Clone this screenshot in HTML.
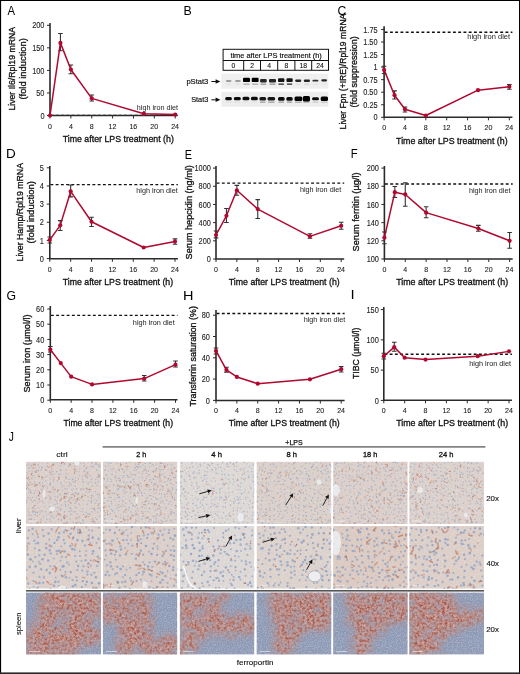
<!DOCTYPE html><html><head><meta charset="utf-8"><style>html,body{margin:0;padding:0;background:#fff;}svg{display:block;will-change:transform;}</style></head><body><svg width="520" height="674" viewBox="0 0 520 674" font-family='"Liberation Sans", sans-serif'>
<rect width="520" height="674" fill="#fff"/>
<defs>
<clipPath id="c00"><rect x="26.0" y="461.6" width="75.10" height="62.40"/></clipPath>
<clipPath id="c10"><rect x="26.0" y="526.0" width="75.10" height="62.70"/></clipPath>
<clipPath id="c20"><rect x="26.0" y="592.4" width="75.10" height="62.20"/></clipPath>
<clipPath id="c01"><rect x="102.8" y="461.6" width="74.50" height="62.40"/></clipPath>
<clipPath id="c11"><rect x="102.8" y="526.0" width="74.50" height="62.70"/></clipPath>
<clipPath id="c21"><rect x="102.8" y="592.4" width="74.50" height="62.20"/></clipPath>
<clipPath id="c02"><rect x="179.8" y="461.6" width="74.60" height="62.40"/></clipPath>
<clipPath id="c12"><rect x="179.8" y="526.0" width="74.60" height="62.70"/></clipPath>
<clipPath id="c22"><rect x="179.8" y="592.4" width="74.60" height="62.20"/></clipPath>
<clipPath id="c03"><rect x="256.5" y="461.6" width="74.90" height="62.40"/></clipPath>
<clipPath id="c13"><rect x="256.5" y="526.0" width="74.90" height="62.70"/></clipPath>
<clipPath id="c23"><rect x="256.5" y="592.4" width="74.90" height="62.20"/></clipPath>
<clipPath id="c04"><rect x="333.1" y="461.6" width="74.60" height="62.40"/></clipPath>
<clipPath id="c14"><rect x="333.1" y="526.0" width="74.60" height="62.70"/></clipPath>
<clipPath id="c24"><rect x="333.1" y="592.4" width="74.60" height="62.20"/></clipPath>
<clipPath id="c05"><rect x="409.2" y="461.6" width="74.80" height="62.40"/></clipPath>
<clipPath id="c15"><rect x="409.2" y="526.0" width="74.80" height="62.70"/></clipPath>
<clipPath id="c25"><rect x="409.2" y="592.4" width="74.80" height="62.20"/></clipPath>
<filter id="lnoise" x="0" y="0" width="1" height="1" filterUnits="objectBoundingBox"><feTurbulence type="fractalNoise" baseFrequency="0.6" numOctaves="2" seed="7"/><feColorMatrix type="matrix" values="0 0 0 0 0.72  0 0 0 0 0.45  0 0 0 0 0.38  1.4 0 0 0 -0.55"/><feComposite in2="SourceGraphic" operator="in"/></filter>
<filter id="lnoise2" x="0" y="0" width="1" height="1" filterUnits="objectBoundingBox"><feTurbulence type="fractalNoise" baseFrequency="0.5" numOctaves="1" seed="11"/><feColorMatrix type="matrix" values="0 0 0 0 1  0 0 0 0 1  0 0 0 0 1  0 1.6 0 0 -0.75"/><feComposite in2="SourceGraphic" operator="in"/></filter>
<filter id="sr0" x="26.0" y="592.4" width="75.10" height="62.20" filterUnits="userSpaceOnUse" color-interpolation-filters="sRGB"><feTurbulence type="fractalNoise" baseFrequency="0.09" numOctaves="2" seed="80" result="dn"/><feDisplacementMap in="SourceAlpha" in2="dn" scale="18" xChannelSelector="R" yChannelSelector="G" result="disp"/><feGaussianBlur in="disp" stdDeviation="4.0" result="m0"/><feTurbulence type="fractalNoise" baseFrequency="0.14" numOctaves="2" seed="90" result="lf"/><feColorMatrix in="lf" type="matrix" values="0 0 0 0 0  0 0 0 0 0  0 0 0 0 0  0 0 1.5 0 0.0" result="lfa"/><feComposite in="m0" in2="lfa" operator="in" result="m"/><feTurbulence type="fractalNoise" baseFrequency="0.4" numOctaves="2" seed="20" result="t"/><feColorMatrix in="t" type="matrix" values="0 0 0 0 0.62  0 0 0 0 0.28  0 0 0 0 0.21  2.6 0 0 0 -1.02" result="tn"/><feComposite in="tn" in2="m" operator="in" result="r"/><feTurbulence type="fractalNoise" baseFrequency="0.3" numOctaves="2" seed="30" result="t3"/><feColorMatrix in="t3" type="matrix" values="0 0 0 0 0.76  0 0 0 0 0.50  0 0 0 0 0.44  2.4 0 0 0 -0.95" result="tn3"/><feComposite in="tn3" in2="m" operator="in" result="r3"/><feTurbulence type="fractalNoise" baseFrequency="0.45" numOctaves="2" seed="40" result="t2"/><feColorMatrix in="t2" type="matrix" values="0 0 0 0 0.88  0 0 0 0 0.84  0 0 0 0 0.86  0 2.2 0 0 -1.25" result="w"/><feComposite in="w" in2="m" operator="in" result="w2"/><feColorMatrix in="m" type="matrix" values="0 0 0 0 0.82  0 0 0 0 0.63  0 0 0 0 0.59  0 0 0 0.85 0" result="base"/><feMerge><feMergeNode in="base"/><feMergeNode in="r3"/><feMergeNode in="r"/><feMergeNode in="w2"/></feMerge></filter>
<filter id="sb0" x="26.0" y="592.4" width="75.10" height="62.20" filterUnits="userSpaceOnUse" color-interpolation-filters="sRGB"><feTurbulence type="fractalNoise" baseFrequency="0.8" numOctaves="2" seed="60" result="t"/><feColorMatrix in="t" type="matrix" values="0 0 0 0 0.70  0 0 0 0 0.72  0 0 0 0 0.80  3.2 0 0 0 -1.25"/></filter>
<filter id="sr1" x="102.8" y="592.4" width="74.50" height="62.20" filterUnits="userSpaceOnUse" color-interpolation-filters="sRGB"><feTurbulence type="fractalNoise" baseFrequency="0.09" numOctaves="2" seed="81" result="dn"/><feDisplacementMap in="SourceAlpha" in2="dn" scale="18" xChannelSelector="R" yChannelSelector="G" result="disp"/><feGaussianBlur in="disp" stdDeviation="4.0" result="m0"/><feTurbulence type="fractalNoise" baseFrequency="0.14" numOctaves="2" seed="91" result="lf"/><feColorMatrix in="lf" type="matrix" values="0 0 0 0 0  0 0 0 0 0  0 0 0 0 0  0 0 1.5 0 0.0" result="lfa"/><feComposite in="m0" in2="lfa" operator="in" result="m"/><feTurbulence type="fractalNoise" baseFrequency="0.4" numOctaves="2" seed="21" result="t"/><feColorMatrix in="t" type="matrix" values="0 0 0 0 0.62  0 0 0 0 0.28  0 0 0 0 0.21  2.6 0 0 0 -1.02" result="tn"/><feComposite in="tn" in2="m" operator="in" result="r"/><feTurbulence type="fractalNoise" baseFrequency="0.3" numOctaves="2" seed="31" result="t3"/><feColorMatrix in="t3" type="matrix" values="0 0 0 0 0.76  0 0 0 0 0.50  0 0 0 0 0.44  2.4 0 0 0 -0.95" result="tn3"/><feComposite in="tn3" in2="m" operator="in" result="r3"/><feTurbulence type="fractalNoise" baseFrequency="0.45" numOctaves="2" seed="41" result="t2"/><feColorMatrix in="t2" type="matrix" values="0 0 0 0 0.88  0 0 0 0 0.84  0 0 0 0 0.86  0 2.2 0 0 -1.25" result="w"/><feComposite in="w" in2="m" operator="in" result="w2"/><feColorMatrix in="m" type="matrix" values="0 0 0 0 0.82  0 0 0 0 0.63  0 0 0 0 0.59  0 0 0 0.85 0" result="base"/><feMerge><feMergeNode in="base"/><feMergeNode in="r3"/><feMergeNode in="r"/><feMergeNode in="w2"/></feMerge></filter>
<filter id="sb1" x="102.8" y="592.4" width="74.50" height="62.20" filterUnits="userSpaceOnUse" color-interpolation-filters="sRGB"><feTurbulence type="fractalNoise" baseFrequency="0.8" numOctaves="2" seed="61" result="t"/><feColorMatrix in="t" type="matrix" values="0 0 0 0 0.70  0 0 0 0 0.72  0 0 0 0 0.80  3.2 0 0 0 -1.25"/></filter>
<filter id="sr2" x="179.8" y="592.4" width="74.60" height="62.20" filterUnits="userSpaceOnUse" color-interpolation-filters="sRGB"><feTurbulence type="fractalNoise" baseFrequency="0.09" numOctaves="2" seed="82" result="dn"/><feDisplacementMap in="SourceAlpha" in2="dn" scale="18" xChannelSelector="R" yChannelSelector="G" result="disp"/><feGaussianBlur in="disp" stdDeviation="4.0" result="m0"/><feTurbulence type="fractalNoise" baseFrequency="0.14" numOctaves="2" seed="92" result="lf"/><feColorMatrix in="lf" type="matrix" values="0 0 0 0 0  0 0 0 0 0  0 0 0 0 0  0 0 1.5 0 0.0" result="lfa"/><feComposite in="m0" in2="lfa" operator="in" result="m"/><feTurbulence type="fractalNoise" baseFrequency="0.4" numOctaves="2" seed="22" result="t"/><feColorMatrix in="t" type="matrix" values="0 0 0 0 0.62  0 0 0 0 0.28  0 0 0 0 0.21  2.6 0 0 0 -1.02" result="tn"/><feComposite in="tn" in2="m" operator="in" result="r"/><feTurbulence type="fractalNoise" baseFrequency="0.3" numOctaves="2" seed="32" result="t3"/><feColorMatrix in="t3" type="matrix" values="0 0 0 0 0.76  0 0 0 0 0.50  0 0 0 0 0.44  2.4 0 0 0 -0.95" result="tn3"/><feComposite in="tn3" in2="m" operator="in" result="r3"/><feTurbulence type="fractalNoise" baseFrequency="0.45" numOctaves="2" seed="42" result="t2"/><feColorMatrix in="t2" type="matrix" values="0 0 0 0 0.88  0 0 0 0 0.84  0 0 0 0 0.86  0 2.2 0 0 -1.25" result="w"/><feComposite in="w" in2="m" operator="in" result="w2"/><feColorMatrix in="m" type="matrix" values="0 0 0 0 0.82  0 0 0 0 0.63  0 0 0 0 0.59  0 0 0 0.85 0" result="base"/><feMerge><feMergeNode in="base"/><feMergeNode in="r3"/><feMergeNode in="r"/><feMergeNode in="w2"/></feMerge></filter>
<filter id="sb2" x="179.8" y="592.4" width="74.60" height="62.20" filterUnits="userSpaceOnUse" color-interpolation-filters="sRGB"><feTurbulence type="fractalNoise" baseFrequency="0.8" numOctaves="2" seed="62" result="t"/><feColorMatrix in="t" type="matrix" values="0 0 0 0 0.70  0 0 0 0 0.72  0 0 0 0 0.80  3.2 0 0 0 -1.25"/></filter>
<filter id="sr3" x="256.5" y="592.4" width="74.90" height="62.20" filterUnits="userSpaceOnUse" color-interpolation-filters="sRGB"><feTurbulence type="fractalNoise" baseFrequency="0.09" numOctaves="2" seed="83" result="dn"/><feDisplacementMap in="SourceAlpha" in2="dn" scale="18" xChannelSelector="R" yChannelSelector="G" result="disp"/><feGaussianBlur in="disp" stdDeviation="4.0" result="m0"/><feTurbulence type="fractalNoise" baseFrequency="0.14" numOctaves="2" seed="93" result="lf"/><feColorMatrix in="lf" type="matrix" values="0 0 0 0 0  0 0 0 0 0  0 0 0 0 0  0 0 1.5 0 0.0" result="lfa"/><feComposite in="m0" in2="lfa" operator="in" result="m"/><feTurbulence type="fractalNoise" baseFrequency="0.4" numOctaves="2" seed="23" result="t"/><feColorMatrix in="t" type="matrix" values="0 0 0 0 0.62  0 0 0 0 0.28  0 0 0 0 0.21  2.6 0 0 0 -1.02" result="tn"/><feComposite in="tn" in2="m" operator="in" result="r"/><feTurbulence type="fractalNoise" baseFrequency="0.3" numOctaves="2" seed="33" result="t3"/><feColorMatrix in="t3" type="matrix" values="0 0 0 0 0.76  0 0 0 0 0.50  0 0 0 0 0.44  2.4 0 0 0 -0.95" result="tn3"/><feComposite in="tn3" in2="m" operator="in" result="r3"/><feTurbulence type="fractalNoise" baseFrequency="0.45" numOctaves="2" seed="43" result="t2"/><feColorMatrix in="t2" type="matrix" values="0 0 0 0 0.88  0 0 0 0 0.84  0 0 0 0 0.86  0 2.2 0 0 -1.25" result="w"/><feComposite in="w" in2="m" operator="in" result="w2"/><feColorMatrix in="m" type="matrix" values="0 0 0 0 0.82  0 0 0 0 0.63  0 0 0 0 0.59  0 0 0 0.85 0" result="base"/><feMerge><feMergeNode in="base"/><feMergeNode in="r3"/><feMergeNode in="r"/><feMergeNode in="w2"/></feMerge></filter>
<filter id="sb3" x="256.5" y="592.4" width="74.90" height="62.20" filterUnits="userSpaceOnUse" color-interpolation-filters="sRGB"><feTurbulence type="fractalNoise" baseFrequency="0.8" numOctaves="2" seed="63" result="t"/><feColorMatrix in="t" type="matrix" values="0 0 0 0 0.70  0 0 0 0 0.72  0 0 0 0 0.80  3.2 0 0 0 -1.25"/></filter>
<filter id="sr4" x="333.1" y="592.4" width="74.60" height="62.20" filterUnits="userSpaceOnUse" color-interpolation-filters="sRGB"><feTurbulence type="fractalNoise" baseFrequency="0.09" numOctaves="2" seed="84" result="dn"/><feDisplacementMap in="SourceAlpha" in2="dn" scale="18" xChannelSelector="R" yChannelSelector="G" result="disp"/><feGaussianBlur in="disp" stdDeviation="4.0" result="m0"/><feTurbulence type="fractalNoise" baseFrequency="0.14" numOctaves="2" seed="94" result="lf"/><feColorMatrix in="lf" type="matrix" values="0 0 0 0 0  0 0 0 0 0  0 0 0 0 0  0 0 1.5 0 0.0" result="lfa"/><feComposite in="m0" in2="lfa" operator="in" result="m"/><feTurbulence type="fractalNoise" baseFrequency="0.4" numOctaves="2" seed="24" result="t"/><feColorMatrix in="t" type="matrix" values="0 0 0 0 0.62  0 0 0 0 0.28  0 0 0 0 0.21  2.6 0 0 0 -1.02" result="tn"/><feComposite in="tn" in2="m" operator="in" result="r"/><feTurbulence type="fractalNoise" baseFrequency="0.3" numOctaves="2" seed="34" result="t3"/><feColorMatrix in="t3" type="matrix" values="0 0 0 0 0.76  0 0 0 0 0.50  0 0 0 0 0.44  2.4 0 0 0 -0.95" result="tn3"/><feComposite in="tn3" in2="m" operator="in" result="r3"/><feTurbulence type="fractalNoise" baseFrequency="0.45" numOctaves="2" seed="44" result="t2"/><feColorMatrix in="t2" type="matrix" values="0 0 0 0 0.88  0 0 0 0 0.84  0 0 0 0 0.86  0 2.2 0 0 -1.25" result="w"/><feComposite in="w" in2="m" operator="in" result="w2"/><feColorMatrix in="m" type="matrix" values="0 0 0 0 0.82  0 0 0 0 0.63  0 0 0 0 0.59  0 0 0 0.85 0" result="base"/><feMerge><feMergeNode in="base"/><feMergeNode in="r3"/><feMergeNode in="r"/><feMergeNode in="w2"/></feMerge></filter>
<filter id="sb4" x="333.1" y="592.4" width="74.60" height="62.20" filterUnits="userSpaceOnUse" color-interpolation-filters="sRGB"><feTurbulence type="fractalNoise" baseFrequency="0.8" numOctaves="2" seed="64" result="t"/><feColorMatrix in="t" type="matrix" values="0 0 0 0 0.70  0 0 0 0 0.72  0 0 0 0 0.80  3.2 0 0 0 -1.25"/></filter>
<filter id="sr5" x="409.2" y="592.4" width="74.80" height="62.20" filterUnits="userSpaceOnUse" color-interpolation-filters="sRGB"><feTurbulence type="fractalNoise" baseFrequency="0.09" numOctaves="2" seed="85" result="dn"/><feDisplacementMap in="SourceAlpha" in2="dn" scale="18" xChannelSelector="R" yChannelSelector="G" result="disp"/><feGaussianBlur in="disp" stdDeviation="4.0" result="m0"/><feTurbulence type="fractalNoise" baseFrequency="0.14" numOctaves="2" seed="95" result="lf"/><feColorMatrix in="lf" type="matrix" values="0 0 0 0 0  0 0 0 0 0  0 0 0 0 0  0 0 1.5 0 0.0" result="lfa"/><feComposite in="m0" in2="lfa" operator="in" result="m"/><feTurbulence type="fractalNoise" baseFrequency="0.4" numOctaves="2" seed="25" result="t"/><feColorMatrix in="t" type="matrix" values="0 0 0 0 0.62  0 0 0 0 0.28  0 0 0 0 0.21  2.6 0 0 0 -1.02" result="tn"/><feComposite in="tn" in2="m" operator="in" result="r"/><feTurbulence type="fractalNoise" baseFrequency="0.3" numOctaves="2" seed="35" result="t3"/><feColorMatrix in="t3" type="matrix" values="0 0 0 0 0.76  0 0 0 0 0.50  0 0 0 0 0.44  2.4 0 0 0 -0.95" result="tn3"/><feComposite in="tn3" in2="m" operator="in" result="r3"/><feTurbulence type="fractalNoise" baseFrequency="0.45" numOctaves="2" seed="45" result="t2"/><feColorMatrix in="t2" type="matrix" values="0 0 0 0 0.88  0 0 0 0 0.84  0 0 0 0 0.86  0 2.2 0 0 -1.25" result="w"/><feComposite in="w" in2="m" operator="in" result="w2"/><feColorMatrix in="m" type="matrix" values="0 0 0 0 0.82  0 0 0 0 0.63  0 0 0 0 0.59  0 0 0 0.85 0" result="base"/><feMerge><feMergeNode in="base"/><feMergeNode in="r3"/><feMergeNode in="r"/><feMergeNode in="w2"/></feMerge></filter>
<filter id="sb5" x="409.2" y="592.4" width="74.80" height="62.20" filterUnits="userSpaceOnUse" color-interpolation-filters="sRGB"><feTurbulence type="fractalNoise" baseFrequency="0.8" numOctaves="2" seed="65" result="t"/><feColorMatrix in="t" type="matrix" values="0 0 0 0 0.70  0 0 0 0 0.72  0 0 0 0 0.80  3.2 0 0 0 -1.25"/></filter>
<filter id="bandblur" x="-10%" y="-30%" width="120%" height="160%"><feGaussianBlur stdDeviation="0.45"/></filter>
<filter id="soft2" x="-50%" y="-50%" width="200%" height="200%"><feGaussianBlur stdDeviation="0.5"/></filter>
<filter id="soft" x="-50%" y="-50%" width="200%" height="200%"><feGaussianBlur stdDeviation="0.4"/></filter>
<marker id="ah" viewBox="0 0 10 10" refX="8" refY="5" markerWidth="5" markerHeight="5" orient="auto"><path d="M0 1 L10 5 L0 9 Z" fill="#111"/></marker>
</defs>
<line x1="50.6" y1="115.40" x2="177.5" y2="115.40" stroke="#111" stroke-width="1.4" stroke-dasharray="2.9 2.35"/>
<path d="M50.00 23.00 V115.50 H177.50" fill="none" stroke="#2a2a2a" stroke-width="1.6"/>
<line x1="47.00" y1="115.50" x2="50.00" y2="115.50" stroke="#2a2a2a" stroke-width="1"/>
<text x="40.38" y="118.69" font-size="8.4" fill="#222" stroke="#222" stroke-width="0.1" textLength="4.11" lengthAdjust="spacingAndGlyphs">0</text>
<line x1="47.00" y1="92.95" x2="50.00" y2="92.95" stroke="#2a2a2a" stroke-width="1"/>
<text x="36.27" y="96.14" font-size="8.4" fill="#222" stroke="#222" stroke-width="0.1" textLength="8.22" lengthAdjust="spacingAndGlyphs">50</text>
<line x1="47.00" y1="70.40" x2="50.00" y2="70.40" stroke="#2a2a2a" stroke-width="1"/>
<text x="32.16" y="73.59" font-size="8.4" fill="#222" stroke="#222" stroke-width="0.1" textLength="12.33" lengthAdjust="spacingAndGlyphs">100</text>
<line x1="47.00" y1="47.85" x2="50.00" y2="47.85" stroke="#2a2a2a" stroke-width="1"/>
<text x="32.16" y="51.04" font-size="8.4" fill="#222" stroke="#222" stroke-width="0.1" textLength="12.33" lengthAdjust="spacingAndGlyphs">150</text>
<line x1="47.00" y1="25.30" x2="50.00" y2="25.30" stroke="#2a2a2a" stroke-width="1"/>
<text x="32.16" y="28.49" font-size="8.4" fill="#222" stroke="#222" stroke-width="0.1" textLength="12.33" lengthAdjust="spacingAndGlyphs">200</text>
<line x1="50.00" y1="115.50" x2="50.00" y2="118.50" stroke="#2a2a2a" stroke-width="1"/>
<text x="48.03" y="129.00" font-size="7.6" fill="#222" stroke="#222" stroke-width="0.1" textLength="3.93" lengthAdjust="spacingAndGlyphs">0</text>
<line x1="70.87" y1="115.50" x2="70.87" y2="118.50" stroke="#2a2a2a" stroke-width="1"/>
<text x="68.92" y="129.00" font-size="7.6" fill="#222" stroke="#222" stroke-width="0.1" textLength="3.93" lengthAdjust="spacingAndGlyphs">4</text>
<line x1="91.74" y1="115.50" x2="91.74" y2="118.50" stroke="#2a2a2a" stroke-width="1"/>
<text x="89.77" y="129.00" font-size="7.6" fill="#222" stroke="#222" stroke-width="0.1" textLength="3.93" lengthAdjust="spacingAndGlyphs">8</text>
<line x1="112.60" y1="115.50" x2="112.60" y2="118.50" stroke="#2a2a2a" stroke-width="1"/>
<text x="108.58" y="129.00" font-size="7.6" fill="#222" stroke="#222" stroke-width="0.1" textLength="7.86" lengthAdjust="spacingAndGlyphs">12</text>
<line x1="133.47" y1="115.50" x2="133.47" y2="118.50" stroke="#2a2a2a" stroke-width="1"/>
<text x="129.43" y="129.00" font-size="7.6" fill="#222" stroke="#222" stroke-width="0.1" textLength="7.86" lengthAdjust="spacingAndGlyphs">16</text>
<line x1="154.34" y1="115.50" x2="154.34" y2="118.50" stroke="#2a2a2a" stroke-width="1"/>
<text x="150.37" y="129.00" font-size="7.6" fill="#222" stroke="#222" stroke-width="0.1" textLength="7.86" lengthAdjust="spacingAndGlyphs">20</text>
<line x1="175.21" y1="115.50" x2="175.21" y2="118.50" stroke="#2a2a2a" stroke-width="1"/>
<text x="171.20" y="129.00" font-size="7.6" fill="#222" stroke="#222" stroke-width="0.1" textLength="7.86" lengthAdjust="spacingAndGlyphs">24</text>
<text x="62.70" y="141.70" font-size="9.3" fill="#111" stroke="#111" stroke-width="0.32" textLength="111.14" lengthAdjust="spacingAndGlyphs">Time after LPS treatment (h)</text>
<text x="136.80" y="109.90" font-size="6.5" fill="#2a2a2a" stroke="#2a2a2a" stroke-width="0.03" textLength="41.25" lengthAdjust="spacingAndGlyphs">high iron diet</text>
<path d="M58.13 33.50 H62.73 M60.43 33.50 V50.80 M58.13 50.80 H62.73" stroke="#333" stroke-width="1.1" fill="none"/>
<path d="M68.57 65.00 H73.17 M70.87 65.00 V73.70 M68.57 73.70 H73.17" stroke="#333" stroke-width="1.1" fill="none"/>
<path d="M89.44 95.00 H94.04 M91.74 95.00 V101.00 M89.44 101.00 H94.04" stroke="#333" stroke-width="1.1" fill="none"/>
<polyline points="50.00,115.50 60.43,42.89 70.87,69.50 91.74,98.36 143.91,113.70 175.21,114.60" fill="none" stroke="#b0082f" stroke-width="1.5" stroke-linejoin="round"/>
<circle cx="50.00" cy="115.50" r="2.1" fill="#b0082f"/>
<circle cx="60.43" cy="42.89" r="2.1" fill="#b0082f"/>
<circle cx="70.87" cy="69.50" r="2.1" fill="#b0082f"/>
<circle cx="91.74" cy="98.36" r="2.1" fill="#b0082f"/>
<circle cx="143.91" cy="113.70" r="2.1" fill="#b0082f"/>
<circle cx="175.21" cy="114.60" r="2.1" fill="#b0082f"/>
<text transform="translate(14.80,110.61) rotate(-90)" font-size="9.6" fill="#111" stroke="#111" stroke-width="0.32" textLength="83.63" lengthAdjust="spacingAndGlyphs">Liver Il6/Rpl19 mRNA</text>
<text transform="translate(26.00,99.58) rotate(-90)" font-size="9.6" fill="#111" stroke="#111" stroke-width="0.32" textLength="61.46" lengthAdjust="spacingAndGlyphs">(fold induction)</text>
<text x="7.48" y="14.90" font-size="12.8" fill="#000" stroke="#000" stroke-width="0" textLength="7.54" lengthAdjust="spacingAndGlyphs">A</text>
<line x1="384.7" y1="32.20" x2="512.4" y2="32.20" stroke="#111" stroke-width="1.4" stroke-dasharray="2.9 2.35"/>
<path d="M384.10 26.30 V117.30 H512.40" fill="none" stroke="#2a2a2a" stroke-width="1.6"/>
<line x1="381.10" y1="117.30" x2="384.10" y2="117.30" stroke="#2a2a2a" stroke-width="1"/>
<text x="373.48" y="120.49" font-size="8.4" fill="#222" stroke="#222" stroke-width="0.1" textLength="4.11" lengthAdjust="spacingAndGlyphs">0</text>
<line x1="381.10" y1="104.75" x2="384.10" y2="104.75" stroke="#2a2a2a" stroke-width="1"/>
<text x="363.22" y="107.94" font-size="8.4" fill="#222" stroke="#222" stroke-width="0.1" textLength="14.39" lengthAdjust="spacingAndGlyphs">0.25</text>
<line x1="381.10" y1="92.20" x2="384.10" y2="92.20" stroke="#2a2a2a" stroke-width="1"/>
<text x="363.20" y="95.39" font-size="8.4" fill="#222" stroke="#222" stroke-width="0.1" textLength="14.39" lengthAdjust="spacingAndGlyphs">0.50</text>
<line x1="381.10" y1="79.65" x2="384.10" y2="79.65" stroke="#2a2a2a" stroke-width="1"/>
<text x="363.22" y="82.84" font-size="8.4" fill="#222" stroke="#222" stroke-width="0.1" textLength="14.39" lengthAdjust="spacingAndGlyphs">0.75</text>
<line x1="381.10" y1="67.10" x2="384.10" y2="67.10" stroke="#2a2a2a" stroke-width="1"/>
<text x="373.55" y="70.29" font-size="8.4" fill="#222" stroke="#222" stroke-width="0.1" textLength="4.11" lengthAdjust="spacingAndGlyphs">1</text>
<line x1="381.10" y1="54.55" x2="384.10" y2="54.55" stroke="#2a2a2a" stroke-width="1"/>
<text x="363.22" y="57.74" font-size="8.4" fill="#222" stroke="#222" stroke-width="0.1" textLength="14.39" lengthAdjust="spacingAndGlyphs">1.25</text>
<line x1="381.10" y1="42.00" x2="384.10" y2="42.00" stroke="#2a2a2a" stroke-width="1"/>
<text x="363.20" y="45.19" font-size="8.4" fill="#222" stroke="#222" stroke-width="0.1" textLength="14.39" lengthAdjust="spacingAndGlyphs">1.50</text>
<line x1="381.10" y1="29.45" x2="384.10" y2="29.45" stroke="#2a2a2a" stroke-width="1"/>
<text x="363.22" y="32.64" font-size="8.4" fill="#222" stroke="#222" stroke-width="0.1" textLength="14.39" lengthAdjust="spacingAndGlyphs">1.75</text>
<line x1="384.10" y1="117.30" x2="384.10" y2="120.30" stroke="#2a2a2a" stroke-width="1"/>
<text x="382.13" y="130.00" font-size="7.6" fill="#222" stroke="#222" stroke-width="0.1" textLength="3.93" lengthAdjust="spacingAndGlyphs">0</text>
<line x1="404.97" y1="117.30" x2="404.97" y2="120.30" stroke="#2a2a2a" stroke-width="1"/>
<text x="403.02" y="130.00" font-size="7.6" fill="#222" stroke="#222" stroke-width="0.1" textLength="3.93" lengthAdjust="spacingAndGlyphs">4</text>
<line x1="425.84" y1="117.30" x2="425.84" y2="120.30" stroke="#2a2a2a" stroke-width="1"/>
<text x="423.87" y="130.00" font-size="7.6" fill="#222" stroke="#222" stroke-width="0.1" textLength="3.93" lengthAdjust="spacingAndGlyphs">8</text>
<line x1="446.70" y1="117.30" x2="446.70" y2="120.30" stroke="#2a2a2a" stroke-width="1"/>
<text x="442.68" y="130.00" font-size="7.6" fill="#222" stroke="#222" stroke-width="0.1" textLength="7.86" lengthAdjust="spacingAndGlyphs">12</text>
<line x1="467.57" y1="117.30" x2="467.57" y2="120.30" stroke="#2a2a2a" stroke-width="1"/>
<text x="463.53" y="130.00" font-size="7.6" fill="#222" stroke="#222" stroke-width="0.1" textLength="7.86" lengthAdjust="spacingAndGlyphs">16</text>
<line x1="488.44" y1="117.30" x2="488.44" y2="120.30" stroke="#2a2a2a" stroke-width="1"/>
<text x="484.47" y="130.00" font-size="7.6" fill="#222" stroke="#222" stroke-width="0.1" textLength="7.86" lengthAdjust="spacingAndGlyphs">20</text>
<line x1="509.31" y1="117.30" x2="509.31" y2="120.30" stroke="#2a2a2a" stroke-width="1"/>
<text x="505.30" y="130.00" font-size="7.6" fill="#222" stroke="#222" stroke-width="0.1" textLength="7.86" lengthAdjust="spacingAndGlyphs">24</text>
<text x="396.10" y="143.50" font-size="9.3" fill="#111" stroke="#111" stroke-width="0.32" textLength="111.54" lengthAdjust="spacingAndGlyphs">Time after LPS treatment (h)</text>
<text x="467.28" y="39.40" font-size="6.5" fill="#2a2a2a" stroke="#2a2a2a" stroke-width="0.03" textLength="42.77" lengthAdjust="spacingAndGlyphs">high iron diet</text>
<path d="M381.80 66.20 H386.40 M384.10 66.20 V73.50 M381.80 73.50 H386.40" stroke="#333" stroke-width="1.1" fill="none"/>
<path d="M392.23 90.90 H396.83 M394.53 90.90 V99.00 M392.23 99.00 H396.83" stroke="#333" stroke-width="1.1" fill="none"/>
<path d="M402.67 107.00 H407.27 M404.97 107.00 V112.00 M402.67 112.00 H407.27" stroke="#333" stroke-width="1.1" fill="none"/>
<path d="M507.01 84.50 H511.61 M509.31 84.50 V89.20 M507.01 89.20 H511.61" stroke="#333" stroke-width="1.1" fill="none"/>
<polyline points="384.10,69.91 394.53,95.21 404.97,109.27 425.84,115.49 478.01,90.19 509.31,86.68" fill="none" stroke="#b0082f" stroke-width="1.5" stroke-linejoin="round"/>
<circle cx="384.10" cy="69.91" r="2.1" fill="#b0082f"/>
<circle cx="394.53" cy="95.21" r="2.1" fill="#b0082f"/>
<circle cx="404.97" cy="109.27" r="2.1" fill="#b0082f"/>
<circle cx="425.84" cy="115.49" r="2.1" fill="#b0082f"/>
<circle cx="478.01" cy="90.19" r="2.1" fill="#b0082f"/>
<circle cx="509.31" cy="86.68" r="2.1" fill="#b0082f"/>
<text transform="translate(345.90,129.40) rotate(-90)" font-size="9.6" fill="#111" stroke="#111" stroke-width="0.32" textLength="115.72" lengthAdjust="spacingAndGlyphs">Liver Fpn (+IRE)/Rpl19 mRNA</text>
<text transform="translate(357.00,107.56) rotate(-90)" font-size="9.6" fill="#111" stroke="#111" stroke-width="0.32" textLength="71.41" lengthAdjust="spacingAndGlyphs">(fold suppression)</text>
<text x="337.38" y="15.00" font-size="12.8" fill="#000" stroke="#000" stroke-width="0" textLength="8.78" lengthAdjust="spacingAndGlyphs">C</text>
<line x1="50.4" y1="184.60" x2="177.9" y2="184.60" stroke="#111" stroke-width="1.4" stroke-dasharray="2.9 2.35"/>
<path d="M49.80 166.00 V258.80 H177.90" fill="none" stroke="#2a2a2a" stroke-width="1.6"/>
<line x1="46.80" y1="258.60" x2="49.80" y2="258.60" stroke="#2a2a2a" stroke-width="1"/>
<text x="39.78" y="261.79" font-size="8.4" fill="#222" stroke="#222" stroke-width="0.1" textLength="4.11" lengthAdjust="spacingAndGlyphs">0</text>
<line x1="46.80" y1="240.44" x2="49.80" y2="240.44" stroke="#2a2a2a" stroke-width="1"/>
<text x="39.85" y="243.63" font-size="8.4" fill="#222" stroke="#222" stroke-width="0.1" textLength="4.11" lengthAdjust="spacingAndGlyphs">1</text>
<line x1="46.80" y1="222.28" x2="49.80" y2="222.28" stroke="#2a2a2a" stroke-width="1"/>
<text x="39.86" y="225.47" font-size="8.4" fill="#222" stroke="#222" stroke-width="0.1" textLength="4.11" lengthAdjust="spacingAndGlyphs">2</text>
<line x1="46.80" y1="204.12" x2="49.80" y2="204.12" stroke="#2a2a2a" stroke-width="1"/>
<text x="39.81" y="207.31" font-size="8.4" fill="#222" stroke="#222" stroke-width="0.1" textLength="4.11" lengthAdjust="spacingAndGlyphs">3</text>
<line x1="46.80" y1="185.96" x2="49.80" y2="185.96" stroke="#2a2a2a" stroke-width="1"/>
<text x="39.71" y="189.15" font-size="8.4" fill="#222" stroke="#222" stroke-width="0.1" textLength="4.11" lengthAdjust="spacingAndGlyphs">4</text>
<line x1="46.80" y1="167.80" x2="49.80" y2="167.80" stroke="#2a2a2a" stroke-width="1"/>
<text x="39.80" y="170.99" font-size="8.4" fill="#222" stroke="#222" stroke-width="0.1" textLength="4.11" lengthAdjust="spacingAndGlyphs">5</text>
<line x1="49.80" y1="258.80" x2="49.80" y2="261.80" stroke="#2a2a2a" stroke-width="1"/>
<text x="47.83" y="271.50" font-size="7.6" fill="#222" stroke="#222" stroke-width="0.1" textLength="3.93" lengthAdjust="spacingAndGlyphs">0</text>
<line x1="70.67" y1="258.80" x2="70.67" y2="261.80" stroke="#2a2a2a" stroke-width="1"/>
<text x="68.72" y="271.50" font-size="7.6" fill="#222" stroke="#222" stroke-width="0.1" textLength="3.93" lengthAdjust="spacingAndGlyphs">4</text>
<line x1="91.54" y1="258.80" x2="91.54" y2="261.80" stroke="#2a2a2a" stroke-width="1"/>
<text x="89.57" y="271.50" font-size="7.6" fill="#222" stroke="#222" stroke-width="0.1" textLength="3.93" lengthAdjust="spacingAndGlyphs">8</text>
<line x1="112.40" y1="258.80" x2="112.40" y2="261.80" stroke="#2a2a2a" stroke-width="1"/>
<text x="108.38" y="271.50" font-size="7.6" fill="#222" stroke="#222" stroke-width="0.1" textLength="7.86" lengthAdjust="spacingAndGlyphs">12</text>
<line x1="133.27" y1="258.80" x2="133.27" y2="261.80" stroke="#2a2a2a" stroke-width="1"/>
<text x="129.23" y="271.50" font-size="7.6" fill="#222" stroke="#222" stroke-width="0.1" textLength="7.86" lengthAdjust="spacingAndGlyphs">16</text>
<line x1="154.14" y1="258.80" x2="154.14" y2="261.80" stroke="#2a2a2a" stroke-width="1"/>
<text x="150.17" y="271.50" font-size="7.6" fill="#222" stroke="#222" stroke-width="0.1" textLength="7.86" lengthAdjust="spacingAndGlyphs">20</text>
<line x1="175.01" y1="258.80" x2="175.01" y2="261.80" stroke="#2a2a2a" stroke-width="1"/>
<text x="171.00" y="271.50" font-size="7.6" fill="#222" stroke="#222" stroke-width="0.1" textLength="7.86" lengthAdjust="spacingAndGlyphs">24</text>
<text x="62.80" y="284.90" font-size="9.3" fill="#111" stroke="#111" stroke-width="0.32" textLength="110.34" lengthAdjust="spacingAndGlyphs">Time after LPS treatment (h)</text>
<text x="136.30" y="192.70" font-size="6.5" fill="#2a2a2a" stroke="#2a2a2a" stroke-width="0.03" textLength="41.45" lengthAdjust="spacingAndGlyphs">high iron diet</text>
<path d="M47.50 237.00 H52.10 M49.80 237.00 V243.00 M47.50 243.00 H52.10" stroke="#333" stroke-width="1.1" fill="none"/>
<path d="M57.93 220.60 H62.53 M60.23 220.60 V230.50 M57.93 230.50 H62.53" stroke="#333" stroke-width="1.1" fill="none"/>
<path d="M68.37 185.00 H72.97 M70.67 185.00 V196.90 M68.37 196.90 H72.97" stroke="#333" stroke-width="1.1" fill="none"/>
<path d="M89.24 217.30 H93.84 M91.54 217.30 V226.50 M89.24 226.50 H93.84" stroke="#333" stroke-width="1.1" fill="none"/>
<path d="M172.71 238.90 H177.31 M175.01 238.90 V244.30 M172.71 244.30 H177.31" stroke="#333" stroke-width="1.1" fill="none"/>
<polyline points="49.80,239.90 60.23,225.37 70.67,191.41 91.54,221.74 143.71,247.52 175.01,241.53" fill="none" stroke="#b0082f" stroke-width="1.5" stroke-linejoin="round"/>
<circle cx="49.80" cy="239.90" r="2.1" fill="#b0082f"/>
<circle cx="60.23" cy="225.37" r="2.1" fill="#b0082f"/>
<circle cx="70.67" cy="191.41" r="2.1" fill="#b0082f"/>
<circle cx="91.54" cy="221.74" r="2.1" fill="#b0082f"/>
<circle cx="143.71" cy="247.52" r="2.1" fill="#b0082f"/>
<circle cx="175.01" cy="241.53" r="2.1" fill="#b0082f"/>
<text transform="translate(22.80,261.42) rotate(-90)" font-size="9.6" fill="#111" stroke="#111" stroke-width="0.32" textLength="98.44" lengthAdjust="spacingAndGlyphs">Liver Hamp/Rpl19 mRNA</text>
<text transform="translate(33.80,243.39) rotate(-90)" font-size="9.6" fill="#111" stroke="#111" stroke-width="0.32" textLength="62.28" lengthAdjust="spacingAndGlyphs">(fold induction)</text>
<text x="5.99" y="158.40" font-size="12.8" fill="#000" stroke="#000" stroke-width="0" textLength="9.75" lengthAdjust="spacingAndGlyphs">D</text>
<line x1="216.6" y1="183.10" x2="344.2" y2="183.10" stroke="#111" stroke-width="1.4" stroke-dasharray="2.9 2.35"/>
<path d="M216.00 166.00 V259.00 H344.20" fill="none" stroke="#2a2a2a" stroke-width="1.6"/>
<line x1="213.00" y1="259.00" x2="216.00" y2="259.00" stroke="#2a2a2a" stroke-width="1"/>
<text x="206.78" y="262.19" font-size="8.4" fill="#222" stroke="#222" stroke-width="0.1" textLength="4.11" lengthAdjust="spacingAndGlyphs">0</text>
<line x1="213.00" y1="240.82" x2="216.00" y2="240.82" stroke="#2a2a2a" stroke-width="1"/>
<text x="198.56" y="244.01" font-size="8.4" fill="#222" stroke="#222" stroke-width="0.1" textLength="12.33" lengthAdjust="spacingAndGlyphs">200</text>
<line x1="213.00" y1="222.64" x2="216.00" y2="222.64" stroke="#2a2a2a" stroke-width="1"/>
<text x="198.56" y="225.83" font-size="8.4" fill="#222" stroke="#222" stroke-width="0.1" textLength="12.33" lengthAdjust="spacingAndGlyphs">400</text>
<line x1="213.00" y1="204.46" x2="216.00" y2="204.46" stroke="#2a2a2a" stroke-width="1"/>
<text x="198.56" y="207.65" font-size="8.4" fill="#222" stroke="#222" stroke-width="0.1" textLength="12.33" lengthAdjust="spacingAndGlyphs">600</text>
<line x1="213.00" y1="186.28" x2="216.00" y2="186.28" stroke="#2a2a2a" stroke-width="1"/>
<text x="198.56" y="189.47" font-size="8.4" fill="#222" stroke="#222" stroke-width="0.1" textLength="12.33" lengthAdjust="spacingAndGlyphs">800</text>
<line x1="213.00" y1="168.10" x2="216.00" y2="168.10" stroke="#2a2a2a" stroke-width="1"/>
<text x="194.44" y="171.29" font-size="8.4" fill="#222" stroke="#222" stroke-width="0.1" textLength="16.44" lengthAdjust="spacingAndGlyphs">1000</text>
<line x1="216.00" y1="259.00" x2="216.00" y2="262.00" stroke="#2a2a2a" stroke-width="1"/>
<text x="214.03" y="271.70" font-size="7.6" fill="#222" stroke="#222" stroke-width="0.1" textLength="3.93" lengthAdjust="spacingAndGlyphs">0</text>
<line x1="236.87" y1="259.00" x2="236.87" y2="262.00" stroke="#2a2a2a" stroke-width="1"/>
<text x="234.92" y="271.70" font-size="7.6" fill="#222" stroke="#222" stroke-width="0.1" textLength="3.93" lengthAdjust="spacingAndGlyphs">4</text>
<line x1="257.74" y1="259.00" x2="257.74" y2="262.00" stroke="#2a2a2a" stroke-width="1"/>
<text x="255.77" y="271.70" font-size="7.6" fill="#222" stroke="#222" stroke-width="0.1" textLength="3.93" lengthAdjust="spacingAndGlyphs">8</text>
<line x1="278.60" y1="259.00" x2="278.60" y2="262.00" stroke="#2a2a2a" stroke-width="1"/>
<text x="274.58" y="271.70" font-size="7.6" fill="#222" stroke="#222" stroke-width="0.1" textLength="7.86" lengthAdjust="spacingAndGlyphs">12</text>
<line x1="299.47" y1="259.00" x2="299.47" y2="262.00" stroke="#2a2a2a" stroke-width="1"/>
<text x="295.43" y="271.70" font-size="7.6" fill="#222" stroke="#222" stroke-width="0.1" textLength="7.86" lengthAdjust="spacingAndGlyphs">16</text>
<line x1="320.34" y1="259.00" x2="320.34" y2="262.00" stroke="#2a2a2a" stroke-width="1"/>
<text x="316.37" y="271.70" font-size="7.6" fill="#222" stroke="#222" stroke-width="0.1" textLength="7.86" lengthAdjust="spacingAndGlyphs">20</text>
<line x1="341.21" y1="259.00" x2="341.21" y2="262.00" stroke="#2a2a2a" stroke-width="1"/>
<text x="337.20" y="271.70" font-size="7.6" fill="#222" stroke="#222" stroke-width="0.1" textLength="7.86" lengthAdjust="spacingAndGlyphs">24</text>
<text x="228.80" y="284.60" font-size="9.3" fill="#111" stroke="#111" stroke-width="0.32" textLength="110.94" lengthAdjust="spacingAndGlyphs">Time after LPS treatment (h)</text>
<text x="299.90" y="192.30" font-size="6.5" fill="#2a2a2a" stroke="#2a2a2a" stroke-width="0.03" textLength="41.45" lengthAdjust="spacingAndGlyphs">high iron diet</text>
<path d="M213.70 231.00 H218.30 M216.00 231.00 V237.90 M213.70 237.90 H218.30" stroke="#333" stroke-width="1.1" fill="none"/>
<path d="M224.13 208.50 H228.73 M226.43 208.50 V222.50 M224.13 222.50 H228.73" stroke="#333" stroke-width="1.1" fill="none"/>
<path d="M234.57 185.40 H239.17 M236.87 185.40 V195.20 M234.57 195.20 H239.17" stroke="#333" stroke-width="1.1" fill="none"/>
<path d="M255.44 199.60 H260.04 M257.74 199.60 V218.50 M255.44 218.50 H260.04" stroke="#333" stroke-width="1.1" fill="none"/>
<path d="M307.61 233.80 H312.21 M309.91 233.80 V238.30 M307.61 238.30 H312.21" stroke="#333" stroke-width="1.1" fill="none"/>
<path d="M338.91 222.30 H343.51 M341.21 222.30 V229.20 M338.91 229.20 H343.51" stroke="#333" stroke-width="1.1" fill="none"/>
<polyline points="216.00,235.00 226.43,215.82 236.87,190.28 257.74,209.10 309.91,236.37 341.21,225.82" fill="none" stroke="#b0082f" stroke-width="1.5" stroke-linejoin="round"/>
<circle cx="216.00" cy="235.00" r="2.1" fill="#b0082f"/>
<circle cx="226.43" cy="215.82" r="2.1" fill="#b0082f"/>
<circle cx="236.87" cy="190.28" r="2.1" fill="#b0082f"/>
<circle cx="257.74" cy="209.10" r="2.1" fill="#b0082f"/>
<circle cx="309.91" cy="236.37" r="2.1" fill="#b0082f"/>
<circle cx="341.21" cy="225.82" r="2.1" fill="#b0082f"/>
<text transform="translate(191.70,259.41) rotate(-90)" font-size="9.6" fill="#111" stroke="#111" stroke-width="0.32" textLength="94.28" lengthAdjust="spacingAndGlyphs">Serum hepcidin (ng/ml)</text>
<text x="184.71" y="159.00" font-size="12.8" fill="#000" stroke="#000" stroke-width="0" textLength="7.26" lengthAdjust="spacingAndGlyphs">E</text>
<line x1="385.0" y1="184.00" x2="512.7" y2="184.00" stroke="#111" stroke-width="1.4" stroke-dasharray="2.9 2.35"/>
<path d="M384.40 166.00 V259.00 H512.70" fill="none" stroke="#2a2a2a" stroke-width="1.6"/>
<line x1="381.40" y1="259.00" x2="384.40" y2="259.00" stroke="#2a2a2a" stroke-width="1"/>
<text x="366.66" y="262.19" font-size="8.4" fill="#222" stroke="#222" stroke-width="0.1" textLength="12.33" lengthAdjust="spacingAndGlyphs">100</text>
<line x1="381.40" y1="240.82" x2="384.40" y2="240.82" stroke="#2a2a2a" stroke-width="1"/>
<text x="366.66" y="244.01" font-size="8.4" fill="#222" stroke="#222" stroke-width="0.1" textLength="12.33" lengthAdjust="spacingAndGlyphs">120</text>
<line x1="381.40" y1="222.64" x2="384.40" y2="222.64" stroke="#2a2a2a" stroke-width="1"/>
<text x="366.66" y="225.83" font-size="8.4" fill="#222" stroke="#222" stroke-width="0.1" textLength="12.33" lengthAdjust="spacingAndGlyphs">140</text>
<line x1="381.40" y1="204.46" x2="384.40" y2="204.46" stroke="#2a2a2a" stroke-width="1"/>
<text x="366.66" y="207.65" font-size="8.4" fill="#222" stroke="#222" stroke-width="0.1" textLength="12.33" lengthAdjust="spacingAndGlyphs">160</text>
<line x1="381.40" y1="186.28" x2="384.40" y2="186.28" stroke="#2a2a2a" stroke-width="1"/>
<text x="366.66" y="189.47" font-size="8.4" fill="#222" stroke="#222" stroke-width="0.1" textLength="12.33" lengthAdjust="spacingAndGlyphs">180</text>
<line x1="381.40" y1="168.10" x2="384.40" y2="168.10" stroke="#2a2a2a" stroke-width="1"/>
<text x="366.66" y="171.29" font-size="8.4" fill="#222" stroke="#222" stroke-width="0.1" textLength="12.33" lengthAdjust="spacingAndGlyphs">200</text>
<line x1="384.40" y1="259.00" x2="384.40" y2="262.00" stroke="#2a2a2a" stroke-width="1"/>
<text x="382.43" y="271.70" font-size="7.6" fill="#222" stroke="#222" stroke-width="0.1" textLength="3.93" lengthAdjust="spacingAndGlyphs">0</text>
<line x1="405.27" y1="259.00" x2="405.27" y2="262.00" stroke="#2a2a2a" stroke-width="1"/>
<text x="403.32" y="271.70" font-size="7.6" fill="#222" stroke="#222" stroke-width="0.1" textLength="3.93" lengthAdjust="spacingAndGlyphs">4</text>
<line x1="426.14" y1="259.00" x2="426.14" y2="262.00" stroke="#2a2a2a" stroke-width="1"/>
<text x="424.17" y="271.70" font-size="7.6" fill="#222" stroke="#222" stroke-width="0.1" textLength="3.93" lengthAdjust="spacingAndGlyphs">8</text>
<line x1="447.00" y1="259.00" x2="447.00" y2="262.00" stroke="#2a2a2a" stroke-width="1"/>
<text x="442.98" y="271.70" font-size="7.6" fill="#222" stroke="#222" stroke-width="0.1" textLength="7.86" lengthAdjust="spacingAndGlyphs">12</text>
<line x1="467.87" y1="259.00" x2="467.87" y2="262.00" stroke="#2a2a2a" stroke-width="1"/>
<text x="463.83" y="271.70" font-size="7.6" fill="#222" stroke="#222" stroke-width="0.1" textLength="7.86" lengthAdjust="spacingAndGlyphs">16</text>
<line x1="488.74" y1="259.00" x2="488.74" y2="262.00" stroke="#2a2a2a" stroke-width="1"/>
<text x="484.77" y="271.70" font-size="7.6" fill="#222" stroke="#222" stroke-width="0.1" textLength="7.86" lengthAdjust="spacingAndGlyphs">20</text>
<line x1="509.61" y1="259.00" x2="509.61" y2="262.00" stroke="#2a2a2a" stroke-width="1"/>
<text x="505.60" y="271.70" font-size="7.6" fill="#222" stroke="#222" stroke-width="0.1" textLength="7.86" lengthAdjust="spacingAndGlyphs">24</text>
<text x="396.20" y="284.60" font-size="9.3" fill="#111" stroke="#111" stroke-width="0.32" textLength="111.95" lengthAdjust="spacingAndGlyphs">Time after LPS treatment (h)</text>
<text x="468.90" y="192.50" font-size="6.5" fill="#2a2a2a" stroke="#2a2a2a" stroke-width="0.03" textLength="41.56" lengthAdjust="spacingAndGlyphs">high iron diet</text>
<path d="M382.10 232.00 H386.70 M384.40 232.00 V243.70 M382.10 243.70 H386.70" stroke="#333" stroke-width="1.1" fill="none"/>
<path d="M392.53 186.50 H397.13 M394.83 186.50 V197.50 M392.53 197.50 H397.13" stroke="#333" stroke-width="1.1" fill="none"/>
<path d="M402.97 182.70 H407.57 M405.27 182.70 V206.20 M402.97 206.20 H407.57" stroke="#333" stroke-width="1.1" fill="none"/>
<path d="M423.84 206.70 H428.44 M426.14 206.70 V217.70 M423.84 217.70 H428.44" stroke="#333" stroke-width="1.1" fill="none"/>
<path d="M476.01 225.40 H480.61 M478.31 225.40 V231.20 M476.01 231.20 H480.61" stroke="#333" stroke-width="1.1" fill="none"/>
<path d="M507.31 232.50 H511.91 M509.61 232.50 V248.30 M507.31 248.30 H511.91" stroke="#333" stroke-width="1.1" fill="none"/>
<polyline points="384.40,237.64 394.83,192.19 405.27,194.46 426.14,212.64 478.31,228.55 509.61,240.82" fill="none" stroke="#b0082f" stroke-width="1.5" stroke-linejoin="round"/>
<circle cx="384.40" cy="237.64" r="2.1" fill="#b0082f"/>
<circle cx="394.83" cy="192.19" r="2.1" fill="#b0082f"/>
<circle cx="405.27" cy="194.46" r="2.1" fill="#b0082f"/>
<circle cx="426.14" cy="212.64" r="2.1" fill="#b0082f"/>
<circle cx="478.31" cy="228.55" r="2.1" fill="#b0082f"/>
<circle cx="509.61" cy="240.82" r="2.1" fill="#b0082f"/>
<text transform="translate(359.30,251.52) rotate(-90)" font-size="9.6" fill="#111" stroke="#111" stroke-width="0.32" textLength="79.09" lengthAdjust="spacingAndGlyphs">Serum ferritin (µg/l)</text>
<text x="350.68" y="157.90" font-size="12.8" fill="#000" stroke="#000" stroke-width="0" textLength="6.87" lengthAdjust="spacingAndGlyphs">F</text>
<line x1="50.9" y1="315.40" x2="177.5" y2="315.40" stroke="#111" stroke-width="1.4" stroke-dasharray="2.9 2.35"/>
<path d="M50.30 306.00 V399.80 H177.50" fill="none" stroke="#2a2a2a" stroke-width="1.6"/>
<line x1="47.30" y1="400.20" x2="50.30" y2="400.20" stroke="#2a2a2a" stroke-width="1"/>
<text x="40.18" y="403.39" font-size="8.4" fill="#222" stroke="#222" stroke-width="0.1" textLength="4.11" lengthAdjust="spacingAndGlyphs">0</text>
<line x1="47.30" y1="385.00" x2="50.30" y2="385.00" stroke="#2a2a2a" stroke-width="1"/>
<text x="36.07" y="388.19" font-size="8.4" fill="#222" stroke="#222" stroke-width="0.1" textLength="8.22" lengthAdjust="spacingAndGlyphs">10</text>
<line x1="47.30" y1="369.80" x2="50.30" y2="369.80" stroke="#2a2a2a" stroke-width="1"/>
<text x="36.07" y="372.99" font-size="8.4" fill="#222" stroke="#222" stroke-width="0.1" textLength="8.22" lengthAdjust="spacingAndGlyphs">20</text>
<line x1="47.30" y1="354.60" x2="50.30" y2="354.60" stroke="#2a2a2a" stroke-width="1"/>
<text x="36.07" y="357.79" font-size="8.4" fill="#222" stroke="#222" stroke-width="0.1" textLength="8.22" lengthAdjust="spacingAndGlyphs">30</text>
<line x1="47.30" y1="339.40" x2="50.30" y2="339.40" stroke="#2a2a2a" stroke-width="1"/>
<text x="36.07" y="342.59" font-size="8.4" fill="#222" stroke="#222" stroke-width="0.1" textLength="8.22" lengthAdjust="spacingAndGlyphs">40</text>
<line x1="47.30" y1="324.20" x2="50.30" y2="324.20" stroke="#2a2a2a" stroke-width="1"/>
<text x="36.07" y="327.39" font-size="8.4" fill="#222" stroke="#222" stroke-width="0.1" textLength="8.22" lengthAdjust="spacingAndGlyphs">50</text>
<line x1="47.30" y1="309.00" x2="50.30" y2="309.00" stroke="#2a2a2a" stroke-width="1"/>
<text x="36.07" y="312.19" font-size="8.4" fill="#222" stroke="#222" stroke-width="0.1" textLength="8.22" lengthAdjust="spacingAndGlyphs">60</text>
<line x1="50.30" y1="399.80" x2="50.30" y2="402.80" stroke="#2a2a2a" stroke-width="1"/>
<text x="48.33" y="412.50" font-size="7.6" fill="#222" stroke="#222" stroke-width="0.1" textLength="3.93" lengthAdjust="spacingAndGlyphs">0</text>
<line x1="71.17" y1="399.80" x2="71.17" y2="402.80" stroke="#2a2a2a" stroke-width="1"/>
<text x="69.22" y="412.50" font-size="7.6" fill="#222" stroke="#222" stroke-width="0.1" textLength="3.93" lengthAdjust="spacingAndGlyphs">4</text>
<line x1="92.04" y1="399.80" x2="92.04" y2="402.80" stroke="#2a2a2a" stroke-width="1"/>
<text x="90.07" y="412.50" font-size="7.6" fill="#222" stroke="#222" stroke-width="0.1" textLength="3.93" lengthAdjust="spacingAndGlyphs">8</text>
<line x1="112.90" y1="399.80" x2="112.90" y2="402.80" stroke="#2a2a2a" stroke-width="1"/>
<text x="108.88" y="412.50" font-size="7.6" fill="#222" stroke="#222" stroke-width="0.1" textLength="7.86" lengthAdjust="spacingAndGlyphs">12</text>
<line x1="133.77" y1="399.80" x2="133.77" y2="402.80" stroke="#2a2a2a" stroke-width="1"/>
<text x="129.73" y="412.50" font-size="7.6" fill="#222" stroke="#222" stroke-width="0.1" textLength="7.86" lengthAdjust="spacingAndGlyphs">16</text>
<line x1="154.64" y1="399.80" x2="154.64" y2="402.80" stroke="#2a2a2a" stroke-width="1"/>
<text x="150.67" y="412.50" font-size="7.6" fill="#222" stroke="#222" stroke-width="0.1" textLength="7.86" lengthAdjust="spacingAndGlyphs">20</text>
<line x1="175.51" y1="399.80" x2="175.51" y2="402.80" stroke="#2a2a2a" stroke-width="1"/>
<text x="171.50" y="412.50" font-size="7.6" fill="#222" stroke="#222" stroke-width="0.1" textLength="7.86" lengthAdjust="spacingAndGlyphs">24</text>
<text x="63.51" y="425.80" font-size="9.3" fill="#111" stroke="#111" stroke-width="0.32" textLength="109.53" lengthAdjust="spacingAndGlyphs">Time after LPS treatment (h)</text>
<text x="132.89" y="325.00" font-size="6.5" fill="#2a2a2a" stroke="#2a2a2a" stroke-width="0.03" textLength="41.86" lengthAdjust="spacingAndGlyphs">high iron diet</text>
<path d="M48.00 346.50 H52.60 M50.30 346.50 V352.00 M48.00 352.00 H52.60" stroke="#333" stroke-width="1.1" fill="none"/>
<path d="M141.91 375.50 H146.51 M144.21 375.50 V381.00 M141.91 381.00 H146.51" stroke="#333" stroke-width="1.1" fill="none"/>
<path d="M173.21 361.00 H177.81 M175.51 361.00 V367.00 M173.21 367.00 H177.81" stroke="#333" stroke-width="1.1" fill="none"/>
<polyline points="50.30,349.58 60.73,363.11 71.17,376.64 92.04,384.39 144.21,378.62 175.51,364.63" fill="none" stroke="#b0082f" stroke-width="1.5" stroke-linejoin="round"/>
<circle cx="50.30" cy="349.58" r="2.1" fill="#b0082f"/>
<circle cx="60.73" cy="363.11" r="2.1" fill="#b0082f"/>
<circle cx="71.17" cy="376.64" r="2.1" fill="#b0082f"/>
<circle cx="92.04" cy="384.39" r="2.1" fill="#b0082f"/>
<circle cx="144.21" cy="378.62" r="2.1" fill="#b0082f"/>
<circle cx="175.51" cy="364.63" r="2.1" fill="#b0082f"/>
<text transform="translate(29.70,392.52) rotate(-90)" font-size="9.6" fill="#111" stroke="#111" stroke-width="0.32" textLength="78.08" lengthAdjust="spacingAndGlyphs">Serum iron (µmol/l)</text>
<text x="6.48" y="300.00" font-size="12.8" fill="#000" stroke="#000" stroke-width="0" textLength="9.53" lengthAdjust="spacingAndGlyphs">G</text>
<line x1="216.6" y1="313.50" x2="344.6" y2="313.50" stroke="#111" stroke-width="1.4" stroke-dasharray="2.9 2.35"/>
<path d="M216.00 310.00 V400.50 H344.60" fill="none" stroke="#2a2a2a" stroke-width="1.6"/>
<line x1="213.00" y1="400.40" x2="216.00" y2="400.40" stroke="#2a2a2a" stroke-width="1"/>
<text x="205.78" y="403.59" font-size="8.4" fill="#222" stroke="#222" stroke-width="0.1" textLength="4.11" lengthAdjust="spacingAndGlyphs">0</text>
<line x1="213.00" y1="379.10" x2="216.00" y2="379.10" stroke="#2a2a2a" stroke-width="1"/>
<text x="201.67" y="382.29" font-size="8.4" fill="#222" stroke="#222" stroke-width="0.1" textLength="8.22" lengthAdjust="spacingAndGlyphs">20</text>
<line x1="213.00" y1="357.80" x2="216.00" y2="357.80" stroke="#2a2a2a" stroke-width="1"/>
<text x="201.67" y="360.99" font-size="8.4" fill="#222" stroke="#222" stroke-width="0.1" textLength="8.22" lengthAdjust="spacingAndGlyphs">40</text>
<line x1="213.00" y1="336.50" x2="216.00" y2="336.50" stroke="#2a2a2a" stroke-width="1"/>
<text x="201.67" y="339.69" font-size="8.4" fill="#222" stroke="#222" stroke-width="0.1" textLength="8.22" lengthAdjust="spacingAndGlyphs">60</text>
<line x1="213.00" y1="315.20" x2="216.00" y2="315.20" stroke="#2a2a2a" stroke-width="1"/>
<text x="201.67" y="318.39" font-size="8.4" fill="#222" stroke="#222" stroke-width="0.1" textLength="8.22" lengthAdjust="spacingAndGlyphs">80</text>
<line x1="216.00" y1="400.50" x2="216.00" y2="403.50" stroke="#2a2a2a" stroke-width="1"/>
<text x="214.03" y="413.20" font-size="7.6" fill="#222" stroke="#222" stroke-width="0.1" textLength="3.93" lengthAdjust="spacingAndGlyphs">0</text>
<line x1="236.87" y1="400.50" x2="236.87" y2="403.50" stroke="#2a2a2a" stroke-width="1"/>
<text x="234.92" y="413.20" font-size="7.6" fill="#222" stroke="#222" stroke-width="0.1" textLength="3.93" lengthAdjust="spacingAndGlyphs">4</text>
<line x1="257.74" y1="400.50" x2="257.74" y2="403.50" stroke="#2a2a2a" stroke-width="1"/>
<text x="255.77" y="413.20" font-size="7.6" fill="#222" stroke="#222" stroke-width="0.1" textLength="3.93" lengthAdjust="spacingAndGlyphs">8</text>
<line x1="278.60" y1="400.50" x2="278.60" y2="403.50" stroke="#2a2a2a" stroke-width="1"/>
<text x="274.58" y="413.20" font-size="7.6" fill="#222" stroke="#222" stroke-width="0.1" textLength="7.86" lengthAdjust="spacingAndGlyphs">12</text>
<line x1="299.47" y1="400.50" x2="299.47" y2="403.50" stroke="#2a2a2a" stroke-width="1"/>
<text x="295.43" y="413.20" font-size="7.6" fill="#222" stroke="#222" stroke-width="0.1" textLength="7.86" lengthAdjust="spacingAndGlyphs">16</text>
<line x1="320.34" y1="400.50" x2="320.34" y2="403.50" stroke="#2a2a2a" stroke-width="1"/>
<text x="316.37" y="413.20" font-size="7.6" fill="#222" stroke="#222" stroke-width="0.1" textLength="7.86" lengthAdjust="spacingAndGlyphs">20</text>
<line x1="341.21" y1="400.50" x2="341.21" y2="403.50" stroke="#2a2a2a" stroke-width="1"/>
<text x="337.20" y="413.20" font-size="7.6" fill="#222" stroke="#222" stroke-width="0.1" textLength="7.86" lengthAdjust="spacingAndGlyphs">24</text>
<text x="228.80" y="426.20" font-size="9.3" fill="#111" stroke="#111" stroke-width="0.32" textLength="110.94" lengthAdjust="spacingAndGlyphs">Time after LPS treatment (h)</text>
<text x="303.70" y="321.80" font-size="6.5" fill="#2a2a2a" stroke="#2a2a2a" stroke-width="0.03" textLength="41.56" lengthAdjust="spacingAndGlyphs">high iron diet</text>
<path d="M213.70 348.00 H218.30 M216.00 348.00 V354.00 M213.70 354.00 H218.30" stroke="#333" stroke-width="1.1" fill="none"/>
<path d="M224.13 367.30 H228.73 M226.43 367.30 V372.10 M224.13 372.10 H228.73" stroke="#333" stroke-width="1.1" fill="none"/>
<path d="M338.91 366.50 H343.51 M341.21 366.50 V372.00 M338.91 372.00 H343.51" stroke="#333" stroke-width="1.1" fill="none"/>
<polyline points="216.00,350.88 226.43,369.83 236.87,376.97 257.74,383.68 309.91,379.31 341.21,369.20" fill="none" stroke="#b0082f" stroke-width="1.5" stroke-linejoin="round"/>
<circle cx="216.00" cy="350.88" r="2.1" fill="#b0082f"/>
<circle cx="226.43" cy="369.83" r="2.1" fill="#b0082f"/>
<circle cx="236.87" cy="376.97" r="2.1" fill="#b0082f"/>
<circle cx="257.74" cy="383.68" r="2.1" fill="#b0082f"/>
<circle cx="309.91" cy="379.31" r="2.1" fill="#b0082f"/>
<circle cx="341.21" cy="369.20" r="2.1" fill="#b0082f"/>
<text transform="translate(196.00,406.60) rotate(-90)" font-size="9.6" fill="#111" stroke="#111" stroke-width="0.32" textLength="100.45" lengthAdjust="spacingAndGlyphs">Transferrin saturation (%)</text>
<text x="183.01" y="300.00" font-size="12.8" fill="#000" stroke="#000" stroke-width="0" textLength="10.47" lengthAdjust="spacingAndGlyphs">H</text>
<line x1="384.4" y1="354.20" x2="511.9" y2="354.20" stroke="#111" stroke-width="1.4" stroke-dasharray="2.9 2.35"/>
<path d="M383.80 307.10 V400.30 H511.90" fill="none" stroke="#2a2a2a" stroke-width="1.6"/>
<line x1="380.80" y1="400.40" x2="383.80" y2="400.40" stroke="#2a2a2a" stroke-width="1"/>
<text x="374.68" y="403.59" font-size="8.4" fill="#222" stroke="#222" stroke-width="0.1" textLength="4.11" lengthAdjust="spacingAndGlyphs">0</text>
<line x1="380.80" y1="370.13" x2="383.80" y2="370.13" stroke="#2a2a2a" stroke-width="1"/>
<text x="370.57" y="373.32" font-size="8.4" fill="#222" stroke="#222" stroke-width="0.1" textLength="8.22" lengthAdjust="spacingAndGlyphs">50</text>
<line x1="380.80" y1="339.87" x2="383.80" y2="339.87" stroke="#2a2a2a" stroke-width="1"/>
<text x="366.46" y="343.06" font-size="8.4" fill="#222" stroke="#222" stroke-width="0.1" textLength="12.33" lengthAdjust="spacingAndGlyphs">100</text>
<line x1="380.80" y1="309.60" x2="383.80" y2="309.60" stroke="#2a2a2a" stroke-width="1"/>
<text x="366.46" y="312.79" font-size="8.4" fill="#222" stroke="#222" stroke-width="0.1" textLength="12.33" lengthAdjust="spacingAndGlyphs">150</text>
<line x1="383.80" y1="400.30" x2="383.80" y2="403.30" stroke="#2a2a2a" stroke-width="1"/>
<text x="381.83" y="413.00" font-size="7.6" fill="#222" stroke="#222" stroke-width="0.1" textLength="3.93" lengthAdjust="spacingAndGlyphs">0</text>
<line x1="404.67" y1="400.30" x2="404.67" y2="403.30" stroke="#2a2a2a" stroke-width="1"/>
<text x="402.72" y="413.00" font-size="7.6" fill="#222" stroke="#222" stroke-width="0.1" textLength="3.93" lengthAdjust="spacingAndGlyphs">4</text>
<line x1="425.54" y1="400.30" x2="425.54" y2="403.30" stroke="#2a2a2a" stroke-width="1"/>
<text x="423.57" y="413.00" font-size="7.6" fill="#222" stroke="#222" stroke-width="0.1" textLength="3.93" lengthAdjust="spacingAndGlyphs">8</text>
<line x1="446.40" y1="400.30" x2="446.40" y2="403.30" stroke="#2a2a2a" stroke-width="1"/>
<text x="442.38" y="413.00" font-size="7.6" fill="#222" stroke="#222" stroke-width="0.1" textLength="7.86" lengthAdjust="spacingAndGlyphs">12</text>
<line x1="467.27" y1="400.30" x2="467.27" y2="403.30" stroke="#2a2a2a" stroke-width="1"/>
<text x="463.23" y="413.00" font-size="7.6" fill="#222" stroke="#222" stroke-width="0.1" textLength="7.86" lengthAdjust="spacingAndGlyphs">16</text>
<line x1="488.14" y1="400.30" x2="488.14" y2="403.30" stroke="#2a2a2a" stroke-width="1"/>
<text x="484.17" y="413.00" font-size="7.6" fill="#222" stroke="#222" stroke-width="0.1" textLength="7.86" lengthAdjust="spacingAndGlyphs">20</text>
<line x1="509.01" y1="400.30" x2="509.01" y2="403.30" stroke="#2a2a2a" stroke-width="1"/>
<text x="505.00" y="413.00" font-size="7.6" fill="#222" stroke="#222" stroke-width="0.1" textLength="7.86" lengthAdjust="spacingAndGlyphs">24</text>
<text x="396.20" y="426.20" font-size="9.3" fill="#111" stroke="#111" stroke-width="0.32" textLength="111.95" lengthAdjust="spacingAndGlyphs">Time after LPS treatment (h)</text>
<text x="469.29" y="366.30" font-size="6.5" fill="#2a2a2a" stroke="#2a2a2a" stroke-width="0.03" textLength="41.76" lengthAdjust="spacingAndGlyphs">high iron diet</text>
<path d="M381.50 353.30 H386.10 M383.80 353.30 V359.00 M381.50 359.00 H386.10" stroke="#333" stroke-width="1.1" fill="none"/>
<path d="M391.93 342.30 H396.53 M394.23 342.30 V351.30 M391.93 351.30 H396.53" stroke="#333" stroke-width="1.1" fill="none"/>
<polyline points="383.80,356.21 394.23,347.13 404.67,357.72 425.54,359.54 477.71,356.21 509.01,351.37" fill="none" stroke="#b0082f" stroke-width="1.5" stroke-linejoin="round"/>
<circle cx="383.80" cy="356.21" r="2.1" fill="#b0082f"/>
<circle cx="394.23" cy="347.13" r="2.1" fill="#b0082f"/>
<circle cx="404.67" cy="357.72" r="2.1" fill="#b0082f"/>
<circle cx="425.54" cy="359.54" r="2.1" fill="#b0082f"/>
<circle cx="477.71" cy="356.21" r="2.1" fill="#b0082f"/>
<circle cx="509.01" cy="351.37" r="2.1" fill="#b0082f"/>
<text transform="translate(359.10,379.00) rotate(-90)" font-size="9.6" fill="#111" stroke="#111" stroke-width="0.32" textLength="51.44" lengthAdjust="spacingAndGlyphs">TIBC (µmol/l)</text>
<text x="350.51" y="299.40" font-size="12.8" fill="#000" stroke="#000" stroke-width="0" textLength="4.17" lengthAdjust="spacingAndGlyphs">I</text>
<g stroke="#111" stroke-width="1" fill="none">
<rect x="223.1" y="49.3" width="105.4" height="21.0"/>
<line x1="223.1" y1="60.5" x2="328.5" y2="60.5"/>
<line x1="243.7" y1="60.5" x2="243.7" y2="70.3"/>
<line x1="260.5" y1="60.5" x2="260.5" y2="70.3"/>
<line x1="277.7" y1="60.5" x2="277.7" y2="70.3"/>
<line x1="294.9" y1="60.5" x2="294.9" y2="70.3"/>
<line x1="311.7" y1="60.5" x2="311.7" y2="70.3"/>
</g>
<text x="230.39" y="57.50" font-size="7.6" fill="#111" stroke="#111" stroke-width="0.18" textLength="91.47" lengthAdjust="spacingAndGlyphs">time after LPS treatment (h)</text>
<text x="231.50" y="67.90" font-size="7.2" fill="#111" stroke="#111" stroke-width="0.1" textLength="3.80" lengthAdjust="spacingAndGlyphs">0</text>
<text x="250.20" y="67.90" font-size="7.2" fill="#111" stroke="#111" stroke-width="0.1" textLength="3.80" lengthAdjust="spacingAndGlyphs">2</text>
<text x="267.22" y="67.90" font-size="7.2" fill="#111" stroke="#111" stroke-width="0.1" textLength="3.80" lengthAdjust="spacingAndGlyphs">4</text>
<text x="284.40" y="67.90" font-size="7.2" fill="#111" stroke="#111" stroke-width="0.1" textLength="3.80" lengthAdjust="spacingAndGlyphs">8</text>
<text x="299.38" y="67.90" font-size="7.2" fill="#111" stroke="#111" stroke-width="0.1" textLength="7.61" lengthAdjust="spacingAndGlyphs">18</text>
<text x="316.22" y="67.90" font-size="7.2" fill="#111" stroke="#111" stroke-width="0.1" textLength="7.61" lengthAdjust="spacingAndGlyphs">24</text>
<rect x="221.4" y="73.6" width="107.0" height="15.1" fill="#efefef"/>
<rect x="221.4" y="91.9" width="107.0" height="14.8" fill="#ededed"/>
<g filter="url(#bandblur)">
<rect x="225.8" y="80.3" width="5.70" height="1.50" rx="1.2" fill="#000" fill-opacity="0.45"/>
<rect x="226.1" y="83.4" width="5.10" height="1.3" rx="0.6" fill="#000" fill-opacity="0.06"/>
<rect x="235" y="80.3" width="5.80" height="1.50" rx="1.2" fill="#000" fill-opacity="0.45"/>
<rect x="235.3" y="83.4" width="5.20" height="1.3" rx="0.6" fill="#000" fill-opacity="0.06"/>
<rect x="243" y="77.8" width="7.00" height="4.30" rx="1.2" fill="#000" fill-opacity="1.0"/>
<rect x="243.3" y="83.4" width="6.40" height="1.3" rx="0.6" fill="#000" fill-opacity="0.3"/>
<rect x="251.7" y="77.8" width="6.90" height="4.30" rx="1.2" fill="#000" fill-opacity="1.0"/>
<rect x="252.0" y="83.4" width="6.30" height="1.3" rx="0.6" fill="#000" fill-opacity="0.3"/>
<rect x="260.1" y="78.9" width="6.60" height="3.50" rx="1.2" fill="#000" fill-opacity="0.85"/>
<rect x="260.4" y="83.4" width="6.00" height="1.3" rx="0.6" fill="#000" fill-opacity="0.4"/>
<rect x="269" y="78.9" width="7.00" height="3.50" rx="1.2" fill="#000" fill-opacity="0.85"/>
<rect x="269.3" y="83.4" width="6.40" height="1.3" rx="0.6" fill="#000" fill-opacity="0.4"/>
<rect x="278" y="78.3" width="6.40" height="3.80" rx="1.2" fill="#000" fill-opacity="0.92"/>
<rect x="278.3" y="83.4" width="5.80" height="1.3" rx="0.6" fill="#000" fill-opacity="0.85"/>
<rect x="286.5" y="78.3" width="6.20" height="3.80" rx="1.2" fill="#000" fill-opacity="0.92"/>
<rect x="286.8" y="83.4" width="5.60" height="1.3" rx="0.6" fill="#000" fill-opacity="0.85"/>
<rect x="295.1" y="79.6" width="6.20" height="2.30" rx="1.2" fill="#000" fill-opacity="0.85"/>
<rect x="295.4" y="83.4" width="5.60" height="1.3" rx="0.6" fill="#000" fill-opacity="0.08"/>
<rect x="303.8" y="79.5" width="6.20" height="2.50" rx="1.2" fill="#000" fill-opacity="0.85"/>
<rect x="304.1" y="83.4" width="5.60" height="1.3" rx="0.6" fill="#000" fill-opacity="0.12"/>
<rect x="312.4" y="79.7" width="6.00" height="1.90" rx="1.2" fill="#000" fill-opacity="0.8"/>
<rect x="312.7" y="83.4" width="5.40" height="1.3" rx="0.6" fill="#000" fill-opacity="0.05"/>
<rect x="321.3" y="79.3" width="5.70" height="2.30" rx="1.2" fill="#000" fill-opacity="0.85"/>
<rect x="321.6" y="83.4" width="5.10" height="1.3" rx="0.6" fill="#000" fill-opacity="0.05"/>
<rect x="225.2" y="97.1" width="6.70" height="3.20" rx="1.5" fill="#000" fill-opacity="0.95"/>
<rect x="225.7" y="101.6" width="5.70" height="1.2" rx="0.6" fill="#000" fill-opacity="0.05"/>
<rect x="233.8" y="97.1" width="7.00" height="3.20" rx="1.5" fill="#000" fill-opacity="0.95"/>
<rect x="234.3" y="101.6" width="6.00" height="1.2" rx="0.6" fill="#000" fill-opacity="0.05"/>
<rect x="242.5" y="96.8" width="6.90" height="3.50" rx="1.5" fill="#000" fill-opacity="0.95"/>
<rect x="243.0" y="101.6" width="5.90" height="1.2" rx="0.6" fill="#000" fill-opacity="0.05"/>
<rect x="250.9" y="96.8" width="6.90" height="3.50" rx="1.5" fill="#000" fill-opacity="0.95"/>
<rect x="251.4" y="101.6" width="5.90" height="1.2" rx="0.6" fill="#000" fill-opacity="0.05"/>
<rect x="259.4" y="97.1" width="6.70" height="3.50" rx="1.5" fill="#000" fill-opacity="0.9"/>
<rect x="259.9" y="101.6" width="5.70" height="1.2" rx="0.6" fill="#000" fill-opacity="0.35"/>
<rect x="267.5" y="97.1" width="7.60" height="3.50" rx="1.5" fill="#000" fill-opacity="0.9"/>
<rect x="268.0" y="101.6" width="6.60" height="1.2" rx="0.6" fill="#000" fill-opacity="0.35"/>
<rect x="278" y="97.1" width="6.60" height="3.70" rx="1.5" fill="#000" fill-opacity="0.95"/>
<rect x="278.5" y="101.6" width="5.60" height="1.2" rx="0.6" fill="#000" fill-opacity="0.35"/>
<rect x="286.3" y="97.1" width="6.40" height="3.70" rx="1.5" fill="#000" fill-opacity="0.95"/>
<rect x="286.8" y="101.6" width="5.40" height="1.2" rx="0.6" fill="#000" fill-opacity="0.35"/>
<rect x="294.5" y="96.5" width="7.80" height="4.60" rx="1.5" fill="#000" fill-opacity="1.0"/>
<rect x="295.0" y="101.6" width="6.80" height="1.2" rx="0.6" fill="#000" fill-opacity="0.3"/>
<rect x="302.8" y="96.0" width="7.20" height="5.60" rx="1.5" fill="#000" fill-opacity="1.0"/>
<rect x="303.3" y="101.6" width="6.20" height="1.2" rx="0.6" fill="#000" fill-opacity="0.3"/>
<rect x="312" y="97.3" width="7.00" height="3.00" rx="1.5" fill="#000" fill-opacity="0.95"/>
<rect x="312.5" y="101.6" width="6.00" height="1.2" rx="0.6" fill="#000" fill-opacity="0.15"/>
<rect x="320.7" y="96.5" width="7.30" height="4.50" rx="1.5" fill="#000" fill-opacity="1.0"/>
<rect x="321.2" y="101.6" width="6.30" height="1.2" rx="0.6" fill="#000" fill-opacity="0.2"/>
</g>
<text x="186.41" y="84.40" font-size="7.6" fill="#111" stroke="#111" stroke-width="0.18" textLength="21.92" lengthAdjust="spacingAndGlyphs">pStat3</text>
<text x="191.17" y="102.30" font-size="7.6" fill="#111" stroke="#111" stroke-width="0.18" textLength="17.16" lengthAdjust="spacingAndGlyphs">Stat3</text>
<path d="M211.4 81.5 H216.5" stroke="#111" stroke-width="1"/>
<path d="M215.6 79.3 L220.4 81.5 L215.6 83.7 Z" fill="#111"/>
<path d="M211.4 99.8 H216.5" stroke="#111" stroke-width="1"/>
<path d="M215.6 97.6 L220.4 99.8 L215.6 102.0 Z" fill="#111"/>
<text x="183.58" y="15.00" font-size="12.8" fill="#000" stroke="#000" stroke-width="0" textLength="8.27" lengthAdjust="spacingAndGlyphs">B</text>
<g clip-path="url(#c00)">
<rect x="26.0" y="461.6" width="75.10" height="62.40" fill="#dcd2cd"/>
<rect x="26.0" y="461.6" width="75.10" height="62.40" fill="#fff" filter="url(#lnoise)" opacity="0.35"/>
<rect x="26.0" y="461.6" width="75.10" height="62.40" fill="#fff" filter="url(#lnoise2)" opacity="0.35"/>
<g fill="#90a8cc" filter="url(#soft)"><circle cx="28.9" cy="464.2" r="0.68" fill-opacity="0.65"/><circle cx="32.0" cy="464.3" r="0.63" fill-opacity="0.51"/><circle cx="35.1" cy="464.2" r="0.60" fill-opacity="0.63"/><circle cx="38.1" cy="464.8" r="0.87" fill-opacity="0.51"/><circle cx="47.6" cy="463.1" r="0.66" fill-opacity="0.63"/><circle cx="53.6" cy="463.4" r="0.67" fill-opacity="0.57"/><circle cx="57.3" cy="462.8" r="0.61" fill-opacity="0.75"/><circle cx="61.6" cy="462.5" r="0.90" fill-opacity="0.76"/><circle cx="64.4" cy="464.1" r="0.81" fill-opacity="0.78"/><circle cx="69.5" cy="464.0" r="0.69" fill-opacity="0.68"/><circle cx="73.3" cy="463.5" r="0.78" fill-opacity="0.51"/><circle cx="76.8" cy="463.2" r="0.65" fill-opacity="0.66"/><circle cx="80.2" cy="463.1" r="0.73" fill-opacity="0.65"/><circle cx="83.4" cy="463.1" r="0.75" fill-opacity="0.51"/><circle cx="92.2" cy="463.7" r="0.72" fill-opacity="0.55"/><circle cx="95.9" cy="464.3" r="0.76" fill-opacity="0.76"/><circle cx="98.2" cy="464.8" r="0.77" fill-opacity="0.64"/><circle cx="102.0" cy="464.8" r="0.60" fill-opacity="0.74"/><circle cx="29.0" cy="467.9" r="0.84" fill-opacity="0.66"/><circle cx="31.3" cy="465.8" r="0.86" fill-opacity="0.67"/><circle cx="35.3" cy="467.1" r="0.71" fill-opacity="0.60"/><circle cx="39.3" cy="467.5" r="0.74" fill-opacity="0.51"/><circle cx="41.7" cy="467.4" r="0.86" fill-opacity="0.74"/><circle cx="47.3" cy="466.4" r="0.85" fill-opacity="0.70"/><circle cx="60.4" cy="466.0" r="0.79" fill-opacity="0.60"/><circle cx="68.6" cy="466.2" r="0.68" fill-opacity="0.71"/><circle cx="71.7" cy="467.1" r="0.61" fill-opacity="0.62"/><circle cx="75.0" cy="466.0" r="0.87" fill-opacity="0.65"/><circle cx="80.0" cy="468.1" r="0.61" fill-opacity="0.51"/><circle cx="84.0" cy="466.1" r="0.81" fill-opacity="0.70"/><circle cx="86.2" cy="468.6" r="0.84" fill-opacity="0.65"/><circle cx="91.2" cy="466.8" r="0.77" fill-opacity="0.60"/><circle cx="93.1" cy="466.6" r="0.89" fill-opacity="0.76"/><circle cx="99.2" cy="466.6" r="0.88" fill-opacity="0.72"/><circle cx="101.1" cy="465.7" r="0.86" fill-opacity="0.51"/><circle cx="29.2" cy="471.1" r="0.65" fill-opacity="0.76"/><circle cx="32.2" cy="470.9" r="0.71" fill-opacity="0.60"/><circle cx="35.8" cy="470.7" r="0.66" fill-opacity="0.53"/><circle cx="38.3" cy="470.8" r="0.70" fill-opacity="0.76"/><circle cx="41.2" cy="470.0" r="0.70" fill-opacity="0.80"/><circle cx="45.9" cy="470.0" r="0.80" fill-opacity="0.75"/><circle cx="49.6" cy="472.0" r="0.81" fill-opacity="0.65"/><circle cx="53.0" cy="471.5" r="0.63" fill-opacity="0.55"/><circle cx="56.6" cy="471.6" r="0.78" fill-opacity="0.75"/><circle cx="60.7" cy="470.2" r="0.86" fill-opacity="0.68"/><circle cx="66.0" cy="469.8" r="0.77" fill-opacity="0.53"/><circle cx="76.8" cy="471.8" r="0.70" fill-opacity="0.68"/><circle cx="79.3" cy="471.1" r="0.67" fill-opacity="0.52"/><circle cx="84.5" cy="471.0" r="0.88" fill-opacity="0.64"/><circle cx="87.9" cy="471.8" r="0.60" fill-opacity="0.70"/><circle cx="96.8" cy="470.1" r="0.90" fill-opacity="0.63"/><circle cx="27.1" cy="475.3" r="0.63" fill-opacity="0.77"/><circle cx="32.9" cy="475.8" r="0.69" fill-opacity="0.58"/><circle cx="34.1" cy="475.0" r="0.61" fill-opacity="0.50"/><circle cx="38.3" cy="474.8" r="0.73" fill-opacity="0.59"/><circle cx="47.7" cy="475.9" r="0.63" fill-opacity="0.56"/><circle cx="51.5" cy="474.7" r="0.81" fill-opacity="0.70"/><circle cx="53.9" cy="474.0" r="0.67" fill-opacity="0.52"/><circle cx="58.9" cy="474.4" r="0.80" fill-opacity="0.69"/><circle cx="60.8" cy="474.0" r="0.70" fill-opacity="0.60"/><circle cx="66.0" cy="474.0" r="0.70" fill-opacity="0.66"/><circle cx="68.8" cy="473.8" r="0.61" fill-opacity="0.57"/><circle cx="74.7" cy="473.3" r="0.79" fill-opacity="0.59"/><circle cx="79.6" cy="475.6" r="0.65" fill-opacity="0.65"/><circle cx="82.1" cy="475.9" r="0.65" fill-opacity="0.73"/><circle cx="88.0" cy="474.0" r="0.63" fill-opacity="0.65"/><circle cx="90.1" cy="475.7" r="0.64" fill-opacity="0.77"/><circle cx="99.3" cy="475.4" r="0.87" fill-opacity="0.75"/><circle cx="102.4" cy="473.6" r="0.73" fill-opacity="0.55"/><circle cx="28.3" cy="477.5" r="0.62" fill-opacity="0.79"/><circle cx="31.7" cy="478.4" r="0.86" fill-opacity="0.64"/><circle cx="34.8" cy="477.5" r="0.61" fill-opacity="0.69"/><circle cx="39.2" cy="477.0" r="0.71" fill-opacity="0.54"/><circle cx="41.9" cy="479.2" r="0.72" fill-opacity="0.62"/><circle cx="45.6" cy="476.8" r="0.76" fill-opacity="0.65"/><circle cx="49.9" cy="478.8" r="0.82" fill-opacity="0.57"/><circle cx="53.7" cy="477.4" r="0.72" fill-opacity="0.67"/><circle cx="58.7" cy="477.6" r="0.79" fill-opacity="0.51"/><circle cx="66.0" cy="477.2" r="0.83" fill-opacity="0.76"/><circle cx="69.1" cy="479.3" r="0.71" fill-opacity="0.71"/><circle cx="72.5" cy="479.3" r="0.87" fill-opacity="0.79"/><circle cx="75.0" cy="477.5" r="0.67" fill-opacity="0.67"/><circle cx="78.3" cy="478.8" r="0.82" fill-opacity="0.60"/><circle cx="82.4" cy="478.9" r="0.61" fill-opacity="0.79"/><circle cx="87.4" cy="477.6" r="0.87" fill-opacity="0.79"/><circle cx="91.6" cy="479.3" r="0.80" fill-opacity="0.71"/><circle cx="95.7" cy="479.6" r="0.71" fill-opacity="0.74"/><circle cx="97.2" cy="477.7" r="0.64" fill-opacity="0.77"/><circle cx="100.7" cy="478.5" r="0.72" fill-opacity="0.54"/><circle cx="27.1" cy="482.7" r="0.60" fill-opacity="0.56"/><circle cx="30.1" cy="482.3" r="0.78" fill-opacity="0.75"/><circle cx="34.6" cy="482.1" r="0.68" fill-opacity="0.68"/><circle cx="39.5" cy="482.8" r="0.84" fill-opacity="0.79"/><circle cx="42.6" cy="483.0" r="0.83" fill-opacity="0.67"/><circle cx="45.7" cy="480.8" r="0.84" fill-opacity="0.54"/><circle cx="50.2" cy="483.3" r="0.83" fill-opacity="0.79"/><circle cx="53.8" cy="482.2" r="0.69" fill-opacity="0.65"/><circle cx="57.5" cy="480.5" r="0.73" fill-opacity="0.63"/><circle cx="60.9" cy="482.8" r="0.81" fill-opacity="0.65"/><circle cx="64.5" cy="481.1" r="0.60" fill-opacity="0.58"/><circle cx="69.7" cy="482.9" r="0.75" fill-opacity="0.80"/><circle cx="73.2" cy="481.7" r="0.82" fill-opacity="0.80"/><circle cx="75.0" cy="482.3" r="0.76" fill-opacity="0.61"/><circle cx="83.1" cy="481.7" r="0.86" fill-opacity="0.68"/><circle cx="88.2" cy="482.7" r="0.75" fill-opacity="0.72"/><circle cx="91.2" cy="482.3" r="0.72" fill-opacity="0.69"/><circle cx="95.7" cy="482.8" r="0.85" fill-opacity="0.73"/><circle cx="98.5" cy="481.5" r="0.68" fill-opacity="0.71"/><circle cx="102.0" cy="480.9" r="0.85" fill-opacity="0.65"/><circle cx="26.5" cy="485.7" r="0.82" fill-opacity="0.63"/><circle cx="32.0" cy="484.2" r="0.75" fill-opacity="0.78"/><circle cx="35.0" cy="486.2" r="0.78" fill-opacity="0.56"/><circle cx="40.1" cy="485.0" r="0.62" fill-opacity="0.75"/><circle cx="42.3" cy="485.7" r="0.82" fill-opacity="0.55"/><circle cx="47.0" cy="486.6" r="0.68" fill-opacity="0.68"/><circle cx="50.2" cy="484.7" r="0.84" fill-opacity="0.76"/><circle cx="52.9" cy="487.0" r="0.81" fill-opacity="0.75"/><circle cx="61.5" cy="485.1" r="0.73" fill-opacity="0.73"/><circle cx="63.9" cy="486.0" r="0.65" fill-opacity="0.79"/><circle cx="69.8" cy="486.3" r="0.78" fill-opacity="0.58"/><circle cx="71.2" cy="484.6" r="0.81" fill-opacity="0.61"/><circle cx="75.2" cy="486.3" r="0.82" fill-opacity="0.59"/><circle cx="83.3" cy="484.5" r="0.66" fill-opacity="0.52"/><circle cx="88.2" cy="484.8" r="0.61" fill-opacity="0.71"/><circle cx="92.1" cy="486.0" r="0.70" fill-opacity="0.75"/><circle cx="97.0" cy="485.4" r="0.75" fill-opacity="0.61"/><circle cx="101.1" cy="486.6" r="0.74" fill-opacity="0.67"/><circle cx="28.5" cy="488.8" r="0.78" fill-opacity="0.77"/><circle cx="30.2" cy="490.2" r="0.86" fill-opacity="0.60"/><circle cx="35.5" cy="490.6" r="0.72" fill-opacity="0.76"/><circle cx="37.9" cy="490.6" r="0.60" fill-opacity="0.54"/><circle cx="41.3" cy="489.0" r="0.64" fill-opacity="0.64"/><circle cx="47.6" cy="488.0" r="0.62" fill-opacity="0.75"/><circle cx="52.6" cy="488.1" r="0.61" fill-opacity="0.69"/><circle cx="58.0" cy="490.4" r="0.80" fill-opacity="0.62"/><circle cx="62.5" cy="489.8" r="0.67" fill-opacity="0.52"/><circle cx="65.1" cy="488.9" r="0.78" fill-opacity="0.67"/><circle cx="67.2" cy="488.9" r="0.72" fill-opacity="0.56"/><circle cx="72.0" cy="489.8" r="0.81" fill-opacity="0.72"/><circle cx="76.7" cy="488.6" r="0.89" fill-opacity="0.55"/><circle cx="80.7" cy="490.4" r="0.62" fill-opacity="0.53"/><circle cx="83.3" cy="489.0" r="0.90" fill-opacity="0.51"/><circle cx="86.9" cy="488.2" r="0.72" fill-opacity="0.71"/><circle cx="89.3" cy="489.4" r="0.63" fill-opacity="0.74"/><circle cx="102.5" cy="488.8" r="0.64" fill-opacity="0.74"/><circle cx="28.9" cy="492.5" r="0.73" fill-opacity="0.57"/><circle cx="31.0" cy="492.6" r="0.84" fill-opacity="0.79"/><circle cx="34.1" cy="493.5" r="0.73" fill-opacity="0.80"/><circle cx="39.9" cy="493.6" r="0.76" fill-opacity="0.77"/><circle cx="42.0" cy="492.0" r="0.71" fill-opacity="0.66"/><circle cx="50.3" cy="491.7" r="0.84" fill-opacity="0.70"/><circle cx="53.2" cy="492.6" r="0.70" fill-opacity="0.72"/><circle cx="57.5" cy="492.0" r="0.87" fill-opacity="0.60"/><circle cx="59.9" cy="494.5" r="0.74" fill-opacity="0.77"/><circle cx="66.2" cy="494.0" r="0.88" fill-opacity="0.78"/><circle cx="67.5" cy="493.1" r="0.77" fill-opacity="0.80"/><circle cx="72.9" cy="493.8" r="0.71" fill-opacity="0.78"/><circle cx="75.7" cy="492.9" r="0.89" fill-opacity="0.66"/><circle cx="78.6" cy="493.6" r="0.77" fill-opacity="0.77"/><circle cx="83.1" cy="493.7" r="0.62" fill-opacity="0.53"/><circle cx="86.4" cy="491.9" r="0.68" fill-opacity="0.69"/><circle cx="89.5" cy="491.8" r="0.86" fill-opacity="0.69"/><circle cx="95.5" cy="491.6" r="0.71" fill-opacity="0.75"/><circle cx="97.5" cy="494.2" r="0.78" fill-opacity="0.76"/><circle cx="101.6" cy="493.6" r="0.76" fill-opacity="0.78"/><circle cx="28.5" cy="497.7" r="0.90" fill-opacity="0.58"/><circle cx="32.3" cy="497.6" r="0.75" fill-opacity="0.65"/><circle cx="36.4" cy="497.6" r="0.78" fill-opacity="0.51"/><circle cx="38.8" cy="495.8" r="0.69" fill-opacity="0.71"/><circle cx="45.8" cy="497.9" r="0.82" fill-opacity="0.79"/><circle cx="50.3" cy="496.9" r="0.76" fill-opacity="0.66"/><circle cx="55.1" cy="496.5" r="0.79" fill-opacity="0.59"/><circle cx="57.5" cy="497.0" r="0.76" fill-opacity="0.79"/><circle cx="61.6" cy="498.2" r="0.82" fill-opacity="0.67"/><circle cx="64.6" cy="498.0" r="0.87" fill-opacity="0.70"/><circle cx="69.8" cy="497.8" r="0.72" fill-opacity="0.64"/><circle cx="71.9" cy="497.5" r="0.74" fill-opacity="0.60"/><circle cx="74.8" cy="496.3" r="0.72" fill-opacity="0.51"/><circle cx="78.9" cy="497.8" r="0.78" fill-opacity="0.59"/><circle cx="82.6" cy="496.8" r="0.82" fill-opacity="0.71"/><circle cx="87.9" cy="496.7" r="0.81" fill-opacity="0.65"/><circle cx="91.4" cy="495.5" r="0.64" fill-opacity="0.79"/><circle cx="93.0" cy="496.0" r="0.74" fill-opacity="0.79"/><circle cx="98.8" cy="497.7" r="0.63" fill-opacity="0.68"/><circle cx="102.0" cy="496.9" r="0.70" fill-opacity="0.78"/><circle cx="26.7" cy="500.6" r="0.73" fill-opacity="0.70"/><circle cx="34.6" cy="500.4" r="0.84" fill-opacity="0.76"/><circle cx="39.5" cy="499.2" r="0.72" fill-opacity="0.70"/><circle cx="42.7" cy="501.6" r="0.63" fill-opacity="0.76"/><circle cx="51.2" cy="499.6" r="0.76" fill-opacity="0.62"/><circle cx="55.2" cy="499.8" r="0.75" fill-opacity="0.77"/><circle cx="56.6" cy="501.2" r="0.70" fill-opacity="0.65"/><circle cx="65.3" cy="501.7" r="0.89" fill-opacity="0.58"/><circle cx="68.4" cy="501.2" r="0.85" fill-opacity="0.57"/><circle cx="72.9" cy="500.2" r="0.64" fill-opacity="0.56"/><circle cx="76.2" cy="501.8" r="0.76" fill-opacity="0.68"/><circle cx="79.4" cy="499.8" r="0.81" fill-opacity="0.58"/><circle cx="83.0" cy="500.4" r="0.70" fill-opacity="0.68"/><circle cx="88.2" cy="501.0" r="0.76" fill-opacity="0.52"/><circle cx="91.3" cy="500.9" r="0.84" fill-opacity="0.77"/><circle cx="94.4" cy="499.9" r="0.64" fill-opacity="0.54"/><circle cx="96.9" cy="500.6" r="0.81" fill-opacity="0.67"/><circle cx="101.0" cy="499.6" r="0.77" fill-opacity="0.77"/><circle cx="26.4" cy="502.7" r="0.69" fill-opacity="0.68"/><circle cx="35.8" cy="505.6" r="0.70" fill-opacity="0.68"/><circle cx="37.5" cy="503.6" r="0.64" fill-opacity="0.58"/><circle cx="43.2" cy="502.8" r="0.62" fill-opacity="0.72"/><circle cx="49.4" cy="502.8" r="0.61" fill-opacity="0.54"/><circle cx="55.0" cy="504.6" r="0.67" fill-opacity="0.70"/><circle cx="57.5" cy="503.6" r="0.88" fill-opacity="0.61"/><circle cx="61.6" cy="505.2" r="0.78" fill-opacity="0.76"/><circle cx="65.4" cy="504.5" r="0.76" fill-opacity="0.67"/><circle cx="68.2" cy="505.3" r="0.79" fill-opacity="0.66"/><circle cx="75.0" cy="503.3" r="0.73" fill-opacity="0.66"/><circle cx="79.0" cy="504.2" r="0.74" fill-opacity="0.62"/><circle cx="87.5" cy="504.3" r="0.76" fill-opacity="0.75"/><circle cx="91.3" cy="502.8" r="0.69" fill-opacity="0.70"/><circle cx="95.7" cy="503.1" r="0.86" fill-opacity="0.56"/><circle cx="99.2" cy="503.7" r="0.87" fill-opacity="0.55"/><circle cx="101.5" cy="504.0" r="0.64" fill-opacity="0.68"/><circle cx="28.3" cy="508.7" r="0.78" fill-opacity="0.50"/><circle cx="32.8" cy="508.3" r="0.71" fill-opacity="0.67"/><circle cx="35.1" cy="508.7" r="0.78" fill-opacity="0.63"/><circle cx="38.7" cy="508.2" r="0.62" fill-opacity="0.64"/><circle cx="44.9" cy="506.5" r="0.63" fill-opacity="0.54"/><circle cx="49.6" cy="507.2" r="0.90" fill-opacity="0.77"/><circle cx="54.6" cy="508.8" r="0.67" fill-opacity="0.74"/><circle cx="57.6" cy="507.4" r="0.65" fill-opacity="0.73"/><circle cx="60.6" cy="509.0" r="0.70" fill-opacity="0.70"/><circle cx="65.7" cy="506.5" r="0.73" fill-opacity="0.61"/><circle cx="69.5" cy="507.7" r="0.81" fill-opacity="0.69"/><circle cx="70.9" cy="508.4" r="0.87" fill-opacity="0.55"/><circle cx="75.9" cy="507.4" r="0.81" fill-opacity="0.79"/><circle cx="83.0" cy="508.8" r="0.65" fill-opacity="0.71"/><circle cx="92.1" cy="508.3" r="0.84" fill-opacity="0.64"/><circle cx="94.4" cy="508.7" r="0.82" fill-opacity="0.56"/><circle cx="98.3" cy="508.1" r="0.88" fill-opacity="0.75"/><circle cx="101.5" cy="506.7" r="0.61" fill-opacity="0.52"/><circle cx="28.6" cy="512.0" r="0.84" fill-opacity="0.59"/><circle cx="32.9" cy="512.5" r="0.88" fill-opacity="0.51"/><circle cx="35.6" cy="512.2" r="0.87" fill-opacity="0.66"/><circle cx="37.5" cy="512.4" r="0.89" fill-opacity="0.77"/><circle cx="42.2" cy="510.8" r="0.83" fill-opacity="0.78"/><circle cx="45.4" cy="511.8" r="0.75" fill-opacity="0.63"/><circle cx="51.3" cy="512.2" r="0.81" fill-opacity="0.71"/><circle cx="53.9" cy="510.8" r="0.83" fill-opacity="0.54"/><circle cx="57.1" cy="511.7" r="0.79" fill-opacity="0.64"/><circle cx="60.4" cy="510.1" r="0.89" fill-opacity="0.59"/><circle cx="64.6" cy="511.8" r="0.90" fill-opacity="0.71"/><circle cx="68.7" cy="511.4" r="0.75" fill-opacity="0.63"/><circle cx="71.9" cy="511.2" r="0.66" fill-opacity="0.75"/><circle cx="74.9" cy="511.7" r="0.85" fill-opacity="0.73"/><circle cx="80.3" cy="511.1" r="0.64" fill-opacity="0.58"/><circle cx="82.7" cy="511.5" r="0.64" fill-opacity="0.54"/><circle cx="86.2" cy="512.4" r="0.76" fill-opacity="0.56"/><circle cx="91.9" cy="511.8" r="0.77" fill-opacity="0.62"/><circle cx="94.8" cy="510.3" r="0.84" fill-opacity="0.52"/><circle cx="97.8" cy="512.1" r="0.78" fill-opacity="0.54"/><circle cx="100.6" cy="510.8" r="0.71" fill-opacity="0.59"/><circle cx="29.3" cy="514.8" r="0.85" fill-opacity="0.57"/><circle cx="31.1" cy="515.4" r="0.63" fill-opacity="0.75"/><circle cx="35.1" cy="514.6" r="0.84" fill-opacity="0.68"/><circle cx="39.7" cy="514.5" r="0.62" fill-opacity="0.75"/><circle cx="43.6" cy="516.6" r="0.79" fill-opacity="0.53"/><circle cx="46.7" cy="514.5" r="0.66" fill-opacity="0.65"/><circle cx="51.3" cy="515.9" r="0.85" fill-opacity="0.62"/><circle cx="52.7" cy="515.9" r="0.68" fill-opacity="0.50"/><circle cx="56.6" cy="516.0" r="0.71" fill-opacity="0.64"/><circle cx="60.5" cy="515.7" r="0.80" fill-opacity="0.78"/><circle cx="65.9" cy="516.6" r="0.83" fill-opacity="0.63"/><circle cx="67.4" cy="516.2" r="0.64" fill-opacity="0.67"/><circle cx="70.9" cy="514.4" r="0.85" fill-opacity="0.66"/><circle cx="77.2" cy="514.0" r="0.80" fill-opacity="0.51"/><circle cx="79.5" cy="516.6" r="0.78" fill-opacity="0.56"/><circle cx="83.4" cy="514.4" r="0.71" fill-opacity="0.76"/><circle cx="87.9" cy="514.0" r="0.87" fill-opacity="0.64"/><circle cx="89.8" cy="514.2" r="0.87" fill-opacity="0.59"/><circle cx="99.6" cy="516.2" r="0.72" fill-opacity="0.80"/><circle cx="102.9" cy="515.7" r="0.72" fill-opacity="0.77"/><circle cx="29.1" cy="519.1" r="0.87" fill-opacity="0.64"/><circle cx="31.8" cy="518.4" r="0.64" fill-opacity="0.68"/><circle cx="34.6" cy="520.0" r="0.84" fill-opacity="0.73"/><circle cx="40.4" cy="519.8" r="0.77" fill-opacity="0.53"/><circle cx="41.2" cy="520.1" r="0.70" fill-opacity="0.61"/><circle cx="46.8" cy="519.2" r="0.75" fill-opacity="0.69"/><circle cx="49.9" cy="519.0" r="0.84" fill-opacity="0.50"/><circle cx="53.2" cy="518.1" r="0.87" fill-opacity="0.54"/><circle cx="61.2" cy="519.9" r="0.90" fill-opacity="0.76"/><circle cx="63.5" cy="517.7" r="0.79" fill-opacity="0.75"/><circle cx="69.9" cy="519.1" r="0.77" fill-opacity="0.69"/><circle cx="77.2" cy="518.3" r="0.62" fill-opacity="0.58"/><circle cx="78.9" cy="518.1" r="0.68" fill-opacity="0.64"/><circle cx="82.8" cy="520.1" r="0.89" fill-opacity="0.75"/><circle cx="92.0" cy="520.0" r="0.64" fill-opacity="0.63"/><circle cx="95.2" cy="517.6" r="0.69" fill-opacity="0.72"/><circle cx="96.8" cy="519.2" r="0.80" fill-opacity="0.76"/><circle cx="103.3" cy="518.1" r="0.63" fill-opacity="0.54"/><circle cx="26.7" cy="522.0" r="0.66" fill-opacity="0.52"/><circle cx="31.1" cy="524.0" r="0.82" fill-opacity="0.57"/><circle cx="33.8" cy="524.1" r="0.61" fill-opacity="0.58"/><circle cx="37.5" cy="523.4" r="0.63" fill-opacity="0.75"/><circle cx="45.5" cy="522.0" r="0.75" fill-opacity="0.61"/><circle cx="50.5" cy="521.7" r="0.65" fill-opacity="0.71"/><circle cx="55.0" cy="522.4" r="0.74" fill-opacity="0.51"/><circle cx="65.3" cy="524.0" r="0.73" fill-opacity="0.71"/><circle cx="67.3" cy="522.4" r="0.81" fill-opacity="0.74"/><circle cx="73.2" cy="522.8" r="0.77" fill-opacity="0.65"/><circle cx="76.5" cy="522.9" r="0.86" fill-opacity="0.64"/><circle cx="80.6" cy="523.2" r="0.76" fill-opacity="0.67"/><circle cx="83.7" cy="521.9" r="0.69" fill-opacity="0.68"/><circle cx="91.9" cy="521.9" r="0.73" fill-opacity="0.71"/><circle cx="95.0" cy="523.0" r="0.72" fill-opacity="0.63"/><circle cx="97.7" cy="523.5" r="0.60" fill-opacity="0.73"/><circle cx="101.3" cy="521.2" r="0.70" fill-opacity="0.68"/></g>
<g stroke="#b9603f" stroke-linecap="round" fill="none" filter="url(#soft)"><path d="M85.5 515.9L84.7 515.9" stroke-width="0.78" stroke-opacity="0.30"/><path d="M73.8 469.0L75.1 470.2" stroke-width="1.13" stroke-opacity="0.49"/><path d="M98.4 505.0L98.2 505.7" stroke-width="1.06" stroke-opacity="0.45"/><path d="M54.0 479.7L52.9 480.2" stroke-width="0.96" stroke-opacity="0.43"/><path d="M32.0 472.9L31.1 475.1" stroke-width="0.99" stroke-opacity="0.50"/><path d="M44.6 486.0L44.0 486.5" stroke-width="0.81" stroke-opacity="0.65"/><path d="M92.5 460.9L91.5 462.5" stroke-width="0.87" stroke-opacity="0.45"/><path d="M27.9 484.1L28.8 485.4" stroke-width="1.10" stroke-opacity="0.46"/><path d="M70.9 498.0L71.8 498.0" stroke-width="0.97" stroke-opacity="0.36"/><path d="M49.8 466.5L48.9 467.5" stroke-width="0.95" stroke-opacity="0.60"/><path d="M81.9 523.2L82.7 523.5" stroke-width="0.90" stroke-opacity="0.34"/><path d="M64.4 493.4L65.0 493.6" stroke-width="1.12" stroke-opacity="0.64"/><path d="M25.3 465.4L27.2 465.5" stroke-width="1.09" stroke-opacity="0.28"/><path d="M66.3 482.3L66.5 482.5" stroke-width="0.75" stroke-opacity="0.33"/><path d="M48.6 495.8L47.8 496.1" stroke-width="0.84" stroke-opacity="0.33"/><path d="M43.3 496.2L44.6 496.3" stroke-width="0.88" stroke-opacity="0.41"/><path d="M40.8 501.3L39.0 501.8" stroke-width="0.84" stroke-opacity="0.32"/><path d="M32.3 510.7L34.3 511.7" stroke-width="0.81" stroke-opacity="0.58"/><path d="M29.7 479.1L28.8 479.8" stroke-width="0.99" stroke-opacity="0.43"/><path d="M76.3 469.0L75.6 469.1" stroke-width="1.05" stroke-opacity="0.30"/><path d="M86.6 475.0L87.3 475.6" stroke-width="0.85" stroke-opacity="0.42"/><path d="M28.8 477.2L28.1 477.5" stroke-width="0.89" stroke-opacity="0.43"/><path d="M74.7 499.2L76.3 500.8" stroke-width="0.90" stroke-opacity="0.42"/><path d="M87.2 516.1L89.5 516.6" stroke-width="0.99" stroke-opacity="0.30"/><path d="M86.4 516.3L85.4 517.4" stroke-width="1.12" stroke-opacity="0.62"/><path d="M53.3 490.0L54.4 490.1" stroke-width="0.91" stroke-opacity="0.44"/><path d="M34.9 471.7L36.3 472.4" stroke-width="1.10" stroke-opacity="0.53"/><path d="M60.2 500.5L60.6 500.9" stroke-width="0.78" stroke-opacity="0.49"/><path d="M74.6 471.2L74.3 473.4" stroke-width="0.87" stroke-opacity="0.42"/><path d="M91.7 518.2L93.5 519.4" stroke-width="1.02" stroke-opacity="0.28"/><path d="M67.1 523.0L65.2 523.2" stroke-width="0.83" stroke-opacity="0.39"/><path d="M64.7 515.0L63.6 516.9" stroke-width="1.06" stroke-opacity="0.50"/><path d="M52.1 468.0L51.3 470.2" stroke-width="0.76" stroke-opacity="0.36"/><path d="M98.3 474.3L98.6 475.1" stroke-width="1.09" stroke-opacity="0.38"/><path d="M51.9 464.3L54.1 465.0" stroke-width="1.03" stroke-opacity="0.25"/><path d="M35.5 483.7L36.8 485.6" stroke-width="0.81" stroke-opacity="0.34"/><path d="M64.2 517.1L64.5 518.6" stroke-width="1.11" stroke-opacity="0.47"/><path d="M91.3 497.2L91.6 498.5" stroke-width="0.95" stroke-opacity="0.39"/><path d="M30.7 473.9L32.4 474.9" stroke-width="0.80" stroke-opacity="0.33"/><path d="M53.8 464.5L52.8 464.9" stroke-width="0.99" stroke-opacity="0.52"/><path d="M32.9 501.6L32.2 502.0" stroke-width="0.89" stroke-opacity="0.48"/><path d="M76.2 523.1L76.5 523.1" stroke-width="0.88" stroke-opacity="0.44"/><path d="M29.5 483.8L30.3 485.1" stroke-width="0.80" stroke-opacity="0.28"/><path d="M82.0 495.8L81.4 498.2" stroke-width="0.99" stroke-opacity="0.61"/><path d="M62.3 487.4L61.9 487.6" stroke-width="0.78" stroke-opacity="0.51"/><path d="M27.1 472.5L27.8 473.2" stroke-width="0.88" stroke-opacity="0.58"/><path d="M47.8 491.8L50.2 492.2" stroke-width="0.87" stroke-opacity="0.50"/><path d="M58.5 519.1L58.3 519.8" stroke-width="0.89" stroke-opacity="0.51"/><path d="M69.0 498.7L69.5 500.4" stroke-width="0.88" stroke-opacity="0.39"/><path d="M66.2 496.4L64.3 497.5" stroke-width="0.91" stroke-opacity="0.43"/><path d="M98.0 476.6L99.9 476.9" stroke-width="0.85" stroke-opacity="0.55"/><path d="M64.3 496.3L63.9 498.1" stroke-width="1.12" stroke-opacity="0.57"/><path d="M62.7 462.0L64.0 462.8" stroke-width="0.97" stroke-opacity="0.55"/><path d="M70.7 464.0L69.7 465.6" stroke-width="1.08" stroke-opacity="0.43"/><path d="M75.5 480.4L76.0 480.7" stroke-width="1.05" stroke-opacity="0.39"/><path d="M58.2 513.0L60.2 514.2" stroke-width="0.98" stroke-opacity="0.64"/><path d="M63.0 461.8L62.6 462.5" stroke-width="1.10" stroke-opacity="0.27"/><path d="M65.5 523.2L63.0 523.3" stroke-width="0.80" stroke-opacity="0.35"/><path d="M51.0 471.7L50.6 474.0" stroke-width="1.00" stroke-opacity="0.37"/><path d="M58.8 490.1L57.3 490.3" stroke-width="0.82" stroke-opacity="0.50"/><path d="M70.9 510.7L70.0 510.8" stroke-width="0.81" stroke-opacity="0.25"/><path d="M34.8 484.5L35.1 486.2" stroke-width="1.04" stroke-opacity="0.50"/><path d="M86.2 488.9L88.2 489.5" stroke-width="0.77" stroke-opacity="0.54"/><path d="M54.8 489.2L55.5 489.3" stroke-width="0.93" stroke-opacity="0.59"/><path d="M41.1 522.1L40.1 522.9" stroke-width="0.91" stroke-opacity="0.62"/><path d="M39.3 498.7L38.8 499.1" stroke-width="1.06" stroke-opacity="0.47"/><path d="M31.3 519.4L30.5 519.6" stroke-width="1.09" stroke-opacity="0.43"/><path d="M33.6 464.3L33.6 465.6" stroke-width="1.12" stroke-opacity="0.44"/><path d="M38.3 494.7L38.4 496.0" stroke-width="1.11" stroke-opacity="0.55"/><path d="M38.2 470.0L36.2 471.4" stroke-width="0.99" stroke-opacity="0.34"/><path d="M41.1 489.7L43.3 490.1" stroke-width="0.79" stroke-opacity="0.29"/><path d="M37.4 484.5L37.4 485.5" stroke-width="0.86" stroke-opacity="0.26"/><path d="M59.8 507.5L59.1 508.2" stroke-width="0.98" stroke-opacity="0.38"/><path d="M39.2 491.5L39.0 492.8" stroke-width="0.93" stroke-opacity="0.47"/><path d="M50.5 512.1L49.0 513.9" stroke-width="0.97" stroke-opacity="0.50"/><path d="M50.1 497.9L49.9 499.2" stroke-width="0.94" stroke-opacity="0.41"/><path d="M42.7 476.4L42.1 476.9" stroke-width="0.99" stroke-opacity="0.35"/><path d="M93.8 508.5L94.2 509.5" stroke-width="1.13" stroke-opacity="0.39"/><path d="M70.3 502.4L71.1 503.3" stroke-width="1.06" stroke-opacity="0.59"/><path d="M42.6 485.5L43.2 487.3" stroke-width="1.02" stroke-opacity="0.32"/><path d="M93.1 521.0L94.4 522.0" stroke-width="1.06" stroke-opacity="0.59"/><path d="M30.8 499.2L31.1 500.3" stroke-width="1.03" stroke-opacity="0.37"/><path d="M87.1 467.0L86.3 467.9" stroke-width="0.81" stroke-opacity="0.46"/><path d="M100.3 508.3L100.0 508.9" stroke-width="0.92" stroke-opacity="0.47"/><path d="M79.8 522.2L77.5 522.4" stroke-width="0.83" stroke-opacity="0.31"/><path d="M37.8 521.9L38.3 522.1" stroke-width="0.98" stroke-opacity="0.30"/><path d="M50.7 510.3L51.5 512.0" stroke-width="0.88" stroke-opacity="0.30"/><path d="M38.4 476.1L39.7 476.5" stroke-width="0.95" stroke-opacity="0.62"/><path d="M66.3 496.7L65.7 496.9" stroke-width="0.89" stroke-opacity="0.31"/><path d="M52.6 465.1L51.7 466.2" stroke-width="0.96" stroke-opacity="0.60"/><path d="M41.6 518.2L41.3 518.4" stroke-width="1.03" stroke-opacity="0.27"/><path d="M39.9 510.4L40.5 512.3" stroke-width="1.06" stroke-opacity="0.29"/><path d="M34.5 505.4L33.2 507.5" stroke-width="0.96" stroke-opacity="0.51"/><path d="M36.5 484.3L36.9 485.3" stroke-width="1.05" stroke-opacity="0.41"/><path d="M67.3 474.3L67.1 474.6" stroke-width="0.85" stroke-opacity="0.26"/><path d="M61.0 499.7L59.7 500.5" stroke-width="0.77" stroke-opacity="0.58"/><path d="M27.2 487.6L26.0 489.3" stroke-width="0.92" stroke-opacity="0.59"/><path d="M75.5 517.1L75.8 519.1" stroke-width="0.98" stroke-opacity="0.27"/><path d="M77.2 493.7L78.3 494.8" stroke-width="0.89" stroke-opacity="0.59"/><path d="M73.8 488.6L74.2 489.1" stroke-width="0.76" stroke-opacity="0.30"/><path d="M61.4 463.1L61.5 463.5" stroke-width="1.07" stroke-opacity="0.64"/><path d="M61.5 499.2L61.0 499.3" stroke-width="0.97" stroke-opacity="0.52"/><path d="M74.3 495.0L74.3 496.2" stroke-width="1.11" stroke-opacity="0.46"/><path d="M81.0 488.7L81.2 489.1" stroke-width="0.99" stroke-opacity="0.60"/><path d="M32.1 467.9L34.3 468.5" stroke-width="0.79" stroke-opacity="0.51"/><path d="M64.6 518.1L64.4 518.9" stroke-width="0.87" stroke-opacity="0.49"/><path d="M68.2 485.9L68.0 486.2" stroke-width="0.99" stroke-opacity="0.36"/><path d="M58.8 477.1L59.0 479.6" stroke-width="0.88" stroke-opacity="0.64"/><path d="M66.2 478.0L66.0 478.7" stroke-width="1.03" stroke-opacity="0.43"/><path d="M39.5 492.6L39.9 494.3" stroke-width="1.05" stroke-opacity="0.52"/><path d="M76.8 498.7L78.1 499.0" stroke-width="1.00" stroke-opacity="0.37"/><path d="M38.1 521.7L36.1 522.8" stroke-width="1.08" stroke-opacity="0.35"/><path d="M85.8 495.4L84.8 495.4" stroke-width="0.79" stroke-opacity="0.65"/><path d="M89.0 489.1L90.8 489.8" stroke-width="1.11" stroke-opacity="0.47"/><path d="M99.2 494.2L99.4 496.1" stroke-width="1.00" stroke-opacity="0.28"/><path d="M25.8 477.8L28.0 478.6" stroke-width="1.03" stroke-opacity="0.48"/><path d="M77.3 498.5L77.6 500.2" stroke-width="1.03" stroke-opacity="0.62"/><path d="M71.1 494.5L72.7 494.8" stroke-width="1.02" stroke-opacity="0.33"/><path d="M34.1 463.9L35.4 464.6" stroke-width="0.87" stroke-opacity="0.56"/><path d="M37.3 515.4L37.2 515.9" stroke-width="0.89" stroke-opacity="0.53"/><path d="M45.5 469.4L46.6 470.6" stroke-width="0.85" stroke-opacity="0.59"/><path d="M95.9 462.2L96.2 463.8" stroke-width="0.86" stroke-opacity="0.44"/><path d="M87.6 472.6L85.9 473.7" stroke-width="0.76" stroke-opacity="0.50"/><path d="M58.8 514.6L57.7 514.6" stroke-width="0.89" stroke-opacity="0.61"/><path d="M84.6 474.9L85.9 476.9" stroke-width="0.90" stroke-opacity="0.60"/><path d="M41.5 477.4L43.2 478.0" stroke-width="1.14" stroke-opacity="0.46"/><path d="M78.2 517.0L76.7 518.3" stroke-width="0.75" stroke-opacity="0.37"/></g>
<ellipse cx="77.0" cy="463.5" rx="2.5" ry="2.0" fill="#eef0f2" opacity="0.85" filter="url(#soft2)"/>
<ellipse cx="44.0" cy="494.0" rx="1.3" ry="4.0" fill="#eef0f2" opacity="0.85" filter="url(#soft2)"/>
<ellipse cx="52.0" cy="509.0" rx="3.0" ry="2.2" fill="#eef0f2" opacity="0.85" filter="url(#soft2)"/>
<path d="M29.0 521.0h9" stroke="#fff" stroke-width="0.8" opacity="0.6"/>
</g>
<g clip-path="url(#c01)">
<rect x="102.8" y="461.6" width="74.50" height="62.40" fill="#dcd3ce"/>
<rect x="102.8" y="461.6" width="74.50" height="62.40" fill="#fff" filter="url(#lnoise)" opacity="0.35"/>
<rect x="102.8" y="461.6" width="74.50" height="62.40" fill="#fff" filter="url(#lnoise2)" opacity="0.35"/>
<g fill="#90a8cc" filter="url(#soft)"><circle cx="106.0" cy="462.1" r="0.63" fill-opacity="0.75"/><circle cx="108.9" cy="462.9" r="0.78" fill-opacity="0.68"/><circle cx="111.0" cy="463.2" r="0.72" fill-opacity="0.72"/><circle cx="117.1" cy="463.6" r="0.73" fill-opacity="0.58"/><circle cx="126.3" cy="463.1" r="0.87" fill-opacity="0.66"/><circle cx="129.8" cy="462.0" r="0.70" fill-opacity="0.54"/><circle cx="135.7" cy="464.0" r="0.65" fill-opacity="0.77"/><circle cx="138.6" cy="464.7" r="0.83" fill-opacity="0.74"/><circle cx="143.1" cy="464.8" r="0.65" fill-opacity="0.73"/><circle cx="145.2" cy="463.5" r="0.75" fill-opacity="0.78"/><circle cx="150.0" cy="463.0" r="0.86" fill-opacity="0.77"/><circle cx="153.0" cy="464.7" r="0.82" fill-opacity="0.65"/><circle cx="155.9" cy="464.0" r="0.65" fill-opacity="0.77"/><circle cx="161.4" cy="462.9" r="0.89" fill-opacity="0.71"/><circle cx="163.9" cy="463.9" r="0.78" fill-opacity="0.59"/><circle cx="167.6" cy="464.7" r="0.79" fill-opacity="0.52"/><circle cx="171.9" cy="464.7" r="0.66" fill-opacity="0.72"/><circle cx="178.0" cy="462.6" r="0.86" fill-opacity="0.53"/><circle cx="105.7" cy="466.4" r="0.66" fill-opacity="0.76"/><circle cx="109.0" cy="465.8" r="0.71" fill-opacity="0.55"/><circle cx="110.8" cy="468.5" r="0.61" fill-opacity="0.72"/><circle cx="120.4" cy="466.1" r="0.66" fill-opacity="0.71"/><circle cx="121.8" cy="468.6" r="0.65" fill-opacity="0.51"/><circle cx="127.2" cy="467.9" r="0.63" fill-opacity="0.60"/><circle cx="135.0" cy="467.9" r="0.87" fill-opacity="0.73"/><circle cx="138.6" cy="467.1" r="0.67" fill-opacity="0.70"/><circle cx="140.5" cy="467.0" r="0.86" fill-opacity="0.54"/><circle cx="145.0" cy="467.2" r="0.64" fill-opacity="0.79"/><circle cx="149.4" cy="466.9" r="0.61" fill-opacity="0.67"/><circle cx="151.4" cy="465.8" r="0.65" fill-opacity="0.53"/><circle cx="156.5" cy="468.6" r="0.88" fill-opacity="0.80"/><circle cx="160.0" cy="466.4" r="0.78" fill-opacity="0.69"/><circle cx="164.5" cy="466.4" r="0.73" fill-opacity="0.66"/><circle cx="173.8" cy="467.8" r="0.67" fill-opacity="0.53"/><circle cx="177.9" cy="466.3" r="0.76" fill-opacity="0.64"/><circle cx="105.1" cy="470.0" r="0.87" fill-opacity="0.79"/><circle cx="108.2" cy="470.9" r="0.77" fill-opacity="0.52"/><circle cx="112.1" cy="469.9" r="0.63" fill-opacity="0.74"/><circle cx="115.8" cy="472.1" r="0.78" fill-opacity="0.59"/><circle cx="119.1" cy="469.4" r="0.81" fill-opacity="0.53"/><circle cx="124.2" cy="471.4" r="0.60" fill-opacity="0.64"/><circle cx="126.8" cy="470.0" r="0.78" fill-opacity="0.52"/><circle cx="130.2" cy="472.1" r="0.62" fill-opacity="0.73"/><circle cx="134.5" cy="470.5" r="0.74" fill-opacity="0.73"/><circle cx="136.8" cy="469.7" r="0.62" fill-opacity="0.76"/><circle cx="143.0" cy="471.4" r="0.61" fill-opacity="0.70"/><circle cx="146.0" cy="470.8" r="0.71" fill-opacity="0.64"/><circle cx="148.4" cy="470.9" r="0.74" fill-opacity="0.79"/><circle cx="154.0" cy="471.8" r="0.69" fill-opacity="0.57"/><circle cx="155.7" cy="470.6" r="0.80" fill-opacity="0.78"/><circle cx="161.1" cy="469.7" r="0.71" fill-opacity="0.80"/><circle cx="163.6" cy="469.6" r="0.63" fill-opacity="0.77"/><circle cx="168.0" cy="469.8" r="0.69" fill-opacity="0.57"/><circle cx="171.8" cy="470.7" r="0.76" fill-opacity="0.53"/><circle cx="176.3" cy="471.6" r="0.63" fill-opacity="0.65"/><circle cx="177.9" cy="472.0" r="0.74" fill-opacity="0.71"/><circle cx="106.1" cy="475.4" r="0.77" fill-opacity="0.54"/><circle cx="107.0" cy="474.8" r="0.86" fill-opacity="0.55"/><circle cx="112.0" cy="474.3" r="0.81" fill-opacity="0.78"/><circle cx="115.7" cy="475.9" r="0.70" fill-opacity="0.72"/><circle cx="120.2" cy="475.6" r="0.67" fill-opacity="0.69"/><circle cx="123.6" cy="476.0" r="0.79" fill-opacity="0.50"/><circle cx="127.5" cy="475.7" r="0.80" fill-opacity="0.74"/><circle cx="134.9" cy="474.9" r="0.87" fill-opacity="0.77"/><circle cx="142.4" cy="473.7" r="0.82" fill-opacity="0.68"/><circle cx="146.3" cy="473.5" r="0.78" fill-opacity="0.63"/><circle cx="149.2" cy="474.5" r="0.66" fill-opacity="0.79"/><circle cx="161.1" cy="475.0" r="0.83" fill-opacity="0.65"/><circle cx="163.4" cy="473.9" r="0.75" fill-opacity="0.51"/><circle cx="170.3" cy="475.3" r="0.84" fill-opacity="0.62"/><circle cx="175.8" cy="475.6" r="0.64" fill-opacity="0.55"/><circle cx="178.5" cy="473.9" r="0.60" fill-opacity="0.67"/><circle cx="104.3" cy="478.4" r="0.71" fill-opacity="0.63"/><circle cx="107.8" cy="478.7" r="0.75" fill-opacity="0.66"/><circle cx="110.8" cy="479.2" r="0.69" fill-opacity="0.69"/><circle cx="116.2" cy="477.9" r="0.85" fill-opacity="0.53"/><circle cx="119.1" cy="478.3" r="0.86" fill-opacity="0.74"/><circle cx="122.6" cy="477.5" r="0.74" fill-opacity="0.57"/><circle cx="128.2" cy="477.1" r="0.85" fill-opacity="0.61"/><circle cx="130.0" cy="477.0" r="0.74" fill-opacity="0.55"/><circle cx="133.6" cy="479.4" r="0.88" fill-opacity="0.63"/><circle cx="139.2" cy="477.7" r="0.63" fill-opacity="0.57"/><circle cx="142.2" cy="477.9" r="0.71" fill-opacity="0.74"/><circle cx="146.3" cy="478.6" r="0.72" fill-opacity="0.75"/><circle cx="150.2" cy="479.5" r="0.75" fill-opacity="0.71"/><circle cx="153.5" cy="479.0" r="0.86" fill-opacity="0.78"/><circle cx="157.9" cy="477.6" r="0.79" fill-opacity="0.70"/><circle cx="159.8" cy="477.3" r="0.89" fill-opacity="0.61"/><circle cx="165.0" cy="477.3" r="0.89" fill-opacity="0.54"/><circle cx="170.8" cy="479.5" r="0.86" fill-opacity="0.73"/><circle cx="175.1" cy="477.5" r="0.85" fill-opacity="0.62"/><circle cx="179.1" cy="477.2" r="0.69" fill-opacity="0.78"/><circle cx="107.5" cy="481.2" r="0.73" fill-opacity="0.58"/><circle cx="111.3" cy="481.2" r="0.78" fill-opacity="0.60"/><circle cx="116.5" cy="480.7" r="0.64" fill-opacity="0.76"/><circle cx="120.3" cy="480.9" r="0.76" fill-opacity="0.75"/><circle cx="123.9" cy="482.3" r="0.72" fill-opacity="0.80"/><circle cx="126.8" cy="482.3" r="0.70" fill-opacity="0.75"/><circle cx="130.8" cy="482.1" r="0.90" fill-opacity="0.80"/><circle cx="134.1" cy="481.7" r="0.76" fill-opacity="0.51"/><circle cx="140.5" cy="483.2" r="0.80" fill-opacity="0.77"/><circle cx="149.9" cy="480.5" r="0.63" fill-opacity="0.61"/><circle cx="151.7" cy="482.5" r="0.63" fill-opacity="0.79"/><circle cx="155.1" cy="483.1" r="0.67" fill-opacity="0.64"/><circle cx="159.1" cy="482.0" r="0.62" fill-opacity="0.56"/><circle cx="164.8" cy="482.0" r="0.80" fill-opacity="0.76"/><circle cx="167.5" cy="480.9" r="0.63" fill-opacity="0.53"/><circle cx="169.9" cy="481.1" r="0.71" fill-opacity="0.69"/><circle cx="176.1" cy="482.6" r="0.75" fill-opacity="0.78"/><circle cx="177.5" cy="482.9" r="0.79" fill-opacity="0.56"/><circle cx="104.1" cy="485.4" r="0.73" fill-opacity="0.62"/><circle cx="109.3" cy="485.8" r="0.74" fill-opacity="0.59"/><circle cx="113.5" cy="484.8" r="0.81" fill-opacity="0.71"/><circle cx="114.4" cy="485.8" r="0.66" fill-opacity="0.56"/><circle cx="119.9" cy="486.0" r="0.82" fill-opacity="0.71"/><circle cx="121.8" cy="486.5" r="0.85" fill-opacity="0.75"/><circle cx="125.5" cy="484.7" r="0.63" fill-opacity="0.69"/><circle cx="129.6" cy="487.0" r="0.89" fill-opacity="0.77"/><circle cx="133.6" cy="484.8" r="0.85" fill-opacity="0.71"/><circle cx="139.1" cy="485.9" r="0.72" fill-opacity="0.62"/><circle cx="141.5" cy="486.1" r="0.64" fill-opacity="0.71"/><circle cx="146.6" cy="484.8" r="0.70" fill-opacity="0.66"/><circle cx="149.1" cy="486.9" r="0.66" fill-opacity="0.73"/><circle cx="153.6" cy="485.5" r="0.74" fill-opacity="0.60"/><circle cx="155.7" cy="484.7" r="0.74" fill-opacity="0.56"/><circle cx="160.4" cy="485.1" r="0.65" fill-opacity="0.68"/><circle cx="163.0" cy="486.0" r="0.80" fill-opacity="0.77"/><circle cx="167.0" cy="484.8" r="0.85" fill-opacity="0.59"/><circle cx="174.1" cy="485.1" r="0.70" fill-opacity="0.58"/><circle cx="178.2" cy="485.5" r="0.73" fill-opacity="0.75"/><circle cx="107.3" cy="488.3" r="0.78" fill-opacity="0.61"/><circle cx="117.0" cy="489.8" r="0.75" fill-opacity="0.74"/><circle cx="118.4" cy="488.8" r="0.89" fill-opacity="0.78"/><circle cx="123.8" cy="490.5" r="0.78" fill-opacity="0.71"/><circle cx="126.1" cy="488.5" r="0.62" fill-opacity="0.70"/><circle cx="130.9" cy="489.0" r="0.73" fill-opacity="0.79"/><circle cx="134.2" cy="489.0" r="0.66" fill-opacity="0.57"/><circle cx="138.9" cy="488.1" r="0.88" fill-opacity="0.70"/><circle cx="145.1" cy="489.4" r="0.63" fill-opacity="0.65"/><circle cx="149.9" cy="489.6" r="0.81" fill-opacity="0.72"/><circle cx="151.3" cy="489.3" r="0.64" fill-opacity="0.54"/><circle cx="156.6" cy="489.7" r="0.79" fill-opacity="0.78"/><circle cx="162.6" cy="489.9" r="0.73" fill-opacity="0.54"/><circle cx="168.0" cy="489.3" r="0.88" fill-opacity="0.61"/><circle cx="172.5" cy="489.7" r="0.63" fill-opacity="0.74"/><circle cx="176.3" cy="489.8" r="0.84" fill-opacity="0.77"/><circle cx="180.0" cy="487.9" r="0.70" fill-opacity="0.75"/><circle cx="109.8" cy="493.7" r="0.86" fill-opacity="0.52"/><circle cx="112.4" cy="492.9" r="0.73" fill-opacity="0.74"/><circle cx="114.4" cy="493.3" r="0.89" fill-opacity="0.75"/><circle cx="118.8" cy="494.2" r="0.61" fill-opacity="0.57"/><circle cx="124.3" cy="492.8" r="0.87" fill-opacity="0.53"/><circle cx="125.6" cy="492.3" r="0.66" fill-opacity="0.50"/><circle cx="130.6" cy="492.4" r="0.80" fill-opacity="0.52"/><circle cx="134.3" cy="492.8" r="0.87" fill-opacity="0.54"/><circle cx="137.8" cy="492.7" r="0.89" fill-opacity="0.67"/><circle cx="141.5" cy="492.9" r="0.89" fill-opacity="0.74"/><circle cx="144.4" cy="493.3" r="0.64" fill-opacity="0.61"/><circle cx="154.2" cy="493.5" r="0.77" fill-opacity="0.58"/><circle cx="156.3" cy="492.8" r="0.68" fill-opacity="0.57"/><circle cx="161.5" cy="494.0" r="0.79" fill-opacity="0.51"/><circle cx="164.9" cy="494.4" r="0.76" fill-opacity="0.67"/><circle cx="166.8" cy="493.7" r="0.71" fill-opacity="0.75"/><circle cx="171.7" cy="493.2" r="0.76" fill-opacity="0.64"/><circle cx="175.7" cy="492.8" r="0.75" fill-opacity="0.77"/><circle cx="179.1" cy="494.4" r="0.64" fill-opacity="0.68"/><circle cx="104.5" cy="498.1" r="0.89" fill-opacity="0.62"/><circle cx="109.1" cy="497.3" r="0.71" fill-opacity="0.74"/><circle cx="111.0" cy="497.2" r="0.79" fill-opacity="0.62"/><circle cx="117.2" cy="497.7" r="0.72" fill-opacity="0.77"/><circle cx="119.2" cy="497.2" r="0.84" fill-opacity="0.77"/><circle cx="123.6" cy="496.5" r="0.61" fill-opacity="0.64"/><circle cx="130.1" cy="497.1" r="0.82" fill-opacity="0.55"/><circle cx="133.7" cy="495.5" r="0.78" fill-opacity="0.62"/><circle cx="137.8" cy="495.5" r="0.61" fill-opacity="0.51"/><circle cx="142.3" cy="495.4" r="0.70" fill-opacity="0.64"/><circle cx="146.7" cy="497.9" r="0.79" fill-opacity="0.67"/><circle cx="149.4" cy="495.8" r="0.69" fill-opacity="0.75"/><circle cx="153.4" cy="496.6" r="0.68" fill-opacity="0.65"/><circle cx="155.7" cy="497.8" r="0.89" fill-opacity="0.55"/><circle cx="161.1" cy="497.4" r="0.67" fill-opacity="0.68"/><circle cx="164.9" cy="497.0" r="0.75" fill-opacity="0.55"/><circle cx="167.5" cy="496.3" r="0.65" fill-opacity="0.56"/><circle cx="172.5" cy="497.8" r="0.78" fill-opacity="0.74"/><circle cx="174.1" cy="497.4" r="0.60" fill-opacity="0.53"/><circle cx="177.8" cy="495.8" r="0.72" fill-opacity="0.75"/><circle cx="107.8" cy="500.7" r="0.74" fill-opacity="0.54"/><circle cx="111.1" cy="501.4" r="0.86" fill-opacity="0.64"/><circle cx="114.5" cy="499.4" r="0.75" fill-opacity="0.52"/><circle cx="119.5" cy="501.3" r="0.69" fill-opacity="0.51"/><circle cx="122.3" cy="500.2" r="0.64" fill-opacity="0.68"/><circle cx="126.0" cy="499.1" r="0.70" fill-opacity="0.74"/><circle cx="129.7" cy="500.8" r="0.79" fill-opacity="0.74"/><circle cx="135.3" cy="499.4" r="0.88" fill-opacity="0.51"/><circle cx="145.4" cy="501.7" r="0.89" fill-opacity="0.79"/><circle cx="148.6" cy="501.8" r="0.82" fill-opacity="0.56"/><circle cx="151.3" cy="499.0" r="0.79" fill-opacity="0.72"/><circle cx="157.2" cy="499.4" r="0.82" fill-opacity="0.79"/><circle cx="160.1" cy="499.8" r="0.62" fill-opacity="0.69"/><circle cx="162.7" cy="501.4" r="0.87" fill-opacity="0.61"/><circle cx="166.5" cy="499.9" r="0.77" fill-opacity="0.76"/><circle cx="170.0" cy="501.7" r="0.77" fill-opacity="0.73"/><circle cx="174.5" cy="499.2" r="0.66" fill-opacity="0.63"/><circle cx="179.1" cy="501.4" r="0.70" fill-opacity="0.78"/><circle cx="104.2" cy="503.2" r="0.89" fill-opacity="0.70"/><circle cx="111.7" cy="503.9" r="0.83" fill-opacity="0.57"/><circle cx="115.9" cy="505.3" r="0.63" fill-opacity="0.75"/><circle cx="118.5" cy="504.6" r="0.79" fill-opacity="0.71"/><circle cx="122.6" cy="504.2" r="0.67" fill-opacity="0.64"/><circle cx="125.7" cy="503.4" r="0.70" fill-opacity="0.62"/><circle cx="131.3" cy="503.4" r="0.77" fill-opacity="0.60"/><circle cx="133.2" cy="505.5" r="0.88" fill-opacity="0.75"/><circle cx="136.9" cy="503.0" r="0.69" fill-opacity="0.63"/><circle cx="145.9" cy="505.1" r="0.66" fill-opacity="0.50"/><circle cx="148.7" cy="503.6" r="0.65" fill-opacity="0.58"/><circle cx="152.0" cy="503.4" r="0.76" fill-opacity="0.74"/><circle cx="156.2" cy="504.1" r="0.85" fill-opacity="0.73"/><circle cx="159.2" cy="505.1" r="0.69" fill-opacity="0.67"/><circle cx="164.1" cy="503.6" r="0.62" fill-opacity="0.50"/><circle cx="168.7" cy="504.0" r="0.63" fill-opacity="0.75"/><circle cx="171.2" cy="504.6" r="0.65" fill-opacity="0.57"/><circle cx="175.6" cy="505.6" r="0.73" fill-opacity="0.79"/><circle cx="178.7" cy="505.3" r="0.65" fill-opacity="0.52"/><circle cx="103.6" cy="507.9" r="0.82" fill-opacity="0.70"/><circle cx="109.2" cy="506.5" r="0.77" fill-opacity="0.77"/><circle cx="111.5" cy="509.3" r="0.82" fill-opacity="0.74"/><circle cx="117.0" cy="508.1" r="0.85" fill-opacity="0.65"/><circle cx="118.8" cy="507.1" r="0.61" fill-opacity="0.69"/><circle cx="124.4" cy="506.5" r="0.83" fill-opacity="0.56"/><circle cx="126.2" cy="509.2" r="0.79" fill-opacity="0.64"/><circle cx="129.2" cy="507.5" r="0.89" fill-opacity="0.63"/><circle cx="135.4" cy="506.5" r="0.70" fill-opacity="0.63"/><circle cx="137.6" cy="508.4" r="0.64" fill-opacity="0.71"/><circle cx="142.1" cy="506.9" r="0.84" fill-opacity="0.63"/><circle cx="146.7" cy="508.1" r="0.61" fill-opacity="0.61"/><circle cx="149.5" cy="508.6" r="0.74" fill-opacity="0.78"/><circle cx="153.1" cy="508.1" r="0.63" fill-opacity="0.50"/><circle cx="157.1" cy="508.9" r="0.83" fill-opacity="0.77"/><circle cx="166.1" cy="508.1" r="0.88" fill-opacity="0.77"/><circle cx="175.5" cy="508.3" r="0.72" fill-opacity="0.57"/><circle cx="179.8" cy="508.5" r="0.76" fill-opacity="0.51"/><circle cx="103.9" cy="510.8" r="0.66" fill-opacity="0.70"/><circle cx="107.4" cy="512.7" r="0.60" fill-opacity="0.79"/><circle cx="112.5" cy="510.9" r="0.81" fill-opacity="0.76"/><circle cx="114.7" cy="512.4" r="0.67" fill-opacity="0.53"/><circle cx="118.5" cy="510.7" r="0.69" fill-opacity="0.53"/><circle cx="123.3" cy="512.0" r="0.69" fill-opacity="0.73"/><circle cx="128.3" cy="510.2" r="0.69" fill-opacity="0.53"/><circle cx="131.0" cy="511.9" r="0.71" fill-opacity="0.79"/><circle cx="135.7" cy="511.3" r="0.79" fill-opacity="0.53"/><circle cx="138.4" cy="510.8" r="0.79" fill-opacity="0.54"/><circle cx="142.0" cy="511.5" r="0.65" fill-opacity="0.56"/><circle cx="145.8" cy="511.4" r="0.66" fill-opacity="0.60"/><circle cx="148.0" cy="511.8" r="0.74" fill-opacity="0.60"/><circle cx="155.1" cy="510.4" r="0.69" fill-opacity="0.74"/><circle cx="160.9" cy="510.7" r="0.85" fill-opacity="0.51"/><circle cx="171.5" cy="511.9" r="0.88" fill-opacity="0.73"/><circle cx="174.0" cy="512.8" r="0.88" fill-opacity="0.75"/><circle cx="104.7" cy="515.4" r="0.68" fill-opacity="0.73"/><circle cx="109.1" cy="514.7" r="0.82" fill-opacity="0.53"/><circle cx="110.7" cy="513.8" r="0.63" fill-opacity="0.70"/><circle cx="115.7" cy="515.7" r="0.78" fill-opacity="0.75"/><circle cx="120.4" cy="514.8" r="0.62" fill-opacity="0.77"/><circle cx="123.9" cy="516.3" r="0.65" fill-opacity="0.56"/><circle cx="127.9" cy="516.3" r="0.90" fill-opacity="0.58"/><circle cx="131.7" cy="514.9" r="0.78" fill-opacity="0.57"/><circle cx="134.1" cy="515.2" r="0.80" fill-opacity="0.60"/><circle cx="137.8" cy="515.0" r="0.82" fill-opacity="0.70"/><circle cx="142.8" cy="516.2" r="0.72" fill-opacity="0.69"/><circle cx="144.0" cy="515.7" r="0.76" fill-opacity="0.62"/><circle cx="153.5" cy="516.4" r="0.90" fill-opacity="0.73"/><circle cx="157.4" cy="514.3" r="0.81" fill-opacity="0.76"/><circle cx="159.5" cy="515.8" r="0.72" fill-opacity="0.63"/><circle cx="164.4" cy="514.2" r="0.79" fill-opacity="0.52"/><circle cx="168.5" cy="516.5" r="0.68" fill-opacity="0.73"/><circle cx="171.2" cy="514.8" r="0.63" fill-opacity="0.63"/><circle cx="176.0" cy="514.1" r="0.69" fill-opacity="0.50"/><circle cx="178.0" cy="516.2" r="0.88" fill-opacity="0.56"/><circle cx="104.7" cy="518.9" r="0.89" fill-opacity="0.79"/><circle cx="112.1" cy="519.4" r="0.76" fill-opacity="0.75"/><circle cx="120.4" cy="518.0" r="0.65" fill-opacity="0.68"/><circle cx="123.3" cy="517.8" r="0.66" fill-opacity="0.60"/><circle cx="127.2" cy="519.3" r="0.79" fill-opacity="0.62"/><circle cx="130.8" cy="519.3" r="0.62" fill-opacity="0.57"/><circle cx="135.6" cy="519.6" r="0.62" fill-opacity="0.74"/><circle cx="138.2" cy="518.0" r="0.62" fill-opacity="0.73"/><circle cx="142.0" cy="519.6" r="0.78" fill-opacity="0.62"/><circle cx="145.4" cy="518.2" r="0.68" fill-opacity="0.74"/><circle cx="149.7" cy="519.5" r="0.74" fill-opacity="0.74"/><circle cx="151.3" cy="520.0" r="0.82" fill-opacity="0.72"/><circle cx="156.2" cy="518.7" r="0.78" fill-opacity="0.76"/><circle cx="160.9" cy="520.3" r="0.68" fill-opacity="0.51"/><circle cx="164.3" cy="518.1" r="0.88" fill-opacity="0.53"/><circle cx="167.1" cy="520.2" r="0.70" fill-opacity="0.53"/><circle cx="170.7" cy="520.3" r="0.85" fill-opacity="0.58"/><circle cx="175.1" cy="519.8" r="0.68" fill-opacity="0.67"/><circle cx="178.9" cy="519.1" r="0.73" fill-opacity="0.62"/><circle cx="106.1" cy="522.7" r="0.63" fill-opacity="0.62"/><circle cx="108.9" cy="521.4" r="0.72" fill-opacity="0.64"/><circle cx="111.4" cy="523.9" r="0.84" fill-opacity="0.51"/><circle cx="115.8" cy="523.0" r="0.87" fill-opacity="0.56"/><circle cx="118.0" cy="523.6" r="0.68" fill-opacity="0.51"/><circle cx="124.5" cy="523.1" r="0.83" fill-opacity="0.62"/><circle cx="127.3" cy="523.6" r="0.68" fill-opacity="0.61"/><circle cx="129.9" cy="523.7" r="0.60" fill-opacity="0.51"/><circle cx="135.1" cy="522.9" r="0.83" fill-opacity="0.71"/><circle cx="138.2" cy="521.2" r="0.63" fill-opacity="0.62"/><circle cx="144.7" cy="524.1" r="0.89" fill-opacity="0.70"/><circle cx="148.8" cy="521.4" r="0.74" fill-opacity="0.54"/><circle cx="153.7" cy="522.4" r="0.81" fill-opacity="0.74"/><circle cx="156.2" cy="521.9" r="0.87" fill-opacity="0.65"/><circle cx="160.7" cy="523.7" r="0.89" fill-opacity="0.61"/><circle cx="163.1" cy="522.1" r="0.67" fill-opacity="0.78"/><circle cx="166.2" cy="521.4" r="0.66" fill-opacity="0.79"/><circle cx="172.2" cy="521.8" r="0.66" fill-opacity="0.78"/><circle cx="178.7" cy="522.2" r="0.83" fill-opacity="0.76"/></g>
<g stroke="#b9603f" stroke-linecap="round" fill="none" filter="url(#soft)"><path d="M120.4 480.0L119.4 480.9" stroke-width="0.94" stroke-opacity="0.50"/><path d="M128.1 519.6L128.0 520.9" stroke-width="0.76" stroke-opacity="0.42"/><path d="M115.7 516.2L117.2 516.8" stroke-width="0.96" stroke-opacity="0.36"/><path d="M124.0 501.0L122.7 502.2" stroke-width="1.02" stroke-opacity="0.26"/><path d="M154.8 503.5L154.4 504.9" stroke-width="1.09" stroke-opacity="0.63"/><path d="M134.4 494.5L135.6 496.2" stroke-width="1.02" stroke-opacity="0.56"/><path d="M148.2 475.7L147.1 476.9" stroke-width="0.76" stroke-opacity="0.46"/><path d="M170.8 490.8L170.5 493.0" stroke-width="0.83" stroke-opacity="0.25"/><path d="M128.0 485.6L128.8 487.0" stroke-width="1.05" stroke-opacity="0.59"/><path d="M146.9 500.4L145.4 501.4" stroke-width="0.98" stroke-opacity="0.44"/><path d="M104.2 510.3L104.3 511.0" stroke-width="0.82" stroke-opacity="0.52"/><path d="M128.4 466.3L128.2 466.7" stroke-width="0.86" stroke-opacity="0.29"/><path d="M118.0 484.8L117.5 485.9" stroke-width="1.03" stroke-opacity="0.58"/><path d="M118.4 469.7L119.6 470.7" stroke-width="0.90" stroke-opacity="0.54"/><path d="M154.3 483.5L154.2 484.4" stroke-width="0.82" stroke-opacity="0.55"/><path d="M143.2 513.4L143.4 513.7" stroke-width="0.97" stroke-opacity="0.38"/><path d="M164.2 476.3L164.9 477.3" stroke-width="0.92" stroke-opacity="0.31"/><path d="M102.7 492.1L103.5 493.5" stroke-width="1.15" stroke-opacity="0.63"/><path d="M174.7 467.8L174.5 468.4" stroke-width="0.96" stroke-opacity="0.52"/><path d="M106.0 486.6L105.0 487.5" stroke-width="0.90" stroke-opacity="0.55"/><path d="M110.2 490.6L108.3 490.7" stroke-width="1.07" stroke-opacity="0.52"/><path d="M158.2 485.1L157.6 487.2" stroke-width="0.99" stroke-opacity="0.49"/><path d="M159.3 505.3L158.4 506.3" stroke-width="1.06" stroke-opacity="0.42"/><path d="M170.7 494.5L171.2 494.9" stroke-width="1.11" stroke-opacity="0.34"/><path d="M106.0 487.2L106.4 488.3" stroke-width="1.08" stroke-opacity="0.32"/><path d="M159.8 462.6L160.5 463.6" stroke-width="0.81" stroke-opacity="0.56"/><path d="M112.9 468.5L113.7 468.6" stroke-width="1.03" stroke-opacity="0.30"/><path d="M120.2 463.4L121.1 465.0" stroke-width="1.05" stroke-opacity="0.46"/><path d="M105.4 505.9L106.0 506.5" stroke-width="0.97" stroke-opacity="0.65"/><path d="M154.1 488.2L154.0 489.7" stroke-width="0.91" stroke-opacity="0.53"/><path d="M105.3 512.4L105.1 513.2" stroke-width="0.89" stroke-opacity="0.44"/><path d="M158.8 468.6L159.6 469.4" stroke-width="1.00" stroke-opacity="0.44"/><path d="M162.0 520.9L162.2 522.6" stroke-width="0.96" stroke-opacity="0.31"/><path d="M161.5 480.7L161.0 481.9" stroke-width="0.93" stroke-opacity="0.37"/><path d="M123.8 519.0L125.9 519.2" stroke-width="0.87" stroke-opacity="0.28"/><path d="M163.2 487.8L163.6 488.2" stroke-width="0.77" stroke-opacity="0.56"/><path d="M170.6 483.5L172.2 484.2" stroke-width="0.89" stroke-opacity="0.51"/><path d="M122.5 469.2L122.9 469.2" stroke-width="0.98" stroke-opacity="0.65"/><path d="M167.9 479.4L168.6 479.6" stroke-width="0.76" stroke-opacity="0.39"/><path d="M139.9 490.0L139.5 490.4" stroke-width="1.10" stroke-opacity="0.48"/><path d="M121.6 506.5L119.8 506.8" stroke-width="1.06" stroke-opacity="0.32"/><path d="M135.9 465.9L137.7 467.3" stroke-width="0.87" stroke-opacity="0.61"/><path d="M107.9 493.0L108.5 494.3" stroke-width="1.02" stroke-opacity="0.51"/><path d="M159.5 493.4L159.4 494.0" stroke-width="0.98" stroke-opacity="0.39"/><path d="M114.5 476.9L114.7 477.8" stroke-width="1.02" stroke-opacity="0.26"/><path d="M132.7 515.8L132.8 516.4" stroke-width="0.96" stroke-opacity="0.57"/><path d="M173.3 477.3L174.7 477.6" stroke-width="0.87" stroke-opacity="0.36"/><path d="M161.2 501.5L160.2 503.4" stroke-width="0.94" stroke-opacity="0.32"/><path d="M172.8 496.1L172.0 496.6" stroke-width="0.96" stroke-opacity="0.59"/><path d="M149.5 507.7L149.5 508.1" stroke-width="0.80" stroke-opacity="0.25"/><path d="M140.3 462.6L138.2 462.8" stroke-width="0.97" stroke-opacity="0.54"/><path d="M160.4 507.7L159.1 508.7" stroke-width="0.96" stroke-opacity="0.56"/><path d="M124.8 511.6L125.3 512.0" stroke-width="0.96" stroke-opacity="0.62"/><path d="M168.5 491.1L169.9 492.5" stroke-width="0.81" stroke-opacity="0.27"/><path d="M147.2 516.5L147.2 518.1" stroke-width="0.96" stroke-opacity="0.40"/><path d="M155.6 515.3L156.3 516.1" stroke-width="1.02" stroke-opacity="0.39"/><path d="M107.5 486.3L106.3 487.4" stroke-width="0.95" stroke-opacity="0.43"/><path d="M136.4 504.0L136.7 505.5" stroke-width="1.13" stroke-opacity="0.38"/><path d="M160.1 479.1L159.9 481.1" stroke-width="0.88" stroke-opacity="0.31"/><path d="M144.9 480.3L144.3 481.0" stroke-width="1.15" stroke-opacity="0.45"/><path d="M134.3 495.5L133.8 496.3" stroke-width="0.82" stroke-opacity="0.58"/><path d="M126.2 486.9L124.7 487.0" stroke-width="0.78" stroke-opacity="0.50"/><path d="M154.0 490.4L153.7 490.9" stroke-width="0.97" stroke-opacity="0.48"/><path d="M168.8 478.3L168.3 478.5" stroke-width="1.14" stroke-opacity="0.46"/><path d="M148.6 517.7L147.0 518.0" stroke-width="1.04" stroke-opacity="0.50"/><path d="M158.7 521.8L158.8 523.0" stroke-width="0.83" stroke-opacity="0.33"/><path d="M143.6 504.6L144.9 504.6" stroke-width="1.14" stroke-opacity="0.41"/><path d="M142.5 502.5L141.7 502.8" stroke-width="1.05" stroke-opacity="0.33"/><path d="M136.8 520.7L135.3 521.3" stroke-width="1.04" stroke-opacity="0.33"/><path d="M177.3 470.6L175.9 471.3" stroke-width="0.81" stroke-opacity="0.60"/><path d="M170.2 509.3L171.3 509.7" stroke-width="1.00" stroke-opacity="0.27"/><path d="M143.9 507.4L144.4 508.2" stroke-width="0.76" stroke-opacity="0.27"/><path d="M131.1 517.4L130.0 518.9" stroke-width="1.10" stroke-opacity="0.55"/><path d="M159.7 474.4L159.7 476.4" stroke-width="0.98" stroke-opacity="0.51"/><path d="M136.3 513.2L136.0 515.3" stroke-width="0.83" stroke-opacity="0.59"/><path d="M106.7 510.0L108.2 511.7" stroke-width="0.92" stroke-opacity="0.42"/><path d="M116.7 494.6L117.8 495.3" stroke-width="1.01" stroke-opacity="0.51"/><path d="M160.5 489.2L159.8 490.2" stroke-width="0.82" stroke-opacity="0.49"/><path d="M160.9 512.3L161.3 513.3" stroke-width="0.97" stroke-opacity="0.50"/><path d="M102.4 506.9L104.7 507.3" stroke-width="0.94" stroke-opacity="0.62"/><path d="M145.6 485.8L147.0 486.9" stroke-width="0.89" stroke-opacity="0.54"/><path d="M124.2 486.7L124.1 487.9" stroke-width="0.92" stroke-opacity="0.63"/><path d="M145.3 469.5L143.9 469.7" stroke-width="1.05" stroke-opacity="0.53"/><path d="M146.2 484.4L148.3 485.2" stroke-width="1.14" stroke-opacity="0.64"/><path d="M153.3 471.1L153.1 471.9" stroke-width="1.06" stroke-opacity="0.60"/><path d="M127.1 491.8L126.2 492.0" stroke-width="0.86" stroke-opacity="0.33"/><path d="M171.5 472.4L173.0 473.9" stroke-width="1.05" stroke-opacity="0.54"/><path d="M141.9 511.7L142.9 513.3" stroke-width="1.12" stroke-opacity="0.27"/><path d="M131.0 486.4L129.8 488.6" stroke-width="1.14" stroke-opacity="0.58"/><path d="M160.2 514.4L160.8 514.7" stroke-width="1.00" stroke-opacity="0.64"/><path d="M135.6 483.6L136.4 485.6" stroke-width="0.94" stroke-opacity="0.31"/><path d="M150.8 495.6L151.1 495.6" stroke-width="1.08" stroke-opacity="0.36"/><path d="M149.9 502.8L148.8 504.1" stroke-width="0.79" stroke-opacity="0.26"/><path d="M141.1 461.7L140.2 462.9" stroke-width="0.78" stroke-opacity="0.44"/><path d="M118.7 486.8L120.5 487.1" stroke-width="0.86" stroke-opacity="0.50"/><path d="M154.7 476.0L155.8 476.7" stroke-width="1.15" stroke-opacity="0.56"/><path d="M162.9 486.4L161.6 486.5" stroke-width="0.86" stroke-opacity="0.32"/><path d="M130.9 474.1L132.8 474.8" stroke-width="0.79" stroke-opacity="0.42"/><path d="M105.1 522.3L105.7 523.6" stroke-width="1.01" stroke-opacity="0.31"/><path d="M107.1 514.1L107.4 514.3" stroke-width="1.13" stroke-opacity="0.63"/><path d="M124.4 472.7L124.0 472.8" stroke-width="0.94" stroke-opacity="0.46"/><path d="M138.5 471.9L139.0 473.1" stroke-width="0.81" stroke-opacity="0.26"/><path d="M165.2 465.5L164.4 467.9" stroke-width="1.09" stroke-opacity="0.65"/><path d="M125.8 509.4L125.7 510.0" stroke-width="0.96" stroke-opacity="0.58"/><path d="M160.1 471.7L159.5 473.8" stroke-width="0.81" stroke-opacity="0.38"/><path d="M171.0 468.6L171.3 469.5" stroke-width="1.06" stroke-opacity="0.35"/><path d="M117.2 523.1L115.3 523.8" stroke-width="0.90" stroke-opacity="0.65"/><path d="M125.7 466.3L127.6 466.3" stroke-width="1.00" stroke-opacity="0.36"/><path d="M123.5 519.1L124.7 520.5" stroke-width="1.02" stroke-opacity="0.53"/><path d="M169.4 490.6L167.3 491.5" stroke-width="0.99" stroke-opacity="0.52"/><path d="M175.1 505.3L176.7 507.0" stroke-width="0.91" stroke-opacity="0.38"/><path d="M130.7 517.1L130.1 517.8" stroke-width="0.85" stroke-opacity="0.29"/><path d="M172.2 487.7L172.4 488.3" stroke-width="1.06" stroke-opacity="0.59"/><path d="M137.7 484.3L138.4 485.6" stroke-width="1.01" stroke-opacity="0.62"/><path d="M174.6 499.2L174.4 500.5" stroke-width="1.09" stroke-opacity="0.35"/><path d="M171.5 513.0L169.9 514.4" stroke-width="0.96" stroke-opacity="0.51"/><path d="M122.1 521.6L120.1 522.0" stroke-width="0.95" stroke-opacity="0.49"/><path d="M103.2 477.8L104.5 479.6" stroke-width="0.77" stroke-opacity="0.53"/><path d="M121.4 464.4L120.6 465.0" stroke-width="0.90" stroke-opacity="0.51"/></g>
<ellipse cx="136.7" cy="500.6" rx="1.3" ry="3.5" fill="#eef0f2" opacity="0.85" filter="url(#soft2)"/>
<path d="M105.8 521.0h9" stroke="#fff" stroke-width="0.8" opacity="0.6"/>
</g>
<g clip-path="url(#c02)">
<rect x="179.8" y="461.6" width="74.60" height="62.40" fill="#dfdbd8"/>
<rect x="179.8" y="461.6" width="74.60" height="62.40" fill="#fff" filter="url(#lnoise)" opacity="0.35"/>
<rect x="179.8" y="461.6" width="74.60" height="62.40" fill="#fff" filter="url(#lnoise2)" opacity="0.35"/>
<g fill="#90a8cc" filter="url(#soft)"><circle cx="181.8" cy="463.1" r="0.78" fill-opacity="0.69"/><circle cx="192.0" cy="462.7" r="0.90" fill-opacity="0.64"/><circle cx="196.4" cy="463.9" r="0.65" fill-opacity="0.69"/><circle cx="200.2" cy="464.2" r="0.80" fill-opacity="0.52"/><circle cx="204.1" cy="462.9" r="0.61" fill-opacity="0.76"/><circle cx="208.2" cy="464.6" r="0.81" fill-opacity="0.78"/><circle cx="212.1" cy="463.3" r="0.88" fill-opacity="0.76"/><circle cx="217.8" cy="464.8" r="0.73" fill-opacity="0.69"/><circle cx="222.4" cy="463.1" r="0.71" fill-opacity="0.68"/><circle cx="227.2" cy="464.0" r="0.88" fill-opacity="0.76"/><circle cx="230.3" cy="462.5" r="0.86" fill-opacity="0.79"/><circle cx="233.7" cy="464.1" r="0.66" fill-opacity="0.75"/><circle cx="236.5" cy="462.2" r="0.86" fill-opacity="0.80"/><circle cx="244.3" cy="462.4" r="0.69" fill-opacity="0.73"/><circle cx="246.9" cy="463.8" r="0.61" fill-opacity="0.72"/><circle cx="253.1" cy="464.9" r="0.75" fill-opacity="0.80"/><circle cx="254.4" cy="463.7" r="0.61" fill-opacity="0.56"/><circle cx="182.0" cy="466.1" r="0.61" fill-opacity="0.76"/><circle cx="186.7" cy="468.3" r="0.71" fill-opacity="0.64"/><circle cx="189.5" cy="467.4" r="0.77" fill-opacity="0.69"/><circle cx="192.8" cy="466.9" r="0.82" fill-opacity="0.57"/><circle cx="197.9" cy="467.2" r="0.76" fill-opacity="0.50"/><circle cx="200.4" cy="465.7" r="0.78" fill-opacity="0.69"/><circle cx="207.5" cy="467.7" r="0.71" fill-opacity="0.71"/><circle cx="209.8" cy="465.8" r="0.80" fill-opacity="0.79"/><circle cx="214.8" cy="467.4" r="0.70" fill-opacity="0.61"/><circle cx="218.3" cy="467.4" r="0.69" fill-opacity="0.61"/><circle cx="220.9" cy="467.4" r="0.82" fill-opacity="0.59"/><circle cx="226.9" cy="466.4" r="0.66" fill-opacity="0.63"/><circle cx="228.6" cy="466.6" r="0.70" fill-opacity="0.75"/><circle cx="234.5" cy="466.2" r="0.70" fill-opacity="0.70"/><circle cx="237.0" cy="466.3" r="0.64" fill-opacity="0.66"/><circle cx="241.8" cy="468.2" r="0.66" fill-opacity="0.58"/><circle cx="245.0" cy="468.1" r="0.70" fill-opacity="0.54"/><circle cx="249.1" cy="466.5" r="0.70" fill-opacity="0.63"/><circle cx="251.7" cy="468.4" r="0.65" fill-opacity="0.50"/><circle cx="256.8" cy="468.6" r="0.73" fill-opacity="0.79"/><circle cx="180.8" cy="471.6" r="0.85" fill-opacity="0.70"/><circle cx="184.7" cy="470.4" r="0.67" fill-opacity="0.52"/><circle cx="188.4" cy="471.8" r="0.61" fill-opacity="0.77"/><circle cx="194.0" cy="472.0" r="0.87" fill-opacity="0.67"/><circle cx="199.2" cy="470.3" r="0.80" fill-opacity="0.66"/><circle cx="205.1" cy="471.2" r="0.70" fill-opacity="0.58"/><circle cx="207.5" cy="471.7" r="0.71" fill-opacity="0.56"/><circle cx="212.2" cy="469.9" r="0.84" fill-opacity="0.78"/><circle cx="215.9" cy="469.4" r="0.79" fill-opacity="0.76"/><circle cx="221.7" cy="470.9" r="0.73" fill-opacity="0.64"/><circle cx="224.6" cy="469.5" r="0.64" fill-opacity="0.54"/><circle cx="234.5" cy="469.6" r="0.75" fill-opacity="0.59"/><circle cx="236.7" cy="471.3" r="0.78" fill-opacity="0.61"/><circle cx="240.3" cy="469.7" r="0.77" fill-opacity="0.71"/><circle cx="243.3" cy="469.9" r="0.71" fill-opacity="0.68"/><circle cx="247.9" cy="471.7" r="0.79" fill-opacity="0.63"/><circle cx="251.9" cy="471.5" r="0.73" fill-opacity="0.71"/><circle cx="254.9" cy="471.0" r="0.81" fill-opacity="0.52"/><circle cx="181.4" cy="475.7" r="0.88" fill-opacity="0.61"/><circle cx="186.2" cy="473.8" r="0.74" fill-opacity="0.54"/><circle cx="189.5" cy="475.7" r="0.84" fill-opacity="0.70"/><circle cx="192.9" cy="473.4" r="0.78" fill-opacity="0.50"/><circle cx="197.3" cy="473.2" r="0.63" fill-opacity="0.53"/><circle cx="199.2" cy="473.1" r="0.85" fill-opacity="0.54"/><circle cx="204.4" cy="475.5" r="0.89" fill-opacity="0.67"/><circle cx="206.2" cy="475.3" r="0.75" fill-opacity="0.71"/><circle cx="216.2" cy="473.3" r="0.70" fill-opacity="0.67"/><circle cx="217.9" cy="473.6" r="0.67" fill-opacity="0.68"/><circle cx="222.0" cy="474.2" r="0.72" fill-opacity="0.61"/><circle cx="224.8" cy="474.6" r="0.89" fill-opacity="0.62"/><circle cx="228.7" cy="475.1" r="0.83" fill-opacity="0.70"/><circle cx="233.4" cy="475.0" r="0.87" fill-opacity="0.54"/><circle cx="242.1" cy="474.6" r="0.73" fill-opacity="0.72"/><circle cx="243.9" cy="473.7" r="0.78" fill-opacity="0.59"/><circle cx="248.8" cy="475.9" r="0.69" fill-opacity="0.71"/><circle cx="253.0" cy="474.8" r="0.68" fill-opacity="0.57"/><circle cx="181.3" cy="477.3" r="0.71" fill-opacity="0.60"/><circle cx="184.3" cy="479.7" r="0.74" fill-opacity="0.68"/><circle cx="190.0" cy="479.2" r="0.77" fill-opacity="0.64"/><circle cx="193.8" cy="478.0" r="0.82" fill-opacity="0.79"/><circle cx="195.6" cy="477.5" r="0.82" fill-opacity="0.70"/><circle cx="201.2" cy="477.5" r="0.66" fill-opacity="0.58"/><circle cx="204.5" cy="479.3" r="0.87" fill-opacity="0.58"/><circle cx="207.0" cy="478.0" r="0.82" fill-opacity="0.53"/><circle cx="214.3" cy="477.8" r="0.77" fill-opacity="0.70"/><circle cx="222.2" cy="478.2" r="0.66" fill-opacity="0.68"/><circle cx="225.7" cy="478.4" r="0.64" fill-opacity="0.58"/><circle cx="228.6" cy="479.4" r="0.87" fill-opacity="0.53"/><circle cx="233.1" cy="479.1" r="0.83" fill-opacity="0.59"/><circle cx="237.6" cy="479.2" r="0.68" fill-opacity="0.73"/><circle cx="241.4" cy="478.4" r="0.63" fill-opacity="0.65"/><circle cx="245.2" cy="478.8" r="0.77" fill-opacity="0.55"/><circle cx="248.6" cy="477.3" r="0.87" fill-opacity="0.70"/><circle cx="253.2" cy="477.2" r="0.70" fill-opacity="0.72"/><circle cx="255.8" cy="478.7" r="0.74" fill-opacity="0.59"/><circle cx="180.4" cy="482.6" r="0.83" fill-opacity="0.66"/><circle cx="184.9" cy="481.3" r="0.72" fill-opacity="0.76"/><circle cx="192.0" cy="482.7" r="0.71" fill-opacity="0.60"/><circle cx="196.6" cy="482.8" r="0.71" fill-opacity="0.75"/><circle cx="202.7" cy="480.8" r="0.83" fill-opacity="0.72"/><circle cx="206.6" cy="481.7" r="0.82" fill-opacity="0.74"/><circle cx="211.5" cy="480.9" r="0.72" fill-opacity="0.56"/><circle cx="215.2" cy="481.1" r="0.68" fill-opacity="0.73"/><circle cx="223.5" cy="483.3" r="0.71" fill-opacity="0.67"/><circle cx="226.4" cy="483.4" r="0.81" fill-opacity="0.59"/><circle cx="229.7" cy="482.3" r="0.82" fill-opacity="0.50"/><circle cx="233.9" cy="481.9" r="0.76" fill-opacity="0.64"/><circle cx="237.2" cy="480.6" r="0.75" fill-opacity="0.69"/><circle cx="241.0" cy="483.3" r="0.87" fill-opacity="0.54"/><circle cx="244.9" cy="480.6" r="0.71" fill-opacity="0.57"/><circle cx="253.2" cy="481.4" r="0.86" fill-opacity="0.71"/><circle cx="256.7" cy="482.2" r="0.88" fill-opacity="0.71"/><circle cx="181.2" cy="486.6" r="0.88" fill-opacity="0.76"/><circle cx="186.1" cy="485.6" r="0.63" fill-opacity="0.51"/><circle cx="191.7" cy="485.6" r="0.81" fill-opacity="0.66"/><circle cx="196.9" cy="485.1" r="0.74" fill-opacity="0.73"/><circle cx="199.2" cy="486.8" r="0.82" fill-opacity="0.61"/><circle cx="203.9" cy="485.9" r="0.67" fill-opacity="0.50"/><circle cx="208.4" cy="484.6" r="0.74" fill-opacity="0.56"/><circle cx="210.3" cy="485.4" r="0.65" fill-opacity="0.51"/><circle cx="218.6" cy="484.3" r="0.61" fill-opacity="0.63"/><circle cx="223.0" cy="484.3" r="0.72" fill-opacity="0.62"/><circle cx="228.9" cy="484.4" r="0.74" fill-opacity="0.55"/><circle cx="233.0" cy="484.5" r="0.62" fill-opacity="0.72"/><circle cx="238.0" cy="485.5" r="0.88" fill-opacity="0.59"/><circle cx="240.2" cy="486.6" r="0.79" fill-opacity="0.60"/><circle cx="249.6" cy="485.9" r="0.60" fill-opacity="0.51"/><circle cx="254.3" cy="484.3" r="0.80" fill-opacity="0.77"/><circle cx="183.1" cy="489.3" r="0.84" fill-opacity="0.78"/><circle cx="184.0" cy="488.8" r="0.78" fill-opacity="0.78"/><circle cx="193.8" cy="488.2" r="0.72" fill-opacity="0.60"/><circle cx="197.7" cy="488.4" r="0.82" fill-opacity="0.72"/><circle cx="200.3" cy="490.6" r="0.71" fill-opacity="0.62"/><circle cx="204.7" cy="489.3" r="0.68" fill-opacity="0.55"/><circle cx="207.9" cy="490.0" r="0.72" fill-opacity="0.65"/><circle cx="211.9" cy="487.9" r="0.74" fill-opacity="0.73"/><circle cx="213.8" cy="488.6" r="0.85" fill-opacity="0.69"/><circle cx="219.8" cy="489.2" r="0.87" fill-opacity="0.72"/><circle cx="222.0" cy="488.1" r="0.72" fill-opacity="0.79"/><circle cx="228.6" cy="488.1" r="0.79" fill-opacity="0.57"/><circle cx="237.6" cy="489.6" r="0.60" fill-opacity="0.57"/><circle cx="240.0" cy="489.5" r="0.73" fill-opacity="0.73"/><circle cx="245.4" cy="489.5" r="0.66" fill-opacity="0.55"/><circle cx="250.8" cy="487.9" r="0.89" fill-opacity="0.56"/><circle cx="254.4" cy="489.2" r="0.67" fill-opacity="0.75"/><circle cx="182.1" cy="493.8" r="0.86" fill-opacity="0.60"/><circle cx="185.2" cy="491.9" r="0.85" fill-opacity="0.68"/><circle cx="188.2" cy="493.2" r="0.74" fill-opacity="0.72"/><circle cx="196.4" cy="491.8" r="0.77" fill-opacity="0.72"/><circle cx="200.6" cy="493.4" r="0.66" fill-opacity="0.61"/><circle cx="203.4" cy="492.8" r="0.63" fill-opacity="0.57"/><circle cx="208.8" cy="493.7" r="0.86" fill-opacity="0.80"/><circle cx="212.5" cy="493.2" r="0.73" fill-opacity="0.78"/><circle cx="216.3" cy="493.0" r="0.83" fill-opacity="0.62"/><circle cx="219.9" cy="492.4" r="0.88" fill-opacity="0.56"/><circle cx="225.4" cy="493.1" r="0.79" fill-opacity="0.51"/><circle cx="229.1" cy="492.8" r="0.70" fill-opacity="0.72"/><circle cx="232.8" cy="491.9" r="0.69" fill-opacity="0.62"/><circle cx="241.6" cy="493.6" r="0.89" fill-opacity="0.79"/><circle cx="244.2" cy="492.0" r="0.69" fill-opacity="0.64"/><circle cx="248.4" cy="492.6" r="0.86" fill-opacity="0.59"/><circle cx="253.1" cy="494.0" r="0.69" fill-opacity="0.57"/><circle cx="254.2" cy="492.0" r="0.76" fill-opacity="0.66"/><circle cx="180.3" cy="495.9" r="0.83" fill-opacity="0.64"/><circle cx="186.2" cy="498.2" r="0.61" fill-opacity="0.56"/><circle cx="192.3" cy="495.4" r="0.76" fill-opacity="0.53"/><circle cx="195.7" cy="497.6" r="0.73" fill-opacity="0.58"/><circle cx="204.2" cy="497.3" r="0.87" fill-opacity="0.74"/><circle cx="206.5" cy="497.5" r="0.84" fill-opacity="0.65"/><circle cx="211.4" cy="496.1" r="0.65" fill-opacity="0.51"/><circle cx="216.1" cy="498.0" r="0.74" fill-opacity="0.70"/><circle cx="219.6" cy="497.1" r="0.72" fill-opacity="0.66"/><circle cx="221.4" cy="497.3" r="0.90" fill-opacity="0.66"/><circle cx="225.6" cy="496.6" r="0.84" fill-opacity="0.64"/><circle cx="228.7" cy="496.2" r="0.76" fill-opacity="0.62"/><circle cx="234.4" cy="498.0" r="0.78" fill-opacity="0.51"/><circle cx="237.3" cy="496.7" r="0.68" fill-opacity="0.71"/><circle cx="239.7" cy="497.2" r="0.71" fill-opacity="0.65"/><circle cx="245.9" cy="497.2" r="0.66" fill-opacity="0.78"/><circle cx="247.9" cy="497.7" r="0.69" fill-opacity="0.58"/><circle cx="253.3" cy="496.2" r="0.72" fill-opacity="0.58"/><circle cx="254.9" cy="498.2" r="0.62" fill-opacity="0.57"/><circle cx="180.4" cy="500.5" r="0.82" fill-opacity="0.75"/><circle cx="186.3" cy="499.0" r="0.68" fill-opacity="0.79"/><circle cx="192.7" cy="499.8" r="0.76" fill-opacity="0.51"/><circle cx="197.8" cy="499.4" r="0.87" fill-opacity="0.55"/><circle cx="200.7" cy="500.9" r="0.64" fill-opacity="0.52"/><circle cx="202.9" cy="499.5" r="0.85" fill-opacity="0.76"/><circle cx="211.4" cy="500.1" r="0.63" fill-opacity="0.62"/><circle cx="214.3" cy="499.4" r="0.64" fill-opacity="0.54"/><circle cx="219.9" cy="499.2" r="0.66" fill-opacity="0.78"/><circle cx="223.8" cy="499.7" r="0.71" fill-opacity="0.79"/><circle cx="226.7" cy="499.9" r="0.61" fill-opacity="0.60"/><circle cx="230.6" cy="500.7" r="0.74" fill-opacity="0.66"/><circle cx="233.6" cy="501.4" r="0.66" fill-opacity="0.68"/><circle cx="238.2" cy="499.5" r="0.89" fill-opacity="0.75"/><circle cx="240.2" cy="499.6" r="0.62" fill-opacity="0.79"/><circle cx="245.7" cy="499.3" r="0.60" fill-opacity="0.76"/><circle cx="249.7" cy="501.0" r="0.76" fill-opacity="0.73"/><circle cx="255.5" cy="499.4" r="0.78" fill-opacity="0.60"/><circle cx="181.3" cy="503.6" r="0.71" fill-opacity="0.68"/><circle cx="186.6" cy="505.2" r="0.85" fill-opacity="0.59"/><circle cx="188.4" cy="503.0" r="0.75" fill-opacity="0.72"/><circle cx="193.2" cy="503.5" r="0.89" fill-opacity="0.64"/><circle cx="196.5" cy="505.3" r="0.90" fill-opacity="0.66"/><circle cx="200.5" cy="502.9" r="0.73" fill-opacity="0.75"/><circle cx="202.5" cy="505.2" r="0.72" fill-opacity="0.79"/><circle cx="206.7" cy="504.3" r="0.87" fill-opacity="0.63"/><circle cx="211.9" cy="503.7" r="0.69" fill-opacity="0.65"/><circle cx="214.6" cy="504.6" r="0.86" fill-opacity="0.68"/><circle cx="217.8" cy="503.8" r="0.78" fill-opacity="0.54"/><circle cx="225.4" cy="502.8" r="0.76" fill-opacity="0.78"/><circle cx="230.5" cy="505.1" r="0.85" fill-opacity="0.77"/><circle cx="234.0" cy="503.0" r="0.86" fill-opacity="0.61"/><circle cx="238.3" cy="503.5" r="0.66" fill-opacity="0.75"/><circle cx="239.6" cy="502.8" r="0.71" fill-opacity="0.50"/><circle cx="243.6" cy="503.5" r="0.72" fill-opacity="0.65"/><circle cx="248.6" cy="504.6" r="0.73" fill-opacity="0.53"/><circle cx="252.5" cy="502.9" r="0.73" fill-opacity="0.73"/><circle cx="254.4" cy="502.7" r="0.74" fill-opacity="0.63"/><circle cx="182.6" cy="507.4" r="0.73" fill-opacity="0.67"/><circle cx="184.5" cy="507.5" r="0.63" fill-opacity="0.69"/><circle cx="192.8" cy="508.1" r="0.63" fill-opacity="0.57"/><circle cx="197.5" cy="508.0" r="0.69" fill-opacity="0.79"/><circle cx="200.2" cy="507.0" r="0.69" fill-opacity="0.77"/><circle cx="203.9" cy="508.2" r="0.71" fill-opacity="0.73"/><circle cx="208.6" cy="508.6" r="0.66" fill-opacity="0.52"/><circle cx="210.7" cy="506.9" r="0.86" fill-opacity="0.56"/><circle cx="216.2" cy="506.7" r="0.87" fill-opacity="0.62"/><circle cx="217.7" cy="506.5" r="0.75" fill-opacity="0.62"/><circle cx="223.3" cy="506.5" r="0.72" fill-opacity="0.62"/><circle cx="225.3" cy="507.1" r="0.81" fill-opacity="0.60"/><circle cx="233.3" cy="508.0" r="0.67" fill-opacity="0.71"/><circle cx="237.7" cy="508.2" r="0.65" fill-opacity="0.73"/><circle cx="241.0" cy="508.1" r="0.79" fill-opacity="0.63"/><circle cx="249.3" cy="507.8" r="0.77" fill-opacity="0.58"/><circle cx="252.5" cy="507.0" r="0.85" fill-opacity="0.80"/><circle cx="257.1" cy="507.8" r="0.65" fill-opacity="0.72"/><circle cx="182.3" cy="511.8" r="0.63" fill-opacity="0.66"/><circle cx="185.3" cy="511.7" r="0.86" fill-opacity="0.63"/><circle cx="189.3" cy="512.5" r="0.66" fill-opacity="0.53"/><circle cx="192.9" cy="511.0" r="0.87" fill-opacity="0.77"/><circle cx="197.9" cy="512.5" r="0.82" fill-opacity="0.59"/><circle cx="204.5" cy="511.1" r="0.74" fill-opacity="0.67"/><circle cx="208.1" cy="511.7" r="0.72" fill-opacity="0.53"/><circle cx="210.7" cy="512.2" r="0.65" fill-opacity="0.62"/><circle cx="214.7" cy="511.8" r="0.63" fill-opacity="0.52"/><circle cx="217.8" cy="511.6" r="0.65" fill-opacity="0.53"/><circle cx="223.6" cy="512.6" r="0.75" fill-opacity="0.62"/><circle cx="229.2" cy="512.9" r="0.64" fill-opacity="0.78"/><circle cx="233.3" cy="510.8" r="0.89" fill-opacity="0.56"/><circle cx="237.2" cy="510.7" r="0.67" fill-opacity="0.80"/><circle cx="241.5" cy="512.7" r="0.63" fill-opacity="0.71"/><circle cx="243.7" cy="511.4" r="0.89" fill-opacity="0.60"/><circle cx="247.3" cy="512.0" r="0.68" fill-opacity="0.65"/><circle cx="253.0" cy="512.3" r="0.75" fill-opacity="0.71"/><circle cx="256.6" cy="510.8" r="0.76" fill-opacity="0.68"/><circle cx="180.3" cy="514.3" r="0.79" fill-opacity="0.56"/><circle cx="185.4" cy="516.6" r="0.85" fill-opacity="0.72"/><circle cx="187.7" cy="515.4" r="0.82" fill-opacity="0.78"/><circle cx="191.7" cy="516.7" r="0.82" fill-opacity="0.65"/><circle cx="195.4" cy="515.4" r="0.80" fill-opacity="0.68"/><circle cx="199.1" cy="515.6" r="0.87" fill-opacity="0.54"/><circle cx="210.9" cy="515.1" r="0.90" fill-opacity="0.68"/><circle cx="215.5" cy="513.8" r="0.68" fill-opacity="0.71"/><circle cx="217.3" cy="515.3" r="0.70" fill-opacity="0.79"/><circle cx="225.7" cy="516.2" r="0.73" fill-opacity="0.70"/><circle cx="228.9" cy="515.1" r="0.84" fill-opacity="0.60"/><circle cx="233.2" cy="514.1" r="0.69" fill-opacity="0.67"/><circle cx="237.4" cy="514.6" r="0.61" fill-opacity="0.51"/><circle cx="240.0" cy="515.5" r="0.68" fill-opacity="0.73"/><circle cx="245.0" cy="515.9" r="0.76" fill-opacity="0.63"/><circle cx="247.0" cy="516.1" r="0.75" fill-opacity="0.53"/><circle cx="252.2" cy="515.6" r="0.73" fill-opacity="0.54"/><circle cx="254.7" cy="514.9" r="0.90" fill-opacity="0.54"/><circle cx="181.6" cy="518.2" r="0.88" fill-opacity="0.62"/><circle cx="187.6" cy="519.6" r="0.86" fill-opacity="0.77"/><circle cx="195.9" cy="518.9" r="0.69" fill-opacity="0.59"/><circle cx="200.5" cy="517.7" r="0.89" fill-opacity="0.51"/><circle cx="202.9" cy="517.7" r="0.82" fill-opacity="0.66"/><circle cx="207.6" cy="519.3" r="0.62" fill-opacity="0.70"/><circle cx="212.6" cy="517.5" r="0.62" fill-opacity="0.70"/><circle cx="214.7" cy="519.6" r="0.77" fill-opacity="0.62"/><circle cx="219.0" cy="517.6" r="0.69" fill-opacity="0.72"/><circle cx="222.3" cy="518.2" r="0.71" fill-opacity="0.70"/><circle cx="227.4" cy="518.9" r="0.66" fill-opacity="0.60"/><circle cx="233.7" cy="519.3" r="0.67" fill-opacity="0.55"/><circle cx="240.9" cy="518.2" r="0.87" fill-opacity="0.67"/><circle cx="244.3" cy="517.6" r="0.82" fill-opacity="0.73"/><circle cx="248.9" cy="518.3" r="0.67" fill-opacity="0.57"/><circle cx="252.3" cy="519.4" r="0.82" fill-opacity="0.53"/><circle cx="255.6" cy="518.6" r="0.75" fill-opacity="0.63"/><circle cx="181.3" cy="523.1" r="0.81" fill-opacity="0.77"/><circle cx="186.5" cy="523.5" r="0.81" fill-opacity="0.79"/><circle cx="189.9" cy="523.8" r="0.64" fill-opacity="0.68"/><circle cx="192.1" cy="523.7" r="0.87" fill-opacity="0.63"/><circle cx="195.6" cy="523.6" r="0.73" fill-opacity="0.59"/><circle cx="201.4" cy="521.9" r="0.61" fill-opacity="0.78"/><circle cx="203.5" cy="524.1" r="0.68" fill-opacity="0.53"/><circle cx="206.8" cy="521.8" r="0.88" fill-opacity="0.57"/><circle cx="210.8" cy="522.1" r="0.66" fill-opacity="0.66"/><circle cx="214.6" cy="522.7" r="0.69" fill-opacity="0.75"/><circle cx="219.4" cy="523.6" r="0.62" fill-opacity="0.58"/><circle cx="221.3" cy="524.0" r="0.87" fill-opacity="0.77"/><circle cx="224.9" cy="522.4" r="0.62" fill-opacity="0.77"/><circle cx="229.1" cy="524.0" r="0.66" fill-opacity="0.78"/><circle cx="233.9" cy="521.5" r="0.87" fill-opacity="0.62"/><circle cx="237.6" cy="522.9" r="0.68" fill-opacity="0.54"/><circle cx="239.4" cy="523.7" r="0.70" fill-opacity="0.55"/><circle cx="243.4" cy="522.1" r="0.76" fill-opacity="0.62"/><circle cx="247.6" cy="522.6" r="0.83" fill-opacity="0.63"/><circle cx="251.9" cy="521.5" r="0.65" fill-opacity="0.75"/><circle cx="255.3" cy="522.7" r="0.85" fill-opacity="0.61"/></g>
<g stroke="#b9603f" stroke-linecap="round" fill="none" filter="url(#soft)"><path d="M206.8 484.3L206.8 484.6" stroke-width="0.97" stroke-opacity="0.44"/><path d="M212.6 490.8L214.4 491.4" stroke-width="0.82" stroke-opacity="0.64"/><path d="M244.6 471.5L244.3 473.5" stroke-width="0.85" stroke-opacity="0.28"/><path d="M242.0 513.3L242.8 515.4" stroke-width="1.14" stroke-opacity="0.27"/><path d="M188.4 508.7L187.1 508.7" stroke-width="1.05" stroke-opacity="0.57"/><path d="M229.6 516.0L231.0 516.4" stroke-width="0.78" stroke-opacity="0.61"/><path d="M185.8 513.1L186.6 513.7" stroke-width="1.01" stroke-opacity="0.26"/><path d="M233.6 463.4L232.8 464.5" stroke-width="1.12" stroke-opacity="0.34"/><path d="M234.5 499.7L236.1 500.8" stroke-width="1.03" stroke-opacity="0.26"/><path d="M220.2 521.9L219.5 522.3" stroke-width="0.98" stroke-opacity="0.30"/><path d="M213.7 493.6L212.3 494.7" stroke-width="0.80" stroke-opacity="0.54"/><path d="M243.8 478.8L244.0 479.6" stroke-width="0.82" stroke-opacity="0.61"/><path d="M209.6 493.5L208.2 494.7" stroke-width="0.88" stroke-opacity="0.38"/><path d="M237.8 479.8L237.7 480.3" stroke-width="1.12" stroke-opacity="0.54"/><path d="M209.7 520.9L210.3 522.0" stroke-width="0.84" stroke-opacity="0.29"/><path d="M225.2 483.3L224.0 485.4" stroke-width="1.01" stroke-opacity="0.43"/><path d="M225.3 499.8L224.1 500.5" stroke-width="0.96" stroke-opacity="0.45"/><path d="M194.1 510.1L194.1 511.1" stroke-width="1.09" stroke-opacity="0.28"/><path d="M212.9 505.6L212.8 506.4" stroke-width="0.85" stroke-opacity="0.30"/><path d="M222.8 461.3L222.9 462.0" stroke-width="0.83" stroke-opacity="0.63"/><path d="M221.1 479.7L222.9 479.7" stroke-width="1.08" stroke-opacity="0.52"/><path d="M212.5 491.9L212.7 492.3" stroke-width="1.07" stroke-opacity="0.38"/><path d="M226.1 497.5L226.8 498.7" stroke-width="1.09" stroke-opacity="0.46"/><path d="M184.1 496.1L185.2 496.1" stroke-width="0.96" stroke-opacity="0.39"/><path d="M182.4 471.3L182.8 471.6" stroke-width="1.09" stroke-opacity="0.48"/></g>
<ellipse cx="240.7" cy="517.0" rx="3.0" ry="4.5" fill="#eef0f2" opacity="0.85" filter="url(#soft2)"/>
<path d="M199.3 493.8L207.8 491.4" stroke="#111" stroke-width="0.9"/><path d="M211.8 490.2L208.3 493.3L207.2 489.4Z" fill="#111"/>
<path d="M198.4 517.6L206.2 515.9" stroke="#111" stroke-width="0.9"/><path d="M210.3 515.0L206.6 517.9L205.8 513.9Z" fill="#111"/>
<path d="M182.8 521.0h9" stroke="#fff" stroke-width="0.8" opacity="0.6"/>
</g>
<g clip-path="url(#c03)">
<rect x="256.5" y="461.6" width="74.90" height="62.40" fill="#dcd2cc"/>
<rect x="256.5" y="461.6" width="74.90" height="62.40" fill="#fff" filter="url(#lnoise)" opacity="0.35"/>
<rect x="256.5" y="461.6" width="74.90" height="62.40" fill="#fff" filter="url(#lnoise2)" opacity="0.35"/>
<g fill="#90a8cc" filter="url(#soft)"><circle cx="257.2" cy="463.1" r="0.65" fill-opacity="0.52"/><circle cx="263.3" cy="464.3" r="0.83" fill-opacity="0.57"/><circle cx="265.1" cy="462.5" r="0.63" fill-opacity="0.56"/><circle cx="270.4" cy="464.4" r="0.84" fill-opacity="0.56"/><circle cx="273.5" cy="464.1" r="0.86" fill-opacity="0.76"/><circle cx="281.1" cy="463.5" r="0.65" fill-opacity="0.64"/><circle cx="289.0" cy="463.6" r="0.69" fill-opacity="0.77"/><circle cx="292.8" cy="464.5" r="0.75" fill-opacity="0.62"/><circle cx="295.1" cy="462.4" r="0.69" fill-opacity="0.74"/><circle cx="305.8" cy="463.6" r="0.74" fill-opacity="0.60"/><circle cx="309.2" cy="463.2" r="0.66" fill-opacity="0.69"/><circle cx="313.4" cy="464.2" r="0.70" fill-opacity="0.67"/><circle cx="316.4" cy="462.2" r="0.67" fill-opacity="0.73"/><circle cx="320.5" cy="462.9" r="0.65" fill-opacity="0.64"/><circle cx="329.8" cy="464.8" r="0.82" fill-opacity="0.79"/><circle cx="259.7" cy="468.0" r="0.72" fill-opacity="0.78"/><circle cx="263.0" cy="466.5" r="0.66" fill-opacity="0.63"/><circle cx="265.4" cy="468.5" r="0.70" fill-opacity="0.50"/><circle cx="274.0" cy="466.7" r="0.69" fill-opacity="0.53"/><circle cx="276.6" cy="466.3" r="0.62" fill-opacity="0.52"/><circle cx="281.1" cy="466.1" r="0.61" fill-opacity="0.65"/><circle cx="285.7" cy="466.0" r="0.76" fill-opacity="0.73"/><circle cx="289.4" cy="467.1" r="0.67" fill-opacity="0.62"/><circle cx="294.6" cy="468.3" r="0.85" fill-opacity="0.65"/><circle cx="302.0" cy="466.3" r="0.67" fill-opacity="0.76"/><circle cx="305.1" cy="468.4" r="0.77" fill-opacity="0.80"/><circle cx="311.3" cy="467.6" r="0.84" fill-opacity="0.72"/><circle cx="312.6" cy="466.3" r="0.86" fill-opacity="0.77"/><circle cx="317.1" cy="467.6" r="0.84" fill-opacity="0.69"/><circle cx="321.3" cy="467.6" r="0.81" fill-opacity="0.58"/><circle cx="326.3" cy="465.9" r="0.89" fill-opacity="0.79"/><circle cx="327.3" cy="468.3" r="0.64" fill-opacity="0.79"/><circle cx="331.0" cy="466.2" r="0.79" fill-opacity="0.67"/><circle cx="259.6" cy="470.0" r="0.60" fill-opacity="0.78"/><circle cx="264.6" cy="471.8" r="0.83" fill-opacity="0.76"/><circle cx="270.6" cy="470.0" r="0.80" fill-opacity="0.60"/><circle cx="274.0" cy="470.8" r="0.76" fill-opacity="0.51"/><circle cx="280.5" cy="471.9" r="0.78" fill-opacity="0.54"/><circle cx="285.0" cy="470.9" r="0.60" fill-opacity="0.75"/><circle cx="286.7" cy="471.0" r="0.71" fill-opacity="0.74"/><circle cx="290.9" cy="470.8" r="0.89" fill-opacity="0.53"/><circle cx="300.2" cy="470.9" r="0.73" fill-opacity="0.76"/><circle cx="301.5" cy="472.0" r="0.66" fill-opacity="0.59"/><circle cx="306.2" cy="471.7" r="0.65" fill-opacity="0.76"/><circle cx="309.1" cy="470.8" r="0.70" fill-opacity="0.66"/><circle cx="314.5" cy="469.4" r="0.69" fill-opacity="0.66"/><circle cx="318.2" cy="470.8" r="0.62" fill-opacity="0.57"/><circle cx="320.8" cy="471.6" r="0.90" fill-opacity="0.69"/><circle cx="325.3" cy="470.3" r="0.87" fill-opacity="0.64"/><circle cx="328.1" cy="471.9" r="0.84" fill-opacity="0.68"/><circle cx="331.3" cy="471.7" r="0.71" fill-opacity="0.70"/><circle cx="257.1" cy="473.5" r="0.84" fill-opacity="0.55"/><circle cx="261.7" cy="474.8" r="0.71" fill-opacity="0.69"/><circle cx="270.7" cy="473.6" r="0.80" fill-opacity="0.60"/><circle cx="271.7" cy="473.1" r="0.88" fill-opacity="0.75"/><circle cx="277.8" cy="475.9" r="0.65" fill-opacity="0.68"/><circle cx="280.8" cy="475.8" r="0.83" fill-opacity="0.79"/><circle cx="288.5" cy="475.3" r="0.79" fill-opacity="0.75"/><circle cx="292.9" cy="474.3" r="0.78" fill-opacity="0.77"/><circle cx="294.8" cy="473.8" r="0.70" fill-opacity="0.69"/><circle cx="300.2" cy="474.3" r="0.72" fill-opacity="0.75"/><circle cx="302.5" cy="473.1" r="0.66" fill-opacity="0.66"/><circle cx="306.8" cy="474.1" r="0.89" fill-opacity="0.69"/><circle cx="308.9" cy="476.0" r="0.90" fill-opacity="0.78"/><circle cx="313.3" cy="473.3" r="0.68" fill-opacity="0.57"/><circle cx="318.7" cy="475.4" r="0.64" fill-opacity="0.57"/><circle cx="322.6" cy="473.6" r="0.84" fill-opacity="0.70"/><circle cx="326.3" cy="473.8" r="0.76" fill-opacity="0.55"/><circle cx="257.2" cy="477.0" r="0.90" fill-opacity="0.59"/><circle cx="262.6" cy="478.9" r="0.80" fill-opacity="0.79"/><circle cx="266.4" cy="478.4" r="0.81" fill-opacity="0.72"/><circle cx="269.5" cy="477.2" r="0.85" fill-opacity="0.65"/><circle cx="278.0" cy="477.5" r="0.72" fill-opacity="0.70"/><circle cx="280.0" cy="477.9" r="0.73" fill-opacity="0.51"/><circle cx="282.8" cy="479.6" r="0.65" fill-opacity="0.55"/><circle cx="288.9" cy="477.5" r="0.77" fill-opacity="0.64"/><circle cx="290.7" cy="479.2" r="0.90" fill-opacity="0.71"/><circle cx="296.6" cy="477.9" r="0.85" fill-opacity="0.75"/><circle cx="297.9" cy="478.6" r="0.87" fill-opacity="0.59"/><circle cx="303.9" cy="478.5" r="0.61" fill-opacity="0.69"/><circle cx="307.5" cy="478.7" r="0.69" fill-opacity="0.77"/><circle cx="309.7" cy="479.2" r="0.87" fill-opacity="0.77"/><circle cx="314.3" cy="478.8" r="0.78" fill-opacity="0.66"/><circle cx="317.1" cy="477.0" r="0.81" fill-opacity="0.65"/><circle cx="321.5" cy="477.5" r="0.66" fill-opacity="0.52"/><circle cx="326.2" cy="478.8" r="0.64" fill-opacity="0.79"/><circle cx="328.7" cy="476.8" r="0.85" fill-opacity="0.69"/><circle cx="330.9" cy="478.9" r="0.61" fill-opacity="0.64"/><circle cx="257.9" cy="483.1" r="0.82" fill-opacity="0.74"/><circle cx="261.7" cy="482.3" r="0.61" fill-opacity="0.62"/><circle cx="266.5" cy="483.0" r="0.69" fill-opacity="0.71"/><circle cx="270.1" cy="481.8" r="0.65" fill-opacity="0.51"/><circle cx="274.4" cy="481.3" r="0.83" fill-opacity="0.62"/><circle cx="277.9" cy="481.4" r="0.79" fill-opacity="0.58"/><circle cx="279.2" cy="481.3" r="0.69" fill-opacity="0.77"/><circle cx="285.0" cy="480.7" r="0.90" fill-opacity="0.55"/><circle cx="292.9" cy="482.4" r="0.87" fill-opacity="0.65"/><circle cx="298.9" cy="483.4" r="0.65" fill-opacity="0.57"/><circle cx="301.6" cy="483.3" r="0.69" fill-opacity="0.67"/><circle cx="307.7" cy="480.7" r="0.85" fill-opacity="0.55"/><circle cx="308.8" cy="482.7" r="0.65" fill-opacity="0.56"/><circle cx="317.0" cy="483.4" r="0.78" fill-opacity="0.61"/><circle cx="320.3" cy="481.1" r="0.89" fill-opacity="0.79"/><circle cx="326.4" cy="480.6" r="0.87" fill-opacity="0.71"/><circle cx="329.7" cy="480.8" r="0.66" fill-opacity="0.54"/><circle cx="332.5" cy="482.1" r="0.71" fill-opacity="0.72"/><circle cx="259.1" cy="484.3" r="0.65" fill-opacity="0.57"/><circle cx="262.3" cy="484.7" r="0.79" fill-opacity="0.60"/><circle cx="266.4" cy="487.0" r="0.66" fill-opacity="0.60"/><circle cx="268.6" cy="484.2" r="0.66" fill-opacity="0.75"/><circle cx="274.4" cy="485.6" r="0.61" fill-opacity="0.59"/><circle cx="276.5" cy="484.6" r="0.71" fill-opacity="0.64"/><circle cx="280.4" cy="484.6" r="0.61" fill-opacity="0.74"/><circle cx="284.0" cy="484.5" r="0.69" fill-opacity="0.67"/><circle cx="287.9" cy="487.1" r="0.76" fill-opacity="0.55"/><circle cx="291.9" cy="485.9" r="0.82" fill-opacity="0.51"/><circle cx="296.2" cy="484.6" r="0.61" fill-opacity="0.55"/><circle cx="298.9" cy="485.1" r="0.79" fill-opacity="0.55"/><circle cx="303.3" cy="485.8" r="0.89" fill-opacity="0.78"/><circle cx="306.0" cy="485.8" r="0.76" fill-opacity="0.61"/><circle cx="309.3" cy="485.6" r="0.64" fill-opacity="0.76"/><circle cx="315.3" cy="484.6" r="0.81" fill-opacity="0.68"/><circle cx="322.4" cy="484.4" r="0.88" fill-opacity="0.74"/><circle cx="325.1" cy="484.9" r="0.62" fill-opacity="0.64"/><circle cx="327.8" cy="485.6" r="0.68" fill-opacity="0.71"/><circle cx="333.5" cy="485.0" r="0.73" fill-opacity="0.50"/><circle cx="259.4" cy="490.4" r="0.62" fill-opacity="0.63"/><circle cx="267.0" cy="488.7" r="0.85" fill-opacity="0.79"/><circle cx="268.6" cy="490.6" r="0.88" fill-opacity="0.80"/><circle cx="280.6" cy="489.1" r="0.63" fill-opacity="0.69"/><circle cx="284.6" cy="489.4" r="0.76" fill-opacity="0.71"/><circle cx="290.6" cy="488.2" r="0.83" fill-opacity="0.60"/><circle cx="294.7" cy="489.6" r="0.64" fill-opacity="0.69"/><circle cx="301.7" cy="490.1" r="0.76" fill-opacity="0.63"/><circle cx="306.0" cy="490.1" r="0.76" fill-opacity="0.66"/><circle cx="310.5" cy="488.4" r="0.74" fill-opacity="0.70"/><circle cx="314.1" cy="489.6" r="0.66" fill-opacity="0.79"/><circle cx="318.2" cy="490.7" r="0.74" fill-opacity="0.60"/><circle cx="320.7" cy="488.8" r="0.69" fill-opacity="0.56"/><circle cx="324.3" cy="489.0" r="0.80" fill-opacity="0.59"/><circle cx="329.5" cy="488.8" r="0.85" fill-opacity="0.55"/><circle cx="257.0" cy="491.6" r="0.86" fill-opacity="0.50"/><circle cx="262.2" cy="492.2" r="0.67" fill-opacity="0.79"/><circle cx="265.0" cy="492.9" r="0.82" fill-opacity="0.59"/><circle cx="272.0" cy="491.7" r="0.60" fill-opacity="0.80"/><circle cx="277.6" cy="493.2" r="0.89" fill-opacity="0.60"/><circle cx="281.1" cy="491.6" r="0.71" fill-opacity="0.73"/><circle cx="284.2" cy="494.3" r="0.73" fill-opacity="0.72"/><circle cx="286.7" cy="492.7" r="0.66" fill-opacity="0.51"/><circle cx="290.5" cy="492.9" r="0.82" fill-opacity="0.73"/><circle cx="294.8" cy="493.6" r="0.87" fill-opacity="0.62"/><circle cx="297.9" cy="494.3" r="0.86" fill-opacity="0.79"/><circle cx="303.4" cy="492.9" r="0.82" fill-opacity="0.76"/><circle cx="306.8" cy="494.3" r="0.69" fill-opacity="0.60"/><circle cx="314.2" cy="493.6" r="0.67" fill-opacity="0.56"/><circle cx="318.7" cy="492.6" r="0.73" fill-opacity="0.63"/><circle cx="320.1" cy="494.1" r="0.60" fill-opacity="0.71"/><circle cx="324.9" cy="493.8" r="0.68" fill-opacity="0.54"/><circle cx="328.0" cy="493.7" r="0.77" fill-opacity="0.70"/><circle cx="333.2" cy="493.9" r="0.89" fill-opacity="0.78"/><circle cx="257.9" cy="496.8" r="0.83" fill-opacity="0.74"/><circle cx="262.8" cy="497.2" r="0.68" fill-opacity="0.69"/><circle cx="266.2" cy="495.8" r="0.61" fill-opacity="0.79"/><circle cx="268.9" cy="495.4" r="0.85" fill-opacity="0.73"/><circle cx="274.1" cy="497.8" r="0.77" fill-opacity="0.58"/><circle cx="284.9" cy="497.2" r="0.67" fill-opacity="0.74"/><circle cx="290.7" cy="495.3" r="0.66" fill-opacity="0.74"/><circle cx="293.9" cy="496.7" r="0.70" fill-opacity="0.67"/><circle cx="299.7" cy="498.0" r="0.70" fill-opacity="0.69"/><circle cx="305.3" cy="497.8" r="0.70" fill-opacity="0.71"/><circle cx="309.8" cy="495.9" r="0.67" fill-opacity="0.65"/><circle cx="312.6" cy="497.8" r="0.79" fill-opacity="0.76"/><circle cx="318.2" cy="497.7" r="0.81" fill-opacity="0.63"/><circle cx="322.5" cy="495.6" r="0.64" fill-opacity="0.55"/><circle cx="326.0" cy="496.8" r="0.86" fill-opacity="0.61"/><circle cx="327.9" cy="497.2" r="0.68" fill-opacity="0.50"/><circle cx="332.5" cy="497.9" r="0.69" fill-opacity="0.78"/><circle cx="257.3" cy="501.3" r="0.88" fill-opacity="0.79"/><circle cx="261.7" cy="500.6" r="0.80" fill-opacity="0.68"/><circle cx="266.9" cy="500.6" r="0.62" fill-opacity="0.59"/><circle cx="271.9" cy="500.5" r="0.68" fill-opacity="0.75"/><circle cx="275.9" cy="501.4" r="0.77" fill-opacity="0.58"/><circle cx="279.1" cy="500.2" r="0.78" fill-opacity="0.55"/><circle cx="285.4" cy="500.0" r="0.81" fill-opacity="0.56"/><circle cx="289.3" cy="499.5" r="0.83" fill-opacity="0.60"/><circle cx="296.0" cy="500.3" r="0.76" fill-opacity="0.54"/><circle cx="298.7" cy="500.5" r="0.85" fill-opacity="0.63"/><circle cx="304.0" cy="501.0" r="0.83" fill-opacity="0.74"/><circle cx="305.7" cy="499.3" r="0.80" fill-opacity="0.72"/><circle cx="311.4" cy="500.5" r="0.75" fill-opacity="0.79"/><circle cx="317.7" cy="500.8" r="0.78" fill-opacity="0.55"/><circle cx="320.3" cy="500.1" r="0.65" fill-opacity="0.60"/><circle cx="324.7" cy="499.5" r="0.74" fill-opacity="0.70"/><circle cx="328.0" cy="500.3" r="0.81" fill-opacity="0.51"/><circle cx="331.0" cy="501.6" r="0.66" fill-opacity="0.75"/><circle cx="261.3" cy="505.0" r="0.83" fill-opacity="0.54"/><circle cx="269.2" cy="503.8" r="0.70" fill-opacity="0.61"/><circle cx="272.8" cy="503.1" r="0.74" fill-opacity="0.80"/><circle cx="277.5" cy="505.4" r="0.73" fill-opacity="0.61"/><circle cx="279.4" cy="504.9" r="0.64" fill-opacity="0.69"/><circle cx="285.1" cy="502.9" r="0.80" fill-opacity="0.75"/><circle cx="291.0" cy="504.9" r="0.89" fill-opacity="0.50"/><circle cx="295.3" cy="505.6" r="0.88" fill-opacity="0.51"/><circle cx="298.8" cy="505.0" r="0.84" fill-opacity="0.67"/><circle cx="303.7" cy="505.3" r="0.79" fill-opacity="0.58"/><circle cx="307.1" cy="505.4" r="0.65" fill-opacity="0.51"/><circle cx="309.4" cy="503.8" r="0.62" fill-opacity="0.68"/><circle cx="313.2" cy="503.0" r="0.77" fill-opacity="0.53"/><circle cx="316.9" cy="505.3" r="0.64" fill-opacity="0.62"/><circle cx="321.3" cy="504.0" r="0.86" fill-opacity="0.55"/><circle cx="325.0" cy="503.5" r="0.70" fill-opacity="0.58"/><circle cx="328.5" cy="504.2" r="0.79" fill-opacity="0.76"/><circle cx="331.7" cy="504.6" r="0.81" fill-opacity="0.77"/><circle cx="258.4" cy="508.6" r="0.70" fill-opacity="0.60"/><circle cx="261.7" cy="508.9" r="0.70" fill-opacity="0.57"/><circle cx="266.0" cy="509.3" r="0.88" fill-opacity="0.63"/><circle cx="269.9" cy="507.9" r="0.78" fill-opacity="0.62"/><circle cx="274.3" cy="508.7" r="0.82" fill-opacity="0.77"/><circle cx="278.2" cy="507.0" r="0.63" fill-opacity="0.65"/><circle cx="279.8" cy="508.2" r="0.64" fill-opacity="0.62"/><circle cx="285.6" cy="506.6" r="0.75" fill-opacity="0.64"/><circle cx="287.5" cy="507.4" r="0.71" fill-opacity="0.67"/><circle cx="291.5" cy="507.7" r="0.78" fill-opacity="0.65"/><circle cx="295.8" cy="507.6" r="0.86" fill-opacity="0.54"/><circle cx="298.5" cy="508.2" r="0.85" fill-opacity="0.69"/><circle cx="304.0" cy="507.0" r="0.90" fill-opacity="0.63"/><circle cx="305.4" cy="506.5" r="0.65" fill-opacity="0.66"/><circle cx="311.0" cy="506.8" r="0.80" fill-opacity="0.77"/><circle cx="315.1" cy="508.8" r="0.86" fill-opacity="0.51"/><circle cx="317.0" cy="507.7" r="0.82" fill-opacity="0.72"/><circle cx="320.3" cy="506.6" r="0.82" fill-opacity="0.75"/><circle cx="327.6" cy="509.3" r="0.62" fill-opacity="0.67"/><circle cx="331.4" cy="508.4" r="0.70" fill-opacity="0.69"/><circle cx="257.3" cy="512.7" r="0.75" fill-opacity="0.79"/><circle cx="263.4" cy="512.0" r="0.62" fill-opacity="0.50"/><circle cx="266.2" cy="512.4" r="0.85" fill-opacity="0.61"/><circle cx="269.9" cy="510.2" r="0.76" fill-opacity="0.78"/><circle cx="274.0" cy="510.3" r="0.72" fill-opacity="0.65"/><circle cx="277.9" cy="511.5" r="0.77" fill-opacity="0.66"/><circle cx="280.8" cy="511.2" r="0.69" fill-opacity="0.76"/><circle cx="284.9" cy="510.9" r="0.90" fill-opacity="0.56"/><circle cx="287.6" cy="512.7" r="0.82" fill-opacity="0.58"/><circle cx="292.4" cy="511.4" r="0.65" fill-opacity="0.53"/><circle cx="295.8" cy="512.5" r="0.62" fill-opacity="0.64"/><circle cx="299.3" cy="510.7" r="0.67" fill-opacity="0.67"/><circle cx="303.6" cy="510.6" r="0.68" fill-opacity="0.73"/><circle cx="305.9" cy="512.4" r="0.77" fill-opacity="0.74"/><circle cx="311.5" cy="510.3" r="0.72" fill-opacity="0.64"/><circle cx="314.9" cy="511.2" r="0.88" fill-opacity="0.52"/><circle cx="317.9" cy="512.4" r="0.74" fill-opacity="0.77"/><circle cx="320.8" cy="510.6" r="0.66" fill-opacity="0.65"/><circle cx="324.0" cy="511.5" r="0.73" fill-opacity="0.79"/><circle cx="329.6" cy="510.8" r="0.87" fill-opacity="0.51"/><circle cx="332.7" cy="511.6" r="0.76" fill-opacity="0.69"/><circle cx="258.8" cy="514.9" r="0.78" fill-opacity="0.71"/><circle cx="262.8" cy="516.2" r="0.90" fill-opacity="0.52"/><circle cx="264.8" cy="514.3" r="0.74" fill-opacity="0.73"/><circle cx="270.3" cy="516.3" r="0.89" fill-opacity="0.73"/><circle cx="273.8" cy="515.5" r="0.68" fill-opacity="0.74"/><circle cx="277.9" cy="516.4" r="0.72" fill-opacity="0.54"/><circle cx="279.5" cy="514.1" r="0.86" fill-opacity="0.57"/><circle cx="283.9" cy="515.9" r="0.66" fill-opacity="0.59"/><circle cx="292.4" cy="515.7" r="0.78" fill-opacity="0.77"/><circle cx="299.4" cy="514.8" r="0.89" fill-opacity="0.57"/><circle cx="303.4" cy="515.8" r="0.88" fill-opacity="0.63"/><circle cx="306.3" cy="515.9" r="0.85" fill-opacity="0.69"/><circle cx="310.6" cy="516.1" r="0.64" fill-opacity="0.75"/><circle cx="313.3" cy="514.2" r="0.78" fill-opacity="0.57"/><circle cx="317.7" cy="514.4" r="0.67" fill-opacity="0.52"/><circle cx="322.2" cy="514.5" r="0.68" fill-opacity="0.54"/><circle cx="325.7" cy="514.3" r="0.85" fill-opacity="0.50"/><circle cx="257.1" cy="519.6" r="0.66" fill-opacity="0.59"/><circle cx="265.4" cy="520.2" r="0.81" fill-opacity="0.67"/><circle cx="269.6" cy="519.2" r="0.89" fill-opacity="0.57"/><circle cx="274.6" cy="519.5" r="0.79" fill-opacity="0.64"/><circle cx="281.4" cy="518.3" r="0.78" fill-opacity="0.65"/><circle cx="282.9" cy="517.7" r="0.81" fill-opacity="0.57"/><circle cx="288.2" cy="519.7" r="0.65" fill-opacity="0.63"/><circle cx="292.1" cy="518.9" r="0.79" fill-opacity="0.74"/><circle cx="295.4" cy="517.8" r="0.64" fill-opacity="0.70"/><circle cx="298.9" cy="519.5" r="0.67" fill-opacity="0.62"/><circle cx="303.5" cy="520.3" r="0.68" fill-opacity="0.53"/><circle cx="307.5" cy="520.4" r="0.62" fill-opacity="0.60"/><circle cx="311.3" cy="519.2" r="0.73" fill-opacity="0.79"/><circle cx="315.0" cy="519.9" r="0.89" fill-opacity="0.71"/><circle cx="317.6" cy="519.5" r="0.88" fill-opacity="0.78"/><circle cx="321.8" cy="518.9" r="0.73" fill-opacity="0.62"/><circle cx="325.4" cy="519.8" r="0.80" fill-opacity="0.53"/><circle cx="328.2" cy="520.3" r="0.81" fill-opacity="0.61"/><circle cx="333.5" cy="519.0" r="0.81" fill-opacity="0.61"/><circle cx="259.1" cy="521.8" r="0.80" fill-opacity="0.75"/><circle cx="262.1" cy="523.0" r="0.90" fill-opacity="0.74"/><circle cx="265.8" cy="521.6" r="0.85" fill-opacity="0.53"/><circle cx="268.8" cy="523.6" r="0.79" fill-opacity="0.65"/><circle cx="272.6" cy="524.1" r="0.77" fill-opacity="0.79"/><circle cx="283.7" cy="524.1" r="0.64" fill-opacity="0.66"/><circle cx="287.4" cy="522.0" r="0.66" fill-opacity="0.52"/><circle cx="291.8" cy="521.8" r="0.77" fill-opacity="0.65"/><circle cx="294.6" cy="521.8" r="0.86" fill-opacity="0.71"/><circle cx="298.6" cy="522.9" r="0.71" fill-opacity="0.70"/><circle cx="302.7" cy="522.5" r="0.81" fill-opacity="0.65"/><circle cx="305.0" cy="523.6" r="0.75" fill-opacity="0.75"/><circle cx="311.3" cy="523.6" r="0.67" fill-opacity="0.73"/><circle cx="318.4" cy="523.3" r="0.69" fill-opacity="0.61"/><circle cx="322.4" cy="522.9" r="0.83" fill-opacity="0.65"/><circle cx="326.3" cy="523.9" r="0.82" fill-opacity="0.70"/><circle cx="328.1" cy="522.1" r="0.84" fill-opacity="0.70"/><circle cx="333.0" cy="522.4" r="0.64" fill-opacity="0.73"/></g>
<g stroke="#b9603f" stroke-linecap="round" fill="none" filter="url(#soft)"><path d="M321.3 494.5L322.1 495.0" stroke-width="1.09" stroke-opacity="0.33"/><path d="M299.1 490.7L300.3 492.3" stroke-width="0.76" stroke-opacity="0.62"/><path d="M293.3 462.9L294.3 463.6" stroke-width="0.95" stroke-opacity="0.63"/><path d="M267.2 515.2L265.0 516.0" stroke-width="0.95" stroke-opacity="0.46"/><path d="M290.8 489.1L291.3 490.3" stroke-width="0.85" stroke-opacity="0.36"/><path d="M261.0 489.6L261.8 491.4" stroke-width="1.10" stroke-opacity="0.30"/><path d="M321.4 520.9L322.0 521.7" stroke-width="0.82" stroke-opacity="0.59"/><path d="M305.3 519.2L306.1 519.4" stroke-width="0.87" stroke-opacity="0.48"/><path d="M294.6 497.0L294.3 498.2" stroke-width="1.05" stroke-opacity="0.52"/><path d="M317.9 470.4L317.3 470.6" stroke-width="0.86" stroke-opacity="0.32"/><path d="M320.6 517.1L319.8 517.8" stroke-width="1.09" stroke-opacity="0.62"/><path d="M319.8 504.2L319.8 504.5" stroke-width="0.88" stroke-opacity="0.35"/><path d="M299.0 518.6L298.3 519.1" stroke-width="1.14" stroke-opacity="0.31"/><path d="M280.6 496.0L279.8 497.4" stroke-width="0.77" stroke-opacity="0.48"/><path d="M275.4 466.9L276.6 468.0" stroke-width="0.85" stroke-opacity="0.32"/><path d="M299.5 490.3L299.1 491.4" stroke-width="0.80" stroke-opacity="0.34"/><path d="M287.5 472.9L285.4 473.1" stroke-width="0.97" stroke-opacity="0.39"/><path d="M297.3 470.7L296.2 471.5" stroke-width="0.86" stroke-opacity="0.59"/><path d="M262.1 469.3L262.2 471.1" stroke-width="0.95" stroke-opacity="0.37"/><path d="M267.1 490.1L266.7 491.6" stroke-width="1.12" stroke-opacity="0.49"/><path d="M260.1 493.0L258.6 493.2" stroke-width="1.02" stroke-opacity="0.38"/><path d="M310.8 506.3L308.5 507.0" stroke-width="1.13" stroke-opacity="0.30"/><path d="M296.2 499.1L296.3 499.5" stroke-width="0.78" stroke-opacity="0.57"/><path d="M330.3 519.9L330.1 521.4" stroke-width="0.99" stroke-opacity="0.49"/><path d="M316.8 523.0L317.8 523.3" stroke-width="0.92" stroke-opacity="0.41"/><path d="M269.3 472.9L267.4 473.0" stroke-width="0.82" stroke-opacity="0.49"/><path d="M286.7 523.8L287.5 524.2" stroke-width="0.89" stroke-opacity="0.31"/><path d="M286.1 509.7L287.8 510.1" stroke-width="0.84" stroke-opacity="0.28"/><path d="M281.2 495.8L281.4 496.0" stroke-width="0.79" stroke-opacity="0.52"/><path d="M260.0 512.1L259.6 512.3" stroke-width="1.05" stroke-opacity="0.27"/><path d="M292.0 482.3L291.8 483.0" stroke-width="1.08" stroke-opacity="0.42"/><path d="M280.9 472.5L280.1 473.0" stroke-width="0.85" stroke-opacity="0.55"/><path d="M314.7 479.5L314.4 480.5" stroke-width="1.13" stroke-opacity="0.43"/><path d="M259.9 509.7L260.9 510.4" stroke-width="0.84" stroke-opacity="0.44"/><path d="M283.4 483.8L282.3 484.5" stroke-width="0.89" stroke-opacity="0.32"/><path d="M295.9 484.4L296.6 485.9" stroke-width="0.79" stroke-opacity="0.37"/><path d="M293.1 515.0L292.1 515.9" stroke-width="0.91" stroke-opacity="0.49"/><path d="M279.9 503.9L281.0 504.1" stroke-width="0.76" stroke-opacity="0.28"/><path d="M286.4 474.9L285.4 476.0" stroke-width="1.04" stroke-opacity="0.43"/><path d="M278.8 472.4L279.7 474.3" stroke-width="0.97" stroke-opacity="0.34"/><path d="M322.8 464.3L322.6 466.5" stroke-width="0.80" stroke-opacity="0.60"/><path d="M266.3 478.5L265.3 479.1" stroke-width="0.99" stroke-opacity="0.57"/><path d="M272.3 497.1L273.7 498.5" stroke-width="0.83" stroke-opacity="0.57"/><path d="M300.3 492.2L301.3 493.3" stroke-width="1.09" stroke-opacity="0.31"/><path d="M329.1 499.7L328.5 501.9" stroke-width="0.84" stroke-opacity="0.38"/><path d="M315.0 493.4L314.5 493.6" stroke-width="0.93" stroke-opacity="0.56"/><path d="M262.2 485.5L264.2 486.6" stroke-width="1.04" stroke-opacity="0.50"/><path d="M294.1 487.3L292.9 488.1" stroke-width="0.95" stroke-opacity="0.29"/><path d="M289.7 472.6L289.2 474.2" stroke-width="0.88" stroke-opacity="0.30"/><path d="M258.2 518.1L257.8 519.6" stroke-width="0.86" stroke-opacity="0.62"/><path d="M257.7 506.5L257.5 506.9" stroke-width="0.86" stroke-opacity="0.48"/></g>
<ellipse cx="319.0" cy="482.0" rx="2.5" ry="2.5" fill="#eef0f2" opacity="0.85" filter="url(#soft2)"/>
<ellipse cx="331.0" cy="510.0" rx="1.5" ry="3.0" fill="#eef0f2" opacity="0.85" filter="url(#soft2)"/>
<path d="M285.7 505.1L291.0 496.8" stroke="#111" stroke-width="0.9"/><path d="M293.2 493.2L292.7 497.8L289.3 495.7Z" fill="#111"/>
<path d="M322.7 505.7L326.9 498.1" stroke="#111" stroke-width="0.9"/><path d="M328.9 494.4L328.6 499.0L325.1 497.1Z" fill="#111"/>
<path d="M259.5 521.0h9" stroke="#fff" stroke-width="0.8" opacity="0.6"/>
</g>
<g clip-path="url(#c04)">
<rect x="333.1" y="461.6" width="74.60" height="62.40" fill="#dcd1cc"/>
<rect x="333.1" y="461.6" width="74.60" height="62.40" fill="#fff" filter="url(#lnoise)" opacity="0.35"/>
<rect x="333.1" y="461.6" width="74.60" height="62.40" fill="#fff" filter="url(#lnoise2)" opacity="0.35"/>
<g fill="#90a8cc" filter="url(#soft)"><circle cx="335.7" cy="464.3" r="0.88" fill-opacity="0.72"/><circle cx="337.3" cy="463.3" r="0.88" fill-opacity="0.69"/><circle cx="341.2" cy="463.4" r="0.67" fill-opacity="0.66"/><circle cx="344.6" cy="462.6" r="0.68" fill-opacity="0.77"/><circle cx="348.7" cy="464.3" r="0.64" fill-opacity="0.69"/><circle cx="352.0" cy="464.5" r="0.66" fill-opacity="0.56"/><circle cx="358.3" cy="462.8" r="0.89" fill-opacity="0.66"/><circle cx="360.0" cy="464.8" r="0.81" fill-opacity="0.79"/><circle cx="364.0" cy="463.0" r="0.65" fill-opacity="0.54"/><circle cx="372.3" cy="462.0" r="0.80" fill-opacity="0.60"/><circle cx="376.6" cy="463.4" r="0.69" fill-opacity="0.64"/><circle cx="378.0" cy="464.9" r="0.61" fill-opacity="0.72"/><circle cx="381.6" cy="464.3" r="0.71" fill-opacity="0.67"/><circle cx="395.5" cy="462.6" r="0.83" fill-opacity="0.78"/><circle cx="397.4" cy="463.0" r="0.76" fill-opacity="0.73"/><circle cx="406.1" cy="464.5" r="0.61" fill-opacity="0.78"/><circle cx="335.3" cy="468.4" r="0.70" fill-opacity="0.78"/><circle cx="338.1" cy="466.6" r="0.65" fill-opacity="0.52"/><circle cx="342.9" cy="468.6" r="0.65" fill-opacity="0.51"/><circle cx="346.1" cy="466.9" r="0.67" fill-opacity="0.68"/><circle cx="349.6" cy="466.9" r="0.62" fill-opacity="0.77"/><circle cx="358.2" cy="466.1" r="0.82" fill-opacity="0.78"/><circle cx="361.7" cy="466.0" r="0.73" fill-opacity="0.54"/><circle cx="363.9" cy="467.0" r="0.90" fill-opacity="0.76"/><circle cx="368.1" cy="467.1" r="0.82" fill-opacity="0.64"/><circle cx="371.7" cy="466.1" r="0.71" fill-opacity="0.80"/><circle cx="376.0" cy="467.1" r="0.70" fill-opacity="0.53"/><circle cx="380.2" cy="468.2" r="0.71" fill-opacity="0.74"/><circle cx="383.6" cy="467.6" r="0.83" fill-opacity="0.61"/><circle cx="386.1" cy="467.1" r="0.83" fill-opacity="0.71"/><circle cx="391.8" cy="467.6" r="0.77" fill-opacity="0.50"/><circle cx="393.4" cy="467.7" r="0.74" fill-opacity="0.75"/><circle cx="398.7" cy="466.7" r="0.79" fill-opacity="0.72"/><circle cx="401.1" cy="468.2" r="0.86" fill-opacity="0.71"/><circle cx="406.6" cy="467.2" r="0.76" fill-opacity="0.55"/><circle cx="410.2" cy="467.1" r="0.81" fill-opacity="0.72"/><circle cx="334.0" cy="471.7" r="0.77" fill-opacity="0.70"/><circle cx="339.0" cy="471.7" r="0.79" fill-opacity="0.72"/><circle cx="345.9" cy="471.3" r="0.67" fill-opacity="0.71"/><circle cx="348.4" cy="470.8" r="0.67" fill-opacity="0.52"/><circle cx="352.9" cy="469.9" r="0.66" fill-opacity="0.51"/><circle cx="356.8" cy="471.2" r="0.78" fill-opacity="0.57"/><circle cx="359.4" cy="470.6" r="0.68" fill-opacity="0.62"/><circle cx="367.9" cy="469.5" r="0.78" fill-opacity="0.53"/><circle cx="371.5" cy="471.1" r="0.89" fill-opacity="0.75"/><circle cx="376.6" cy="471.3" r="0.71" fill-opacity="0.54"/><circle cx="379.5" cy="472.2" r="0.89" fill-opacity="0.68"/><circle cx="384.2" cy="469.4" r="0.63" fill-opacity="0.67"/><circle cx="385.7" cy="471.2" r="0.87" fill-opacity="0.61"/><circle cx="389.6" cy="470.2" r="0.89" fill-opacity="0.61"/><circle cx="395.4" cy="471.1" r="0.68" fill-opacity="0.79"/><circle cx="397.6" cy="470.3" r="0.90" fill-opacity="0.65"/><circle cx="401.5" cy="469.7" r="0.79" fill-opacity="0.63"/><circle cx="406.1" cy="471.8" r="0.60" fill-opacity="0.66"/><circle cx="410.2" cy="471.7" r="0.67" fill-opacity="0.58"/><circle cx="336.4" cy="473.9" r="0.78" fill-opacity="0.64"/><circle cx="339.0" cy="475.3" r="0.64" fill-opacity="0.73"/><circle cx="342.4" cy="474.1" r="0.69" fill-opacity="0.66"/><circle cx="345.6" cy="475.3" r="0.78" fill-opacity="0.51"/><circle cx="349.6" cy="475.8" r="0.87" fill-opacity="0.66"/><circle cx="356.9" cy="474.8" r="0.81" fill-opacity="0.69"/><circle cx="362.1" cy="474.2" r="0.72" fill-opacity="0.76"/><circle cx="363.9" cy="475.5" r="0.62" fill-opacity="0.75"/><circle cx="368.1" cy="473.9" r="0.83" fill-opacity="0.77"/><circle cx="371.9" cy="474.7" r="0.75" fill-opacity="0.60"/><circle cx="375.9" cy="475.5" r="0.62" fill-opacity="0.57"/><circle cx="380.2" cy="475.0" r="0.61" fill-opacity="0.72"/><circle cx="384.5" cy="475.1" r="0.61" fill-opacity="0.75"/><circle cx="387.2" cy="475.9" r="0.81" fill-opacity="0.54"/><circle cx="391.7" cy="473.5" r="0.78" fill-opacity="0.62"/><circle cx="394.5" cy="473.2" r="0.63" fill-opacity="0.61"/><circle cx="406.0" cy="475.7" r="0.64" fill-opacity="0.63"/><circle cx="409.2" cy="474.5" r="0.88" fill-opacity="0.61"/><circle cx="337.6" cy="478.6" r="0.75" fill-opacity="0.77"/><circle cx="342.7" cy="477.5" r="0.77" fill-opacity="0.58"/><circle cx="346.1" cy="477.2" r="0.67" fill-opacity="0.61"/><circle cx="348.8" cy="478.9" r="0.80" fill-opacity="0.53"/><circle cx="352.2" cy="477.1" r="0.78" fill-opacity="0.57"/><circle cx="357.1" cy="477.7" r="0.84" fill-opacity="0.51"/><circle cx="359.5" cy="477.2" r="0.89" fill-opacity="0.70"/><circle cx="363.4" cy="479.6" r="0.80" fill-opacity="0.75"/><circle cx="368.6" cy="477.8" r="0.67" fill-opacity="0.60"/><circle cx="371.5" cy="477.9" r="0.64" fill-opacity="0.75"/><circle cx="376.6" cy="478.1" r="0.86" fill-opacity="0.66"/><circle cx="379.6" cy="479.0" r="0.72" fill-opacity="0.53"/><circle cx="385.4" cy="479.4" r="0.74" fill-opacity="0.73"/><circle cx="395.3" cy="478.6" r="0.73" fill-opacity="0.64"/><circle cx="400.5" cy="477.9" r="0.72" fill-opacity="0.76"/><circle cx="404.5" cy="477.6" r="0.65" fill-opacity="0.59"/><circle cx="408.9" cy="476.9" r="0.88" fill-opacity="0.61"/><circle cx="335.5" cy="482.5" r="0.74" fill-opacity="0.78"/><circle cx="341.7" cy="482.5" r="0.82" fill-opacity="0.55"/><circle cx="344.6" cy="481.2" r="0.62" fill-opacity="0.62"/><circle cx="349.3" cy="481.4" r="0.74" fill-opacity="0.58"/><circle cx="354.1" cy="481.0" r="0.67" fill-opacity="0.70"/><circle cx="357.6" cy="481.7" r="0.89" fill-opacity="0.50"/><circle cx="364.3" cy="480.6" r="0.76" fill-opacity="0.80"/><circle cx="367.8" cy="480.7" r="0.62" fill-opacity="0.77"/><circle cx="373.2" cy="480.6" r="0.67" fill-opacity="0.52"/><circle cx="374.3" cy="481.2" r="0.72" fill-opacity="0.59"/><circle cx="385.8" cy="482.0" r="0.72" fill-opacity="0.66"/><circle cx="393.0" cy="482.1" r="0.88" fill-opacity="0.68"/><circle cx="397.0" cy="480.5" r="0.76" fill-opacity="0.65"/><circle cx="401.2" cy="482.3" r="0.82" fill-opacity="0.77"/><circle cx="405.1" cy="482.9" r="0.67" fill-opacity="0.53"/><circle cx="407.7" cy="482.8" r="0.85" fill-opacity="0.59"/><circle cx="333.7" cy="484.9" r="0.63" fill-opacity="0.63"/><circle cx="337.9" cy="484.4" r="0.81" fill-opacity="0.51"/><circle cx="341.7" cy="485.3" r="0.63" fill-opacity="0.63"/><circle cx="346.8" cy="485.8" r="0.87" fill-opacity="0.70"/><circle cx="350.0" cy="485.5" r="0.85" fill-opacity="0.70"/><circle cx="354.1" cy="486.2" r="0.68" fill-opacity="0.74"/><circle cx="356.1" cy="484.4" r="0.65" fill-opacity="0.58"/><circle cx="360.2" cy="484.4" r="0.83" fill-opacity="0.67"/><circle cx="371.5" cy="486.7" r="0.88" fill-opacity="0.68"/><circle cx="375.4" cy="485.2" r="0.70" fill-opacity="0.50"/><circle cx="380.3" cy="486.3" r="0.63" fill-opacity="0.66"/><circle cx="383.7" cy="485.5" r="0.88" fill-opacity="0.74"/><circle cx="391.7" cy="485.5" r="0.73" fill-opacity="0.63"/><circle cx="395.4" cy="485.7" r="0.89" fill-opacity="0.68"/><circle cx="401.3" cy="484.3" r="0.89" fill-opacity="0.51"/><circle cx="405.2" cy="486.8" r="0.72" fill-opacity="0.56"/><circle cx="408.1" cy="485.8" r="0.71" fill-opacity="0.73"/><circle cx="334.5" cy="488.6" r="0.89" fill-opacity="0.75"/><circle cx="339.0" cy="489.1" r="0.64" fill-opacity="0.75"/><circle cx="341.0" cy="488.4" r="0.63" fill-opacity="0.72"/><circle cx="345.2" cy="490.2" r="0.70" fill-opacity="0.70"/><circle cx="350.1" cy="490.2" r="0.71" fill-opacity="0.50"/><circle cx="353.7" cy="488.4" r="0.72" fill-opacity="0.60"/><circle cx="360.5" cy="489.3" r="0.81" fill-opacity="0.62"/><circle cx="365.5" cy="490.6" r="0.81" fill-opacity="0.70"/><circle cx="369.1" cy="488.9" r="0.78" fill-opacity="0.70"/><circle cx="371.3" cy="488.1" r="0.63" fill-opacity="0.61"/><circle cx="376.4" cy="490.0" r="0.69" fill-opacity="0.78"/><circle cx="380.0" cy="488.1" r="0.83" fill-opacity="0.70"/><circle cx="384.2" cy="489.9" r="0.85" fill-opacity="0.72"/><circle cx="385.9" cy="489.4" r="0.87" fill-opacity="0.57"/><circle cx="390.6" cy="489.0" r="0.60" fill-opacity="0.62"/><circle cx="394.6" cy="490.5" r="0.87" fill-opacity="0.68"/><circle cx="396.7" cy="489.9" r="0.77" fill-opacity="0.71"/><circle cx="402.7" cy="488.5" r="0.69" fill-opacity="0.58"/><circle cx="406.4" cy="488.4" r="0.79" fill-opacity="0.73"/><circle cx="407.7" cy="489.5" r="0.85" fill-opacity="0.76"/><circle cx="334.7" cy="492.8" r="0.76" fill-opacity="0.77"/><circle cx="338.0" cy="493.4" r="0.89" fill-opacity="0.56"/><circle cx="350.1" cy="492.1" r="0.66" fill-opacity="0.68"/><circle cx="354.0" cy="493.7" r="0.62" fill-opacity="0.65"/><circle cx="358.5" cy="492.5" r="0.86" fill-opacity="0.69"/><circle cx="360.0" cy="493.6" r="0.85" fill-opacity="0.64"/><circle cx="367.2" cy="491.8" r="0.65" fill-opacity="0.68"/><circle cx="376.3" cy="494.0" r="0.84" fill-opacity="0.71"/><circle cx="380.7" cy="493.4" r="0.89" fill-opacity="0.53"/><circle cx="390.1" cy="492.9" r="0.80" fill-opacity="0.72"/><circle cx="398.0" cy="492.7" r="0.64" fill-opacity="0.68"/><circle cx="402.1" cy="493.0" r="0.89" fill-opacity="0.78"/><circle cx="409.6" cy="492.4" r="0.64" fill-opacity="0.64"/><circle cx="335.7" cy="498.0" r="0.71" fill-opacity="0.59"/><circle cx="339.2" cy="497.6" r="0.77" fill-opacity="0.59"/><circle cx="343.4" cy="496.8" r="0.62" fill-opacity="0.63"/><circle cx="346.5" cy="495.5" r="0.68" fill-opacity="0.53"/><circle cx="351.2" cy="496.9" r="0.72" fill-opacity="0.78"/><circle cx="358.1" cy="495.3" r="0.83" fill-opacity="0.61"/><circle cx="364.4" cy="496.4" r="0.76" fill-opacity="0.52"/><circle cx="369.7" cy="496.6" r="0.74" fill-opacity="0.53"/><circle cx="373.3" cy="497.3" r="0.75" fill-opacity="0.52"/><circle cx="376.5" cy="496.6" r="0.78" fill-opacity="0.77"/><circle cx="379.8" cy="495.4" r="0.61" fill-opacity="0.73"/><circle cx="384.2" cy="497.7" r="0.87" fill-opacity="0.61"/><circle cx="387.5" cy="497.9" r="0.64" fill-opacity="0.73"/><circle cx="391.8" cy="498.2" r="0.67" fill-opacity="0.63"/><circle cx="394.1" cy="496.1" r="0.80" fill-opacity="0.54"/><circle cx="397.7" cy="495.5" r="0.71" fill-opacity="0.77"/><circle cx="400.7" cy="495.3" r="0.85" fill-opacity="0.79"/><circle cx="404.2" cy="496.0" r="0.88" fill-opacity="0.78"/><circle cx="334.7" cy="499.8" r="0.83" fill-opacity="0.61"/><circle cx="337.6" cy="500.5" r="0.89" fill-opacity="0.71"/><circle cx="349.4" cy="500.1" r="0.74" fill-opacity="0.67"/><circle cx="352.7" cy="500.7" r="0.68" fill-opacity="0.66"/><circle cx="356.1" cy="500.4" r="0.81" fill-opacity="0.50"/><circle cx="360.6" cy="500.5" r="0.78" fill-opacity="0.74"/><circle cx="366.9" cy="500.1" r="0.70" fill-opacity="0.51"/><circle cx="371.8" cy="500.9" r="0.88" fill-opacity="0.61"/><circle cx="376.3" cy="501.7" r="0.88" fill-opacity="0.80"/><circle cx="378.4" cy="501.7" r="0.62" fill-opacity="0.63"/><circle cx="383.1" cy="500.1" r="0.88" fill-opacity="0.59"/><circle cx="387.7" cy="499.4" r="0.71" fill-opacity="0.65"/><circle cx="389.6" cy="500.3" r="0.62" fill-opacity="0.53"/><circle cx="393.1" cy="501.8" r="0.68" fill-opacity="0.58"/><circle cx="398.6" cy="499.7" r="0.85" fill-opacity="0.69"/><circle cx="401.9" cy="499.7" r="0.68" fill-opacity="0.76"/><circle cx="406.4" cy="499.5" r="0.64" fill-opacity="0.52"/><circle cx="409.1" cy="499.0" r="0.61" fill-opacity="0.75"/><circle cx="336.0" cy="502.8" r="0.78" fill-opacity="0.54"/><circle cx="339.0" cy="504.5" r="0.67" fill-opacity="0.78"/><circle cx="348.5" cy="502.9" r="0.74" fill-opacity="0.69"/><circle cx="354.1" cy="502.9" r="0.79" fill-opacity="0.75"/><circle cx="357.9" cy="503.4" r="0.69" fill-opacity="0.50"/><circle cx="360.9" cy="505.3" r="0.74" fill-opacity="0.55"/><circle cx="363.8" cy="505.5" r="0.66" fill-opacity="0.53"/><circle cx="367.0" cy="503.9" r="0.79" fill-opacity="0.70"/><circle cx="370.9" cy="504.1" r="0.81" fill-opacity="0.63"/><circle cx="376.9" cy="503.1" r="0.68" fill-opacity="0.65"/><circle cx="380.5" cy="504.3" r="0.80" fill-opacity="0.63"/><circle cx="384.0" cy="503.5" r="0.63" fill-opacity="0.58"/><circle cx="387.9" cy="503.5" r="0.79" fill-opacity="0.69"/><circle cx="389.3" cy="504.9" r="0.70" fill-opacity="0.53"/><circle cx="395.2" cy="504.4" r="0.61" fill-opacity="0.79"/><circle cx="398.3" cy="504.8" r="0.68" fill-opacity="0.62"/><circle cx="400.4" cy="502.9" r="0.82" fill-opacity="0.62"/><circle cx="404.0" cy="503.6" r="0.65" fill-opacity="0.78"/><circle cx="410.1" cy="504.2" r="0.63" fill-opacity="0.62"/><circle cx="333.5" cy="508.0" r="0.69" fill-opacity="0.53"/><circle cx="339.9" cy="509.2" r="0.74" fill-opacity="0.53"/><circle cx="341.2" cy="508.0" r="0.63" fill-opacity="0.80"/><circle cx="345.9" cy="507.2" r="0.77" fill-opacity="0.79"/><circle cx="348.9" cy="507.9" r="0.88" fill-opacity="0.61"/><circle cx="354.7" cy="507.3" r="0.84" fill-opacity="0.66"/><circle cx="355.8" cy="509.1" r="0.74" fill-opacity="0.63"/><circle cx="361.1" cy="507.9" r="0.69" fill-opacity="0.72"/><circle cx="364.5" cy="508.6" r="0.78" fill-opacity="0.54"/><circle cx="368.8" cy="508.5" r="0.63" fill-opacity="0.80"/><circle cx="371.0" cy="506.6" r="0.73" fill-opacity="0.69"/><circle cx="374.7" cy="508.4" r="0.63" fill-opacity="0.67"/><circle cx="378.9" cy="506.5" r="0.82" fill-opacity="0.54"/><circle cx="382.6" cy="508.1" r="0.79" fill-opacity="0.65"/><circle cx="388.0" cy="507.2" r="0.70" fill-opacity="0.76"/><circle cx="390.2" cy="507.6" r="0.89" fill-opacity="0.54"/><circle cx="394.9" cy="508.5" r="0.60" fill-opacity="0.78"/><circle cx="398.9" cy="508.3" r="0.73" fill-opacity="0.75"/><circle cx="401.1" cy="508.5" r="0.75" fill-opacity="0.71"/><circle cx="406.1" cy="506.8" r="0.75" fill-opacity="0.50"/><circle cx="409.8" cy="508.8" r="0.61" fill-opacity="0.66"/><circle cx="333.8" cy="510.7" r="0.89" fill-opacity="0.76"/><circle cx="339.6" cy="512.0" r="0.72" fill-opacity="0.69"/><circle cx="341.7" cy="510.1" r="0.80" fill-opacity="0.67"/><circle cx="346.1" cy="511.4" r="0.69" fill-opacity="0.72"/><circle cx="350.0" cy="512.3" r="0.73" fill-opacity="0.71"/><circle cx="358.2" cy="510.5" r="0.62" fill-opacity="0.50"/><circle cx="359.7" cy="511.4" r="0.73" fill-opacity="0.74"/><circle cx="364.6" cy="510.1" r="0.84" fill-opacity="0.73"/><circle cx="369.2" cy="511.9" r="0.81" fill-opacity="0.76"/><circle cx="370.5" cy="512.7" r="0.90" fill-opacity="0.56"/><circle cx="378.2" cy="511.2" r="0.63" fill-opacity="0.57"/><circle cx="386.2" cy="512.2" r="0.72" fill-opacity="0.55"/><circle cx="391.6" cy="512.1" r="0.67" fill-opacity="0.62"/><circle cx="393.9" cy="510.1" r="0.74" fill-opacity="0.73"/><circle cx="398.9" cy="512.1" r="0.83" fill-opacity="0.76"/><circle cx="402.4" cy="511.3" r="0.80" fill-opacity="0.70"/><circle cx="405.9" cy="511.4" r="0.66" fill-opacity="0.60"/><circle cx="409.5" cy="512.3" r="0.66" fill-opacity="0.66"/><circle cx="334.6" cy="514.1" r="0.78" fill-opacity="0.61"/><circle cx="338.0" cy="513.8" r="0.64" fill-opacity="0.63"/><circle cx="351.1" cy="516.2" r="0.70" fill-opacity="0.78"/><circle cx="355.7" cy="513.9" r="0.78" fill-opacity="0.73"/><circle cx="361.7" cy="515.1" r="0.88" fill-opacity="0.68"/><circle cx="363.6" cy="515.0" r="0.73" fill-opacity="0.75"/><circle cx="367.6" cy="516.2" r="0.62" fill-opacity="0.66"/><circle cx="372.4" cy="515.5" r="0.63" fill-opacity="0.72"/><circle cx="375.1" cy="516.3" r="0.83" fill-opacity="0.59"/><circle cx="378.2" cy="515.3" r="0.62" fill-opacity="0.69"/><circle cx="383.5" cy="513.9" r="0.75" fill-opacity="0.64"/><circle cx="385.7" cy="514.6" r="0.73" fill-opacity="0.52"/><circle cx="389.7" cy="514.6" r="0.63" fill-opacity="0.59"/><circle cx="393.5" cy="514.1" r="0.70" fill-opacity="0.78"/><circle cx="400.7" cy="515.8" r="0.74" fill-opacity="0.53"/><circle cx="404.7" cy="515.8" r="0.74" fill-opacity="0.76"/><circle cx="334.3" cy="518.3" r="0.85" fill-opacity="0.65"/><circle cx="338.7" cy="520.0" r="0.77" fill-opacity="0.64"/><circle cx="342.7" cy="518.7" r="0.73" fill-opacity="0.54"/><circle cx="347.2" cy="518.4" r="0.71" fill-opacity="0.68"/><circle cx="348.8" cy="518.8" r="0.82" fill-opacity="0.51"/><circle cx="358.3" cy="517.7" r="0.62" fill-opacity="0.69"/><circle cx="361.3" cy="517.6" r="0.74" fill-opacity="0.55"/><circle cx="365.1" cy="519.0" r="0.86" fill-opacity="0.75"/><circle cx="369.3" cy="518.0" r="0.74" fill-opacity="0.60"/><circle cx="370.8" cy="520.1" r="0.71" fill-opacity="0.74"/><circle cx="377.0" cy="518.6" r="0.86" fill-opacity="0.80"/><circle cx="380.1" cy="519.6" r="0.74" fill-opacity="0.58"/><circle cx="382.8" cy="520.2" r="0.72" fill-opacity="0.58"/><circle cx="386.6" cy="519.3" r="0.74" fill-opacity="0.59"/><circle cx="394.6" cy="518.2" r="0.75" fill-opacity="0.67"/><circle cx="399.0" cy="519.8" r="0.69" fill-opacity="0.60"/><circle cx="400.6" cy="520.2" r="0.61" fill-opacity="0.65"/><circle cx="405.3" cy="517.6" r="0.67" fill-opacity="0.80"/><circle cx="408.1" cy="518.8" r="0.61" fill-opacity="0.54"/><circle cx="336.4" cy="522.1" r="0.67" fill-opacity="0.52"/><circle cx="343.1" cy="523.9" r="0.85" fill-opacity="0.73"/><circle cx="345.1" cy="522.0" r="0.62" fill-opacity="0.55"/><circle cx="349.7" cy="521.2" r="0.69" fill-opacity="0.75"/><circle cx="354.1" cy="523.3" r="0.87" fill-opacity="0.67"/><circle cx="357.4" cy="522.0" r="0.61" fill-opacity="0.58"/><circle cx="359.7" cy="521.4" r="0.67" fill-opacity="0.61"/><circle cx="364.5" cy="523.6" r="0.82" fill-opacity="0.68"/><circle cx="367.9" cy="522.1" r="0.79" fill-opacity="0.76"/><circle cx="371.3" cy="521.6" r="0.60" fill-opacity="0.68"/><circle cx="374.2" cy="522.1" r="0.67" fill-opacity="0.56"/><circle cx="379.6" cy="522.0" r="0.82" fill-opacity="0.56"/><circle cx="381.9" cy="522.9" r="0.81" fill-opacity="0.72"/><circle cx="387.8" cy="523.0" r="0.81" fill-opacity="0.52"/><circle cx="390.3" cy="522.8" r="0.63" fill-opacity="0.72"/><circle cx="394.1" cy="522.7" r="0.85" fill-opacity="0.59"/><circle cx="398.2" cy="523.1" r="0.69" fill-opacity="0.58"/><circle cx="401.8" cy="523.1" r="0.64" fill-opacity="0.63"/><circle cx="404.3" cy="521.5" r="0.88" fill-opacity="0.51"/><circle cx="408.3" cy="521.3" r="0.68" fill-opacity="0.55"/></g>
<g stroke="#b9603f" stroke-linecap="round" fill="none" filter="url(#soft)"><path d="M363.0 518.2L362.9 518.6" stroke-width="0.89" stroke-opacity="0.53"/><path d="M334.3 475.5L335.0 476.2" stroke-width="1.11" stroke-opacity="0.43"/><path d="M368.9 491.6L368.9 492.2" stroke-width="1.02" stroke-opacity="0.54"/><path d="M373.2 508.5L373.2 510.9" stroke-width="1.00" stroke-opacity="0.27"/><path d="M382.8 481.4L382.2 483.1" stroke-width="0.90" stroke-opacity="0.50"/><path d="M382.4 518.7L383.8 520.0" stroke-width="1.03" stroke-opacity="0.53"/><path d="M378.9 500.1L378.9 500.5" stroke-width="1.05" stroke-opacity="0.34"/><path d="M372.0 505.7L372.3 507.6" stroke-width="0.94" stroke-opacity="0.63"/><path d="M374.9 523.3L375.8 523.6" stroke-width="1.04" stroke-opacity="0.63"/><path d="M390.4 501.9L391.7 502.6" stroke-width="1.07" stroke-opacity="0.59"/><path d="M370.2 499.5L368.6 500.5" stroke-width="1.13" stroke-opacity="0.57"/><path d="M337.3 487.2L338.5 489.2" stroke-width="1.13" stroke-opacity="0.55"/><path d="M391.1 494.1L390.0 495.5" stroke-width="1.00" stroke-opacity="0.60"/><path d="M404.8 492.3L406.2 492.5" stroke-width="1.01" stroke-opacity="0.47"/><path d="M405.3 481.3L404.0 481.6" stroke-width="0.77" stroke-opacity="0.33"/><path d="M354.0 479.2L353.6 481.3" stroke-width="0.85" stroke-opacity="0.52"/><path d="M399.5 491.4L400.5 491.4" stroke-width="0.85" stroke-opacity="0.40"/><path d="M341.8 470.4L342.2 471.3" stroke-width="1.06" stroke-opacity="0.63"/><path d="M351.8 479.1L351.7 480.7" stroke-width="0.94" stroke-opacity="0.30"/><path d="M353.9 469.9L352.4 471.3" stroke-width="0.79" stroke-opacity="0.43"/><path d="M374.1 516.0L373.1 516.3" stroke-width="1.13" stroke-opacity="0.27"/><path d="M365.0 461.5L364.5 462.1" stroke-width="1.15" stroke-opacity="0.54"/><path d="M394.1 461.9L393.1 462.1" stroke-width="0.94" stroke-opacity="0.61"/><path d="M344.1 522.5L344.4 524.0" stroke-width="0.87" stroke-opacity="0.28"/><path d="M371.7 489.5L372.2 490.3" stroke-width="1.13" stroke-opacity="0.44"/><path d="M391.7 476.8L390.5 476.9" stroke-width="0.79" stroke-opacity="0.35"/><path d="M379.1 493.5L379.8 495.1" stroke-width="1.02" stroke-opacity="0.46"/><path d="M344.2 463.2L343.9 463.7" stroke-width="0.91" stroke-opacity="0.25"/><path d="M358.7 476.0L357.8 476.4" stroke-width="0.95" stroke-opacity="0.33"/><path d="M369.0 465.7L369.3 466.1" stroke-width="1.11" stroke-opacity="0.48"/><path d="M385.2 464.3L387.4 464.6" stroke-width="1.12" stroke-opacity="0.52"/><path d="M364.1 513.7L365.6 514.0" stroke-width="0.83" stroke-opacity="0.34"/><path d="M372.0 472.3L372.0 473.6" stroke-width="1.11" stroke-opacity="0.61"/><path d="M392.7 469.5L390.5 470.4" stroke-width="1.10" stroke-opacity="0.44"/><path d="M355.8 522.7L354.8 522.9" stroke-width="1.12" stroke-opacity="0.58"/><path d="M387.6 465.8L387.1 466.6" stroke-width="1.01" stroke-opacity="0.61"/><path d="M336.0 482.8L336.0 483.8" stroke-width="0.82" stroke-opacity="0.34"/><path d="M361.3 477.8L360.5 478.7" stroke-width="1.13" stroke-opacity="0.49"/><path d="M403.4 462.7L401.9 464.3" stroke-width="0.79" stroke-opacity="0.33"/><path d="M388.7 499.6L389.8 500.4" stroke-width="1.04" stroke-opacity="0.42"/><path d="M349.4 468.5L349.6 468.8" stroke-width="1.13" stroke-opacity="0.63"/><path d="M364.8 478.6L362.9 479.4" stroke-width="0.95" stroke-opacity="0.32"/><path d="M402.1 463.9L402.7 465.1" stroke-width="0.84" stroke-opacity="0.51"/><path d="M355.8 479.8L354.9 481.2" stroke-width="0.95" stroke-opacity="0.45"/><path d="M368.6 520.1L368.2 521.3" stroke-width="1.07" stroke-opacity="0.62"/><path d="M376.2 510.4L377.9 511.3" stroke-width="0.83" stroke-opacity="0.42"/><path d="M334.2 504.4L335.2 504.5" stroke-width="0.85" stroke-opacity="0.26"/><path d="M383.6 483.4L382.8 484.4" stroke-width="1.02" stroke-opacity="0.61"/><path d="M349.2 523.0L349.7 523.6" stroke-width="0.98" stroke-opacity="0.51"/><path d="M398.8 498.9L400.0 500.4" stroke-width="0.81" stroke-opacity="0.58"/><path d="M379.7 507.6L378.7 507.6" stroke-width="0.86" stroke-opacity="0.38"/><path d="M381.4 490.8L382.9 491.2" stroke-width="1.01" stroke-opacity="0.35"/><path d="M342.0 497.6L340.5 498.3" stroke-width="1.14" stroke-opacity="0.50"/><path d="M407.2 492.2L406.3 493.0" stroke-width="0.94" stroke-opacity="0.40"/><path d="M376.2 468.1L375.8 470.4" stroke-width="0.96" stroke-opacity="0.55"/><path d="M376.9 497.3L377.1 497.8" stroke-width="0.80" stroke-opacity="0.54"/><path d="M341.8 512.1L343.6 512.9" stroke-width="1.06" stroke-opacity="0.40"/><path d="M388.9 475.0L390.6 475.1" stroke-width="1.03" stroke-opacity="0.36"/><path d="M377.7 510.3L376.6 511.5" stroke-width="1.14" stroke-opacity="0.34"/><path d="M365.7 497.4L365.4 498.3" stroke-width="0.84" stroke-opacity="0.47"/><path d="M400.8 498.6L401.2 500.0" stroke-width="1.01" stroke-opacity="0.50"/><path d="M352.7 503.7L353.2 504.7" stroke-width="0.76" stroke-opacity="0.32"/><path d="M384.0 501.9L384.6 503.2" stroke-width="1.08" stroke-opacity="0.38"/><path d="M389.2 503.4L389.1 504.6" stroke-width="1.11" stroke-opacity="0.26"/><path d="M397.5 516.4L396.8 516.5" stroke-width="1.07" stroke-opacity="0.46"/><path d="M357.3 502.3L357.9 503.9" stroke-width="1.15" stroke-opacity="0.39"/><path d="M342.2 504.1L342.6 504.4" stroke-width="1.09" stroke-opacity="0.31"/><path d="M403.6 491.8L404.4 493.6" stroke-width="0.89" stroke-opacity="0.35"/><path d="M405.6 472.7L407.2 474.4" stroke-width="1.10" stroke-opacity="0.52"/><path d="M388.4 518.0L386.8 518.2" stroke-width="0.84" stroke-opacity="0.49"/><path d="M376.8 470.9L377.5 470.9" stroke-width="1.00" stroke-opacity="0.27"/><path d="M361.4 477.1L360.6 478.3" stroke-width="0.78" stroke-opacity="0.47"/><path d="M357.1 497.2L356.4 498.6" stroke-width="1.07" stroke-opacity="0.48"/><path d="M375.4 512.8L374.9 513.1" stroke-width="0.80" stroke-opacity="0.60"/><path d="M333.4 516.6L334.0 518.2" stroke-width="1.09" stroke-opacity="0.53"/><path d="M341.2 508.5L342.0 510.2" stroke-width="0.94" stroke-opacity="0.36"/><path d="M402.6 490.3L403.2 490.7" stroke-width="1.14" stroke-opacity="0.64"/><path d="M347.4 506.7L348.2 507.6" stroke-width="0.94" stroke-opacity="0.52"/><path d="M377.8 474.2L377.1 474.5" stroke-width="0.97" stroke-opacity="0.42"/><path d="M343.5 518.4L344.0 519.1" stroke-width="0.89" stroke-opacity="0.29"/><path d="M405.4 483.6L407.2 484.8" stroke-width="1.14" stroke-opacity="0.53"/><path d="M365.5 471.7L365.1 472.4" stroke-width="0.88" stroke-opacity="0.32"/><path d="M372.0 479.3L372.2 480.2" stroke-width="0.81" stroke-opacity="0.30"/><path d="M339.1 494.0L338.3 494.4" stroke-width="1.06" stroke-opacity="0.36"/><path d="M404.0 519.5L403.2 519.8" stroke-width="1.12" stroke-opacity="0.44"/><path d="M368.1 495.2L367.3 495.5" stroke-width="1.05" stroke-opacity="0.40"/><path d="M385.8 488.2L386.0 488.5" stroke-width="0.86" stroke-opacity="0.42"/><path d="M376.9 461.4L376.2 462.5" stroke-width="1.11" stroke-opacity="0.63"/><path d="M384.3 498.0L384.3 500.5" stroke-width="1.07" stroke-opacity="0.43"/><path d="M403.2 495.2L403.2 496.8" stroke-width="0.87" stroke-opacity="0.52"/><path d="M402.3 523.7L404.7 524.3" stroke-width="1.13" stroke-opacity="0.27"/><path d="M357.9 512.7L358.9 513.7" stroke-width="0.85" stroke-opacity="0.29"/><path d="M343.0 469.7L342.2 471.5" stroke-width="0.83" stroke-opacity="0.32"/></g>
<ellipse cx="336.0" cy="490.0" rx="4.0" ry="6.0" fill="#eef0f2" opacity="0.85" filter="url(#soft2)"/>
<path d="M336.1 521.0h9" stroke="#fff" stroke-width="0.8" opacity="0.6"/>
</g>
<g clip-path="url(#c05)">
<rect x="409.2" y="461.6" width="74.80" height="62.40" fill="#ddd3ce"/>
<rect x="409.2" y="461.6" width="74.80" height="62.40" fill="#fff" filter="url(#lnoise)" opacity="0.35"/>
<rect x="409.2" y="461.6" width="74.80" height="62.40" fill="#fff" filter="url(#lnoise2)" opacity="0.35"/>
<g fill="#90a8cc" filter="url(#soft)"><circle cx="412.0" cy="463.4" r="0.68" fill-opacity="0.50"/><circle cx="414.7" cy="464.2" r="0.71" fill-opacity="0.73"/><circle cx="419.3" cy="464.1" r="0.72" fill-opacity="0.66"/><circle cx="421.2" cy="463.6" r="0.84" fill-opacity="0.58"/><circle cx="426.4" cy="464.5" r="0.70" fill-opacity="0.53"/><circle cx="430.5" cy="463.3" r="0.63" fill-opacity="0.56"/><circle cx="432.6" cy="464.8" r="0.78" fill-opacity="0.56"/><circle cx="436.5" cy="464.7" r="0.87" fill-opacity="0.65"/><circle cx="441.2" cy="464.4" r="0.89" fill-opacity="0.51"/><circle cx="444.7" cy="462.9" r="0.78" fill-opacity="0.53"/><circle cx="448.1" cy="462.3" r="0.80" fill-opacity="0.59"/><circle cx="451.7" cy="462.4" r="0.66" fill-opacity="0.76"/><circle cx="454.0" cy="464.3" r="0.61" fill-opacity="0.60"/><circle cx="459.5" cy="462.9" r="0.71" fill-opacity="0.62"/><circle cx="464.3" cy="462.1" r="0.73" fill-opacity="0.72"/><circle cx="468.0" cy="462.7" r="0.89" fill-opacity="0.77"/><circle cx="471.4" cy="463.3" r="0.85" fill-opacity="0.74"/><circle cx="473.9" cy="464.1" r="0.72" fill-opacity="0.53"/><circle cx="477.0" cy="463.4" r="0.84" fill-opacity="0.55"/><circle cx="485.3" cy="463.0" r="0.68" fill-opacity="0.64"/><circle cx="410.3" cy="466.9" r="0.86" fill-opacity="0.68"/><circle cx="414.7" cy="467.1" r="0.64" fill-opacity="0.61"/><circle cx="419.4" cy="466.6" r="0.80" fill-opacity="0.79"/><circle cx="421.8" cy="467.5" r="0.70" fill-opacity="0.62"/><circle cx="426.7" cy="468.4" r="0.69" fill-opacity="0.50"/><circle cx="428.2" cy="465.8" r="0.83" fill-opacity="0.53"/><circle cx="432.8" cy="468.4" r="0.86" fill-opacity="0.52"/><circle cx="438.3" cy="467.5" r="0.73" fill-opacity="0.73"/><circle cx="440.6" cy="467.1" r="0.63" fill-opacity="0.61"/><circle cx="444.7" cy="467.5" r="0.64" fill-opacity="0.69"/><circle cx="455.3" cy="468.3" r="0.79" fill-opacity="0.71"/><circle cx="460.1" cy="465.9" r="0.79" fill-opacity="0.77"/><circle cx="464.0" cy="467.0" r="0.81" fill-opacity="0.74"/><circle cx="467.9" cy="468.4" r="0.73" fill-opacity="0.73"/><circle cx="469.6" cy="467.8" r="0.62" fill-opacity="0.74"/><circle cx="473.3" cy="468.5" r="0.63" fill-opacity="0.76"/><circle cx="479.0" cy="466.9" r="0.88" fill-opacity="0.51"/><circle cx="485.5" cy="467.3" r="0.61" fill-opacity="0.55"/><circle cx="409.7" cy="472.3" r="0.83" fill-opacity="0.78"/><circle cx="414.3" cy="469.6" r="0.82" fill-opacity="0.53"/><circle cx="418.3" cy="470.8" r="0.62" fill-opacity="0.52"/><circle cx="420.8" cy="470.9" r="0.65" fill-opacity="0.58"/><circle cx="426.1" cy="470.5" r="0.67" fill-opacity="0.57"/><circle cx="430.8" cy="470.6" r="0.65" fill-opacity="0.59"/><circle cx="433.5" cy="471.7" r="0.77" fill-opacity="0.56"/><circle cx="436.6" cy="470.7" r="0.72" fill-opacity="0.80"/><circle cx="441.1" cy="471.5" r="0.79" fill-opacity="0.74"/><circle cx="444.8" cy="472.2" r="0.65" fill-opacity="0.69"/><circle cx="446.8" cy="469.5" r="0.83" fill-opacity="0.53"/><circle cx="450.6" cy="470.5" r="0.61" fill-opacity="0.66"/><circle cx="454.6" cy="471.0" r="0.88" fill-opacity="0.59"/><circle cx="459.8" cy="471.9" r="0.65" fill-opacity="0.70"/><circle cx="461.7" cy="472.3" r="0.62" fill-opacity="0.78"/><circle cx="467.1" cy="471.5" r="0.80" fill-opacity="0.59"/><circle cx="469.4" cy="471.9" r="0.83" fill-opacity="0.74"/><circle cx="474.2" cy="470.1" r="0.84" fill-opacity="0.72"/><circle cx="478.3" cy="471.4" r="0.83" fill-opacity="0.53"/><circle cx="480.0" cy="470.5" r="0.64" fill-opacity="0.78"/><circle cx="412.4" cy="474.4" r="0.85" fill-opacity="0.52"/><circle cx="413.3" cy="473.3" r="0.60" fill-opacity="0.75"/><circle cx="421.5" cy="473.5" r="0.73" fill-opacity="0.55"/><circle cx="425.5" cy="474.8" r="0.77" fill-opacity="0.69"/><circle cx="428.9" cy="473.5" r="0.87" fill-opacity="0.56"/><circle cx="434.2" cy="474.8" r="0.88" fill-opacity="0.74"/><circle cx="435.8" cy="474.8" r="0.74" fill-opacity="0.76"/><circle cx="441.2" cy="475.5" r="0.74" fill-opacity="0.75"/><circle cx="443.3" cy="475.8" r="0.86" fill-opacity="0.76"/><circle cx="447.3" cy="473.5" r="0.71" fill-opacity="0.76"/><circle cx="450.3" cy="474.0" r="0.62" fill-opacity="0.69"/><circle cx="456.7" cy="473.3" r="0.71" fill-opacity="0.54"/><circle cx="460.1" cy="474.6" r="0.89" fill-opacity="0.66"/><circle cx="462.8" cy="474.1" r="0.90" fill-opacity="0.75"/><circle cx="467.6" cy="475.0" r="0.84" fill-opacity="0.52"/><circle cx="469.1" cy="474.9" r="0.82" fill-opacity="0.55"/><circle cx="472.8" cy="475.1" r="0.83" fill-opacity="0.53"/><circle cx="478.1" cy="473.4" r="0.71" fill-opacity="0.55"/><circle cx="482.6" cy="473.6" r="0.66" fill-opacity="0.69"/><circle cx="485.8" cy="474.4" r="0.63" fill-opacity="0.68"/><circle cx="411.9" cy="478.5" r="0.82" fill-opacity="0.79"/><circle cx="416.0" cy="477.6" r="0.60" fill-opacity="0.76"/><circle cx="422.0" cy="477.0" r="0.68" fill-opacity="0.72"/><circle cx="426.2" cy="477.1" r="0.85" fill-opacity="0.61"/><circle cx="428.5" cy="478.7" r="0.74" fill-opacity="0.62"/><circle cx="438.0" cy="477.1" r="0.73" fill-opacity="0.50"/><circle cx="442.0" cy="478.8" r="0.74" fill-opacity="0.52"/><circle cx="445.0" cy="479.1" r="0.90" fill-opacity="0.76"/><circle cx="447.3" cy="478.4" r="0.70" fill-opacity="0.66"/><circle cx="451.6" cy="479.7" r="0.82" fill-opacity="0.51"/><circle cx="455.9" cy="478.6" r="0.60" fill-opacity="0.76"/><circle cx="459.3" cy="477.3" r="0.61" fill-opacity="0.50"/><circle cx="462.3" cy="477.2" r="0.62" fill-opacity="0.72"/><circle cx="467.7" cy="477.4" r="0.82" fill-opacity="0.68"/><circle cx="473.5" cy="477.3" r="0.65" fill-opacity="0.78"/><circle cx="477.3" cy="478.4" r="0.71" fill-opacity="0.70"/><circle cx="485.3" cy="478.6" r="0.78" fill-opacity="0.58"/><circle cx="412.4" cy="481.9" r="0.79" fill-opacity="0.75"/><circle cx="414.1" cy="483.3" r="0.69" fill-opacity="0.63"/><circle cx="419.9" cy="482.1" r="0.87" fill-opacity="0.55"/><circle cx="422.6" cy="481.4" r="0.80" fill-opacity="0.65"/><circle cx="433.3" cy="481.0" r="0.68" fill-opacity="0.50"/><circle cx="436.4" cy="481.6" r="0.78" fill-opacity="0.76"/><circle cx="441.4" cy="481.3" r="0.75" fill-opacity="0.72"/><circle cx="443.6" cy="480.5" r="0.62" fill-opacity="0.65"/><circle cx="447.0" cy="482.8" r="0.79" fill-opacity="0.76"/><circle cx="450.6" cy="482.8" r="0.64" fill-opacity="0.54"/><circle cx="455.4" cy="480.7" r="0.68" fill-opacity="0.55"/><circle cx="458.0" cy="480.5" r="0.67" fill-opacity="0.60"/><circle cx="463.4" cy="482.3" r="0.75" fill-opacity="0.60"/><circle cx="465.6" cy="481.0" r="0.63" fill-opacity="0.70"/><circle cx="469.4" cy="481.5" r="0.77" fill-opacity="0.69"/><circle cx="474.2" cy="481.0" r="0.87" fill-opacity="0.72"/><circle cx="477.3" cy="482.2" r="0.64" fill-opacity="0.69"/><circle cx="480.9" cy="481.9" r="0.68" fill-opacity="0.77"/><circle cx="484.6" cy="482.6" r="0.71" fill-opacity="0.77"/><circle cx="411.3" cy="485.1" r="0.78" fill-opacity="0.64"/><circle cx="417.4" cy="485.9" r="0.80" fill-opacity="0.64"/><circle cx="422.0" cy="487.1" r="0.60" fill-opacity="0.77"/><circle cx="425.8" cy="486.1" r="0.79" fill-opacity="0.75"/><circle cx="429.6" cy="485.2" r="0.71" fill-opacity="0.77"/><circle cx="432.0" cy="485.9" r="0.63" fill-opacity="0.60"/><circle cx="437.3" cy="485.8" r="0.85" fill-opacity="0.68"/><circle cx="441.6" cy="485.0" r="0.83" fill-opacity="0.61"/><circle cx="444.7" cy="485.4" r="0.65" fill-opacity="0.75"/><circle cx="446.6" cy="486.5" r="0.60" fill-opacity="0.51"/><circle cx="455.6" cy="485.6" r="0.88" fill-opacity="0.64"/><circle cx="460.6" cy="484.5" r="0.61" fill-opacity="0.57"/><circle cx="462.6" cy="485.2" r="0.71" fill-opacity="0.61"/><circle cx="467.0" cy="485.0" r="0.66" fill-opacity="0.74"/><circle cx="470.3" cy="484.8" r="0.89" fill-opacity="0.66"/><circle cx="474.5" cy="486.1" r="0.61" fill-opacity="0.77"/><circle cx="476.4" cy="484.4" r="0.80" fill-opacity="0.70"/><circle cx="482.8" cy="484.5" r="0.77" fill-opacity="0.64"/><circle cx="485.5" cy="485.5" r="0.83" fill-opacity="0.73"/><circle cx="414.9" cy="488.7" r="0.78" fill-opacity="0.51"/><circle cx="421.3" cy="488.5" r="0.72" fill-opacity="0.68"/><circle cx="426.1" cy="489.3" r="0.73" fill-opacity="0.76"/><circle cx="430.7" cy="490.7" r="0.80" fill-opacity="0.56"/><circle cx="432.6" cy="488.8" r="0.72" fill-opacity="0.51"/><circle cx="436.1" cy="488.6" r="0.73" fill-opacity="0.73"/><circle cx="440.1" cy="490.0" r="0.72" fill-opacity="0.61"/><circle cx="443.7" cy="488.3" r="0.89" fill-opacity="0.68"/><circle cx="448.4" cy="489.4" r="0.79" fill-opacity="0.50"/><circle cx="455.3" cy="487.9" r="0.66" fill-opacity="0.59"/><circle cx="460.1" cy="488.0" r="0.72" fill-opacity="0.61"/><circle cx="462.2" cy="490.8" r="0.88" fill-opacity="0.58"/><circle cx="465.5" cy="489.7" r="0.63" fill-opacity="0.69"/><circle cx="471.7" cy="489.6" r="0.87" fill-opacity="0.57"/><circle cx="473.1" cy="488.1" r="0.89" fill-opacity="0.51"/><circle cx="477.1" cy="488.5" r="0.86" fill-opacity="0.73"/><circle cx="481.5" cy="490.3" r="0.62" fill-opacity="0.70"/><circle cx="485.4" cy="489.4" r="0.67" fill-opacity="0.55"/><circle cx="410.6" cy="492.4" r="0.83" fill-opacity="0.55"/><circle cx="415.6" cy="492.9" r="0.63" fill-opacity="0.74"/><circle cx="421.9" cy="493.1" r="0.67" fill-opacity="0.78"/><circle cx="425.3" cy="493.5" r="0.71" fill-opacity="0.67"/><circle cx="428.8" cy="494.1" r="0.63" fill-opacity="0.78"/><circle cx="433.3" cy="491.9" r="0.75" fill-opacity="0.60"/><circle cx="437.5" cy="491.9" r="0.62" fill-opacity="0.77"/><circle cx="441.2" cy="493.7" r="0.83" fill-opacity="0.50"/><circle cx="445.4" cy="491.7" r="0.60" fill-opacity="0.77"/><circle cx="448.7" cy="493.8" r="0.78" fill-opacity="0.56"/><circle cx="450.3" cy="493.5" r="0.80" fill-opacity="0.80"/><circle cx="454.4" cy="492.7" r="0.88" fill-opacity="0.57"/><circle cx="459.6" cy="493.8" r="0.63" fill-opacity="0.74"/><circle cx="463.6" cy="491.7" r="0.69" fill-opacity="0.67"/><circle cx="466.7" cy="491.9" r="0.68" fill-opacity="0.69"/><circle cx="471.7" cy="492.7" r="0.69" fill-opacity="0.62"/><circle cx="473.4" cy="494.5" r="0.66" fill-opacity="0.68"/><circle cx="477.0" cy="492.3" r="0.75" fill-opacity="0.75"/><circle cx="482.4" cy="493.7" r="0.62" fill-opacity="0.78"/><circle cx="483.6" cy="493.1" r="0.61" fill-opacity="0.51"/><circle cx="412.5" cy="496.1" r="0.86" fill-opacity="0.78"/><circle cx="413.6" cy="495.9" r="0.79" fill-opacity="0.71"/><circle cx="419.3" cy="495.5" r="0.61" fill-opacity="0.61"/><circle cx="423.2" cy="498.1" r="0.87" fill-opacity="0.79"/><circle cx="425.7" cy="495.4" r="0.77" fill-opacity="0.77"/><circle cx="429.5" cy="497.2" r="0.83" fill-opacity="0.80"/><circle cx="433.5" cy="498.1" r="0.89" fill-opacity="0.50"/><circle cx="436.3" cy="495.3" r="0.69" fill-opacity="0.54"/><circle cx="444.0" cy="495.6" r="0.82" fill-opacity="0.56"/><circle cx="447.8" cy="496.2" r="0.82" fill-opacity="0.56"/><circle cx="451.6" cy="496.5" r="0.70" fill-opacity="0.78"/><circle cx="455.2" cy="496.0" r="0.64" fill-opacity="0.51"/><circle cx="460.1" cy="496.2" r="0.73" fill-opacity="0.74"/><circle cx="467.2" cy="496.0" r="0.67" fill-opacity="0.66"/><circle cx="469.2" cy="495.4" r="0.90" fill-opacity="0.74"/><circle cx="472.8" cy="496.8" r="0.76" fill-opacity="0.78"/><circle cx="476.6" cy="497.8" r="0.64" fill-opacity="0.57"/><circle cx="482.4" cy="498.1" r="0.71" fill-opacity="0.69"/><circle cx="484.9" cy="497.7" r="0.69" fill-opacity="0.72"/><circle cx="410.0" cy="499.4" r="0.65" fill-opacity="0.79"/><circle cx="415.2" cy="499.0" r="0.86" fill-opacity="0.72"/><circle cx="419.9" cy="499.1" r="0.83" fill-opacity="0.54"/><circle cx="420.7" cy="499.9" r="0.77" fill-opacity="0.64"/><circle cx="424.6" cy="501.6" r="0.61" fill-opacity="0.79"/><circle cx="428.1" cy="499.1" r="0.64" fill-opacity="0.53"/><circle cx="432.4" cy="500.5" r="0.75" fill-opacity="0.57"/><circle cx="437.2" cy="500.5" r="0.85" fill-opacity="0.69"/><circle cx="441.6" cy="500.0" r="0.86" fill-opacity="0.69"/><circle cx="448.6" cy="501.0" r="0.81" fill-opacity="0.73"/><circle cx="453.0" cy="499.7" r="0.87" fill-opacity="0.77"/><circle cx="454.6" cy="500.8" r="0.86" fill-opacity="0.75"/><circle cx="457.8" cy="500.6" r="0.62" fill-opacity="0.66"/><circle cx="467.7" cy="500.8" r="0.62" fill-opacity="0.66"/><circle cx="470.1" cy="501.2" r="0.87" fill-opacity="0.51"/><circle cx="476.6" cy="501.4" r="0.79" fill-opacity="0.67"/><circle cx="481.1" cy="501.5" r="0.89" fill-opacity="0.58"/><circle cx="484.8" cy="500.1" r="0.77" fill-opacity="0.78"/><circle cx="412.3" cy="503.5" r="0.71" fill-opacity="0.72"/><circle cx="415.9" cy="504.5" r="0.69" fill-opacity="0.74"/><circle cx="417.0" cy="503.6" r="0.89" fill-opacity="0.50"/><circle cx="422.7" cy="504.6" r="0.78" fill-opacity="0.56"/><circle cx="427.3" cy="505.1" r="0.73" fill-opacity="0.63"/><circle cx="429.1" cy="503.8" r="0.66" fill-opacity="0.78"/><circle cx="437.3" cy="505.2" r="0.81" fill-opacity="0.54"/><circle cx="442.1" cy="505.2" r="0.67" fill-opacity="0.79"/><circle cx="443.3" cy="505.2" r="0.66" fill-opacity="0.51"/><circle cx="449.5" cy="504.8" r="0.65" fill-opacity="0.75"/><circle cx="452.6" cy="504.3" r="0.80" fill-opacity="0.65"/><circle cx="455.7" cy="505.4" r="0.75" fill-opacity="0.75"/><circle cx="457.9" cy="504.5" r="0.86" fill-opacity="0.63"/><circle cx="463.2" cy="503.4" r="0.67" fill-opacity="0.65"/><circle cx="470.1" cy="504.1" r="0.74" fill-opacity="0.67"/><circle cx="475.1" cy="504.0" r="0.80" fill-opacity="0.59"/><circle cx="477.6" cy="503.5" r="0.69" fill-opacity="0.70"/><circle cx="480.4" cy="504.4" r="0.90" fill-opacity="0.57"/><circle cx="484.6" cy="504.8" r="0.88" fill-opacity="0.79"/><circle cx="410.4" cy="508.9" r="0.64" fill-opacity="0.74"/><circle cx="416.2" cy="507.5" r="0.87" fill-opacity="0.64"/><circle cx="421.1" cy="508.3" r="0.81" fill-opacity="0.70"/><circle cx="427.2" cy="508.4" r="0.62" fill-opacity="0.67"/><circle cx="430.4" cy="507.7" r="0.76" fill-opacity="0.73"/><circle cx="431.9" cy="507.2" r="0.72" fill-opacity="0.50"/><circle cx="437.3" cy="507.2" r="0.78" fill-opacity="0.79"/><circle cx="439.7" cy="507.7" r="0.80" fill-opacity="0.55"/><circle cx="444.7" cy="506.4" r="0.75" fill-opacity="0.51"/><circle cx="447.3" cy="506.7" r="0.73" fill-opacity="0.69"/><circle cx="455.1" cy="508.0" r="0.77" fill-opacity="0.65"/><circle cx="468.0" cy="508.2" r="0.63" fill-opacity="0.68"/><circle cx="469.5" cy="508.4" r="0.88" fill-opacity="0.79"/><circle cx="475.1" cy="509.1" r="0.69" fill-opacity="0.65"/><circle cx="478.5" cy="509.1" r="0.81" fill-opacity="0.60"/><circle cx="481.0" cy="506.9" r="0.73" fill-opacity="0.57"/><circle cx="483.6" cy="508.8" r="0.73" fill-opacity="0.51"/><circle cx="410.7" cy="510.5" r="0.80" fill-opacity="0.64"/><circle cx="414.3" cy="510.6" r="0.87" fill-opacity="0.53"/><circle cx="422.7" cy="511.1" r="0.88" fill-opacity="0.76"/><circle cx="427.0" cy="512.9" r="0.66" fill-opacity="0.58"/><circle cx="429.1" cy="512.9" r="0.83" fill-opacity="0.70"/><circle cx="433.8" cy="512.6" r="0.79" fill-opacity="0.53"/><circle cx="441.4" cy="510.5" r="0.60" fill-opacity="0.59"/><circle cx="445.3" cy="512.4" r="0.60" fill-opacity="0.61"/><circle cx="447.5" cy="512.9" r="0.85" fill-opacity="0.52"/><circle cx="453.0" cy="513.0" r="0.64" fill-opacity="0.56"/><circle cx="455.2" cy="510.7" r="0.80" fill-opacity="0.70"/><circle cx="463.0" cy="511.0" r="0.68" fill-opacity="0.77"/><circle cx="472.6" cy="510.5" r="0.72" fill-opacity="0.65"/><circle cx="476.8" cy="510.7" r="0.77" fill-opacity="0.63"/><circle cx="411.6" cy="514.4" r="0.65" fill-opacity="0.53"/><circle cx="415.9" cy="515.9" r="0.85" fill-opacity="0.73"/><circle cx="417.0" cy="514.1" r="0.61" fill-opacity="0.78"/><circle cx="423.1" cy="514.7" r="0.64" fill-opacity="0.69"/><circle cx="426.9" cy="515.3" r="0.71" fill-opacity="0.60"/><circle cx="429.0" cy="514.6" r="0.86" fill-opacity="0.68"/><circle cx="436.8" cy="514.4" r="0.67" fill-opacity="0.73"/><circle cx="441.1" cy="514.3" r="0.72" fill-opacity="0.68"/><circle cx="443.0" cy="515.0" r="0.79" fill-opacity="0.52"/><circle cx="447.5" cy="515.8" r="0.62" fill-opacity="0.53"/><circle cx="455.9" cy="516.0" r="0.79" fill-opacity="0.79"/><circle cx="457.7" cy="515.7" r="0.66" fill-opacity="0.55"/><circle cx="467.6" cy="514.3" r="0.70" fill-opacity="0.78"/><circle cx="471.7" cy="514.5" r="0.79" fill-opacity="0.50"/><circle cx="473.8" cy="514.5" r="0.70" fill-opacity="0.51"/><circle cx="476.5" cy="515.1" r="0.66" fill-opacity="0.65"/><circle cx="482.3" cy="515.8" r="0.87" fill-opacity="0.67"/><circle cx="410.3" cy="519.9" r="0.80" fill-opacity="0.57"/><circle cx="415.3" cy="518.9" r="0.68" fill-opacity="0.56"/><circle cx="425.0" cy="520.1" r="0.69" fill-opacity="0.79"/><circle cx="428.5" cy="517.7" r="0.90" fill-opacity="0.54"/><circle cx="433.7" cy="518.5" r="0.65" fill-opacity="0.66"/><circle cx="436.8" cy="517.9" r="0.64" fill-opacity="0.62"/><circle cx="441.3" cy="519.1" r="0.72" fill-opacity="0.65"/><circle cx="445.3" cy="520.3" r="0.75" fill-opacity="0.63"/><circle cx="448.1" cy="518.4" r="0.90" fill-opacity="0.69"/><circle cx="452.4" cy="519.7" r="0.69" fill-opacity="0.71"/><circle cx="455.0" cy="519.1" r="0.80" fill-opacity="0.51"/><circle cx="458.8" cy="518.5" r="0.83" fill-opacity="0.56"/><circle cx="465.8" cy="520.2" r="0.68" fill-opacity="0.75"/><circle cx="471.2" cy="519.8" r="0.84" fill-opacity="0.72"/><circle cx="475.2" cy="519.3" r="0.87" fill-opacity="0.57"/><circle cx="481.5" cy="519.3" r="0.60" fill-opacity="0.56"/><circle cx="484.0" cy="520.0" r="0.88" fill-opacity="0.73"/><circle cx="411.6" cy="523.9" r="0.61" fill-opacity="0.62"/><circle cx="417.4" cy="523.7" r="0.83" fill-opacity="0.74"/><circle cx="423.2" cy="521.4" r="0.83" fill-opacity="0.60"/><circle cx="425.4" cy="522.0" r="0.75" fill-opacity="0.62"/><circle cx="429.4" cy="522.4" r="0.77" fill-opacity="0.80"/><circle cx="434.1" cy="523.3" r="0.70" fill-opacity="0.55"/><circle cx="436.9" cy="522.1" r="0.75" fill-opacity="0.62"/><circle cx="440.6" cy="523.9" r="0.80" fill-opacity="0.77"/><circle cx="444.3" cy="521.9" r="0.81" fill-opacity="0.70"/><circle cx="454.8" cy="521.2" r="0.86" fill-opacity="0.79"/><circle cx="460.0" cy="522.1" r="0.71" fill-opacity="0.67"/><circle cx="466.9" cy="522.3" r="0.79" fill-opacity="0.79"/><circle cx="471.6" cy="522.2" r="0.77" fill-opacity="0.61"/><circle cx="472.5" cy="522.3" r="0.83" fill-opacity="0.60"/><circle cx="476.5" cy="521.9" r="0.87" fill-opacity="0.74"/><circle cx="481.4" cy="521.8" r="0.77" fill-opacity="0.57"/><circle cx="484.5" cy="523.3" r="0.82" fill-opacity="0.58"/></g>
<g stroke="#b9603f" stroke-linecap="round" fill="none" filter="url(#soft)"><path d="M471.9 514.2L472.4 514.6" stroke-width="0.78" stroke-opacity="0.46"/><path d="M483.5 472.7L484.5 474.1" stroke-width="0.78" stroke-opacity="0.50"/><path d="M427.6 490.7L428.1 491.4" stroke-width="1.02" stroke-opacity="0.60"/><path d="M436.5 491.7L438.4 492.8" stroke-width="0.79" stroke-opacity="0.34"/><path d="M476.7 479.9L477.0 481.9" stroke-width="1.10" stroke-opacity="0.61"/><path d="M436.2 480.5L434.8 480.7" stroke-width="1.09" stroke-opacity="0.36"/><path d="M471.9 471.3L472.7 471.4" stroke-width="1.02" stroke-opacity="0.32"/><path d="M436.5 488.7L435.5 488.9" stroke-width="0.99" stroke-opacity="0.53"/><path d="M458.4 510.5L458.7 510.7" stroke-width="1.02" stroke-opacity="0.44"/><path d="M410.3 521.1L410.8 521.5" stroke-width="0.80" stroke-opacity="0.36"/><path d="M453.5 491.4L453.5 492.2" stroke-width="0.94" stroke-opacity="0.58"/><path d="M480.2 508.7L481.0 509.1" stroke-width="0.96" stroke-opacity="0.34"/><path d="M417.5 508.9L417.1 509.5" stroke-width="1.12" stroke-opacity="0.28"/><path d="M431.0 469.9L431.8 471.3" stroke-width="1.03" stroke-opacity="0.38"/><path d="M420.9 501.3L420.4 502.5" stroke-width="1.13" stroke-opacity="0.56"/><path d="M471.6 520.5L471.7 521.8" stroke-width="0.97" stroke-opacity="0.30"/><path d="M432.9 461.8L434.5 463.6" stroke-width="0.76" stroke-opacity="0.33"/><path d="M473.8 476.9L474.8 479.1" stroke-width="1.00" stroke-opacity="0.41"/><path d="M446.0 507.4L447.8 507.8" stroke-width="0.80" stroke-opacity="0.44"/><path d="M415.4 502.2L416.0 502.4" stroke-width="0.86" stroke-opacity="0.63"/><path d="M433.0 481.8L434.0 483.0" stroke-width="1.05" stroke-opacity="0.38"/><path d="M472.1 497.6L472.5 499.2" stroke-width="1.14" stroke-opacity="0.34"/><path d="M452.9 480.5L452.7 480.8" stroke-width="0.87" stroke-opacity="0.39"/><path d="M479.1 485.6L478.3 486.4" stroke-width="0.96" stroke-opacity="0.60"/><path d="M415.6 509.2L417.0 509.4" stroke-width="0.80" stroke-opacity="0.34"/><path d="M431.3 480.8L430.8 482.4" stroke-width="0.83" stroke-opacity="0.49"/><path d="M478.3 499.1L479.3 499.2" stroke-width="0.97" stroke-opacity="0.50"/><path d="M440.3 502.2L440.0 502.3" stroke-width="0.80" stroke-opacity="0.29"/><path d="M413.5 477.8L413.5 480.1" stroke-width="1.11" stroke-opacity="0.48"/><path d="M425.6 499.1L425.5 499.5" stroke-width="1.11" stroke-opacity="0.51"/><path d="M481.4 497.9L480.5 499.6" stroke-width="0.86" stroke-opacity="0.50"/><path d="M471.4 522.0L470.7 522.6" stroke-width="0.78" stroke-opacity="0.52"/><path d="M408.8 481.1L410.0 482.4" stroke-width="1.13" stroke-opacity="0.34"/><path d="M427.7 478.1L428.5 479.5" stroke-width="1.09" stroke-opacity="0.42"/><path d="M437.6 486.5L437.2 486.8" stroke-width="0.83" stroke-opacity="0.37"/><path d="M428.9 523.6L428.5 523.9" stroke-width="0.76" stroke-opacity="0.33"/><path d="M417.1 474.7L418.4 476.5" stroke-width="0.84" stroke-opacity="0.52"/><path d="M474.2 486.1L475.1 488.0" stroke-width="0.97" stroke-opacity="0.30"/><path d="M443.4 494.8L443.2 497.3" stroke-width="0.76" stroke-opacity="0.28"/><path d="M426.5 476.8L425.5 477.5" stroke-width="0.81" stroke-opacity="0.58"/><path d="M481.9 510.3L482.8 512.1" stroke-width="0.79" stroke-opacity="0.52"/><path d="M439.3 508.5L440.5 508.5" stroke-width="1.00" stroke-opacity="0.35"/><path d="M416.9 473.5L417.0 474.6" stroke-width="0.81" stroke-opacity="0.49"/><path d="M460.4 476.3L460.8 477.4" stroke-width="0.91" stroke-opacity="0.63"/><path d="M421.3 508.3L422.5 509.3" stroke-width="0.80" stroke-opacity="0.59"/><path d="M456.7 465.4L457.6 466.4" stroke-width="0.83" stroke-opacity="0.38"/><path d="M409.8 497.3L411.9 497.6" stroke-width="1.14" stroke-opacity="0.40"/><path d="M458.2 508.2L460.2 509.5" stroke-width="1.09" stroke-opacity="0.49"/><path d="M425.5 503.4L425.0 503.5" stroke-width="0.82" stroke-opacity="0.30"/><path d="M448.8 480.9L447.6 482.2" stroke-width="0.93" stroke-opacity="0.41"/><path d="M453.0 497.6L453.8 499.8" stroke-width="0.84" stroke-opacity="0.35"/><path d="M429.6 482.2L430.8 483.5" stroke-width="0.90" stroke-opacity="0.61"/><path d="M420.1 523.7L418.6 523.8" stroke-width="1.10" stroke-opacity="0.49"/><path d="M420.1 466.0L418.7 466.5" stroke-width="0.93" stroke-opacity="0.45"/><path d="M457.3 468.3L457.2 468.9" stroke-width="1.00" stroke-opacity="0.41"/><path d="M424.0 521.6L425.2 521.7" stroke-width="0.91" stroke-opacity="0.41"/><path d="M480.0 483.5L478.1 484.0" stroke-width="0.98" stroke-opacity="0.44"/><path d="M435.7 488.2L435.3 488.6" stroke-width="0.98" stroke-opacity="0.57"/><path d="M457.4 486.8L458.0 487.7" stroke-width="1.07" stroke-opacity="0.64"/><path d="M429.0 467.6L429.5 468.8" stroke-width="0.98" stroke-opacity="0.48"/><path d="M418.5 488.5L416.7 490.0" stroke-width="1.12" stroke-opacity="0.57"/><path d="M479.7 508.0L478.5 508.4" stroke-width="0.94" stroke-opacity="0.62"/><path d="M410.3 487.3L411.1 488.1" stroke-width="1.11" stroke-opacity="0.27"/><path d="M471.2 482.9L471.2 484.8" stroke-width="0.99" stroke-opacity="0.35"/><path d="M421.5 475.4L419.8 477.1" stroke-width="1.11" stroke-opacity="0.55"/><path d="M475.1 495.5L472.8 496.4" stroke-width="1.02" stroke-opacity="0.55"/><path d="M467.7 467.2L467.5 467.6" stroke-width="0.82" stroke-opacity="0.53"/><path d="M418.5 474.3L416.3 475.2" stroke-width="1.03" stroke-opacity="0.34"/><path d="M416.2 505.3L417.2 506.4" stroke-width="0.88" stroke-opacity="0.34"/><path d="M462.7 494.6L463.0 494.6" stroke-width="0.87" stroke-opacity="0.53"/><path d="M440.9 499.2L441.4 500.1" stroke-width="0.94" stroke-opacity="0.62"/><path d="M451.3 506.0L451.8 507.1" stroke-width="0.79" stroke-opacity="0.26"/><path d="M441.0 486.7L442.7 488.1" stroke-width="0.83" stroke-opacity="0.26"/><path d="M411.6 495.9L411.4 496.3" stroke-width="0.77" stroke-opacity="0.33"/><path d="M467.8 520.7L467.0 521.5" stroke-width="1.01" stroke-opacity="0.60"/><path d="M470.5 517.4L471.0 519.3" stroke-width="1.07" stroke-opacity="0.60"/><path d="M450.9 509.6L451.1 509.9" stroke-width="0.84" stroke-opacity="0.52"/><path d="M417.2 505.8L415.6 506.5" stroke-width="0.90" stroke-opacity="0.64"/><path d="M422.1 512.1L423.7 513.8" stroke-width="0.86" stroke-opacity="0.54"/><path d="M417.5 489.9L415.4 490.3" stroke-width="1.08" stroke-opacity="0.33"/><path d="M414.8 486.4L416.4 487.4" stroke-width="1.14" stroke-opacity="0.44"/><path d="M448.8 521.3L449.2 523.7" stroke-width="1.00" stroke-opacity="0.32"/><path d="M416.3 478.7L415.7 479.7" stroke-width="0.80" stroke-opacity="0.48"/><path d="M456.7 515.3L454.6 515.8" stroke-width="0.97" stroke-opacity="0.38"/><path d="M461.8 488.2L463.4 488.4" stroke-width="0.82" stroke-opacity="0.39"/><path d="M454.2 506.9L453.5 507.1" stroke-width="0.99" stroke-opacity="0.26"/><path d="M460.6 519.5L458.7 520.1" stroke-width="1.10" stroke-opacity="0.48"/><path d="M419.2 516.1L419.0 517.6" stroke-width="0.94" stroke-opacity="0.48"/><path d="M439.2 478.1L438.2 478.6" stroke-width="0.82" stroke-opacity="0.40"/><path d="M450.8 475.8L450.2 477.2" stroke-width="0.86" stroke-opacity="0.35"/><path d="M453.1 507.8L452.0 508.7" stroke-width="0.99" stroke-opacity="0.42"/><path d="M444.0 481.7L445.4 482.3" stroke-width="1.11" stroke-opacity="0.46"/><path d="M480.8 468.4L479.9 468.5" stroke-width="0.97" stroke-opacity="0.46"/><path d="M478.6 487.0L481.0 487.5" stroke-width="0.92" stroke-opacity="0.57"/><path d="M473.6 514.8L472.4 515.2" stroke-width="1.01" stroke-opacity="0.50"/><path d="M477.1 470.4L477.8 470.7" stroke-width="1.09" stroke-opacity="0.51"/><path d="M450.4 471.5L449.2 471.5" stroke-width="1.01" stroke-opacity="0.60"/><path d="M481.7 480.9L481.1 481.7" stroke-width="0.75" stroke-opacity="0.63"/><path d="M470.9 475.1L472.1 476.3" stroke-width="0.99" stroke-opacity="0.49"/><path d="M446.5 472.9L445.7 474.6" stroke-width="0.92" stroke-opacity="0.57"/><path d="M460.9 464.7L460.7 467.2" stroke-width="0.87" stroke-opacity="0.64"/><path d="M471.9 510.1L473.5 511.8" stroke-width="1.09" stroke-opacity="0.56"/></g>
<ellipse cx="420.0" cy="490.0" rx="3.0" ry="3.0" fill="#eef0f2" opacity="0.85" filter="url(#soft2)"/>
<ellipse cx="466.0" cy="515.0" rx="2.0" ry="2.5" fill="#eef0f2" opacity="0.85" filter="url(#soft2)"/>
<path d="M412.2 521.0h9" stroke="#fff" stroke-width="0.8" opacity="0.6"/>
</g>
<g clip-path="url(#c10)">
<rect x="26.0" y="526.0" width="75.10" height="62.70" fill="#dcd3cf"/>
<rect x="26.0" y="526.0" width="75.10" height="62.70" fill="#fff" filter="url(#lnoise)" opacity="0.5"/>
<rect x="26.0" y="526.0" width="75.10" height="62.70" fill="#fff" filter="url(#lnoise2)" opacity="0.35"/>
<g fill="#8aa0c6" filter="url(#soft)"><circle cx="28.9" cy="530.4" r="1.14" fill-opacity="0.75"/><circle cx="32.6" cy="528.7" r="1.20" fill-opacity="0.84"/><circle cx="42.8" cy="530.0" r="1.23" fill-opacity="0.61"/><circle cx="51.8" cy="529.3" r="1.20" fill-opacity="0.65"/><circle cx="58.6" cy="527.3" r="1.05" fill-opacity="0.61"/><circle cx="65.5" cy="530.1" r="1.16" fill-opacity="0.79"/><circle cx="71.7" cy="528.5" r="1.06" fill-opacity="0.90"/><circle cx="77.8" cy="529.5" r="1.08" fill-opacity="0.67"/><circle cx="79.8" cy="529.8" r="1.11" fill-opacity="0.85"/><circle cx="88.9" cy="530.1" r="0.95" fill-opacity="0.66"/><circle cx="92.1" cy="530.7" r="1.11" fill-opacity="0.62"/><circle cx="98.7" cy="527.7" r="0.98" fill-opacity="0.70"/><circle cx="103.9" cy="527.0" r="1.05" fill-opacity="0.63"/><circle cx="32.6" cy="534.2" r="1.13" fill-opacity="0.66"/><circle cx="37.7" cy="534.6" r="1.00" fill-opacity="0.73"/><circle cx="43.6" cy="535.9" r="1.27" fill-opacity="0.69"/><circle cx="48.6" cy="533.5" r="1.29" fill-opacity="0.79"/><circle cx="59.2" cy="532.9" r="1.26" fill-opacity="0.70"/><circle cx="63.9" cy="532.2" r="1.18" fill-opacity="0.67"/><circle cx="70.5" cy="533.8" r="1.33" fill-opacity="0.75"/><circle cx="77.9" cy="532.6" r="1.01" fill-opacity="0.87"/><circle cx="80.6" cy="532.6" r="1.25" fill-opacity="0.88"/><circle cx="88.9" cy="535.6" r="1.19" fill-opacity="0.73"/><circle cx="101.7" cy="534.8" r="1.05" fill-opacity="0.85"/><circle cx="27.8" cy="537.9" r="1.24" fill-opacity="0.62"/><circle cx="34.2" cy="540.7" r="1.20" fill-opacity="0.68"/><circle cx="38.0" cy="537.2" r="1.06" fill-opacity="0.73"/><circle cx="49.3" cy="539.6" r="1.00" fill-opacity="0.71"/><circle cx="57.2" cy="539.9" r="1.23" fill-opacity="0.78"/><circle cx="58.5" cy="537.2" r="1.31" fill-opacity="0.81"/><circle cx="63.7" cy="539.8" r="1.14" fill-opacity="0.82"/><circle cx="73.2" cy="537.4" r="1.17" fill-opacity="0.82"/><circle cx="77.4" cy="540.1" r="1.27" fill-opacity="0.87"/><circle cx="82.4" cy="540.9" r="1.30" fill-opacity="0.73"/><circle cx="88.5" cy="539.6" r="1.20" fill-opacity="0.71"/><circle cx="92.7" cy="537.5" r="1.21" fill-opacity="0.90"/><circle cx="98.5" cy="538.8" r="1.24" fill-opacity="0.77"/><circle cx="104.3" cy="537.5" r="1.25" fill-opacity="0.61"/><circle cx="28.6" cy="543.4" r="1.23" fill-opacity="0.75"/><circle cx="35.7" cy="543.5" r="0.95" fill-opacity="0.69"/><circle cx="38.0" cy="543.1" r="1.31" fill-opacity="0.80"/><circle cx="46.2" cy="543.8" r="1.22" fill-opacity="0.66"/><circle cx="51.1" cy="546.3" r="1.30" fill-opacity="0.72"/><circle cx="54.4" cy="543.0" r="1.15" fill-opacity="0.85"/><circle cx="61.3" cy="546.5" r="1.06" fill-opacity="0.65"/><circle cx="64.8" cy="543.3" r="1.12" fill-opacity="0.79"/><circle cx="70.3" cy="546.0" r="1.34" fill-opacity="0.74"/><circle cx="85.0" cy="545.4" r="1.18" fill-opacity="0.69"/><circle cx="90.2" cy="543.0" r="1.13" fill-opacity="0.61"/><circle cx="96.4" cy="543.0" r="0.97" fill-opacity="0.79"/><circle cx="103.4" cy="545.2" r="1.27" fill-opacity="0.89"/><circle cx="27.4" cy="549.7" r="1.02" fill-opacity="0.60"/><circle cx="34.9" cy="548.5" r="1.06" fill-opacity="0.70"/><circle cx="39.3" cy="550.3" r="1.25" fill-opacity="0.72"/><circle cx="46.3" cy="548.1" r="1.32" fill-opacity="0.82"/><circle cx="49.7" cy="550.4" r="1.31" fill-opacity="0.71"/><circle cx="56.8" cy="551.1" r="1.33" fill-opacity="0.74"/><circle cx="59.2" cy="550.8" r="1.28" fill-opacity="0.79"/><circle cx="64.5" cy="551.5" r="1.34" fill-opacity="0.89"/><circle cx="72.3" cy="549.1" r="1.31" fill-opacity="0.86"/><circle cx="74.6" cy="549.6" r="1.17" fill-opacity="0.83"/><circle cx="79.7" cy="551.2" r="0.98" fill-opacity="0.84"/><circle cx="86.3" cy="551.1" r="1.01" fill-opacity="0.64"/><circle cx="93.2" cy="551.3" r="1.23" fill-opacity="0.88"/><circle cx="99.5" cy="548.1" r="1.04" fill-opacity="0.76"/><circle cx="103.8" cy="550.4" r="1.16" fill-opacity="0.85"/><circle cx="27.9" cy="554.6" r="1.29" fill-opacity="0.87"/><circle cx="35.4" cy="557.1" r="1.16" fill-opacity="0.77"/><circle cx="39.4" cy="555.2" r="1.19" fill-opacity="0.61"/><circle cx="44.6" cy="554.7" r="1.27" fill-opacity="0.77"/><circle cx="50.7" cy="553.3" r="1.17" fill-opacity="0.72"/><circle cx="56.9" cy="554.2" r="1.14" fill-opacity="0.64"/><circle cx="61.8" cy="556.8" r="1.14" fill-opacity="0.70"/><circle cx="66.2" cy="557.0" r="1.00" fill-opacity="0.83"/><circle cx="75.2" cy="555.9" r="1.08" fill-opacity="0.71"/><circle cx="80.0" cy="556.1" r="1.00" fill-opacity="0.75"/><circle cx="85.7" cy="555.3" r="1.12" fill-opacity="0.71"/><circle cx="92.4" cy="553.7" r="1.03" fill-opacity="0.79"/><circle cx="97.7" cy="556.6" r="1.19" fill-opacity="0.86"/><circle cx="103.9" cy="556.5" r="1.31" fill-opacity="0.69"/><circle cx="30.4" cy="559.3" r="1.35" fill-opacity="0.87"/><circle cx="32.8" cy="561.4" r="1.05" fill-opacity="0.63"/><circle cx="38.9" cy="561.7" r="1.00" fill-opacity="0.72"/><circle cx="42.5" cy="559.2" r="1.22" fill-opacity="0.87"/><circle cx="48.2" cy="560.5" r="1.25" fill-opacity="0.75"/><circle cx="53.8" cy="558.6" r="0.99" fill-opacity="0.61"/><circle cx="60.5" cy="560.7" r="1.01" fill-opacity="0.66"/><circle cx="67.2" cy="562.5" r="1.32" fill-opacity="0.63"/><circle cx="76.2" cy="561.6" r="1.08" fill-opacity="0.74"/><circle cx="81.4" cy="560.9" r="0.96" fill-opacity="0.81"/><circle cx="85.6" cy="560.3" r="1.25" fill-opacity="0.72"/><circle cx="90.8" cy="560.5" r="0.96" fill-opacity="0.87"/><circle cx="98.4" cy="562.0" r="1.20" fill-opacity="0.72"/><circle cx="102.9" cy="562.5" r="1.27" fill-opacity="0.68"/><circle cx="29.7" cy="566.9" r="1.28" fill-opacity="0.72"/><circle cx="35.6" cy="566.6" r="1.26" fill-opacity="0.83"/><circle cx="40.2" cy="563.9" r="1.09" fill-opacity="0.74"/><circle cx="50.4" cy="566.3" r="1.04" fill-opacity="0.88"/><circle cx="54.5" cy="566.4" r="1.18" fill-opacity="0.76"/><circle cx="62.6" cy="566.4" r="1.23" fill-opacity="0.83"/><circle cx="63.7" cy="566.2" r="1.25" fill-opacity="0.68"/><circle cx="69.1" cy="564.5" r="1.10" fill-opacity="0.63"/><circle cx="78.1" cy="566.0" r="1.15" fill-opacity="0.89"/><circle cx="83.7" cy="566.3" r="1.27" fill-opacity="0.62"/><circle cx="88.0" cy="563.8" r="1.32" fill-opacity="0.65"/><circle cx="90.8" cy="565.7" r="1.19" fill-opacity="0.62"/><circle cx="97.2" cy="565.9" r="1.19" fill-opacity="0.71"/><circle cx="103.5" cy="566.0" r="1.06" fill-opacity="0.81"/><circle cx="26.6" cy="570.0" r="0.97" fill-opacity="0.65"/><circle cx="33.5" cy="572.7" r="1.25" fill-opacity="0.62"/><circle cx="41.1" cy="569.2" r="1.31" fill-opacity="0.73"/><circle cx="46.6" cy="570.0" r="1.16" fill-opacity="0.88"/><circle cx="49.7" cy="573.1" r="1.28" fill-opacity="0.78"/><circle cx="60.3" cy="569.8" r="0.97" fill-opacity="0.76"/><circle cx="65.5" cy="571.8" r="1.13" fill-opacity="0.68"/><circle cx="70.7" cy="572.2" r="1.16" fill-opacity="0.90"/><circle cx="77.3" cy="569.9" r="1.00" fill-opacity="0.87"/><circle cx="82.2" cy="570.5" r="1.06" fill-opacity="0.81"/><circle cx="87.3" cy="571.6" r="1.25" fill-opacity="0.66"/><circle cx="94.3" cy="572.8" r="1.30" fill-opacity="0.61"/><circle cx="102.5" cy="571.6" r="0.99" fill-opacity="0.76"/><circle cx="39.5" cy="576.9" r="1.10" fill-opacity="0.74"/><circle cx="43.9" cy="577.4" r="1.29" fill-opacity="0.62"/><circle cx="55.7" cy="577.5" r="1.04" fill-opacity="0.73"/><circle cx="61.8" cy="575.8" r="1.21" fill-opacity="0.90"/><circle cx="66.0" cy="577.4" r="1.32" fill-opacity="0.73"/><circle cx="69.3" cy="577.9" r="0.98" fill-opacity="0.62"/><circle cx="76.3" cy="577.1" r="1.07" fill-opacity="0.83"/><circle cx="87.6" cy="574.6" r="1.07" fill-opacity="0.82"/><circle cx="91.3" cy="574.8" r="1.09" fill-opacity="0.82"/><circle cx="95.9" cy="577.2" r="1.18" fill-opacity="0.88"/><circle cx="104.6" cy="576.1" r="1.27" fill-opacity="0.69"/><circle cx="28.2" cy="583.5" r="1.31" fill-opacity="0.67"/><circle cx="33.4" cy="581.1" r="1.11" fill-opacity="0.72"/><circle cx="39.5" cy="582.9" r="1.17" fill-opacity="0.85"/><circle cx="43.2" cy="582.7" r="1.30" fill-opacity="0.68"/><circle cx="55.3" cy="581.9" r="1.34" fill-opacity="0.80"/><circle cx="58.6" cy="581.8" r="1.27" fill-opacity="0.63"/><circle cx="72.7" cy="579.9" r="1.20" fill-opacity="0.64"/><circle cx="77.0" cy="580.6" r="1.04" fill-opacity="0.83"/><circle cx="82.8" cy="581.2" r="1.09" fill-opacity="0.89"/><circle cx="86.9" cy="581.8" r="1.24" fill-opacity="0.81"/><circle cx="91.9" cy="583.0" r="1.22" fill-opacity="0.86"/><circle cx="99.0" cy="583.3" r="1.33" fill-opacity="0.79"/><circle cx="103.7" cy="582.9" r="1.12" fill-opacity="0.73"/><circle cx="29.7" cy="589.0" r="1.10" fill-opacity="0.65"/><circle cx="33.6" cy="586.1" r="1.34" fill-opacity="0.62"/><circle cx="37.6" cy="587.6" r="1.26" fill-opacity="0.65"/><circle cx="50.2" cy="588.7" r="0.96" fill-opacity="0.63"/><circle cx="54.0" cy="585.8" r="1.24" fill-opacity="0.78"/><circle cx="59.1" cy="586.0" r="1.02" fill-opacity="0.83"/><circle cx="66.0" cy="588.3" r="1.14" fill-opacity="0.68"/><circle cx="72.8" cy="586.3" r="1.17" fill-opacity="0.89"/><circle cx="75.2" cy="585.0" r="1.33" fill-opacity="0.84"/><circle cx="81.8" cy="587.0" r="1.06" fill-opacity="0.90"/><circle cx="85.8" cy="584.9" r="1.14" fill-opacity="0.71"/><circle cx="93.2" cy="587.4" r="1.01" fill-opacity="0.65"/><circle cx="96.5" cy="588.5" r="1.16" fill-opacity="0.79"/><circle cx="101.9" cy="587.1" r="1.01" fill-opacity="0.83"/></g>
<g stroke="#b9603f" stroke-linecap="round" fill="none" filter="url(#soft2)"><path d="M24.9 576.1L27.3 578.9" stroke-width="1.61" stroke-opacity="0.33"/><path d="M80.2 530.8L79.5 533.4" stroke-width="1.43" stroke-opacity="0.63"/><path d="M88.7 544.5L92.1 545.5" stroke-width="1.41" stroke-opacity="0.62"/><path d="M89.3 538.4L86.8 539.8" stroke-width="1.46" stroke-opacity="0.36"/><path d="M49.8 544.9L48.9 546.0" stroke-width="1.35" stroke-opacity="0.46"/><path d="M53.8 569.0L52.3 569.2" stroke-width="1.40" stroke-opacity="0.46"/><path d="M87.9 566.6L88.8 567.4" stroke-width="1.39" stroke-opacity="0.55"/><path d="M67.9 554.3L68.9 555.1" stroke-width="1.70" stroke-opacity="0.58"/><path d="M71.7 543.2L72.8 545.2" stroke-width="1.47" stroke-opacity="0.40"/><path d="M55.0 567.0L56.0 568.6" stroke-width="1.30" stroke-opacity="0.56"/><path d="M95.4 560.8L98.6 561.8" stroke-width="1.37" stroke-opacity="0.59"/><path d="M36.1 530.4L37.1 533.5" stroke-width="1.55" stroke-opacity="0.36"/><path d="M88.2 562.9L89.5 563.4" stroke-width="1.31" stroke-opacity="0.35"/><path d="M57.4 528.8L55.7 532.3" stroke-width="1.41" stroke-opacity="0.48"/><path d="M82.4 577.4L84.8 577.5" stroke-width="1.37" stroke-opacity="0.44"/><path d="M56.8 567.9L55.4 571.8" stroke-width="1.59" stroke-opacity="0.53"/><path d="M27.0 545.7L27.8 547.8" stroke-width="1.53" stroke-opacity="0.34"/><path d="M65.6 574.2L62.9 576.7" stroke-width="1.51" stroke-opacity="0.36"/><path d="M94.5 559.5L93.1 561.3" stroke-width="1.45" stroke-opacity="0.35"/><path d="M101.8 558.1L98.5 558.6" stroke-width="1.62" stroke-opacity="0.37"/><path d="M73.5 537.8L72.7 539.0" stroke-width="1.32" stroke-opacity="0.50"/><path d="M51.9 584.2L49.6 584.3" stroke-width="1.43" stroke-opacity="0.34"/><path d="M35.2 581.6L37.1 583.7" stroke-width="1.48" stroke-opacity="0.50"/><path d="M95.8 587.3L92.7 589.2" stroke-width="1.50" stroke-opacity="0.34"/><path d="M46.9 581.7L48.5 582.8" stroke-width="1.49" stroke-opacity="0.59"/><path d="M67.8 530.7L66.5 530.9" stroke-width="1.29" stroke-opacity="0.65"/><path d="M75.9 543.7L75.0 546.8" stroke-width="1.57" stroke-opacity="0.43"/><path d="M86.1 526.2L86.7 527.9" stroke-width="1.43" stroke-opacity="0.35"/><path d="M68.1 535.7L69.5 538.1" stroke-width="1.33" stroke-opacity="0.50"/><path d="M74.7 526.8L73.7 529.9" stroke-width="1.27" stroke-opacity="0.64"/><path d="M62.4 550.7L60.2 552.9" stroke-width="1.54" stroke-opacity="0.57"/><path d="M62.1 586.5L62.9 590.2" stroke-width="1.63" stroke-opacity="0.44"/></g>
<ellipse cx="62.0" cy="588.0" rx="4.0" ry="2.5" fill="#eef0f2" opacity="0.85" filter="url(#soft2)"/>
<path d="M29.0 585.7h9" stroke="#fff" stroke-width="0.8" opacity="0.6"/>
</g>
<g clip-path="url(#c11)">
<rect x="102.8" y="526.0" width="74.50" height="62.70" fill="#dcd2cd"/>
<rect x="102.8" y="526.0" width="74.50" height="62.70" fill="#fff" filter="url(#lnoise)" opacity="0.5"/>
<rect x="102.8" y="526.0" width="74.50" height="62.70" fill="#fff" filter="url(#lnoise2)" opacity="0.35"/>
<g fill="#8aa0c6" filter="url(#soft)"><circle cx="106.1" cy="529.4" r="1.01" fill-opacity="0.60"/><circle cx="109.8" cy="530.0" r="1.23" fill-opacity="0.78"/><circle cx="116.7" cy="527.1" r="1.13" fill-opacity="0.65"/><circle cx="119.5" cy="530.0" r="0.98" fill-opacity="0.81"/><circle cx="126.2" cy="530.1" r="0.96" fill-opacity="0.62"/><circle cx="132.0" cy="526.9" r="1.34" fill-opacity="0.88"/><circle cx="141.0" cy="527.9" r="1.20" fill-opacity="0.65"/><circle cx="145.9" cy="527.3" r="1.28" fill-opacity="0.72"/><circle cx="153.6" cy="528.6" r="1.10" fill-opacity="0.61"/><circle cx="160.4" cy="530.7" r="1.22" fill-opacity="0.71"/><circle cx="164.6" cy="529.4" r="1.00" fill-opacity="0.67"/><circle cx="169.1" cy="530.0" r="1.15" fill-opacity="0.61"/><circle cx="174.1" cy="528.7" r="1.04" fill-opacity="0.73"/><circle cx="180.8" cy="527.0" r="1.17" fill-opacity="0.65"/><circle cx="103.5" cy="533.0" r="1.09" fill-opacity="0.79"/><circle cx="114.8" cy="533.0" r="1.14" fill-opacity="0.89"/><circle cx="123.3" cy="532.5" r="1.32" fill-opacity="0.71"/><circle cx="127.7" cy="535.7" r="0.95" fill-opacity="0.68"/><circle cx="131.3" cy="532.9" r="0.95" fill-opacity="0.61"/><circle cx="139.3" cy="536.1" r="1.15" fill-opacity="0.61"/><circle cx="143.8" cy="535.4" r="1.21" fill-opacity="0.67"/><circle cx="147.8" cy="534.5" r="1.06" fill-opacity="0.88"/><circle cx="151.7" cy="533.1" r="1.30" fill-opacity="0.68"/><circle cx="158.5" cy="534.8" r="1.23" fill-opacity="0.66"/><circle cx="162.7" cy="534.7" r="1.23" fill-opacity="0.64"/><circle cx="168.7" cy="532.9" r="1.12" fill-opacity="0.89"/><circle cx="174.9" cy="535.7" r="1.33" fill-opacity="0.83"/><circle cx="180.0" cy="535.7" r="1.27" fill-opacity="0.77"/><circle cx="104.9" cy="540.2" r="1.18" fill-opacity="0.61"/><circle cx="112.5" cy="540.5" r="1.31" fill-opacity="0.87"/><circle cx="117.3" cy="538.7" r="0.99" fill-opacity="0.71"/><circle cx="123.2" cy="540.1" r="1.17" fill-opacity="0.79"/><circle cx="126.8" cy="540.1" r="1.11" fill-opacity="0.67"/><circle cx="131.2" cy="540.0" r="1.01" fill-opacity="0.63"/><circle cx="138.1" cy="540.4" r="1.21" fill-opacity="0.88"/><circle cx="140.6" cy="539.2" r="1.13" fill-opacity="0.65"/><circle cx="147.2" cy="538.1" r="1.08" fill-opacity="0.88"/><circle cx="157.5" cy="538.0" r="1.12" fill-opacity="0.67"/><circle cx="163.8" cy="540.1" r="1.01" fill-opacity="0.74"/><circle cx="170.5" cy="538.2" r="1.13" fill-opacity="0.86"/><circle cx="173.2" cy="539.4" r="1.25" fill-opacity="0.72"/><circle cx="180.3" cy="541.3" r="1.17" fill-opacity="0.80"/><circle cx="106.4" cy="543.8" r="1.15" fill-opacity="0.71"/><circle cx="109.2" cy="543.4" r="1.17" fill-opacity="0.68"/><circle cx="120.4" cy="546.4" r="1.19" fill-opacity="0.72"/><circle cx="128.3" cy="543.8" r="1.00" fill-opacity="0.79"/><circle cx="132.4" cy="545.8" r="1.11" fill-opacity="0.79"/><circle cx="136.9" cy="544.0" r="1.10" fill-opacity="0.72"/><circle cx="141.2" cy="543.3" r="1.05" fill-opacity="0.89"/><circle cx="146.0" cy="546.0" r="1.30" fill-opacity="0.85"/><circle cx="154.1" cy="543.7" r="1.00" fill-opacity="0.86"/><circle cx="157.2" cy="546.2" r="0.96" fill-opacity="0.69"/><circle cx="167.6" cy="545.5" r="1.07" fill-opacity="0.66"/><circle cx="173.6" cy="546.1" r="1.19" fill-opacity="0.63"/><circle cx="179.8" cy="544.3" r="1.16" fill-opacity="0.80"/><circle cx="105.5" cy="550.4" r="1.14" fill-opacity="0.79"/><circle cx="110.4" cy="549.9" r="1.24" fill-opacity="0.68"/><circle cx="116.0" cy="551.4" r="1.23" fill-opacity="0.89"/><circle cx="121.0" cy="549.5" r="1.19" fill-opacity="0.83"/><circle cx="125.1" cy="548.0" r="0.99" fill-opacity="0.63"/><circle cx="140.9" cy="550.6" r="1.20" fill-opacity="0.89"/><circle cx="148.9" cy="551.8" r="0.96" fill-opacity="0.67"/><circle cx="153.0" cy="548.6" r="1.25" fill-opacity="0.73"/><circle cx="157.7" cy="548.8" r="0.98" fill-opacity="0.78"/><circle cx="165.8" cy="551.0" r="1.32" fill-opacity="0.71"/><circle cx="170.8" cy="550.3" r="1.22" fill-opacity="0.60"/><circle cx="174.3" cy="550.8" r="1.28" fill-opacity="0.83"/><circle cx="179.1" cy="551.4" r="1.35" fill-opacity="0.75"/><circle cx="106.0" cy="555.3" r="1.09" fill-opacity="0.67"/><circle cx="111.2" cy="553.6" r="1.17" fill-opacity="0.89"/><circle cx="115.0" cy="554.8" r="0.99" fill-opacity="0.82"/><circle cx="120.0" cy="555.4" r="1.19" fill-opacity="0.77"/><circle cx="125.8" cy="554.5" r="1.35" fill-opacity="0.70"/><circle cx="131.8" cy="553.8" r="1.11" fill-opacity="0.66"/><circle cx="136.7" cy="554.5" r="1.33" fill-opacity="0.69"/><circle cx="143.2" cy="554.7" r="1.16" fill-opacity="0.79"/><circle cx="151.5" cy="554.1" r="1.27" fill-opacity="0.90"/><circle cx="157.1" cy="554.9" r="1.06" fill-opacity="0.85"/><circle cx="162.5" cy="555.7" r="1.20" fill-opacity="0.78"/><circle cx="171.0" cy="555.0" r="1.32" fill-opacity="0.72"/><circle cx="173.8" cy="556.1" r="1.25" fill-opacity="0.67"/><circle cx="180.6" cy="555.2" r="1.21" fill-opacity="0.78"/><circle cx="104.8" cy="559.6" r="0.96" fill-opacity="0.87"/><circle cx="110.3" cy="562.4" r="1.31" fill-opacity="0.65"/><circle cx="115.7" cy="559.7" r="1.05" fill-opacity="0.72"/><circle cx="135.8" cy="558.8" r="1.28" fill-opacity="0.71"/><circle cx="143.0" cy="562.3" r="1.01" fill-opacity="0.67"/><circle cx="149.6" cy="562.3" r="1.16" fill-opacity="0.71"/><circle cx="154.9" cy="561.6" r="1.17" fill-opacity="0.84"/><circle cx="158.6" cy="562.2" r="0.99" fill-opacity="0.79"/><circle cx="165.2" cy="561.9" r="1.21" fill-opacity="0.73"/><circle cx="173.8" cy="560.0" r="0.98" fill-opacity="0.88"/><circle cx="179.9" cy="561.9" r="1.31" fill-opacity="0.76"/><circle cx="106.9" cy="565.2" r="1.31" fill-opacity="0.61"/><circle cx="110.9" cy="566.3" r="1.35" fill-opacity="0.67"/><circle cx="117.3" cy="566.8" r="1.16" fill-opacity="0.83"/><circle cx="122.9" cy="566.4" r="1.10" fill-opacity="0.69"/><circle cx="130.0" cy="567.8" r="1.01" fill-opacity="0.78"/><circle cx="139.2" cy="565.9" r="1.02" fill-opacity="0.85"/><circle cx="144.6" cy="564.6" r="1.11" fill-opacity="0.80"/><circle cx="148.1" cy="566.6" r="1.25" fill-opacity="0.85"/><circle cx="152.2" cy="566.8" r="1.12" fill-opacity="0.65"/><circle cx="163.1" cy="564.0" r="1.15" fill-opacity="0.72"/><circle cx="169.3" cy="565.9" r="1.16" fill-opacity="0.90"/><circle cx="173.5" cy="567.3" r="1.08" fill-opacity="0.88"/><circle cx="107.3" cy="571.7" r="1.23" fill-opacity="0.66"/><circle cx="112.7" cy="569.2" r="1.02" fill-opacity="0.73"/><circle cx="116.8" cy="573.2" r="1.26" fill-opacity="0.73"/><circle cx="120.6" cy="569.1" r="1.33" fill-opacity="0.86"/><circle cx="126.6" cy="569.8" r="1.04" fill-opacity="0.62"/><circle cx="138.9" cy="572.9" r="1.16" fill-opacity="0.80"/><circle cx="143.7" cy="571.9" r="1.34" fill-opacity="0.85"/><circle cx="148.2" cy="569.6" r="1.14" fill-opacity="0.73"/><circle cx="151.9" cy="570.7" r="1.02" fill-opacity="0.79"/><circle cx="160.5" cy="571.8" r="1.16" fill-opacity="0.73"/><circle cx="162.5" cy="573.0" r="1.32" fill-opacity="0.80"/><circle cx="167.5" cy="571.2" r="1.02" fill-opacity="0.70"/><circle cx="173.0" cy="569.9" r="1.24" fill-opacity="0.75"/><circle cx="178.2" cy="569.3" r="1.33" fill-opacity="0.78"/><circle cx="105.7" cy="574.9" r="1.34" fill-opacity="0.75"/><circle cx="109.3" cy="575.4" r="1.17" fill-opacity="0.67"/><circle cx="115.0" cy="574.6" r="1.02" fill-opacity="0.68"/><circle cx="123.0" cy="577.1" r="1.12" fill-opacity="0.61"/><circle cx="125.1" cy="575.1" r="1.12" fill-opacity="0.86"/><circle cx="130.1" cy="578.1" r="0.95" fill-opacity="0.82"/><circle cx="136.4" cy="575.1" r="1.13" fill-opacity="0.88"/><circle cx="142.7" cy="574.6" r="1.02" fill-opacity="0.69"/><circle cx="149.6" cy="574.3" r="1.08" fill-opacity="0.89"/><circle cx="151.4" cy="575.4" r="1.31" fill-opacity="0.68"/><circle cx="156.8" cy="577.0" r="1.02" fill-opacity="0.78"/><circle cx="165.4" cy="576.1" r="1.34" fill-opacity="0.72"/><circle cx="170.8" cy="578.5" r="0.99" fill-opacity="0.68"/><circle cx="176.0" cy="575.3" r="1.26" fill-opacity="0.74"/><circle cx="117.9" cy="582.4" r="1.30" fill-opacity="0.87"/><circle cx="122.2" cy="582.3" r="1.23" fill-opacity="0.63"/><circle cx="125.2" cy="581.4" r="1.23" fill-opacity="0.82"/><circle cx="131.2" cy="580.8" r="1.24" fill-opacity="0.61"/><circle cx="136.5" cy="581.2" r="1.08" fill-opacity="0.81"/><circle cx="141.0" cy="579.8" r="1.00" fill-opacity="0.79"/><circle cx="145.8" cy="581.5" r="1.09" fill-opacity="0.69"/><circle cx="151.5" cy="581.3" r="1.06" fill-opacity="0.62"/><circle cx="160.3" cy="582.6" r="1.34" fill-opacity="0.84"/><circle cx="162.6" cy="580.0" r="1.34" fill-opacity="0.81"/><circle cx="167.5" cy="582.9" r="1.16" fill-opacity="0.63"/><circle cx="176.3" cy="582.2" r="0.99" fill-opacity="0.62"/><circle cx="179.0" cy="581.6" r="1.00" fill-opacity="0.65"/><circle cx="105.1" cy="585.6" r="1.01" fill-opacity="0.73"/><circle cx="119.4" cy="587.9" r="1.26" fill-opacity="0.81"/><circle cx="125.2" cy="586.6" r="1.12" fill-opacity="0.62"/><circle cx="130.0" cy="589.0" r="1.22" fill-opacity="0.90"/><circle cx="144.5" cy="588.1" r="1.18" fill-opacity="0.79"/><circle cx="149.3" cy="587.3" r="1.17" fill-opacity="0.72"/><circle cx="153.5" cy="588.8" r="1.26" fill-opacity="0.70"/><circle cx="157.3" cy="586.9" r="1.16" fill-opacity="0.82"/><circle cx="167.7" cy="587.5" r="1.02" fill-opacity="0.77"/><circle cx="174.0" cy="585.8" r="1.19" fill-opacity="0.72"/><circle cx="178.3" cy="587.7" r="1.09" fill-opacity="0.90"/></g>
<g stroke="#b9603f" stroke-linecap="round" fill="none" filter="url(#soft2)"><path d="M141.7 568.3L137.9 569.2" stroke-width="1.69" stroke-opacity="0.31"/><path d="M110.9 583.7L110.2 587.2" stroke-width="1.33" stroke-opacity="0.55"/><path d="M135.2 565.3L137.8 565.3" stroke-width="1.53" stroke-opacity="0.54"/><path d="M148.7 569.4L152.1 571.0" stroke-width="1.47" stroke-opacity="0.49"/><path d="M117.1 581.5L117.6 582.8" stroke-width="1.65" stroke-opacity="0.34"/><path d="M148.1 527.2L150.2 528.5" stroke-width="1.60" stroke-opacity="0.43"/><path d="M106.8 584.9L107.7 586.0" stroke-width="1.53" stroke-opacity="0.52"/><path d="M143.6 568.5L145.1 569.6" stroke-width="1.32" stroke-opacity="0.62"/><path d="M139.9 552.9L138.5 556.1" stroke-width="1.63" stroke-opacity="0.57"/><path d="M142.5 530.4L143.6 533.1" stroke-width="1.42" stroke-opacity="0.56"/><path d="M110.1 549.7L113.7 550.4" stroke-width="1.45" stroke-opacity="0.53"/><path d="M118.6 541.5L120.0 543.8" stroke-width="1.26" stroke-opacity="0.63"/><path d="M101.6 540.7L104.2 541.4" stroke-width="1.51" stroke-opacity="0.59"/><path d="M173.9 579.0L176.3 580.3" stroke-width="1.52" stroke-opacity="0.41"/><path d="M103.4 584.3L103.7 588.2" stroke-width="1.42" stroke-opacity="0.51"/><path d="M154.7 530.6L153.4 533.8" stroke-width="1.29" stroke-opacity="0.51"/><path d="M166.1 563.7L165.8 565.4" stroke-width="1.61" stroke-opacity="0.43"/><path d="M163.1 586.9L161.8 587.6" stroke-width="1.43" stroke-opacity="0.41"/><path d="M133.4 581.6L131.5 584.6" stroke-width="1.41" stroke-opacity="0.57"/><path d="M111.1 544.0L112.0 545.3" stroke-width="1.62" stroke-opacity="0.44"/><path d="M156.9 587.4L155.6 588.3" stroke-width="1.55" stroke-opacity="0.38"/><path d="M157.0 573.7L159.8 574.7" stroke-width="1.26" stroke-opacity="0.60"/><path d="M146.5 585.2L145.6 587.0" stroke-width="1.44" stroke-opacity="0.54"/><path d="M127.9 550.5L125.9 553.7" stroke-width="1.56" stroke-opacity="0.36"/><path d="M168.0 562.9L164.5 564.5" stroke-width="1.33" stroke-opacity="0.40"/><path d="M121.3 533.5L122.6 534.4" stroke-width="1.64" stroke-opacity="0.59"/><path d="M159.1 537.3L157.0 539.5" stroke-width="1.21" stroke-opacity="0.50"/><path d="M140.1 564.7L140.7 566.1" stroke-width="1.43" stroke-opacity="0.57"/><path d="M159.7 562.6L156.7 564.5" stroke-width="1.57" stroke-opacity="0.41"/><path d="M162.8 551.4L164.5 554.2" stroke-width="1.41" stroke-opacity="0.50"/><path d="M137.3 543.4L137.1 547.3" stroke-width="1.51" stroke-opacity="0.51"/><path d="M137.5 535.4L137.3 538.5" stroke-width="1.42" stroke-opacity="0.42"/></g>
<ellipse cx="145.0" cy="585.0" rx="2.5" ry="4.0" fill="#eef0f2" opacity="0.85" filter="url(#soft2)"/>
<path d="M105.8 585.7h9" stroke="#fff" stroke-width="0.8" opacity="0.6"/>
</g>
<g clip-path="url(#c12)">
<rect x="179.8" y="526.0" width="74.60" height="62.70" fill="#dedcda"/>
<rect x="179.8" y="526.0" width="74.60" height="62.70" fill="#fff" filter="url(#lnoise)" opacity="0.5"/>
<rect x="179.8" y="526.0" width="74.60" height="62.70" fill="#fff" filter="url(#lnoise2)" opacity="0.35"/>
<g fill="#8aa0c6" filter="url(#soft)"><circle cx="183.2" cy="529.4" r="1.29" fill-opacity="0.66"/><circle cx="186.3" cy="527.5" r="1.24" fill-opacity="0.64"/><circle cx="191.8" cy="527.8" r="1.12" fill-opacity="0.85"/><circle cx="196.3" cy="527.7" r="1.01" fill-opacity="0.86"/><circle cx="204.9" cy="530.0" r="1.25" fill-opacity="0.88"/><circle cx="207.9" cy="530.1" r="1.14" fill-opacity="0.83"/><circle cx="214.0" cy="528.1" r="1.12" fill-opacity="0.69"/><circle cx="226.1" cy="530.7" r="1.23" fill-opacity="0.77"/><circle cx="228.6" cy="529.4" r="1.13" fill-opacity="0.65"/><circle cx="235.5" cy="527.6" r="1.13" fill-opacity="0.78"/><circle cx="239.2" cy="528.6" r="1.04" fill-opacity="0.67"/><circle cx="245.5" cy="526.8" r="1.21" fill-opacity="0.89"/><circle cx="252.3" cy="530.5" r="0.97" fill-opacity="0.64"/><circle cx="258.1" cy="529.2" r="1.01" fill-opacity="0.72"/><circle cx="184.1" cy="535.2" r="1.03" fill-opacity="0.86"/><circle cx="188.7" cy="532.4" r="1.34" fill-opacity="0.78"/><circle cx="191.8" cy="534.4" r="1.18" fill-opacity="0.78"/><circle cx="199.3" cy="533.3" r="1.07" fill-opacity="0.65"/><circle cx="202.0" cy="532.8" r="0.98" fill-opacity="0.79"/><circle cx="209.1" cy="532.0" r="1.13" fill-opacity="0.70"/><circle cx="223.2" cy="533.1" r="1.06" fill-opacity="0.78"/><circle cx="234.9" cy="535.4" r="0.95" fill-opacity="0.70"/><circle cx="242.7" cy="534.0" r="1.14" fill-opacity="0.80"/><circle cx="244.1" cy="534.0" r="1.31" fill-opacity="0.82"/><circle cx="252.1" cy="535.4" r="1.05" fill-opacity="0.78"/><circle cx="255.6" cy="533.0" r="1.03" fill-opacity="0.71"/><circle cx="186.0" cy="540.3" r="1.19" fill-opacity="0.60"/><circle cx="191.7" cy="539.2" r="1.17" fill-opacity="0.70"/><circle cx="198.1" cy="537.7" r="1.30" fill-opacity="0.63"/><circle cx="202.5" cy="538.4" r="1.11" fill-opacity="0.61"/><circle cx="208.4" cy="539.0" r="1.30" fill-opacity="0.90"/><circle cx="218.0" cy="540.5" r="1.08" fill-opacity="0.87"/><circle cx="223.3" cy="537.2" r="1.05" fill-opacity="0.86"/><circle cx="230.1" cy="538.7" r="1.09" fill-opacity="0.84"/><circle cx="236.4" cy="540.0" r="1.32" fill-opacity="0.76"/><circle cx="240.5" cy="539.6" r="1.20" fill-opacity="0.85"/><circle cx="244.4" cy="537.7" r="1.16" fill-opacity="0.84"/><circle cx="250.5" cy="541.2" r="1.07" fill-opacity="0.63"/><circle cx="186.1" cy="545.5" r="1.30" fill-opacity="0.90"/><circle cx="192.7" cy="545.1" r="1.28" fill-opacity="0.81"/><circle cx="199.5" cy="542.9" r="1.07" fill-opacity="0.90"/><circle cx="202.7" cy="545.8" r="1.13" fill-opacity="0.60"/><circle cx="213.5" cy="546.4" r="1.05" fill-opacity="0.86"/><circle cx="219.2" cy="546.6" r="1.25" fill-opacity="0.75"/><circle cx="224.7" cy="546.3" r="1.16" fill-opacity="0.66"/><circle cx="230.0" cy="543.2" r="1.18" fill-opacity="0.61"/><circle cx="234.1" cy="542.9" r="1.19" fill-opacity="0.69"/><circle cx="240.7" cy="544.6" r="1.28" fill-opacity="0.66"/><circle cx="246.7" cy="544.2" r="1.33" fill-opacity="0.61"/><circle cx="249.8" cy="546.0" r="1.01" fill-opacity="0.62"/><circle cx="258.5" cy="543.5" r="1.14" fill-opacity="0.78"/><circle cx="182.6" cy="547.8" r="1.13" fill-opacity="0.83"/><circle cx="186.6" cy="547.9" r="1.23" fill-opacity="0.73"/><circle cx="194.1" cy="548.2" r="1.32" fill-opacity="0.88"/><circle cx="199.8" cy="550.6" r="1.24" fill-opacity="0.80"/><circle cx="202.6" cy="548.3" r="1.24" fill-opacity="0.78"/><circle cx="214.7" cy="549.9" r="1.26" fill-opacity="0.86"/><circle cx="220.9" cy="549.8" r="1.18" fill-opacity="0.72"/><circle cx="224.6" cy="551.8" r="1.09" fill-opacity="0.80"/><circle cx="230.9" cy="549.3" r="0.98" fill-opacity="0.74"/><circle cx="236.8" cy="551.1" r="1.34" fill-opacity="0.73"/><circle cx="241.0" cy="550.9" r="0.98" fill-opacity="0.66"/><circle cx="245.3" cy="549.0" r="1.34" fill-opacity="0.66"/><circle cx="250.5" cy="548.6" r="1.34" fill-opacity="0.63"/><circle cx="180.6" cy="554.7" r="1.03" fill-opacity="0.65"/><circle cx="191.1" cy="554.0" r="1.18" fill-opacity="0.87"/><circle cx="199.2" cy="556.0" r="1.27" fill-opacity="0.86"/><circle cx="201.8" cy="555.7" r="1.16" fill-opacity="0.76"/><circle cx="207.6" cy="556.0" r="1.12" fill-opacity="0.73"/><circle cx="213.3" cy="555.5" r="1.17" fill-opacity="0.87"/><circle cx="220.5" cy="553.4" r="1.21" fill-opacity="0.65"/><circle cx="226.8" cy="554.1" r="1.27" fill-opacity="0.67"/><circle cx="228.5" cy="554.9" r="0.99" fill-opacity="0.81"/><circle cx="235.1" cy="556.0" r="1.04" fill-opacity="0.70"/><circle cx="238.6" cy="556.8" r="0.99" fill-opacity="0.63"/><circle cx="247.4" cy="554.9" r="1.12" fill-opacity="0.64"/><circle cx="255.6" cy="553.7" r="1.31" fill-opacity="0.61"/><circle cx="183.5" cy="561.5" r="0.99" fill-opacity="0.82"/><circle cx="188.3" cy="562.3" r="1.27" fill-opacity="0.78"/><circle cx="193.0" cy="560.7" r="1.28" fill-opacity="0.79"/><circle cx="196.3" cy="561.7" r="1.09" fill-opacity="0.73"/><circle cx="203.9" cy="560.0" r="1.28" fill-opacity="0.78"/><circle cx="210.1" cy="560.2" r="1.16" fill-opacity="0.83"/><circle cx="215.3" cy="562.1" r="1.17" fill-opacity="0.77"/><circle cx="218.5" cy="560.2" r="1.15" fill-opacity="0.87"/><circle cx="231.2" cy="560.3" r="1.29" fill-opacity="0.65"/><circle cx="235.2" cy="560.7" r="0.97" fill-opacity="0.72"/><circle cx="241.7" cy="560.7" r="1.12" fill-opacity="0.61"/><circle cx="245.8" cy="561.4" r="1.19" fill-opacity="0.72"/><circle cx="249.8" cy="562.4" r="0.98" fill-opacity="0.89"/><circle cx="256.4" cy="562.3" r="1.15" fill-opacity="0.75"/><circle cx="188.3" cy="564.6" r="1.00" fill-opacity="0.73"/><circle cx="194.6" cy="565.6" r="0.96" fill-opacity="0.85"/><circle cx="199.3" cy="565.7" r="1.34" fill-opacity="0.64"/><circle cx="204.6" cy="563.7" r="1.18" fill-opacity="0.69"/><circle cx="210.9" cy="566.5" r="1.15" fill-opacity="0.78"/><circle cx="214.1" cy="564.1" r="1.24" fill-opacity="0.62"/><circle cx="218.2" cy="566.0" r="0.97" fill-opacity="0.61"/><circle cx="225.8" cy="567.4" r="1.22" fill-opacity="0.90"/><circle cx="230.7" cy="566.3" r="1.02" fill-opacity="0.64"/><circle cx="235.5" cy="567.0" r="1.23" fill-opacity="0.77"/><circle cx="246.1" cy="564.3" r="1.20" fill-opacity="0.67"/><circle cx="251.1" cy="566.8" r="0.99" fill-opacity="0.73"/><circle cx="257.4" cy="567.1" r="1.06" fill-opacity="0.82"/><circle cx="181.3" cy="570.1" r="1.17" fill-opacity="0.84"/><circle cx="185.6" cy="572.2" r="1.18" fill-opacity="0.73"/><circle cx="192.8" cy="571.9" r="1.06" fill-opacity="0.64"/><circle cx="198.1" cy="569.2" r="1.31" fill-opacity="0.63"/><circle cx="204.2" cy="571.7" r="1.31" fill-opacity="0.65"/><circle cx="210.6" cy="570.9" r="1.24" fill-opacity="0.74"/><circle cx="216.2" cy="570.4" r="1.24" fill-opacity="0.70"/><circle cx="220.7" cy="572.6" r="1.30" fill-opacity="0.78"/><circle cx="223.4" cy="571.4" r="0.98" fill-opacity="0.77"/><circle cx="229.2" cy="572.4" r="1.12" fill-opacity="0.66"/><circle cx="235.8" cy="570.6" r="0.97" fill-opacity="0.69"/><circle cx="240.6" cy="571.8" r="1.12" fill-opacity="0.62"/><circle cx="244.8" cy="569.4" r="1.20" fill-opacity="0.80"/><circle cx="254.6" cy="569.6" r="1.08" fill-opacity="0.84"/><circle cx="183.5" cy="576.1" r="1.31" fill-opacity="0.64"/><circle cx="185.8" cy="574.9" r="1.25" fill-opacity="0.83"/><circle cx="192.0" cy="577.9" r="1.16" fill-opacity="0.66"/><circle cx="201.8" cy="575.2" r="1.09" fill-opacity="0.87"/><circle cx="210.4" cy="576.9" r="0.95" fill-opacity="0.82"/><circle cx="216.1" cy="578.3" r="0.98" fill-opacity="0.82"/><circle cx="217.9" cy="577.9" r="1.13" fill-opacity="0.69"/><circle cx="223.0" cy="576.0" r="1.21" fill-opacity="0.86"/><circle cx="231.8" cy="574.7" r="1.03" fill-opacity="0.70"/><circle cx="233.7" cy="577.0" r="1.11" fill-opacity="0.66"/><circle cx="239.2" cy="577.1" r="1.34" fill-opacity="0.74"/><circle cx="245.6" cy="575.8" r="1.12" fill-opacity="0.65"/><circle cx="252.2" cy="576.3" r="0.98" fill-opacity="0.64"/><circle cx="256.0" cy="577.7" r="1.20" fill-opacity="0.79"/><circle cx="182.8" cy="581.3" r="1.16" fill-opacity="0.88"/><circle cx="194.8" cy="583.5" r="1.28" fill-opacity="0.86"/><circle cx="202.1" cy="583.1" r="1.11" fill-opacity="0.75"/><circle cx="207.7" cy="581.9" r="1.29" fill-opacity="0.73"/><circle cx="213.7" cy="580.3" r="1.06" fill-opacity="0.85"/><circle cx="219.0" cy="580.7" r="1.08" fill-opacity="0.86"/><circle cx="223.5" cy="580.9" r="0.98" fill-opacity="0.64"/><circle cx="230.8" cy="583.5" r="1.05" fill-opacity="0.69"/><circle cx="233.5" cy="579.9" r="1.18" fill-opacity="0.74"/><circle cx="240.4" cy="579.6" r="1.05" fill-opacity="0.65"/><circle cx="244.2" cy="583.0" r="0.96" fill-opacity="0.72"/><circle cx="250.1" cy="582.8" r="1.33" fill-opacity="0.89"/><circle cx="256.8" cy="581.4" r="0.98" fill-opacity="0.73"/><circle cx="182.0" cy="588.2" r="1.13" fill-opacity="0.69"/><circle cx="188.0" cy="585.9" r="1.31" fill-opacity="0.74"/><circle cx="192.9" cy="588.5" r="1.24" fill-opacity="0.73"/><circle cx="199.5" cy="588.4" r="1.19" fill-opacity="0.86"/><circle cx="203.3" cy="586.2" r="1.06" fill-opacity="0.65"/><circle cx="209.2" cy="585.2" r="1.03" fill-opacity="0.73"/><circle cx="215.8" cy="588.1" r="1.07" fill-opacity="0.73"/><circle cx="219.1" cy="587.6" r="0.97" fill-opacity="0.74"/><circle cx="226.6" cy="588.9" r="1.25" fill-opacity="0.70"/><circle cx="231.9" cy="585.2" r="1.12" fill-opacity="0.77"/><circle cx="234.4" cy="588.2" r="1.03" fill-opacity="0.77"/><circle cx="248.0" cy="584.8" r="0.99" fill-opacity="0.87"/><circle cx="251.4" cy="586.1" r="1.07" fill-opacity="0.82"/><circle cx="256.4" cy="587.8" r="0.99" fill-opacity="0.72"/></g>
<g stroke="#b9603f" stroke-linecap="round" fill="none" filter="url(#soft2)"><path d="M245.3 583.0L245.3 583.4" stroke-width="1.41" stroke-opacity="0.85"/><path d="M190.2 532.5L190.8 532.6" stroke-width="1.24" stroke-opacity="0.71"/><path d="M250.3 543.2L250.7 543.6" stroke-width="1.35" stroke-opacity="0.64"/><path d="M221.8 546.4L221.6 546.5" stroke-width="1.17" stroke-opacity="0.52"/><path d="M194.7 583.4L195.1 583.9" stroke-width="1.48" stroke-opacity="0.69"/><path d="M185.8 564.9L186.4 565.1" stroke-width="1.37" stroke-opacity="0.86"/><path d="M227.6 570.1L228.3 570.1" stroke-width="1.20" stroke-opacity="0.87"/><path d="M223.6 546.3L223.9 546.8" stroke-width="1.17" stroke-opacity="0.65"/><path d="M214.5 551.4L214.2 551.4" stroke-width="1.17" stroke-opacity="0.69"/><path d="M243.4 535.4L242.8 535.4" stroke-width="1.16" stroke-opacity="0.63"/><path d="M205.4 532.4L204.8 532.5" stroke-width="1.33" stroke-opacity="0.70"/><path d="M218.0 548.7L218.0 549.0" stroke-width="1.33" stroke-opacity="0.80"/><path d="M209.2 541.5L208.7 542.0" stroke-width="1.50" stroke-opacity="0.73"/><path d="M204.1 535.8L204.0 536.0" stroke-width="1.35" stroke-opacity="0.87"/><path d="M230.2 579.8L229.8 580.0" stroke-width="1.27" stroke-opacity="0.60"/><path d="M231.0 558.6L231.5 559.1" stroke-width="1.47" stroke-opacity="0.52"/><path d="M214.6 570.6L214.8 570.9" stroke-width="1.28" stroke-opacity="0.77"/></g>
<path d="M183 566 C186 570 185 576 189 582 S192 586 196 588" fill="none" stroke="#f6f6f6" stroke-width="1.6" filter="url(#soft)"/>
<path d="M198.4 561.4L206.3 559.0" stroke="#111" stroke-width="0.9"/><path d="M210.3 557.8L206.9 560.9L205.7 557.1Z" fill="#111"/>
<path d="M225.8 546.5L230.0 539.1" stroke="#111" stroke-width="0.9"/><path d="M232.1 535.4L231.8 540.0L228.3 538.1Z" fill="#111"/>
<path d="M182.8 585.7h9" stroke="#fff" stroke-width="0.8" opacity="0.6"/>
</g>
<g clip-path="url(#c13)">
<rect x="256.5" y="526.0" width="74.90" height="62.70" fill="#ddd5d0"/>
<rect x="256.5" y="526.0" width="74.90" height="62.70" fill="#fff" filter="url(#lnoise)" opacity="0.5"/>
<rect x="256.5" y="526.0" width="74.90" height="62.70" fill="#fff" filter="url(#lnoise2)" opacity="0.35"/>
<g fill="#8aa0c6" filter="url(#soft)"><circle cx="265.1" cy="530.5" r="1.06" fill-opacity="0.68"/><circle cx="270.4" cy="527.8" r="1.22" fill-opacity="0.72"/><circle cx="273.4" cy="527.5" r="1.31" fill-opacity="0.71"/><circle cx="281.6" cy="529.2" r="1.01" fill-opacity="0.77"/><circle cx="284.2" cy="529.3" r="1.00" fill-opacity="0.70"/><circle cx="298.3" cy="528.2" r="1.35" fill-opacity="0.73"/><circle cx="303.1" cy="529.4" r="0.99" fill-opacity="0.78"/><circle cx="305.5" cy="526.9" r="1.30" fill-opacity="0.75"/><circle cx="311.9" cy="527.5" r="1.27" fill-opacity="0.75"/><circle cx="321.0" cy="527.7" r="0.96" fill-opacity="0.82"/><circle cx="331.6" cy="528.6" r="1.22" fill-opacity="0.76"/><circle cx="259.1" cy="533.7" r="1.19" fill-opacity="0.63"/><circle cx="263.3" cy="535.5" r="1.33" fill-opacity="0.62"/><circle cx="270.6" cy="534.3" r="0.96" fill-opacity="0.81"/><circle cx="274.7" cy="533.3" r="1.18" fill-opacity="0.88"/><circle cx="279.5" cy="532.6" r="1.20" fill-opacity="0.74"/><circle cx="285.2" cy="532.0" r="1.07" fill-opacity="0.89"/><circle cx="290.0" cy="535.8" r="1.09" fill-opacity="0.68"/><circle cx="300.3" cy="532.8" r="1.30" fill-opacity="0.68"/><circle cx="307.3" cy="535.7" r="1.07" fill-opacity="0.83"/><circle cx="312.4" cy="534.4" r="1.33" fill-opacity="0.83"/><circle cx="318.9" cy="533.4" r="1.10" fill-opacity="0.89"/><circle cx="323.9" cy="533.2" r="1.32" fill-opacity="0.78"/><circle cx="329.9" cy="533.8" r="1.09" fill-opacity="0.68"/><circle cx="260.0" cy="537.7" r="1.05" fill-opacity="0.73"/><circle cx="263.9" cy="540.5" r="1.05" fill-opacity="0.71"/><circle cx="268.2" cy="538.1" r="1.01" fill-opacity="0.82"/><circle cx="275.8" cy="538.1" r="1.21" fill-opacity="0.80"/><circle cx="282.2" cy="539.9" r="1.17" fill-opacity="0.61"/><circle cx="284.7" cy="539.1" r="1.32" fill-opacity="0.86"/><circle cx="298.1" cy="539.4" r="0.99" fill-opacity="0.86"/><circle cx="303.6" cy="540.8" r="1.28" fill-opacity="0.88"/><circle cx="311.3" cy="537.7" r="1.10" fill-opacity="0.78"/><circle cx="324.0" cy="539.2" r="1.16" fill-opacity="0.69"/><circle cx="327.0" cy="540.0" r="1.21" fill-opacity="0.60"/><circle cx="332.2" cy="541.3" r="1.32" fill-opacity="0.87"/><circle cx="258.7" cy="544.3" r="1.09" fill-opacity="0.88"/><circle cx="271.7" cy="545.8" r="1.23" fill-opacity="0.89"/><circle cx="276.5" cy="544.3" r="1.31" fill-opacity="0.62"/><circle cx="280.7" cy="545.8" r="1.12" fill-opacity="0.80"/><circle cx="285.3" cy="543.3" r="0.96" fill-opacity="0.86"/><circle cx="290.5" cy="544.6" r="1.00" fill-opacity="0.67"/><circle cx="295.2" cy="546.1" r="1.05" fill-opacity="0.63"/><circle cx="301.8" cy="542.5" r="1.22" fill-opacity="0.81"/><circle cx="308.0" cy="544.2" r="1.04" fill-opacity="0.82"/><circle cx="313.0" cy="543.2" r="1.10" fill-opacity="0.81"/><circle cx="317.9" cy="544.4" r="1.25" fill-opacity="0.70"/><circle cx="324.1" cy="543.7" r="1.02" fill-opacity="0.79"/><circle cx="329.6" cy="543.6" r="1.31" fill-opacity="0.76"/><circle cx="333.4" cy="545.3" r="1.14" fill-opacity="0.79"/><circle cx="261.1" cy="548.5" r="1.27" fill-opacity="0.61"/><circle cx="262.6" cy="548.3" r="1.19" fill-opacity="0.87"/><circle cx="269.3" cy="549.7" r="1.19" fill-opacity="0.71"/><circle cx="276.5" cy="550.1" r="1.09" fill-opacity="0.85"/><circle cx="280.1" cy="547.8" r="1.07" fill-opacity="0.87"/><circle cx="284.4" cy="551.1" r="1.00" fill-opacity="0.85"/><circle cx="290.5" cy="550.3" r="0.99" fill-opacity="0.83"/><circle cx="297.4" cy="551.0" r="0.98" fill-opacity="0.85"/><circle cx="300.5" cy="550.2" r="1.03" fill-opacity="0.76"/><circle cx="306.3" cy="550.0" r="1.00" fill-opacity="0.86"/><circle cx="313.6" cy="548.1" r="1.25" fill-opacity="0.63"/><circle cx="316.3" cy="551.6" r="0.99" fill-opacity="0.74"/><circle cx="322.3" cy="548.0" r="1.22" fill-opacity="0.89"/><circle cx="329.7" cy="549.2" r="1.06" fill-opacity="0.74"/><circle cx="334.5" cy="550.4" r="0.97" fill-opacity="0.74"/><circle cx="268.7" cy="553.5" r="1.15" fill-opacity="0.83"/><circle cx="276.8" cy="554.8" r="1.02" fill-opacity="0.89"/><circle cx="279.7" cy="556.5" r="1.17" fill-opacity="0.89"/><circle cx="287.5" cy="553.7" r="1.33" fill-opacity="0.76"/><circle cx="290.1" cy="554.1" r="1.07" fill-opacity="0.65"/><circle cx="294.6" cy="554.1" r="1.20" fill-opacity="0.66"/><circle cx="300.5" cy="554.0" r="0.95" fill-opacity="0.82"/><circle cx="306.0" cy="556.8" r="1.17" fill-opacity="0.67"/><circle cx="311.0" cy="556.5" r="1.28" fill-opacity="0.60"/><circle cx="317.1" cy="555.2" r="1.33" fill-opacity="0.74"/><circle cx="320.8" cy="556.8" r="1.13" fill-opacity="0.81"/><circle cx="330.1" cy="557.0" r="1.32" fill-opacity="0.75"/><circle cx="332.5" cy="553.6" r="1.21" fill-opacity="0.61"/><circle cx="258.4" cy="560.1" r="1.07" fill-opacity="0.70"/><circle cx="265.7" cy="558.4" r="1.09" fill-opacity="0.67"/><circle cx="269.5" cy="560.2" r="1.32" fill-opacity="0.72"/><circle cx="274.6" cy="559.3" r="1.23" fill-opacity="0.69"/><circle cx="280.7" cy="561.6" r="1.25" fill-opacity="0.74"/><circle cx="287.5" cy="562.3" r="1.24" fill-opacity="0.74"/><circle cx="292.5" cy="560.3" r="1.25" fill-opacity="0.72"/><circle cx="294.2" cy="561.4" r="1.07" fill-opacity="0.75"/><circle cx="303.0" cy="562.3" r="1.22" fill-opacity="0.67"/><circle cx="305.0" cy="560.1" r="1.32" fill-opacity="0.85"/><circle cx="313.7" cy="559.1" r="0.97" fill-opacity="0.69"/><circle cx="315.5" cy="559.7" r="1.15" fill-opacity="0.66"/><circle cx="321.1" cy="558.7" r="1.35" fill-opacity="0.60"/><circle cx="327.7" cy="562.1" r="1.08" fill-opacity="0.77"/><circle cx="333.9" cy="561.9" r="0.96" fill-opacity="0.76"/><circle cx="262.4" cy="564.0" r="1.12" fill-opacity="0.79"/><circle cx="273.4" cy="565.0" r="0.97" fill-opacity="0.82"/><circle cx="281.5" cy="565.0" r="1.05" fill-opacity="0.89"/><circle cx="287.6" cy="565.4" r="1.30" fill-opacity="0.80"/><circle cx="291.0" cy="567.0" r="1.15" fill-opacity="0.68"/><circle cx="294.3" cy="566.5" r="1.08" fill-opacity="0.65"/><circle cx="301.7" cy="565.0" r="1.32" fill-opacity="0.88"/><circle cx="307.0" cy="563.6" r="1.09" fill-opacity="0.90"/><circle cx="314.2" cy="563.8" r="0.96" fill-opacity="0.62"/><circle cx="324.8" cy="566.9" r="1.19" fill-opacity="0.71"/><circle cx="326.5" cy="565.3" r="1.00" fill-opacity="0.84"/><circle cx="332.8" cy="567.2" r="1.07" fill-opacity="0.86"/><circle cx="259.7" cy="571.5" r="1.20" fill-opacity="0.87"/><circle cx="264.7" cy="573.0" r="1.05" fill-opacity="0.88"/><circle cx="270.3" cy="569.4" r="1.31" fill-opacity="0.71"/><circle cx="277.0" cy="569.3" r="1.21" fill-opacity="0.67"/><circle cx="279.1" cy="569.4" r="1.14" fill-opacity="0.74"/><circle cx="284.7" cy="570.2" r="1.07" fill-opacity="0.77"/><circle cx="291.2" cy="572.4" r="1.23" fill-opacity="0.68"/><circle cx="294.5" cy="570.9" r="1.25" fill-opacity="0.60"/><circle cx="303.3" cy="570.1" r="1.08" fill-opacity="0.80"/><circle cx="305.9" cy="571.5" r="1.16" fill-opacity="0.65"/><circle cx="312.1" cy="572.6" r="1.03" fill-opacity="0.81"/><circle cx="316.5" cy="570.7" r="1.28" fill-opacity="0.63"/><circle cx="322.7" cy="569.4" r="1.12" fill-opacity="0.65"/><circle cx="326.1" cy="571.3" r="1.27" fill-opacity="0.86"/><circle cx="332.3" cy="572.3" r="1.09" fill-opacity="0.81"/><circle cx="260.2" cy="575.9" r="1.33" fill-opacity="0.74"/><circle cx="263.1" cy="577.3" r="1.03" fill-opacity="0.72"/><circle cx="270.5" cy="576.7" r="1.06" fill-opacity="0.88"/><circle cx="278.8" cy="574.7" r="1.04" fill-opacity="0.88"/><circle cx="291.3" cy="577.8" r="1.29" fill-opacity="0.64"/><circle cx="294.7" cy="574.7" r="1.05" fill-opacity="0.81"/><circle cx="302.4" cy="575.1" r="1.14" fill-opacity="0.70"/><circle cx="307.1" cy="577.2" r="1.13" fill-opacity="0.63"/><circle cx="318.5" cy="575.1" r="1.14" fill-opacity="0.70"/><circle cx="322.2" cy="576.3" r="1.32" fill-opacity="0.83"/><circle cx="327.2" cy="575.2" r="1.09" fill-opacity="0.76"/><circle cx="331.5" cy="575.0" r="1.11" fill-opacity="0.77"/><circle cx="267.7" cy="583.0" r="1.22" fill-opacity="0.74"/><circle cx="275.0" cy="583.5" r="1.04" fill-opacity="0.62"/><circle cx="280.5" cy="582.4" r="1.00" fill-opacity="0.81"/><circle cx="287.5" cy="582.9" r="1.26" fill-opacity="0.61"/><circle cx="299.6" cy="580.1" r="0.97" fill-opacity="0.90"/><circle cx="305.8" cy="580.2" r="1.06" fill-opacity="0.63"/><circle cx="313.9" cy="583.0" r="0.98" fill-opacity="0.78"/><circle cx="317.0" cy="582.8" r="0.96" fill-opacity="0.76"/><circle cx="322.5" cy="580.0" r="1.34" fill-opacity="0.84"/><circle cx="329.0" cy="580.2" r="1.20" fill-opacity="0.81"/><circle cx="333.1" cy="583.0" r="1.11" fill-opacity="0.62"/><circle cx="257.7" cy="588.1" r="0.98" fill-opacity="0.89"/><circle cx="262.6" cy="588.8" r="1.35" fill-opacity="0.67"/><circle cx="268.6" cy="585.4" r="0.98" fill-opacity="0.87"/><circle cx="273.8" cy="585.6" r="1.06" fill-opacity="0.88"/><circle cx="279.0" cy="585.1" r="1.23" fill-opacity="0.63"/><circle cx="287.5" cy="586.0" r="1.14" fill-opacity="0.84"/><circle cx="290.2" cy="588.7" r="1.35" fill-opacity="0.67"/><circle cx="294.3" cy="588.3" r="1.09" fill-opacity="0.90"/><circle cx="306.4" cy="587.0" r="1.26" fill-opacity="0.64"/><circle cx="315.8" cy="588.8" r="1.16" fill-opacity="0.66"/><circle cx="321.7" cy="586.7" r="1.08" fill-opacity="0.79"/><circle cx="328.8" cy="588.7" r="1.25" fill-opacity="0.62"/><circle cx="334.7" cy="585.1" r="1.33" fill-opacity="0.63"/></g>
<g stroke="#b9603f" stroke-linecap="round" fill="none" filter="url(#soft2)"><path d="M264.6 526.2L264.4 526.9" stroke-width="1.11" stroke-opacity="0.69"/><path d="M292.5 588.2L293.0 588.5" stroke-width="1.10" stroke-opacity="0.66"/><path d="M323.3 540.0L323.3 540.6" stroke-width="1.28" stroke-opacity="0.67"/><path d="M275.3 566.4L275.8 566.6" stroke-width="1.42" stroke-opacity="0.83"/><path d="M317.9 545.8L317.9 546.5" stroke-width="1.33" stroke-opacity="0.58"/><path d="M297.5 557.9L297.1 558.1" stroke-width="1.33" stroke-opacity="0.72"/><path d="M282.3 554.5L282.1 554.6" stroke-width="1.40" stroke-opacity="0.52"/><path d="M295.1 561.7L295.4 561.9" stroke-width="1.32" stroke-opacity="0.54"/><path d="M296.7 544.5L296.4 545.0" stroke-width="1.30" stroke-opacity="0.89"/><path d="M258.1 567.5L257.7 567.6" stroke-width="1.17" stroke-opacity="0.65"/><path d="M316.0 554.4L315.6 555.0" stroke-width="1.31" stroke-opacity="0.56"/><path d="M321.0 568.5L321.3 568.8" stroke-width="1.29" stroke-opacity="0.55"/><path d="M261.6 586.2L261.2 586.8" stroke-width="1.29" stroke-opacity="0.77"/><path d="M291.6 541.6L291.9 542.0" stroke-width="1.32" stroke-opacity="0.65"/><path d="M300.4 566.7L300.0 566.8" stroke-width="1.15" stroke-opacity="0.80"/><path d="M311.1 577.2L311.2 577.8" stroke-width="1.26" stroke-opacity="0.73"/><path d="M329.8 532.6L329.6 533.3" stroke-width="1.15" stroke-opacity="0.62"/></g>
<ellipse cx="314.6" cy="576.3" rx="6.5" ry="5.5" fill="#eeeeef" stroke="#a5a9b0" stroke-width="0.8" filter="url(#soft)"/>
<path d="M262.5 542.3L271.0 539.7" stroke="#111" stroke-width="0.9"/><path d="M275.0 538.4L271.6 541.6L270.4 537.7Z" fill="#111"/>
<path d="M306.6 569.7L310.4 563.0" stroke="#111" stroke-width="0.9"/><path d="M312.5 559.3L312.2 563.9L308.7 562.0Z" fill="#111"/>
<path d="M259.5 585.7h9" stroke="#fff" stroke-width="0.8" opacity="0.6"/>
</g>
<g clip-path="url(#c14)">
<rect x="333.1" y="526.0" width="74.60" height="62.70" fill="#dccdc5"/>
<rect x="333.1" y="526.0" width="74.60" height="62.70" fill="#fff" filter="url(#lnoise)" opacity="0.5"/>
<rect x="333.1" y="526.0" width="74.60" height="62.70" fill="#fff" filter="url(#lnoise2)" opacity="0.35"/>
<g fill="#8aa0c6" filter="url(#soft)"><circle cx="333.7" cy="529.7" r="1.01" fill-opacity="0.90"/><circle cx="347.1" cy="530.2" r="1.35" fill-opacity="0.67"/><circle cx="352.5" cy="527.7" r="1.06" fill-opacity="0.67"/><circle cx="358.5" cy="529.9" r="1.04" fill-opacity="0.88"/><circle cx="361.1" cy="528.5" r="1.12" fill-opacity="0.62"/><circle cx="367.0" cy="528.9" r="1.32" fill-opacity="0.79"/><circle cx="374.4" cy="530.7" r="1.15" fill-opacity="0.88"/><circle cx="382.1" cy="530.5" r="1.23" fill-opacity="0.82"/><circle cx="388.7" cy="530.3" r="0.99" fill-opacity="0.63"/><circle cx="400.8" cy="528.9" r="1.11" fill-opacity="0.75"/><circle cx="406.6" cy="528.0" r="1.04" fill-opacity="0.69"/><circle cx="409.2" cy="530.4" r="1.08" fill-opacity="0.73"/><circle cx="342.3" cy="533.8" r="1.00" fill-opacity="0.75"/><circle cx="347.8" cy="535.8" r="1.25" fill-opacity="0.69"/><circle cx="358.8" cy="532.5" r="1.15" fill-opacity="0.74"/><circle cx="360.3" cy="532.1" r="1.29" fill-opacity="0.77"/><circle cx="368.7" cy="534.3" r="1.23" fill-opacity="0.68"/><circle cx="384.1" cy="533.4" r="1.09" fill-opacity="0.79"/><circle cx="389.2" cy="533.2" r="1.28" fill-opacity="0.84"/><circle cx="395.7" cy="531.9" r="1.22" fill-opacity="0.70"/><circle cx="399.4" cy="532.4" r="1.05" fill-opacity="0.90"/><circle cx="406.4" cy="534.7" r="1.08" fill-opacity="0.70"/><circle cx="410.8" cy="533.3" r="0.97" fill-opacity="0.65"/><circle cx="336.7" cy="537.6" r="1.28" fill-opacity="0.77"/><circle cx="342.7" cy="537.7" r="0.99" fill-opacity="0.70"/><circle cx="346.6" cy="539.2" r="1.31" fill-opacity="0.72"/><circle cx="349.5" cy="540.4" r="1.01" fill-opacity="0.80"/><circle cx="357.6" cy="539.6" r="1.17" fill-opacity="0.83"/><circle cx="361.1" cy="539.5" r="1.16" fill-opacity="0.63"/><circle cx="367.4" cy="537.8" r="1.23" fill-opacity="0.83"/><circle cx="374.4" cy="541.3" r="1.21" fill-opacity="0.72"/><circle cx="376.6" cy="538.3" r="1.35" fill-opacity="0.62"/><circle cx="384.3" cy="540.5" r="0.99" fill-opacity="0.79"/><circle cx="389.5" cy="540.5" r="1.24" fill-opacity="0.76"/><circle cx="392.9" cy="537.8" r="1.30" fill-opacity="0.62"/><circle cx="399.0" cy="540.8" r="1.10" fill-opacity="0.77"/><circle cx="404.6" cy="539.1" r="1.14" fill-opacity="0.78"/><circle cx="409.6" cy="541.1" r="1.34" fill-opacity="0.67"/><circle cx="333.7" cy="543.8" r="1.31" fill-opacity="0.65"/><circle cx="343.1" cy="545.0" r="1.13" fill-opacity="0.61"/><circle cx="346.2" cy="545.8" r="1.11" fill-opacity="0.84"/><circle cx="352.2" cy="545.6" r="1.02" fill-opacity="0.89"/><circle cx="356.9" cy="546.6" r="1.18" fill-opacity="0.76"/><circle cx="361.1" cy="545.7" r="1.15" fill-opacity="0.80"/><circle cx="368.3" cy="543.8" r="1.30" fill-opacity="0.73"/><circle cx="374.4" cy="546.3" r="1.00" fill-opacity="0.87"/><circle cx="377.2" cy="544.9" r="1.32" fill-opacity="0.65"/><circle cx="382.3" cy="543.1" r="1.33" fill-opacity="0.90"/><circle cx="390.0" cy="544.1" r="1.12" fill-opacity="0.78"/><circle cx="394.9" cy="544.4" r="1.20" fill-opacity="0.72"/><circle cx="400.9" cy="545.7" r="1.08" fill-opacity="0.71"/><circle cx="404.1" cy="545.2" r="0.99" fill-opacity="0.64"/><circle cx="410.7" cy="543.4" r="1.21" fill-opacity="0.62"/><circle cx="336.6" cy="548.8" r="1.05" fill-opacity="0.68"/><circle cx="339.7" cy="548.7" r="1.27" fill-opacity="0.88"/><circle cx="346.4" cy="550.5" r="1.33" fill-opacity="0.77"/><circle cx="352.8" cy="551.1" r="1.23" fill-opacity="0.79"/><circle cx="355.0" cy="551.0" r="1.04" fill-opacity="0.71"/><circle cx="362.3" cy="550.2" r="1.18" fill-opacity="0.69"/><circle cx="368.2" cy="551.7" r="1.10" fill-opacity="0.60"/><circle cx="374.5" cy="551.3" r="1.20" fill-opacity="0.73"/><circle cx="383.2" cy="548.2" r="1.20" fill-opacity="0.61"/><circle cx="389.2" cy="551.1" r="1.09" fill-opacity="0.66"/><circle cx="395.4" cy="548.1" r="1.01" fill-opacity="0.70"/><circle cx="401.0" cy="551.8" r="0.97" fill-opacity="0.75"/><circle cx="405.0" cy="551.1" r="1.14" fill-opacity="0.81"/><circle cx="410.0" cy="549.4" r="1.05" fill-opacity="0.82"/><circle cx="337.7" cy="556.9" r="1.29" fill-opacity="0.80"/><circle cx="339.4" cy="556.4" r="1.02" fill-opacity="0.88"/><circle cx="345.4" cy="556.9" r="1.25" fill-opacity="0.84"/><circle cx="355.5" cy="557.0" r="1.05" fill-opacity="0.73"/><circle cx="361.8" cy="555.7" r="1.20" fill-opacity="0.71"/><circle cx="368.3" cy="556.2" r="1.24" fill-opacity="0.79"/><circle cx="374.6" cy="557.0" r="0.99" fill-opacity="0.71"/><circle cx="376.6" cy="555.5" r="1.12" fill-opacity="0.64"/><circle cx="384.3" cy="553.6" r="1.21" fill-opacity="0.80"/><circle cx="390.9" cy="556.8" r="1.10" fill-opacity="0.62"/><circle cx="392.6" cy="556.6" r="1.10" fill-opacity="0.77"/><circle cx="399.2" cy="557.3" r="1.21" fill-opacity="0.78"/><circle cx="403.5" cy="555.9" r="1.13" fill-opacity="0.77"/><circle cx="410.7" cy="556.6" r="1.10" fill-opacity="0.62"/><circle cx="337.5" cy="559.3" r="1.00" fill-opacity="0.62"/><circle cx="339.8" cy="558.7" r="1.09" fill-opacity="0.61"/><circle cx="347.1" cy="560.1" r="1.24" fill-opacity="0.61"/><circle cx="352.3" cy="561.5" r="1.01" fill-opacity="0.89"/><circle cx="356.9" cy="559.7" r="1.16" fill-opacity="0.81"/><circle cx="362.4" cy="562.4" r="1.23" fill-opacity="0.72"/><circle cx="368.8" cy="558.4" r="1.15" fill-opacity="0.69"/><circle cx="372.3" cy="561.9" r="1.19" fill-opacity="0.67"/><circle cx="382.9" cy="560.6" r="1.15" fill-opacity="0.73"/><circle cx="387.9" cy="562.4" r="1.04" fill-opacity="0.71"/><circle cx="395.5" cy="560.0" r="1.20" fill-opacity="0.68"/><circle cx="402.8" cy="561.6" r="0.96" fill-opacity="0.69"/><circle cx="411.6" cy="561.7" r="1.07" fill-opacity="0.60"/><circle cx="336.8" cy="567.6" r="1.00" fill-opacity="0.80"/><circle cx="342.7" cy="567.2" r="1.26" fill-opacity="0.85"/><circle cx="352.1" cy="567.4" r="1.01" fill-opacity="0.75"/><circle cx="358.9" cy="566.2" r="1.31" fill-opacity="0.61"/><circle cx="369.1" cy="566.7" r="1.12" fill-opacity="0.87"/><circle cx="371.3" cy="567.6" r="1.25" fill-opacity="0.90"/><circle cx="378.2" cy="567.4" r="1.00" fill-opacity="0.60"/><circle cx="385.4" cy="564.0" r="1.25" fill-opacity="0.76"/><circle cx="387.5" cy="566.7" r="1.11" fill-opacity="0.86"/><circle cx="400.8" cy="564.6" r="1.06" fill-opacity="0.77"/><circle cx="405.3" cy="567.5" r="1.08" fill-opacity="0.65"/><circle cx="408.1" cy="567.2" r="1.12" fill-opacity="0.84"/><circle cx="337.7" cy="571.7" r="1.19" fill-opacity="0.62"/><circle cx="339.9" cy="571.9" r="1.08" fill-opacity="0.67"/><circle cx="345.3" cy="569.5" r="1.06" fill-opacity="0.76"/><circle cx="352.8" cy="570.5" r="1.32" fill-opacity="0.71"/><circle cx="357.1" cy="571.5" r="1.15" fill-opacity="0.80"/><circle cx="361.0" cy="570.4" r="1.13" fill-opacity="0.68"/><circle cx="365.7" cy="570.7" r="1.13" fill-opacity="0.78"/><circle cx="373.5" cy="570.9" r="1.32" fill-opacity="0.64"/><circle cx="379.3" cy="572.9" r="1.27" fill-opacity="0.87"/><circle cx="382.3" cy="570.0" r="1.20" fill-opacity="0.80"/><circle cx="387.4" cy="572.6" r="1.08" fill-opacity="0.67"/><circle cx="395.2" cy="571.8" r="1.27" fill-opacity="0.79"/><circle cx="398.9" cy="569.7" r="1.32" fill-opacity="0.63"/><circle cx="403.9" cy="572.1" r="1.31" fill-opacity="0.84"/><circle cx="334.6" cy="575.4" r="1.34" fill-opacity="0.85"/><circle cx="342.5" cy="575.3" r="1.20" fill-opacity="0.84"/><circle cx="350.1" cy="574.8" r="1.31" fill-opacity="0.61"/><circle cx="358.4" cy="574.3" r="1.13" fill-opacity="0.85"/><circle cx="363.6" cy="574.5" r="0.97" fill-opacity="0.82"/><circle cx="367.5" cy="577.1" r="1.27" fill-opacity="0.68"/><circle cx="372.0" cy="577.9" r="0.98" fill-opacity="0.61"/><circle cx="379.2" cy="576.9" r="0.98" fill-opacity="0.88"/><circle cx="385.2" cy="577.2" r="0.95" fill-opacity="0.73"/><circle cx="387.6" cy="576.3" r="1.29" fill-opacity="0.79"/><circle cx="393.4" cy="574.6" r="1.27" fill-opacity="0.86"/><circle cx="398.2" cy="576.9" r="1.05" fill-opacity="0.72"/><circle cx="405.6" cy="577.4" r="0.99" fill-opacity="0.72"/><circle cx="409.1" cy="574.5" r="1.05" fill-opacity="0.73"/><circle cx="337.8" cy="580.4" r="1.18" fill-opacity="0.66"/><circle cx="340.1" cy="581.3" r="1.29" fill-opacity="0.69"/><circle cx="347.5" cy="581.2" r="1.30" fill-opacity="0.68"/><circle cx="357.5" cy="582.4" r="0.96" fill-opacity="0.60"/><circle cx="364.0" cy="581.6" r="1.26" fill-opacity="0.65"/><circle cx="367.4" cy="583.6" r="1.00" fill-opacity="0.76"/><circle cx="370.8" cy="583.0" r="1.03" fill-opacity="0.85"/><circle cx="376.2" cy="580.4" r="1.12" fill-opacity="0.62"/><circle cx="383.1" cy="580.1" r="1.04" fill-opacity="0.80"/><circle cx="388.9" cy="580.4" r="1.06" fill-opacity="0.67"/><circle cx="392.5" cy="579.6" r="1.33" fill-opacity="0.89"/><circle cx="403.8" cy="581.8" r="1.16" fill-opacity="0.62"/><circle cx="409.6" cy="581.9" r="1.17" fill-opacity="0.71"/><circle cx="334.1" cy="587.8" r="1.19" fill-opacity="0.66"/><circle cx="341.1" cy="586.9" r="1.04" fill-opacity="0.75"/><circle cx="348.4" cy="588.5" r="1.26" fill-opacity="0.71"/><circle cx="350.9" cy="587.4" r="1.27" fill-opacity="0.84"/><circle cx="358.1" cy="588.1" r="1.13" fill-opacity="0.67"/><circle cx="362.3" cy="586.9" r="1.15" fill-opacity="0.60"/><circle cx="367.0" cy="586.2" r="1.29" fill-opacity="0.72"/><circle cx="371.2" cy="587.1" r="0.97" fill-opacity="0.75"/><circle cx="377.2" cy="587.6" r="1.25" fill-opacity="0.72"/><circle cx="384.3" cy="588.5" r="1.33" fill-opacity="0.90"/><circle cx="388.2" cy="588.0" r="1.27" fill-opacity="0.73"/><circle cx="392.5" cy="588.0" r="1.23" fill-opacity="0.67"/><circle cx="400.1" cy="585.2" r="1.07" fill-opacity="0.87"/><circle cx="404.2" cy="586.7" r="1.06" fill-opacity="0.82"/><circle cx="410.5" cy="585.8" r="1.32" fill-opacity="0.68"/></g>
<g stroke="#b9603f" stroke-linecap="round" fill="none" filter="url(#soft2)"><path d="M386.1 586.2L383.7 589.2" stroke-width="1.22" stroke-opacity="0.49"/><path d="M366.9 541.9L366.6 543.7" stroke-width="1.38" stroke-opacity="0.53"/><path d="M395.5 541.6L396.6 544.6" stroke-width="1.69" stroke-opacity="0.42"/><path d="M357.3 530.0L358.6 531.3" stroke-width="1.59" stroke-opacity="0.41"/><path d="M394.0 525.8L396.0 526.7" stroke-width="1.29" stroke-opacity="0.43"/><path d="M384.0 542.5L387.0 543.7" stroke-width="1.27" stroke-opacity="0.60"/><path d="M391.8 534.3L391.5 536.8" stroke-width="1.50" stroke-opacity="0.33"/><path d="M381.5 551.1L379.0 553.4" stroke-width="1.47" stroke-opacity="0.32"/><path d="M405.6 534.3L405.9 536.0" stroke-width="1.49" stroke-opacity="0.52"/><path d="M346.2 555.8L346.6 558.0" stroke-width="1.47" stroke-opacity="0.63"/><path d="M406.6 583.9L408.3 584.7" stroke-width="1.45" stroke-opacity="0.34"/><path d="M375.9 527.8L373.4 530.2" stroke-width="1.55" stroke-opacity="0.64"/><path d="M397.8 546.0L393.7 547.0" stroke-width="1.31" stroke-opacity="0.62"/><path d="M388.7 575.4L390.1 576.6" stroke-width="1.60" stroke-opacity="0.37"/><path d="M338.1 575.8L341.2 577.3" stroke-width="1.42" stroke-opacity="0.31"/><path d="M392.9 567.0L394.9 567.2" stroke-width="1.66" stroke-opacity="0.49"/><path d="M406.0 546.3L407.7 548.2" stroke-width="1.65" stroke-opacity="0.63"/><path d="M399.6 541.8L399.3 543.1" stroke-width="1.24" stroke-opacity="0.36"/><path d="M352.0 578.4L354.2 579.0" stroke-width="1.24" stroke-opacity="0.47"/><path d="M333.0 583.8L334.4 584.4" stroke-width="1.26" stroke-opacity="0.39"/><path d="M364.5 567.3L366.5 568.5" stroke-width="1.47" stroke-opacity="0.32"/><path d="M351.4 564.4L354.3 566.3" stroke-width="1.68" stroke-opacity="0.46"/><path d="M359.4 547.8L359.6 551.7" stroke-width="1.54" stroke-opacity="0.47"/><path d="M389.7 570.1L385.8 570.6" stroke-width="1.45" stroke-opacity="0.56"/><path d="M402.5 535.2L398.6 536.5" stroke-width="1.48" stroke-opacity="0.61"/><path d="M395.5 574.8L397.9 577.3" stroke-width="1.70" stroke-opacity="0.50"/><path d="M377.1 562.5L374.5 565.2" stroke-width="1.51" stroke-opacity="0.45"/><path d="M370.6 539.4L367.3 541.9" stroke-width="1.53" stroke-opacity="0.51"/><path d="M374.8 554.3L374.3 555.6" stroke-width="1.51" stroke-opacity="0.40"/><path d="M402.1 569.6L398.9 570.6" stroke-width="1.25" stroke-opacity="0.53"/><path d="M372.9 567.4L372.7 569.5" stroke-width="1.55" stroke-opacity="0.39"/><path d="M391.1 557.5L389.8 560.3" stroke-width="1.29" stroke-opacity="0.50"/></g>
<ellipse cx="336.0" cy="543.0" rx="5.0" ry="12.0" fill="#eef0f2" opacity="0.85" filter="url(#soft2)"/>
<path d="M336.1 585.7h9" stroke="#fff" stroke-width="0.8" opacity="0.6"/>
</g>
<g clip-path="url(#c15)">
<rect x="409.2" y="526.0" width="74.80" height="62.70" fill="#ddd2cc"/>
<rect x="409.2" y="526.0" width="74.80" height="62.70" fill="#fff" filter="url(#lnoise)" opacity="0.5"/>
<rect x="409.2" y="526.0" width="74.80" height="62.70" fill="#fff" filter="url(#lnoise2)" opacity="0.35"/>
<g fill="#8aa0c6" filter="url(#soft)"><circle cx="411.8" cy="528.3" r="1.13" fill-opacity="0.72"/><circle cx="416.1" cy="529.2" r="0.95" fill-opacity="0.69"/><circle cx="420.9" cy="529.7" r="1.07" fill-opacity="0.84"/><circle cx="426.7" cy="530.3" r="1.27" fill-opacity="0.80"/><circle cx="438.9" cy="527.8" r="1.04" fill-opacity="0.69"/><circle cx="444.9" cy="528.0" r="1.12" fill-opacity="0.79"/><circle cx="448.1" cy="526.7" r="1.34" fill-opacity="0.85"/><circle cx="454.3" cy="527.5" r="1.01" fill-opacity="0.69"/><circle cx="457.7" cy="529.5" r="1.24" fill-opacity="0.60"/><circle cx="464.8" cy="530.4" r="1.14" fill-opacity="0.84"/><circle cx="470.6" cy="528.6" r="0.96" fill-opacity="0.64"/><circle cx="475.1" cy="528.1" r="1.17" fill-opacity="0.80"/><circle cx="480.0" cy="528.7" r="1.33" fill-opacity="0.83"/><circle cx="487.4" cy="527.5" r="0.99" fill-opacity="0.63"/><circle cx="409.8" cy="534.5" r="1.32" fill-opacity="0.63"/><circle cx="419.0" cy="535.1" r="1.01" fill-opacity="0.79"/><circle cx="421.1" cy="531.9" r="1.16" fill-opacity="0.88"/><circle cx="432.6" cy="532.0" r="1.14" fill-opacity="0.82"/><circle cx="436.4" cy="532.0" r="1.03" fill-opacity="0.80"/><circle cx="443.7" cy="532.3" r="1.04" fill-opacity="0.72"/><circle cx="461.0" cy="532.8" r="1.30" fill-opacity="0.86"/><circle cx="463.7" cy="532.6" r="1.22" fill-opacity="0.85"/><circle cx="468.9" cy="533.6" r="0.96" fill-opacity="0.69"/><circle cx="473.9" cy="532.2" r="1.35" fill-opacity="0.69"/><circle cx="480.9" cy="533.8" r="1.19" fill-opacity="0.75"/><circle cx="484.3" cy="534.5" r="1.22" fill-opacity="0.82"/><circle cx="411.7" cy="540.5" r="1.24" fill-opacity="0.62"/><circle cx="415.8" cy="540.1" r="1.11" fill-opacity="0.72"/><circle cx="422.3" cy="540.2" r="1.20" fill-opacity="0.67"/><circle cx="428.3" cy="537.4" r="1.31" fill-opacity="0.61"/><circle cx="431.6" cy="541.2" r="1.23" fill-opacity="0.67"/><circle cx="439.8" cy="540.8" r="1.22" fill-opacity="0.79"/><circle cx="445.4" cy="539.3" r="1.20" fill-opacity="0.84"/><circle cx="447.8" cy="539.6" r="1.09" fill-opacity="0.81"/><circle cx="456.0" cy="537.6" r="0.96" fill-opacity="0.88"/><circle cx="461.7" cy="540.6" r="1.33" fill-opacity="0.65"/><circle cx="465.3" cy="540.3" r="1.00" fill-opacity="0.88"/><circle cx="468.9" cy="539.0" r="1.02" fill-opacity="0.63"/><circle cx="486.8" cy="540.4" r="1.26" fill-opacity="0.73"/><circle cx="410.2" cy="546.1" r="1.11" fill-opacity="0.64"/><circle cx="415.9" cy="545.6" r="1.10" fill-opacity="0.61"/><circle cx="420.7" cy="546.5" r="1.11" fill-opacity="0.84"/><circle cx="427.4" cy="545.5" r="1.17" fill-opacity="0.61"/><circle cx="432.4" cy="545.2" r="1.12" fill-opacity="0.89"/><circle cx="436.5" cy="542.6" r="1.11" fill-opacity="0.85"/><circle cx="445.5" cy="543.0" r="1.34" fill-opacity="0.65"/><circle cx="447.7" cy="544.9" r="1.20" fill-opacity="0.89"/><circle cx="455.7" cy="542.6" r="1.31" fill-opacity="0.76"/><circle cx="461.5" cy="543.8" r="1.20" fill-opacity="0.78"/><circle cx="463.4" cy="544.3" r="1.06" fill-opacity="0.78"/><circle cx="468.4" cy="545.4" r="1.32" fill-opacity="0.79"/><circle cx="474.6" cy="546.5" r="1.13" fill-opacity="0.82"/><circle cx="487.7" cy="543.5" r="1.07" fill-opacity="0.80"/><circle cx="413.1" cy="547.8" r="1.00" fill-opacity="0.87"/><circle cx="419.1" cy="549.6" r="1.28" fill-opacity="0.67"/><circle cx="422.3" cy="547.7" r="1.03" fill-opacity="0.62"/><circle cx="429.7" cy="551.8" r="1.32" fill-opacity="0.72"/><circle cx="434.1" cy="551.3" r="1.34" fill-opacity="0.85"/><circle cx="437.6" cy="548.4" r="1.12" fill-opacity="0.69"/><circle cx="442.2" cy="548.6" r="1.24" fill-opacity="0.61"/><circle cx="469.2" cy="548.2" r="1.15" fill-opacity="0.71"/><circle cx="485.7" cy="548.2" r="1.12" fill-opacity="0.75"/><circle cx="412.3" cy="554.3" r="1.04" fill-opacity="0.65"/><circle cx="419.1" cy="557.1" r="1.01" fill-opacity="0.79"/><circle cx="424.3" cy="556.2" r="1.20" fill-opacity="0.63"/><circle cx="429.6" cy="556.9" r="1.30" fill-opacity="0.70"/><circle cx="434.3" cy="554.7" r="1.08" fill-opacity="0.74"/><circle cx="436.3" cy="553.1" r="1.35" fill-opacity="0.72"/><circle cx="444.0" cy="555.3" r="1.23" fill-opacity="0.76"/><circle cx="459.0" cy="557.2" r="1.15" fill-opacity="0.64"/><circle cx="464.1" cy="554.8" r="1.20" fill-opacity="0.82"/><circle cx="469.8" cy="553.1" r="1.32" fill-opacity="0.86"/><circle cx="474.2" cy="555.7" r="1.12" fill-opacity="0.65"/><circle cx="482.3" cy="555.6" r="1.19" fill-opacity="0.64"/><circle cx="487.7" cy="553.9" r="1.04" fill-opacity="0.88"/><circle cx="411.7" cy="562.2" r="1.24" fill-opacity="0.69"/><circle cx="416.1" cy="558.5" r="1.16" fill-opacity="0.64"/><circle cx="423.8" cy="558.8" r="0.98" fill-opacity="0.62"/><circle cx="426.7" cy="559.5" r="1.16" fill-opacity="0.82"/><circle cx="431.2" cy="559.8" r="0.96" fill-opacity="0.71"/><circle cx="437.7" cy="560.1" r="1.07" fill-opacity="0.89"/><circle cx="445.3" cy="560.9" r="1.31" fill-opacity="0.79"/><circle cx="456.2" cy="560.7" r="1.25" fill-opacity="0.77"/><circle cx="458.3" cy="559.0" r="1.04" fill-opacity="0.82"/><circle cx="465.0" cy="559.2" r="1.12" fill-opacity="0.69"/><circle cx="476.7" cy="561.7" r="1.10" fill-opacity="0.85"/><circle cx="479.6" cy="562.4" r="1.27" fill-opacity="0.62"/><circle cx="415.7" cy="564.3" r="0.96" fill-opacity="0.73"/><circle cx="422.7" cy="564.4" r="1.23" fill-opacity="0.79"/><circle cx="429.7" cy="566.1" r="1.17" fill-opacity="0.67"/><circle cx="434.0" cy="565.1" r="0.99" fill-opacity="0.73"/><circle cx="436.8" cy="564.7" r="1.32" fill-opacity="0.84"/><circle cx="444.7" cy="566.4" r="1.03" fill-opacity="0.76"/><circle cx="454.4" cy="564.1" r="1.16" fill-opacity="0.67"/><circle cx="461.6" cy="567.0" r="0.98" fill-opacity="0.78"/><circle cx="466.6" cy="564.8" r="0.99" fill-opacity="0.71"/><circle cx="471.6" cy="567.4" r="1.19" fill-opacity="0.83"/><circle cx="474.5" cy="565.5" r="1.22" fill-opacity="0.70"/><circle cx="480.6" cy="564.7" r="1.15" fill-opacity="0.86"/><circle cx="485.3" cy="565.8" r="1.33" fill-opacity="0.84"/><circle cx="410.8" cy="571.5" r="1.22" fill-opacity="0.69"/><circle cx="415.7" cy="572.8" r="1.22" fill-opacity="0.79"/><circle cx="423.6" cy="570.4" r="1.19" fill-opacity="0.64"/><circle cx="427.2" cy="571.2" r="1.28" fill-opacity="0.69"/><circle cx="434.3" cy="570.2" r="1.31" fill-opacity="0.88"/><circle cx="438.6" cy="572.9" r="1.21" fill-opacity="0.79"/><circle cx="443.4" cy="572.4" r="0.95" fill-opacity="0.81"/><circle cx="448.0" cy="572.5" r="1.10" fill-opacity="0.75"/><circle cx="453.4" cy="573.0" r="1.08" fill-opacity="0.78"/><circle cx="464.7" cy="571.0" r="1.33" fill-opacity="0.73"/><circle cx="473.4" cy="569.1" r="1.30" fill-opacity="0.84"/><circle cx="481.3" cy="570.5" r="1.18" fill-opacity="0.69"/><circle cx="487.2" cy="570.5" r="1.06" fill-opacity="0.70"/><circle cx="413.6" cy="577.8" r="1.07" fill-opacity="0.63"/><circle cx="418.2" cy="575.5" r="1.25" fill-opacity="0.71"/><circle cx="423.8" cy="577.3" r="1.11" fill-opacity="0.81"/><circle cx="428.9" cy="577.0" r="1.18" fill-opacity="0.69"/><circle cx="432.0" cy="578.3" r="1.17" fill-opacity="0.83"/><circle cx="447.6" cy="575.8" r="1.19" fill-opacity="0.83"/><circle cx="458.0" cy="577.4" r="1.29" fill-opacity="0.81"/><circle cx="464.2" cy="577.3" r="1.29" fill-opacity="0.63"/><circle cx="471.7" cy="577.5" r="1.04" fill-opacity="0.65"/><circle cx="482.2" cy="576.6" r="1.02" fill-opacity="0.65"/><circle cx="410.3" cy="580.0" r="1.17" fill-opacity="0.65"/><circle cx="428.5" cy="579.6" r="1.33" fill-opacity="0.86"/><circle cx="436.2" cy="580.4" r="1.00" fill-opacity="0.77"/><circle cx="442.5" cy="582.0" r="1.26" fill-opacity="0.62"/><circle cx="450.1" cy="579.6" r="1.07" fill-opacity="0.68"/><circle cx="452.2" cy="579.5" r="1.19" fill-opacity="0.82"/><circle cx="463.6" cy="583.0" r="1.21" fill-opacity="0.79"/><circle cx="470.0" cy="583.7" r="1.15" fill-opacity="0.80"/><circle cx="474.5" cy="580.8" r="1.34" fill-opacity="0.81"/><circle cx="480.9" cy="580.9" r="1.22" fill-opacity="0.80"/><circle cx="486.3" cy="580.1" r="1.16" fill-opacity="0.63"/><circle cx="411.5" cy="586.4" r="1.05" fill-opacity="0.65"/><circle cx="417.8" cy="585.5" r="1.14" fill-opacity="0.89"/><circle cx="423.5" cy="587.0" r="1.18" fill-opacity="0.74"/><circle cx="427.5" cy="585.1" r="1.30" fill-opacity="0.67"/><circle cx="434.7" cy="586.0" r="1.05" fill-opacity="0.86"/><circle cx="438.3" cy="585.3" r="1.15" fill-opacity="0.88"/><circle cx="444.3" cy="588.6" r="1.17" fill-opacity="0.70"/><circle cx="448.0" cy="588.3" r="1.04" fill-opacity="0.83"/><circle cx="453.1" cy="588.7" r="1.33" fill-opacity="0.64"/><circle cx="461.2" cy="585.4" r="1.24" fill-opacity="0.69"/><circle cx="464.0" cy="585.0" r="1.15" fill-opacity="0.87"/><circle cx="471.0" cy="585.3" r="1.31" fill-opacity="0.61"/><circle cx="474.4" cy="587.5" r="1.16" fill-opacity="0.80"/><circle cx="482.3" cy="585.6" r="1.04" fill-opacity="0.77"/><circle cx="485.8" cy="588.7" r="1.05" fill-opacity="0.86"/></g>
<g stroke="#b9603f" stroke-linecap="round" fill="none" filter="url(#soft2)"><path d="M448.3 569.8L446.0 573.3" stroke-width="1.65" stroke-opacity="0.58"/><path d="M436.8 571.1L433.9 572.1" stroke-width="1.49" stroke-opacity="0.34"/><path d="M470.9 584.7L468.5 585.5" stroke-width="1.37" stroke-opacity="0.51"/><path d="M438.5 547.5L436.0 549.4" stroke-width="1.70" stroke-opacity="0.52"/><path d="M441.6 529.0L444.0 532.1" stroke-width="1.44" stroke-opacity="0.53"/><path d="M469.2 535.3L472.0 535.9" stroke-width="1.66" stroke-opacity="0.56"/><path d="M473.5 584.6L472.9 588.6" stroke-width="1.32" stroke-opacity="0.30"/><path d="M459.1 534.4L456.5 535.1" stroke-width="1.23" stroke-opacity="0.33"/><path d="M456.0 542.3L454.3 544.6" stroke-width="1.27" stroke-opacity="0.43"/><path d="M431.7 529.8L432.7 533.7" stroke-width="1.25" stroke-opacity="0.51"/><path d="M449.2 571.3L449.6 573.2" stroke-width="1.42" stroke-opacity="0.41"/><path d="M455.7 550.9L456.9 554.2" stroke-width="1.54" stroke-opacity="0.54"/><path d="M429.8 560.8L432.4 562.5" stroke-width="1.45" stroke-opacity="0.65"/><path d="M449.9 586.9L447.9 587.4" stroke-width="1.57" stroke-opacity="0.55"/><path d="M438.1 543.4L437.9 546.8" stroke-width="1.57" stroke-opacity="0.51"/><path d="M415.5 554.8L415.5 557.0" stroke-width="1.57" stroke-opacity="0.64"/><path d="M470.7 548.6L471.0 551.1" stroke-width="1.53" stroke-opacity="0.36"/><path d="M413.7 546.2L412.9 549.9" stroke-width="1.69" stroke-opacity="0.39"/><path d="M448.8 527.6L447.2 528.2" stroke-width="1.53" stroke-opacity="0.34"/><path d="M478.4 542.9L477.2 543.3" stroke-width="1.24" stroke-opacity="0.33"/><path d="M457.2 586.3L455.8 589.1" stroke-width="1.59" stroke-opacity="0.45"/><path d="M479.0 534.8L479.8 535.9" stroke-width="1.22" stroke-opacity="0.43"/><path d="M432.9 551.5L430.3 552.6" stroke-width="1.43" stroke-opacity="0.41"/><path d="M424.3 574.5L421.1 575.3" stroke-width="1.21" stroke-opacity="0.44"/><path d="M448.1 530.0L445.6 532.5" stroke-width="1.28" stroke-opacity="0.49"/><path d="M408.7 587.6L410.2 587.8" stroke-width="1.21" stroke-opacity="0.39"/><path d="M457.3 551.9L458.5 554.3" stroke-width="1.49" stroke-opacity="0.33"/><path d="M481.6 581.1L478.9 581.8" stroke-width="1.45" stroke-opacity="0.59"/><path d="M412.8 550.5L410.5 554.0" stroke-width="1.58" stroke-opacity="0.53"/><path d="M412.4 569.6L414.6 571.3" stroke-width="1.23" stroke-opacity="0.35"/><path d="M436.2 538.4L435.3 541.4" stroke-width="1.55" stroke-opacity="0.58"/><path d="M455.3 556.6L452.6 558.5" stroke-width="1.56" stroke-opacity="0.33"/></g>
<path d="M412.2 585.7h9" stroke="#fff" stroke-width="0.8" opacity="0.6"/>
</g>
<g clip-path="url(#c20)">
<rect x="26.0" y="592.4" width="75.10" height="62.20" fill="#8b99b4"/>
<rect x="26.0" y="592.4" width="75.10" height="62.20" fill="#fff" filter="url(#sb0)" opacity="0.7"/>
<g filter="url(#sr0)">
<path d="M14.7,583.1 L112.4,583.1 L112.4,663.9 L14.7,663.9Z M14.7,583.1 L37.3,583.1 L38.8,611.1 L35.0,626.6 L14.7,629.7Z M52.3,617.3 L63.5,614.8 L69.6,623.5 L63.5,633.5 L53.0,629.7Z M112.4,611.1 L90.6,614.8 L89.1,626.6 L112.4,631.0Z M72.6,663.9 L78.6,647.1 L89.8,642.2 L112.4,640.9 L112.4,663.9Z " fill="#000" fill-rule="evenodd"/>
</g>
<path d="M29.0 651.6h11" stroke="#fff" stroke-width="0.8" opacity="0.7"/>
</g>
<g clip-path="url(#c21)">
<rect x="102.8" y="592.4" width="74.50" height="62.20" fill="#8b99b4"/>
<rect x="102.8" y="592.4" width="74.50" height="62.20" fill="#fff" filter="url(#sb1)" opacity="0.7"/>
<g filter="url(#sr1)">
<path d="M91.6,599.9 L121.4,595.5 L125.2,583.1 L149.0,583.1 L151.2,611.1 L147.5,623.5 L147.5,635.9 L158.7,637.2 L188.5,633.5 L188.5,663.9 L149.0,663.9 L143.8,645.3 L132.6,648.4 L125.2,663.9 L119.2,663.9 L121.4,629.7 L117.7,621.0 L91.6,620.4Z M125.2,608.0 L134.1,606.1 L136.3,614.2 L127.4,617.3Z " fill="#000" fill-rule="evenodd"/>
</g>
<path d="M105.8 651.6h11" stroke="#fff" stroke-width="0.8" opacity="0.7"/>
</g>
<g clip-path="url(#c22)">
<rect x="179.8" y="592.4" width="74.60" height="62.20" fill="#8b99b4"/>
<rect x="179.8" y="592.4" width="74.60" height="62.20" fill="#fff" filter="url(#sb2)" opacity="0.7"/>
<g filter="url(#sr2)">
<path d="M168.6,583.1 L202.2,583.1 L205.9,601.7 L217.1,595.5 L224.6,583.1 L226.1,599.9 L217.1,611.1 L232.0,614.2 L265.6,614.2 L265.6,632.8 L239.5,634.7 L220.8,634.7 L209.6,631.0 L198.5,642.2 L188.8,663.9 L168.6,663.9 L168.6,648.4 L191.0,629.7 L168.6,623.5Z M192.5,606.1 L202.2,604.8 L205.9,617.3 L196.2,620.4Z " fill="#000" fill-rule="evenodd"/>
</g>
<path d="M182.8 651.6h11" stroke="#fff" stroke-width="0.8" opacity="0.7"/>
</g>
<g clip-path="url(#c23)">
<rect x="256.5" y="592.4" width="74.90" height="62.20" fill="#8b99b4"/>
<rect x="256.5" y="592.4" width="74.90" height="62.20" fill="#fff" filter="url(#sb3)" opacity="0.7"/>
<g filter="url(#sr3)">
<path d="M271.5,583.1 L322.4,583.1 L342.6,604.8 L342.6,620.4 L316.4,628.5 L297.7,634.7 L290.2,645.3 L290.2,663.9 L271.5,663.9 L275.2,642.2 L275.2,623.5 L270.0,614.2 L271.5,601.7Z M286.5,617.3 L293.9,616.0 L295.4,623.5 L288.0,624.7Z " fill="#000" fill-rule="evenodd"/>
</g>
<path d="M259.5 651.6h11" stroke="#fff" stroke-width="0.8" opacity="0.7"/>
</g>
<g clip-path="url(#c24)">
<rect x="333.1" y="592.4" width="74.60" height="62.20" fill="#8b99b4"/>
<rect x="333.1" y="592.4" width="74.60" height="62.20" fill="#fff" filter="url(#sb4)" opacity="0.7"/>
<g filter="url(#sr4)">
<path d="M344.3,583.1 L418.9,583.1 L418.9,620.4 L389.1,624.7 L376.4,632.8 L370.4,663.9 L351.8,663.9 L355.5,629.7 L349.5,620.4 L351.8,608.0 L344.3,598.6Z M361.4,614.2 L370.4,612.9 L371.9,620.4 L362.9,622.3Z " fill="#000" fill-rule="evenodd"/>
</g>
<path d="M336.1 651.6h11" stroke="#fff" stroke-width="0.8" opacity="0.7"/>
</g>
<g clip-path="url(#c25)">
<rect x="409.2" y="592.4" width="74.80" height="62.20" fill="#8b99b4"/>
<rect x="409.2" y="592.4" width="74.80" height="62.20" fill="#fff" filter="url(#sb5)" opacity="0.7"/>
<g filter="url(#sr5)">
<path d="M398.0,583.1 L440.6,583.1 L452.6,601.7 L465.3,609.8 L495.2,608.0 L495.2,620.4 L461.6,623.5 L446.6,631.0 L440.6,642.2 L433.1,663.9 L398.0,663.9Z M425.7,626.6 L434.6,624.7 L436.1,632.8 L427.2,634.7Z " fill="#000" fill-rule="evenodd"/>
</g>
<path d="M412.2 651.6h11" stroke="#fff" stroke-width="0.8" opacity="0.7"/>
</g>
<rect x="26" y="590.0" width="458" height="1.6" fill="#555"/>
<rect x="102.6" y="446.2" width="382.8" height="1.4" fill="#666"/>
<text x="285.36" y="444.60" font-size="7.6" fill="#111" stroke="#111" stroke-width="0.25" textLength="17.26" lengthAdjust="spacingAndGlyphs">+LPS</text>
<text x="56.23" y="456.70" font-size="7.6" fill="#111" stroke="#111" stroke-width="0.1" textLength="11.55" lengthAdjust="spacingAndGlyphs">ctrl</text>
<text x="136.14" y="456.70" font-size="7.6" fill="#111" stroke="#111" stroke-width="0.3" textLength="10.03" lengthAdjust="spacingAndGlyphs">2 h</text>
<text x="211.32" y="456.70" font-size="7.6" fill="#111" stroke="#111" stroke-width="0.3" textLength="10.67" lengthAdjust="spacingAndGlyphs">4 h</text>
<text x="286.57" y="456.70" font-size="7.6" fill="#111" stroke="#111" stroke-width="0.3" textLength="10.52" lengthAdjust="spacingAndGlyphs">8 h</text>
<text x="362.93" y="456.70" font-size="7.6" fill="#111" stroke="#111" stroke-width="0.3" textLength="14.45" lengthAdjust="spacingAndGlyphs">18 h</text>
<text x="438.82" y="456.70" font-size="7.6" fill="#111" stroke="#111" stroke-width="0.3" textLength="14.67" lengthAdjust="spacingAndGlyphs">24 h</text>
<text x="486.20" y="500.90" font-size="7.6" fill="#111" stroke="#111" stroke-width="0.12" textLength="12.78" lengthAdjust="spacingAndGlyphs">20x</text>
<text x="486.42" y="565.80" font-size="7.6" fill="#111" stroke="#111" stroke-width="0.12" textLength="12.56" lengthAdjust="spacingAndGlyphs">40x</text>
<text x="486.20" y="631.70" font-size="7.6" fill="#111" stroke="#111" stroke-width="0.12" textLength="12.78" lengthAdjust="spacingAndGlyphs">20x</text>
<text transform="translate(21.20,533.56) rotate(-90)" font-size="7.6" fill="#111" stroke="#111" stroke-width="0.1" textLength="15.30" lengthAdjust="spacingAndGlyphs">liver</text>
<text transform="translate(20.70,635.01) rotate(-90)" font-size="7.6" fill="#111" stroke="#111" stroke-width="0.1" textLength="22.51" lengthAdjust="spacingAndGlyphs">spleen</text>
<text x="236.79" y="664.80" font-size="7.6" fill="#111" stroke="#111" stroke-width="0.12" textLength="36.64" lengthAdjust="spacingAndGlyphs">ferroportin</text>
<text x="8.74" y="441.10" font-size="12.8" fill="#000" stroke="#000" stroke-width="0" textLength="5.12" lengthAdjust="spacingAndGlyphs">J</text>
<rect x="0" y="0" width="520" height="1" fill="#000"/>
<rect x="0" y="0" width="1.1" height="674" fill="#000"/>
<rect x="519" y="0" width="1" height="674" fill="#000"/>
<rect x="0" y="672.4" width="520" height="1.6" fill="#2a2a2a"/>
</svg></body></html>
